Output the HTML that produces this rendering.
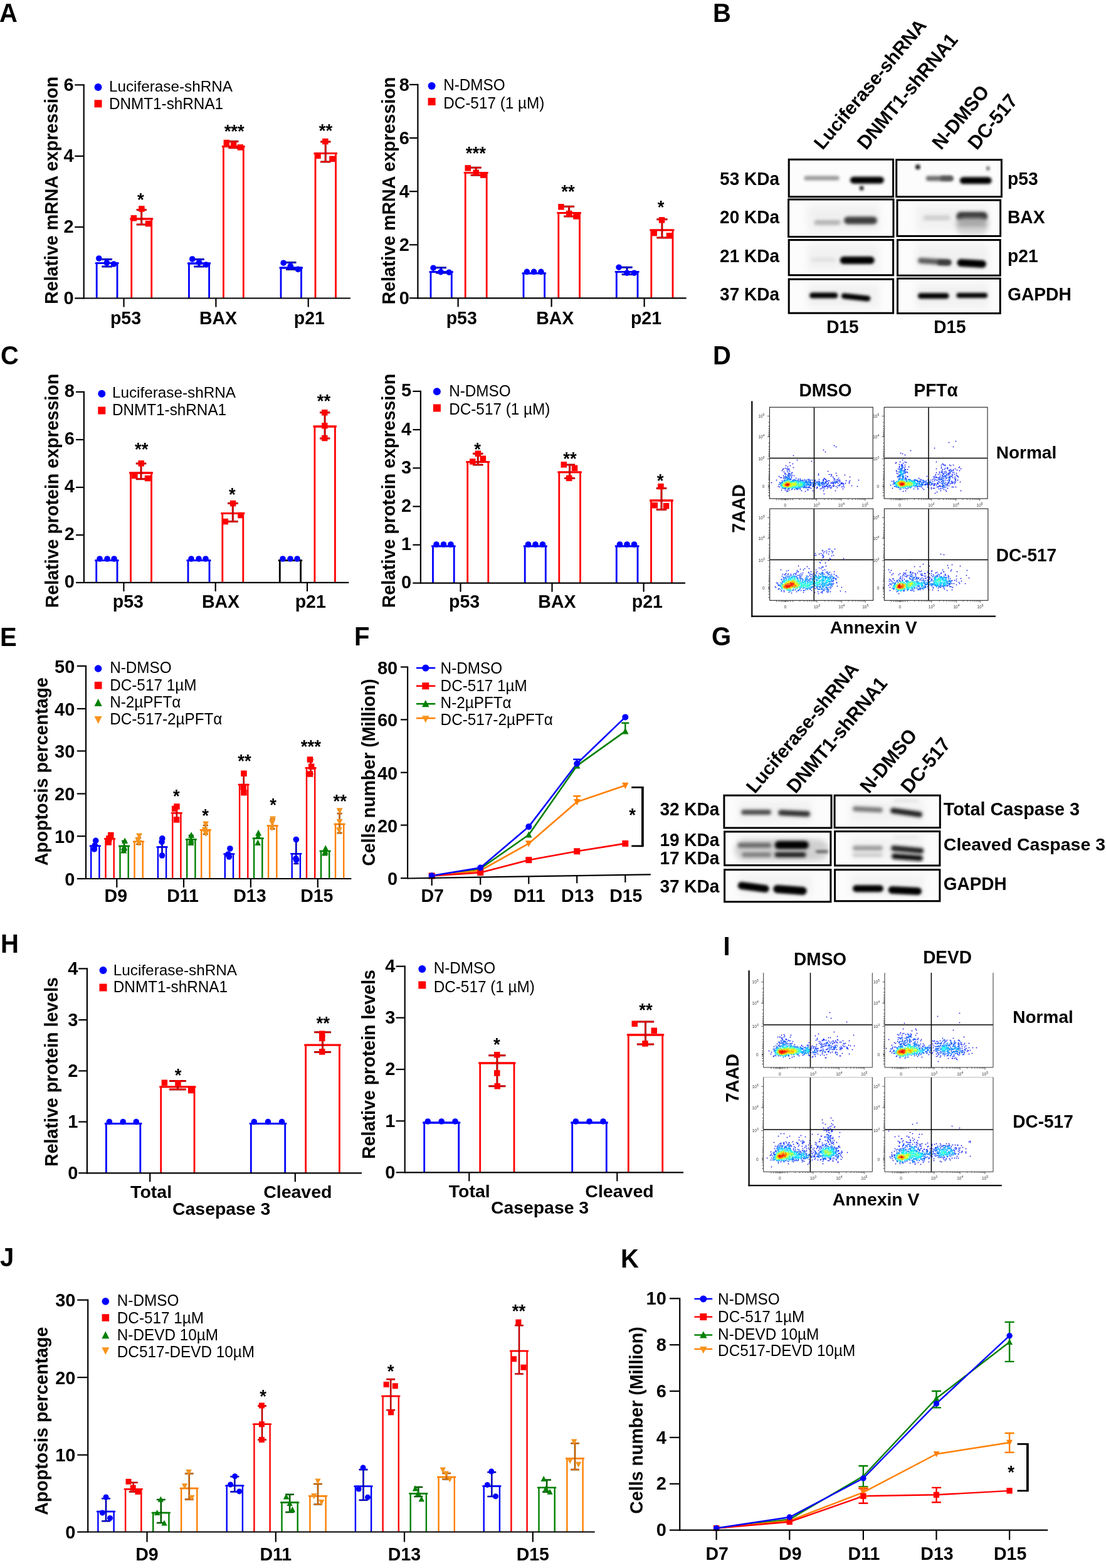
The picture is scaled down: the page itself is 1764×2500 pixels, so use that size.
<!DOCTYPE html>
<html><head><meta charset="utf-8"><title>Figure</title>
<style>html,body{margin:0;padding:0;background:#fff;}svg{display:block;}
text{font-family:'Liberation Sans',Arial,Helvetica,sans-serif;}</style></head><body>
<svg width="1764" height="2500" viewBox="0 0 1764 2500">
<rect width="1764" height="2500" fill="#fff"/>
<text font-size="40" font-weight="bold" transform="translate(-1 34.8) scale(1 1.04)">A</text>
<path d="M154.2 475.5V419.7H187V475.5" stroke="#0000ff" stroke-width="2.8" fill="none" stroke-linejoin="miter"/>
<path d="M151.7 419.7H189.5" stroke="#0000ff" stroke-width="2.8"/>
<path d="M209.7 475.5V349H241.7V475.5" stroke="#ff0000" stroke-width="2.8" fill="none" stroke-linejoin="miter"/>
<path d="M207.2 349H244.2" stroke="#ff0000" stroke-width="2.8"/>
<path d="M301.4 475.5V420H333.6V475.5" stroke="#0000ff" stroke-width="2.8" fill="none" stroke-linejoin="miter"/>
<path d="M298.9 420H336.1" stroke="#0000ff" stroke-width="2.8"/>
<path d="M356.4 475.5V233.6H388.3V475.5" stroke="#ff0000" stroke-width="2.8" fill="none" stroke-linejoin="miter"/>
<path d="M353.9 233.6H390.8" stroke="#ff0000" stroke-width="2.8"/>
<path d="M448 475.5V427H480.5V475.5" stroke="#0000ff" stroke-width="2.8" fill="none" stroke-linejoin="miter"/>
<path d="M445.5 427H483" stroke="#0000ff" stroke-width="2.8"/>
<path d="M503 475.5V244.7H535.5V475.5" stroke="#ff0000" stroke-width="2.8" fill="none" stroke-linejoin="miter"/>
<path d="M500.5 244.7H538" stroke="#ff0000" stroke-width="2.8"/>
<path d="M170.6 413.5V425M162.4 413.5H178.8M162.4 425H178.8" stroke="#00007a" stroke-width="3" fill="none"/>
<path d="M170.6 413.5V425M162.4 413.5H178.8M162.4 425H178.8" stroke="#0000ff" stroke-width="1.3" fill="none"/>
<circle cx="157.8" cy="412" r="4.8" fill="#0000ff"/>
<circle cx="170.3" cy="419" r="4.8" fill="#0000ff"/>
<circle cx="181.4" cy="421" r="4.8" fill="#0000ff"/>
<path d="M225.7 334.4V358M217.7 334.4H233.7M217.7 358H233.7" stroke="#8a0000" stroke-width="3" fill="none"/>
<path d="M225.7 334.4V358M217.7 334.4H233.7M217.7 358H233.7" stroke="#ff0000" stroke-width="1.3" fill="none"/>
<rect x="208.6" y="343.1" width="9.5" height="9.5" fill="#ff0000"/>
<rect x="221.1" y="328.2" width="9.5" height="9.5" fill="#ff0000"/>
<rect x="231.7" y="351.9" width="9.5" height="9.5" fill="#ff0000"/>
<path d="M317.5 413.5V425M309.4 413.5H325.6M309.4 425H325.6" stroke="#00007a" stroke-width="3" fill="none"/>
<path d="M317.5 413.5V425M309.4 413.5H325.6M309.4 425H325.6" stroke="#0000ff" stroke-width="1.3" fill="none"/>
<circle cx="306.7" cy="413" r="4.8" fill="#0000ff"/>
<circle cx="317.5" cy="418.3" r="4.8" fill="#0000ff"/>
<circle cx="328.6" cy="422" r="4.8" fill="#0000ff"/>
<path d="M372.4 225.6V235.8M364.4 225.6H380.3M364.4 235.8H380.3" stroke="#8a0000" stroke-width="3" fill="none"/>
<path d="M372.4 225.6V235.8M364.4 225.6H380.3M364.4 235.8H380.3" stroke="#ff0000" stroke-width="1.3" fill="none"/>
<rect x="356.6" y="222.8" width="9.5" height="9.5" fill="#ff0000"/>
<rect x="367.8" y="226.9" width="9.5" height="9.5" fill="#ff0000"/>
<rect x="378.6" y="230.2" width="9.5" height="9.5" fill="#ff0000"/>
<path d="M464.2 418.6V429.4M456.1 418.6H472.4M456.1 429.4H472.4" stroke="#00007a" stroke-width="3" fill="none"/>
<path d="M464.2 418.6V429.4M456.1 418.6H472.4M456.1 429.4H472.4" stroke="#0000ff" stroke-width="1.3" fill="none"/>
<circle cx="452.2" cy="419.2" r="4.8" fill="#0000ff"/>
<circle cx="463.3" cy="424.2" r="4.8" fill="#0000ff"/>
<circle cx="475.3" cy="429.4" r="4.8" fill="#0000ff"/>
<path d="M519.2 226.1V258M511.1 226.1H527.4M511.1 258H527.4" stroke="#8a0000" stroke-width="3" fill="none"/>
<path d="M519.2 226.1V258M511.1 226.1H527.4M511.1 258H527.4" stroke="#ff0000" stroke-width="1.3" fill="none"/>
<rect x="502.2" y="243.6" width="9.5" height="9.5" fill="#ff0000"/>
<rect x="514.1" y="220.8" width="9.5" height="9.5" fill="#ff0000"/>
<rect x="525.2" y="248.6" width="9.5" height="9.5" fill="#ff0000"/>
<line x1="133.7" y1="134.3" x2="133.7" y2="476.6" stroke="#000" stroke-width="2.2"/>
<line x1="119.2" y1="135.4" x2="133.7" y2="135.4" stroke="#000" stroke-width="2.2"/>
<text font-size="29" font-weight="bold" text-anchor="end" transform="translate(117.7 144.8) scale(1 1.04)">6</text>
<line x1="119.2" y1="248.9" x2="133.7" y2="248.9" stroke="#000" stroke-width="2.2"/>
<text font-size="29" font-weight="bold" text-anchor="end" transform="translate(117.7 258.3) scale(1 1.04)">4</text>
<line x1="119.2" y1="362" x2="133.7" y2="362" stroke="#000" stroke-width="2.2"/>
<text font-size="29" font-weight="bold" text-anchor="end" transform="translate(117.7 371.4) scale(1 1.04)">2</text>
<line x1="119.2" y1="475.5" x2="133.7" y2="475.5" stroke="#000" stroke-width="2.2"/>
<text font-size="29" font-weight="bold" text-anchor="end" transform="translate(117.7 484.9) scale(1 1.04)">0</text>
<line x1="133.7" y1="475.5" x2="559" y2="475.5" stroke="#000" stroke-width="2.2"/>
<line x1="197.5" y1="475.5" x2="197.5" y2="489.5" stroke="#000" stroke-width="2.2"/>
<line x1="344.4" y1="475.5" x2="344.4" y2="489.5" stroke="#000" stroke-width="2.2"/>
<line x1="491.7" y1="475.5" x2="491.7" y2="489.5" stroke="#000" stroke-width="2.2"/>
<text font-size="28.5" font-weight="bold" text-anchor="middle" transform="translate(200.5 516.8) scale(1 1.04)">p53</text>
<text font-size="28.5" font-weight="bold" text-anchor="middle" transform="translate(348 516.8) scale(1 1.04)">BAX</text>
<text font-size="28.5" font-weight="bold" text-anchor="middle" transform="translate(493.4 516.8) scale(1 1.04)">p21</text>
<text font-size="27.5" font-weight="bold" text-anchor="middle" transform="translate(224.4 328.1) scale(1 1.04)">*</text>
<text font-size="27.5" font-weight="bold" text-anchor="middle" transform="translate(373.7 218.8) scale(1 1.04)">***</text>
<text font-size="27.5" font-weight="bold" text-anchor="middle" transform="translate(519.5 218.1) scale(1 1.04)">**</text>
<circle cx="156.5" cy="139" r="6" fill="#0000ff"/>
<text font-size="24.3" transform="translate(173.9 145.7)">Luciferase-shRNA</text>
<rect x="150.5" y="159.3" width="12" height="12" fill="#ff0000"/>
<text font-size="24.3" transform="translate(173.9 173.9) scale(1 1.04)">DNMT1-shRNA1</text>
<text font-size="28.6" font-weight="bold" text-anchor="middle" transform="translate(91.5 303.5) rotate(-90)">Relative mRNA expression</text>
<path d="M687 475.3V433.6H720.3V475.3" stroke="#0000ff" stroke-width="2.8" fill="none" stroke-linejoin="miter"/>
<path d="M684.5 433.6H722.8" stroke="#0000ff" stroke-width="2.8"/>
<path d="M742.2 475.3V275.3H776.2V475.3" stroke="#ff0000" stroke-width="2.8" fill="none" stroke-linejoin="miter"/>
<path d="M739.7 275.3H778.7" stroke="#ff0000" stroke-width="2.8"/>
<path d="M835 475.3V435.8H868.6V475.3" stroke="#0000ff" stroke-width="2.8" fill="none" stroke-linejoin="miter"/>
<path d="M832.5 435.8H871.1" stroke="#0000ff" stroke-width="2.8"/>
<path d="M890.8 475.3V339.5H924.5V475.3" stroke="#ff0000" stroke-width="2.8" fill="none" stroke-linejoin="miter"/>
<path d="M888.3 339.5H927" stroke="#ff0000" stroke-width="2.8"/>
<path d="M983.3 475.3V433.3H1017V475.3" stroke="#0000ff" stroke-width="2.8" fill="none" stroke-linejoin="miter"/>
<path d="M980.8 433.3H1019.5" stroke="#0000ff" stroke-width="2.8"/>
<path d="M1038.8 475.3V366.8H1073V475.3" stroke="#ff0000" stroke-width="2.8" fill="none" stroke-linejoin="miter"/>
<path d="M1036.3 366.8H1075.5" stroke="#ff0000" stroke-width="2.8"/>
<path d="M703.6 426.8V434.9M695.3 426.8H712M695.3 434.9H712" stroke="#00007a" stroke-width="3" fill="none"/>
<path d="M703.6 426.8V434.9M695.3 426.8H712M695.3 434.9H712" stroke="#0000ff" stroke-width="1.3" fill="none"/>
<circle cx="691.1" cy="427.2" r="4.8" fill="#0000ff"/>
<circle cx="703" cy="433.6" r="4.8" fill="#0000ff"/>
<circle cx="716.2" cy="434.2" r="4.8" fill="#0000ff"/>
<path d="M759.2 267.3V279.2M750.7 267.3H767.7M750.7 279.2H767.7" stroke="#8a0000" stroke-width="3" fill="none"/>
<path d="M759.2 267.3V279.2M750.7 267.3H767.7M750.7 279.2H767.7" stroke="#ff0000" stroke-width="1.3" fill="none"/>
<rect x="741.5" y="263.2" width="9.5" height="9.5" fill="#ff0000"/>
<rect x="754.5" y="270.6" width="9.5" height="9.5" fill="#ff0000"/>
<rect x="766" y="274.4" width="9.5" height="9.5" fill="#ff0000"/>
<circle cx="840.4" cy="433.3" r="4.8" fill="#0000ff"/>
<circle cx="851.6" cy="433.3" r="4.8" fill="#0000ff"/>
<circle cx="862.9" cy="433.3" r="4.8" fill="#0000ff"/>
<path d="M907.6 329.3V345M899.2 329.3H916.1M899.2 345H916.1" stroke="#8a0000" stroke-width="3" fill="none"/>
<path d="M907.6 329.3V345M899.2 329.3H916.1M899.2 345H916.1" stroke="#ff0000" stroke-width="1.3" fill="none"/>
<rect x="890.2" y="325.1" width="9.5" height="9.5" fill="#ff0000"/>
<rect x="903" y="335.8" width="9.5" height="9.5" fill="#ff0000"/>
<rect x="914.2" y="340.2" width="9.5" height="9.5" fill="#ff0000"/>
<path d="M1000.1 426.2V437.4M991.7 426.2H1008.6M991.7 437.4H1008.6" stroke="#00007a" stroke-width="3" fill="none"/>
<path d="M1000.1 426.2V437.4M991.7 426.2H1008.6M991.7 437.4H1008.6" stroke="#0000ff" stroke-width="1.3" fill="none"/>
<circle cx="987.1" cy="426.2" r="4.8" fill="#0000ff"/>
<circle cx="999.9" cy="435.2" r="4.8" fill="#0000ff"/>
<circle cx="1011.5" cy="435.2" r="4.8" fill="#0000ff"/>
<path d="M1055.9 349.8V379M1047.4 349.8H1064.5M1047.4 379H1064.5" stroke="#8a0000" stroke-width="3" fill="none"/>
<path d="M1055.9 349.8V379M1047.4 349.8H1064.5M1047.4 379H1064.5" stroke="#ff0000" stroke-width="1.3" fill="none"/>
<rect x="1038.5" y="366.9" width="9.5" height="9.5" fill="#ff0000"/>
<rect x="1050.8" y="346.1" width="9.5" height="9.5" fill="#ff0000"/>
<rect x="1062.7" y="371.1" width="9.5" height="9.5" fill="#ff0000"/>
<line x1="666.4" y1="133.8" x2="666.4" y2="476.4" stroke="#000" stroke-width="2.2"/>
<line x1="653" y1="134.9" x2="666.4" y2="134.9" stroke="#000" stroke-width="2.2"/>
<text font-size="29" font-weight="bold" text-anchor="end" transform="translate(653 144.6) scale(1 1.04)">8</text>
<line x1="653" y1="220" x2="666.4" y2="220" stroke="#000" stroke-width="2.2"/>
<text font-size="29" font-weight="bold" text-anchor="end" transform="translate(653 229.7) scale(1 1.04)">6</text>
<line x1="653" y1="305.2" x2="666.4" y2="305.2" stroke="#000" stroke-width="2.2"/>
<text font-size="29" font-weight="bold" text-anchor="end" transform="translate(653 314.9) scale(1 1.04)">4</text>
<line x1="653" y1="390.3" x2="666.4" y2="390.3" stroke="#000" stroke-width="2.2"/>
<text font-size="29" font-weight="bold" text-anchor="end" transform="translate(653 400) scale(1 1.04)">2</text>
<line x1="653" y1="475.3" x2="666.4" y2="475.3" stroke="#000" stroke-width="2.2"/>
<text font-size="29" font-weight="bold" text-anchor="end" transform="translate(653 485) scale(1 1.04)">0</text>
<line x1="666.4" y1="475.3" x2="1094.6" y2="475.3" stroke="#000" stroke-width="2.2"/>
<line x1="730.6" y1="475.3" x2="730.6" y2="489.3" stroke="#000" stroke-width="2.2"/>
<line x1="879.6" y1="475.3" x2="879.6" y2="489.3" stroke="#000" stroke-width="2.2"/>
<line x1="1027.6" y1="475.3" x2="1027.6" y2="489.3" stroke="#000" stroke-width="2.2"/>
<text font-size="28.5" font-weight="bold" text-anchor="middle" transform="translate(736.2 516.8) scale(1 1.04)">p53</text>
<text font-size="28.5" font-weight="bold" text-anchor="middle" transform="translate(885.3 516.8) scale(1 1.04)">BAX</text>
<text font-size="28.5" font-weight="bold" text-anchor="middle" transform="translate(1030.5 516.8) scale(1 1.04)">p21</text>
<text font-size="27.5" font-weight="bold" text-anchor="middle" transform="translate(758.8 253.7) scale(1 1.04)">***</text>
<text font-size="27.5" font-weight="bold" text-anchor="middle" transform="translate(906 314.7) scale(1 1.04)">**</text>
<text font-size="27.5" font-weight="bold" text-anchor="middle" transform="translate(1054 340.1) scale(1 1.04)">*</text>
<circle cx="688.6" cy="137" r="6" fill="#0000ff"/>
<text font-size="24.3" transform="translate(707.2 143.9) scale(1 1.04)">N-DMSO</text>
<rect x="682.6" y="156" width="12" height="12" fill="#ff0000"/>
<text font-size="24.3" transform="translate(707.2 173) scale(1 1.04)">DC-517 (1 µM)</text>
<text font-size="28.6" font-weight="bold" text-anchor="middle" transform="translate(629.7 304.2) rotate(-90)">Relative mRNA expression</text>
<text font-size="40" font-weight="bold" transform="translate(1 580.5) scale(1 1.04)">C</text>
<path d="M153.7 928.9V893.7H187V928.9" stroke="#0000ff" stroke-width="2.8" fill="none" stroke-linejoin="miter"/>
<path d="M151.2 893.7H189.5" stroke="#0000ff" stroke-width="2.8"/>
<path d="M208.5 928.9V754H241.5V928.9" stroke="#ff0000" stroke-width="2.8" fill="none" stroke-linejoin="miter"/>
<path d="M206 754H244" stroke="#ff0000" stroke-width="2.8"/>
<path d="M300 928.9V893.7H334V928.9" stroke="#0000ff" stroke-width="2.8" fill="none" stroke-linejoin="miter"/>
<path d="M297.5 893.7H336.5" stroke="#0000ff" stroke-width="2.8"/>
<path d="M354.8 928.9V818.5H387.8V928.9" stroke="#ff0000" stroke-width="2.8" fill="none" stroke-linejoin="miter"/>
<path d="M352.3 818.5H390.3" stroke="#ff0000" stroke-width="2.8"/>
<path d="M446.3 928.9V893.7H479.6V928.9" stroke="#000000" stroke-width="2.8" fill="none" stroke-linejoin="miter"/>
<path d="M443.8 893.7H482.1" stroke="#000000" stroke-width="2.8"/>
<path d="M501.9 928.9V680H534.4V928.9" stroke="#ff0000" stroke-width="2.8" fill="none" stroke-linejoin="miter"/>
<path d="M499.4 680H536.9" stroke="#ff0000" stroke-width="2.8"/>
<circle cx="159" cy="891" r="4.8" fill="#0000ff"/>
<circle cx="171" cy="891" r="4.8" fill="#0000ff"/>
<circle cx="182" cy="891" r="4.8" fill="#0000ff"/>
<path d="M225 738.9V763.7M216.8 738.9H233.2M216.8 763.7H233.2" stroke="#8a0000" stroke-width="3" fill="none"/>
<path d="M225 738.9V763.7M216.8 738.9H233.2M216.8 763.7H233.2" stroke="#ff0000" stroke-width="1.3" fill="none"/>
<rect x="210.1" y="753.8" width="9.5" height="9.5" fill="#ff0000"/>
<rect x="220.4" y="734.1" width="9.5" height="9.5" fill="#ff0000"/>
<rect x="230.8" y="757.9" width="9.5" height="9.5" fill="#ff0000"/>
<circle cx="305" cy="891" r="4.8" fill="#0000ff"/>
<circle cx="317" cy="891" r="4.8" fill="#0000ff"/>
<circle cx="328" cy="891" r="4.8" fill="#0000ff"/>
<path d="M371.3 802.6V831.5M363.1 802.6H379.6M363.1 831.5H379.6" stroke="#8a0000" stroke-width="3" fill="none"/>
<path d="M371.3 802.6V831.5M363.1 802.6H379.6M363.1 831.5H379.6" stroke="#ff0000" stroke-width="1.3" fill="none"/>
<rect x="354.6" y="826.8" width="9.5" height="9.5" fill="#ff0000"/>
<rect x="366.8" y="797.9" width="9.5" height="9.5" fill="#ff0000"/>
<rect x="379.2" y="816.8" width="9.5" height="9.5" fill="#ff0000"/>
<circle cx="451" cy="891" r="4.8" fill="#0000ff"/>
<circle cx="463" cy="891" r="4.8" fill="#0000ff"/>
<circle cx="474" cy="891" r="4.8" fill="#0000ff"/>
<path d="M518.1 657.8V699M510 657.8H526.3M510 699H526.3" stroke="#8a0000" stroke-width="3" fill="none"/>
<path d="M518.1 657.8V699M510 657.8H526.3M510 699H526.3" stroke="#ff0000" stroke-width="1.3" fill="none"/>
<rect x="513" y="653" width="9.5" height="9.5" fill="#ff0000"/>
<rect x="513" y="674.1" width="9.5" height="9.5" fill="#ff0000"/>
<rect x="513" y="693.8" width="9.5" height="9.5" fill="#ff0000"/>
<line x1="133.9" y1="623.8" x2="133.9" y2="930" stroke="#000" stroke-width="2.2"/>
<line x1="121.1" y1="624.9" x2="133.9" y2="624.9" stroke="#000" stroke-width="2.2"/>
<text font-size="29" font-weight="bold" text-anchor="end" transform="translate(118.9 633.1) scale(1 1.04)">8</text>
<line x1="121.1" y1="701" x2="133.9" y2="701" stroke="#000" stroke-width="2.2"/>
<text font-size="29" font-weight="bold" text-anchor="end" transform="translate(118.9 709.2) scale(1 1.04)">6</text>
<line x1="121.1" y1="777" x2="133.9" y2="777" stroke="#000" stroke-width="2.2"/>
<text font-size="29" font-weight="bold" text-anchor="end" transform="translate(118.9 785.2) scale(1 1.04)">4</text>
<line x1="121.1" y1="853" x2="133.9" y2="853" stroke="#000" stroke-width="2.2"/>
<text font-size="29" font-weight="bold" text-anchor="end" transform="translate(118.9 861.2) scale(1 1.04)">2</text>
<line x1="121.1" y1="928.9" x2="133.9" y2="928.9" stroke="#000" stroke-width="2.2"/>
<text font-size="29" font-weight="bold" text-anchor="end" transform="translate(118.9 937.1) scale(1 1.04)">0</text>
<line x1="133.9" y1="928.9" x2="556.3" y2="928.9" stroke="#000" stroke-width="2.2"/>
<line x1="197.4" y1="928.9" x2="197.4" y2="942.9" stroke="#000" stroke-width="2.2"/>
<line x1="343.7" y1="928.9" x2="343.7" y2="942.9" stroke="#000" stroke-width="2.2"/>
<line x1="490" y1="928.9" x2="490" y2="942.9" stroke="#000" stroke-width="2.2"/>
<text font-size="28.5" font-weight="bold" text-anchor="middle" transform="translate(204.3 968.8) scale(1 1.04)">p53</text>
<text font-size="28.5" font-weight="bold" text-anchor="middle" transform="translate(352 968.8) scale(1 1.04)">BAX</text>
<text font-size="28.5" font-weight="bold" text-anchor="middle" transform="translate(495.2 968.8) scale(1 1.04)">p21</text>
<text font-size="27.5" font-weight="bold" text-anchor="middle" transform="translate(225.8 726.1) scale(1 1.04)">**</text>
<text font-size="27.5" font-weight="bold" text-anchor="middle" transform="translate(370.4 798.4) scale(1 1.04)">*</text>
<text font-size="27.5" font-weight="bold" text-anchor="middle" transform="translate(516.4 649.1) scale(1 1.04)">**</text>
<circle cx="162.3" cy="627.8" r="6" fill="#0000ff"/>
<text font-size="24.3" transform="translate(178.9 634.4)">Luciferase-shRNA</text>
<rect x="156.3" y="648.5" width="12" height="12" fill="#ff0000"/>
<text font-size="24.3" transform="translate(178.9 662.2) scale(1 1.04)">DNMT1-shRNA1</text>
<text font-size="28.6" font-weight="bold" text-anchor="middle" transform="translate(92.5 782.5) rotate(-90)">Relative protein expression</text>
<path d="M690.5 929.6V870.9H724.2V929.6" stroke="#0000ff" stroke-width="2.8" fill="none" stroke-linejoin="miter"/>
<path d="M688 870.9H726.7" stroke="#0000ff" stroke-width="2.8"/>
<path d="M745.7 929.6V736.7H778.8V929.6" stroke="#ff0000" stroke-width="2.8" fill="none" stroke-linejoin="miter"/>
<path d="M743.2 736.7H781.3" stroke="#ff0000" stroke-width="2.8"/>
<path d="M837.2 929.6V870.9H870.3V929.6" stroke="#0000ff" stroke-width="2.8" fill="none" stroke-linejoin="miter"/>
<path d="M834.7 870.9H872.8" stroke="#0000ff" stroke-width="2.8"/>
<path d="M891.8 929.6V752.8H925.5V929.6" stroke="#ff0000" stroke-width="2.8" fill="none" stroke-linejoin="miter"/>
<path d="M889.3 752.8H928" stroke="#ff0000" stroke-width="2.8"/>
<path d="M983.3 929.6V870.9H1017V929.6" stroke="#0000ff" stroke-width="2.8" fill="none" stroke-linejoin="miter"/>
<path d="M980.8 870.9H1019.5" stroke="#0000ff" stroke-width="2.8"/>
<path d="M1038.5 929.6V798H1071.5V929.6" stroke="#ff0000" stroke-width="2.8" fill="none" stroke-linejoin="miter"/>
<path d="M1036 798H1074" stroke="#ff0000" stroke-width="2.8"/>
<circle cx="696" cy="868" r="4.8" fill="#0000ff"/>
<circle cx="707.5" cy="868" r="4.8" fill="#0000ff"/>
<circle cx="719" cy="868" r="4.8" fill="#0000ff"/>
<path d="M762.2 723.2V740.9M754 723.2H770.5M754 740.9H770.5" stroke="#8a0000" stroke-width="3" fill="none"/>
<path d="M762.2 723.2V740.9M754 723.2H770.5M754 740.9H770.5" stroke="#ff0000" stroke-width="1.3" fill="none"/>
<rect x="749" y="731.2" width="9.5" height="9.5" fill="#ff0000"/>
<rect x="757.6" y="718.5" width="9.5" height="9.5" fill="#ff0000"/>
<rect x="765.6" y="726.5" width="9.5" height="9.5" fill="#ff0000"/>
<circle cx="842.5" cy="868" r="4.8" fill="#0000ff"/>
<circle cx="854" cy="868" r="4.8" fill="#0000ff"/>
<circle cx="865.5" cy="868" r="4.8" fill="#0000ff"/>
<path d="M908.6 740.9V762.4M900.2 740.9H917.1M900.2 762.4H917.1" stroke="#8a0000" stroke-width="3" fill="none"/>
<path d="M908.6 740.9V762.4M900.2 740.9H917.1M900.2 762.4H917.1" stroke="#ff0000" stroke-width="1.3" fill="none"/>
<rect x="894.5" y="736.1" width="9.5" height="9.5" fill="#ff0000"/>
<rect x="911.8" y="741.5" width="9.5" height="9.5" fill="#ff0000"/>
<rect x="903" y="757.6" width="9.5" height="9.5" fill="#ff0000"/>
<circle cx="988.5" cy="868" r="4.8" fill="#0000ff"/>
<circle cx="1000" cy="868" r="4.8" fill="#0000ff"/>
<circle cx="1011.5" cy="868" r="4.8" fill="#0000ff"/>
<path d="M1055 778.4V812.5M1046.8 778.4H1063.2M1046.8 812.5H1063.2" stroke="#8a0000" stroke-width="3" fill="none"/>
<path d="M1055 778.4V812.5M1046.8 778.4H1063.2M1046.8 812.5H1063.2" stroke="#ff0000" stroke-width="1.3" fill="none"/>
<rect x="1049.2" y="770.9" width="9.5" height="9.5" fill="#ff0000"/>
<rect x="1039.5" y="801" width="9.5" height="9.5" fill="#ff0000"/>
<rect x="1057.8" y="802" width="9.5" height="9.5" fill="#ff0000"/>
<line x1="670.9" y1="622.8" x2="670.9" y2="930.7" stroke="#000" stroke-width="2.2"/>
<line x1="658.4" y1="623.9" x2="670.9" y2="623.9" stroke="#000" stroke-width="2.2"/>
<text font-size="29" font-weight="bold" text-anchor="end" transform="translate(656.2 632.3) scale(1 1.04)">5</text>
<line x1="658.4" y1="685.1" x2="670.9" y2="685.1" stroke="#000" stroke-width="2.2"/>
<text font-size="29" font-weight="bold" text-anchor="end" transform="translate(656.2 693.5) scale(1 1.04)">4</text>
<line x1="658.4" y1="746.3" x2="670.9" y2="746.3" stroke="#000" stroke-width="2.2"/>
<text font-size="29" font-weight="bold" text-anchor="end" transform="translate(656.2 754.7) scale(1 1.04)">3</text>
<line x1="658.4" y1="807.5" x2="670.9" y2="807.5" stroke="#000" stroke-width="2.2"/>
<text font-size="29" font-weight="bold" text-anchor="end" transform="translate(656.2 815.9) scale(1 1.04)">2</text>
<line x1="658.4" y1="868.7" x2="670.9" y2="868.7" stroke="#000" stroke-width="2.2"/>
<text font-size="29" font-weight="bold" text-anchor="end" transform="translate(656.2 877.1) scale(1 1.04)">1</text>
<line x1="658.4" y1="929.6" x2="670.9" y2="929.6" stroke="#000" stroke-width="2.2"/>
<text font-size="29" font-weight="bold" text-anchor="end" transform="translate(656.2 938) scale(1 1.04)">0</text>
<line x1="670.9" y1="929.6" x2="1093" y2="929.6" stroke="#000" stroke-width="2.2"/>
<line x1="734.5" y1="929.6" x2="734.5" y2="943.6" stroke="#000" stroke-width="2.2"/>
<line x1="880.5" y1="929.6" x2="880.5" y2="943.6" stroke="#000" stroke-width="2.2"/>
<line x1="1026.6" y1="929.6" x2="1026.6" y2="943.6" stroke="#000" stroke-width="2.2"/>
<text font-size="28.5" font-weight="bold" text-anchor="middle" transform="translate(740.6 968.7) scale(1 1.04)">p53</text>
<text font-size="28.5" font-weight="bold" text-anchor="middle" transform="translate(888.4 968.7) scale(1 1.04)">BAX</text>
<text font-size="28.5" font-weight="bold" text-anchor="middle" transform="translate(1032.3 968.7) scale(1 1.04)">p21</text>
<text font-size="27.5" font-weight="bold" text-anchor="middle" transform="translate(761.7 725.7) scale(1 1.04)">*</text>
<text font-size="27.5" font-weight="bold" text-anchor="middle" transform="translate(909 740.8) scale(1 1.04)">**</text>
<text font-size="27.5" font-weight="bold" text-anchor="middle" transform="translate(1053.2 775.5) scale(1 1.04)">*</text>
<circle cx="696.9" cy="624.3" r="6" fill="#0000ff"/>
<text font-size="24.3" transform="translate(716.2 631.7) scale(1 1.04)">N-DMSO</text>
<rect x="690.9" y="644.5" width="12" height="12" fill="#ff0000"/>
<text font-size="24.3" transform="translate(716.2 661.3) scale(1 1.04)">DC-517 (1 µM)</text>
<text font-size="28.6" font-weight="bold" text-anchor="middle" transform="translate(630.4 782.6) rotate(-90)">Relative protein expression</text>
<text font-size="40" font-weight="bold" transform="translate(1 1519.4) scale(1 1.04)">H</text>
<path d="M169.4 1870.3V1791.5H223.8V1870.3" stroke="#0000ff" stroke-width="2.8" fill="none" stroke-linejoin="miter"/>
<path d="M166.9 1791.5H226.3" stroke="#0000ff" stroke-width="2.8"/>
<path d="M256.7 1870.3V1732.8H310V1870.3" stroke="#ff0000" stroke-width="2.8" fill="none" stroke-linejoin="miter"/>
<path d="M254.2 1732.8H312.5" stroke="#ff0000" stroke-width="2.8"/>
<path d="M400.3 1870.3V1791.5H454.7V1870.3" stroke="#0000ff" stroke-width="2.8" fill="none" stroke-linejoin="miter"/>
<path d="M397.8 1791.5H457.2" stroke="#0000ff" stroke-width="2.8"/>
<path d="M487.6 1870.3V1666.2H541.4V1870.3" stroke="#ff0000" stroke-width="2.8" fill="none" stroke-linejoin="miter"/>
<path d="M485.1 1666.2H543.9" stroke="#ff0000" stroke-width="2.8"/>
<circle cx="174.4" cy="1788.6" r="4.8" fill="#0000ff"/>
<circle cx="196.2" cy="1788.6" r="4.8" fill="#0000ff"/>
<circle cx="217.3" cy="1788.6" r="4.8" fill="#0000ff"/>
<path d="M283.4 1723.5V1737M270 1723.5H296.7M270 1737H296.7" stroke="#8a0000" stroke-width="3" fill="none"/>
<path d="M283.4 1723.5V1737M270 1723.5H296.7M270 1737H296.7" stroke="#ff0000" stroke-width="1.3" fill="none"/>
<rect x="257.6" y="1721.5" width="9.5" height="9.5" fill="#ff0000"/>
<rect x="279.2" y="1722.2" width="9.5" height="9.5" fill="#ff0000"/>
<rect x="299.9" y="1733.8" width="9.5" height="9.5" fill="#ff0000"/>
<circle cx="405.3" cy="1788.6" r="4.8" fill="#0000ff"/>
<circle cx="427.5" cy="1788.6" r="4.8" fill="#0000ff"/>
<circle cx="449.5" cy="1788.6" r="4.8" fill="#0000ff"/>
<path d="M514.5 1645.8V1677.6M501.1 1645.8H528M501.1 1677.6H528" stroke="#8a0000" stroke-width="3" fill="none"/>
<path d="M514.5 1645.8V1677.6M501.1 1645.8H528M501.1 1677.6H528" stroke="#ff0000" stroke-width="1.3" fill="none"/>
<rect x="509" y="1643.5" width="9.5" height="9.5" fill="#ff0000"/>
<rect x="509" y="1650.7" width="9.5" height="9.5" fill="#ff0000"/>
<rect x="509" y="1672.2" width="9.5" height="9.5" fill="#ff0000"/>
<line x1="138.9" y1="1543.3" x2="138.9" y2="1871.4" stroke="#000" stroke-width="2.2"/>
<line x1="125.2" y1="1544.4" x2="138.9" y2="1544.4" stroke="#000" stroke-width="2.2"/>
<text font-size="29" font-weight="bold" text-anchor="end" transform="translate(124.3 1553.8) scale(1 1.04)">4</text>
<line x1="125.2" y1="1626.1" x2="138.9" y2="1626.1" stroke="#000" stroke-width="2.2"/>
<text font-size="29" font-weight="bold" text-anchor="end" transform="translate(124.3 1635.5) scale(1 1.04)">3</text>
<line x1="125.2" y1="1707.4" x2="138.9" y2="1707.4" stroke="#000" stroke-width="2.2"/>
<text font-size="29" font-weight="bold" text-anchor="end" transform="translate(124.3 1716.8) scale(1 1.04)">2</text>
<line x1="125.2" y1="1788.6" x2="138.9" y2="1788.6" stroke="#000" stroke-width="2.2"/>
<text font-size="29" font-weight="bold" text-anchor="end" transform="translate(124.3 1798) scale(1 1.04)">1</text>
<line x1="125.2" y1="1870.3" x2="138.9" y2="1870.3" stroke="#000" stroke-width="2.2"/>
<text font-size="29" font-weight="bold" text-anchor="end" transform="translate(124.3 1879.7) scale(1 1.04)">0</text>
<line x1="138.9" y1="1870.3" x2="577" y2="1870.3" stroke="#000" stroke-width="2.2"/>
<line x1="239.2" y1="1870.3" x2="239.2" y2="1884.3" stroke="#000" stroke-width="2.2"/>
<line x1="470.8" y1="1870.3" x2="470.8" y2="1884.3" stroke="#000" stroke-width="2.2"/>
<text font-size="28.5" font-weight="bold" text-anchor="middle" transform="translate(241.1 1910)">Total</text>
<text font-size="28.5" font-weight="bold" text-anchor="middle" transform="translate(474.8 1910)">Cleaved</text>
<text font-size="27.5" font-weight="bold" text-anchor="middle" transform="translate(284 1724.1) scale(1 1.04)">*</text>
<text font-size="27.5" font-weight="bold" text-anchor="middle" transform="translate(515.2 1640.7) scale(1 1.04)">**</text>
<circle cx="164.5" cy="1547" r="6" fill="#0000ff"/>
<text font-size="24.3" transform="translate(180.8 1554.5)">Luciferase-shRNA</text>
<rect x="158.5" y="1568.5" width="12" height="12" fill="#ff0000"/>
<text font-size="24.3" transform="translate(180.8 1582) scale(1 1.04)">DNMT1-shRNA1</text>
<text font-size="28.6" font-weight="bold" text-anchor="middle" transform="translate(92 1709) rotate(-90)">Relative protein levels</text>
<text font-size="28.4" font-weight="bold" text-anchor="middle" transform="translate(353.2 1937.1)">Casepase 3</text>
<path d="M676.7 1869.3V1790H731.7V1869.3" stroke="#0000ff" stroke-width="2.8" fill="none" stroke-linejoin="miter"/>
<path d="M674.2 1790H734.2" stroke="#0000ff" stroke-width="2.8"/>
<path d="M765.7 1869.3V1695H820V1869.3" stroke="#ff0000" stroke-width="2.8" fill="none" stroke-linejoin="miter"/>
<path d="M763.2 1695H822.5" stroke="#ff0000" stroke-width="2.8"/>
<path d="M912.7 1869.3V1790H967.3V1869.3" stroke="#0000ff" stroke-width="2.8" fill="none" stroke-linejoin="miter"/>
<path d="M910.2 1790H969.8" stroke="#0000ff" stroke-width="2.8"/>
<path d="M1002.3 1869.3V1650H1056.7V1869.3" stroke="#ff0000" stroke-width="2.8" fill="none" stroke-linejoin="miter"/>
<path d="M999.8 1650H1059.2" stroke="#ff0000" stroke-width="2.8"/>
<circle cx="682.3" cy="1788" r="4.8" fill="#0000ff"/>
<circle cx="704.2" cy="1788" r="4.8" fill="#0000ff"/>
<circle cx="726" cy="1788" r="4.8" fill="#0000ff"/>
<path d="M792.9 1682.7V1731.7M779.3 1682.7H806.4M779.3 1731.7H806.4" stroke="#8a0000" stroke-width="3" fill="none"/>
<path d="M792.9 1682.7V1731.7M779.3 1682.7H806.4M779.3 1731.7H806.4" stroke="#ff0000" stroke-width="1.3" fill="none"/>
<rect x="788" y="1677" width="9.5" height="9.5" fill="#ff0000"/>
<rect x="788" y="1706.2" width="9.5" height="9.5" fill="#ff0000"/>
<rect x="788.5" y="1727" width="9.5" height="9.5" fill="#ff0000"/>
<circle cx="918.3" cy="1788" r="4.8" fill="#0000ff"/>
<circle cx="940" cy="1788" r="4.8" fill="#0000ff"/>
<circle cx="962" cy="1788" r="4.8" fill="#0000ff"/>
<path d="M1029.5 1629V1665M1015.9 1629H1043.1M1015.9 1665H1043.1" stroke="#8a0000" stroke-width="3" fill="none"/>
<path d="M1029.5 1629V1665M1015.9 1629H1043.1M1015.9 1665H1043.1" stroke="#ff0000" stroke-width="1.3" fill="none"/>
<rect x="1007.5" y="1627.5" width="9.5" height="9.5" fill="#ff0000"/>
<rect x="1024.2" y="1659.2" width="9.5" height="9.5" fill="#ff0000"/>
<rect x="1038.5" y="1638.5" width="9.5" height="9.5" fill="#ff0000"/>
<line x1="645.7" y1="1539.6" x2="645.7" y2="1870.4" stroke="#000" stroke-width="2.2"/>
<line x1="631.6" y1="1540.7" x2="645.7" y2="1540.7" stroke="#000" stroke-width="2.2"/>
<text font-size="29" font-weight="bold" text-anchor="end" transform="translate(630.5 1549.9) scale(1 1.04)">4</text>
<line x1="631.6" y1="1622.7" x2="645.7" y2="1622.7" stroke="#000" stroke-width="2.2"/>
<text font-size="29" font-weight="bold" text-anchor="end" transform="translate(630.5 1631.9) scale(1 1.04)">3</text>
<line x1="631.6" y1="1705" x2="645.7" y2="1705" stroke="#000" stroke-width="2.2"/>
<text font-size="29" font-weight="bold" text-anchor="end" transform="translate(630.5 1714.2) scale(1 1.04)">2</text>
<line x1="631.6" y1="1787.3" x2="645.7" y2="1787.3" stroke="#000" stroke-width="2.2"/>
<text font-size="29" font-weight="bold" text-anchor="end" transform="translate(630.5 1796.5) scale(1 1.04)">1</text>
<line x1="631.6" y1="1869.3" x2="645.7" y2="1869.3" stroke="#000" stroke-width="2.2"/>
<text font-size="29" font-weight="bold" text-anchor="end" transform="translate(630.5 1878.5) scale(1 1.04)">0</text>
<line x1="645.7" y1="1869.3" x2="1090" y2="1869.3" stroke="#000" stroke-width="2.2"/>
<line x1="748.3" y1="1869.3" x2="748.3" y2="1883.3" stroke="#000" stroke-width="2.2"/>
<line x1="984.3" y1="1869.3" x2="984.3" y2="1883.3" stroke="#000" stroke-width="2.2"/>
<text font-size="28.5" font-weight="bold" text-anchor="middle" transform="translate(748.8 1909.3)">Total</text>
<text font-size="28.5" font-weight="bold" text-anchor="middle" transform="translate(988 1909.3)">Cleaved</text>
<text font-size="27.5" font-weight="bold" text-anchor="middle" transform="translate(792.3 1675.4) scale(1 1.04)">*</text>
<text font-size="27.5" font-weight="bold" text-anchor="middle" transform="translate(1030 1620.4) scale(1 1.04)">**</text>
<circle cx="673.3" cy="1545" r="6" fill="#0000ff"/>
<text font-size="24.3" transform="translate(691.7 1551.7) scale(1 1.04)">N-DMSO</text>
<rect x="667.3" y="1564.5" width="12" height="12" fill="#ff0000"/>
<text font-size="24.3" transform="translate(691.7 1581.7) scale(1 1.04)">DC-517 (1 µM)</text>
<text font-size="28.6" font-weight="bold" text-anchor="middle" transform="translate(598 1697) rotate(-90)">Relative protein levels</text>
<text font-size="28.4" font-weight="bold" text-anchor="middle" transform="translate(861 1934.6)">Casepase 3</text>
<text font-size="40" font-weight="bold" transform="translate(0 1029.7) scale(1 1.04)">E</text>
<path d="M145.2 1401V1348.8H158.4V1401" stroke="#0000ff" stroke-width="2.4" fill="none" stroke-linejoin="miter"/>
<path d="M142.7 1348.8H160.9" stroke="#0000ff" stroke-width="2.4"/>
<path d="M168.5 1401V1337.4H181.7V1401" stroke="#ff0000" stroke-width="2.4" fill="none" stroke-linejoin="miter"/>
<path d="M166 1337.4H184.2" stroke="#ff0000" stroke-width="2.4"/>
<path d="M191.5 1401V1349H204.7V1401" stroke="#008000" stroke-width="2.4" fill="none" stroke-linejoin="miter"/>
<path d="M189 1349H207.2" stroke="#008000" stroke-width="2.4"/>
<path d="M214.5 1401V1341.9H227.7V1401" stroke="#ff8000" stroke-width="2.4" fill="none" stroke-linejoin="miter"/>
<path d="M212 1341.9H230.2" stroke="#ff8000" stroke-width="2.4"/>
<path d="M251.9 1401V1350.5H265.1V1401" stroke="#0000ff" stroke-width="2.4" fill="none" stroke-linejoin="miter"/>
<path d="M249.4 1350.5H267.6" stroke="#0000ff" stroke-width="2.4"/>
<path d="M275.2 1401V1296.2H288.4V1401" stroke="#ff0000" stroke-width="2.4" fill="none" stroke-linejoin="miter"/>
<path d="M272.7 1296.2H290.9" stroke="#ff0000" stroke-width="2.4"/>
<path d="M298.2 1401V1338.5H311.4V1401" stroke="#008000" stroke-width="2.4" fill="none" stroke-linejoin="miter"/>
<path d="M295.7 1338.5H313.9" stroke="#008000" stroke-width="2.4"/>
<path d="M321.2 1401V1323.3H334.4V1401" stroke="#ff8000" stroke-width="2.4" fill="none" stroke-linejoin="miter"/>
<path d="M318.7 1323.3H336.9" stroke="#ff8000" stroke-width="2.4"/>
<path d="M358.8 1401V1361.6H372V1401" stroke="#0000ff" stroke-width="2.4" fill="none" stroke-linejoin="miter"/>
<path d="M356.3 1361.6H374.5" stroke="#0000ff" stroke-width="2.4"/>
<path d="M382.1 1401V1251H395.3V1401" stroke="#ff0000" stroke-width="2.4" fill="none" stroke-linejoin="miter"/>
<path d="M379.6 1251H397.8" stroke="#ff0000" stroke-width="2.4"/>
<path d="M405.1 1401V1336.7H418.3V1401" stroke="#008000" stroke-width="2.4" fill="none" stroke-linejoin="miter"/>
<path d="M402.6 1336.7H420.8" stroke="#008000" stroke-width="2.4"/>
<path d="M428.1 1401V1316.6H441.3V1401" stroke="#ff8000" stroke-width="2.4" fill="none" stroke-linejoin="miter"/>
<path d="M425.6 1316.6H443.8" stroke="#ff8000" stroke-width="2.4"/>
<path d="M465.7 1401V1361.2H478.9V1401" stroke="#0000ff" stroke-width="2.4" fill="none" stroke-linejoin="miter"/>
<path d="M463.2 1361.2H481.4" stroke="#0000ff" stroke-width="2.4"/>
<path d="M489 1401V1224.4H502.2V1401" stroke="#ff0000" stroke-width="2.4" fill="none" stroke-linejoin="miter"/>
<path d="M486.5 1224.4H504.7" stroke="#ff0000" stroke-width="2.4"/>
<path d="M512 1401V1357H525.2V1401" stroke="#008000" stroke-width="2.4" fill="none" stroke-linejoin="miter"/>
<path d="M509.5 1357H527.7" stroke="#008000" stroke-width="2.4"/>
<path d="M535 1401V1314H548.2V1401" stroke="#ff8000" stroke-width="2.4" fill="none" stroke-linejoin="miter"/>
<path d="M532.5 1314H550.7" stroke="#ff8000" stroke-width="2.4"/>
<circle cx="152.7" cy="1340.3" r="4.8" fill="#0000ff"/>
<circle cx="151.3" cy="1347.8" r="4.8" fill="#0000ff"/>
<circle cx="150.4" cy="1353.9" r="4.8" fill="#0000ff"/>
<rect x="172" y="1326.8" width="9.5" height="9.5" fill="#ff0000"/>
<rect x="169.1" y="1332.2" width="9.5" height="9.5" fill="#ff0000"/>
<rect x="168.4" y="1338.2" width="9.5" height="9.5" fill="#ff0000"/>
<path d="M198.1 1341V1356M194.1 1341H202.1M194.1 1356H202.1" stroke="#003a00" stroke-width="2.6" fill="none"/>
<path d="M198.1 1341V1356M194.1 1341H202.1M194.1 1356H202.1" stroke="#008000" stroke-width="1.1" fill="none"/>
<polygon points="199.1,1335.4 204.1,1345.1 194.1,1345.1" fill="#008000"/>
<polygon points="198,1345.2 203,1354.9 193,1354.9" fill="#008000"/>
<polygon points="197.3,1350.7 202.3,1360.4 192.3,1360.4" fill="#008000"/>
<path d="M221.1 1336V1346M217.1 1336H225.1M217.1 1346H225.1" stroke="#7a3c00" stroke-width="2.6" fill="none"/>
<path d="M221.1 1336V1346M217.1 1336H225.1M217.1 1346H225.1" stroke="#ff8000" stroke-width="1.1" fill="none"/>
<polygon points="217.1,1328.4 227.1,1328.4 222.1,1338.1" fill="#f39420"/>
<polygon points="215,1335.2 225,1335.2 220,1344.9" fill="#f39420"/>
<polygon points="216.6,1339.6 226.6,1339.6 221.6,1349.3" fill="#f39420"/>
<path d="M258.5 1336.2V1364M254.5 1336.2H262.5M254.5 1364H262.5" stroke="#00007a" stroke-width="2.6" fill="none"/>
<path d="M258.5 1336.2V1364M254.5 1336.2H262.5M254.5 1364H262.5" stroke="#0000ff" stroke-width="1.1" fill="none"/>
<circle cx="258.8" cy="1336.9" r="4.8" fill="#0000ff"/>
<circle cx="258.1" cy="1342.3" r="4.8" fill="#0000ff"/>
<circle cx="258.5" cy="1364" r="4.8" fill="#0000ff"/>
<path d="M281.8 1286V1307M277.8 1286H285.8M277.8 1307H285.8" stroke="#8a0000" stroke-width="2.6" fill="none"/>
<path d="M281.8 1286V1307M277.8 1286H285.8M277.8 1307H285.8" stroke="#ff0000" stroke-width="1.1" fill="none"/>
<rect x="277.2" y="1281.2" width="9.5" height="9.5" fill="#ff0000"/>
<rect x="273.9" y="1284.7" width="9.5" height="9.5" fill="#ff0000"/>
<rect x="276.9" y="1302.2" width="9.5" height="9.5" fill="#ff0000"/>
<path d="M304.8 1332V1345M300.8 1332H308.8M300.8 1345H308.8" stroke="#003a00" stroke-width="2.6" fill="none"/>
<path d="M304.8 1332V1345M300.8 1332H308.8M300.8 1345H308.8" stroke="#008000" stroke-width="1.1" fill="none"/>
<polygon points="305.1,1326.2 310.1,1335.9 300.1,1335.9" fill="#008000"/>
<polygon points="304.4,1338.4 309.4,1348.1 299.4,1348.1" fill="#008000"/>
<polygon points="304.8,1333.7 309.8,1343.4 299.8,1343.4" fill="#008000"/>
<path d="M327.8 1316V1330M323.8 1316H331.8M323.8 1330H331.8" stroke="#7a3c00" stroke-width="2.6" fill="none"/>
<path d="M327.8 1316V1330M323.8 1316H331.8M323.8 1330H331.8" stroke="#ff8000" stroke-width="1.1" fill="none"/>
<polygon points="323.1,1309.4 333.1,1309.4 328.1,1319.1" fill="#f39420"/>
<polygon points="321.7,1318.9 331.7,1318.9 326.7,1328.6" fill="#f39420"/>
<polygon points="323.3,1324.6 333.3,1324.6 328.3,1334.3" fill="#f39420"/>
<circle cx="366.9" cy="1353" r="4.8" fill="#0000ff"/>
<circle cx="363.9" cy="1362" r="4.8" fill="#0000ff"/>
<circle cx="365.4" cy="1366" r="4.8" fill="#0000ff"/>
<path d="M388.7 1233.3V1264M384.7 1233.3H392.7M384.7 1264H392.7" stroke="#8a0000" stroke-width="2.6" fill="none"/>
<path d="M388.7 1233.3V1264M384.7 1233.3H392.7M384.7 1264H392.7" stroke="#ff0000" stroke-width="1.1" fill="none"/>
<rect x="384.2" y="1228.5" width="9.5" height="9.5" fill="#ff0000"/>
<rect x="383.4" y="1250" width="9.5" height="9.5" fill="#ff0000"/>
<rect x="384.2" y="1259" width="9.5" height="9.5" fill="#ff0000"/>
<polygon points="412.1,1322.8 417.1,1332.5 407.1,1332.5" fill="#008000"/>
<polygon points="411.7,1328 416.7,1337.7 406.7,1337.7" fill="#008000"/>
<polygon points="411.2,1338.4 416.2,1348.1 406.2,1348.1" fill="#008000"/>
<path d="M434.7 1306V1321.5M430.7 1306H438.7M430.7 1321.5H438.7" stroke="#7a3c00" stroke-width="2.6" fill="none"/>
<path d="M434.7 1306V1321.5M430.7 1306H438.7M430.7 1321.5H438.7" stroke="#ff8000" stroke-width="1.1" fill="none"/>
<polygon points="430,1301.5 440,1301.5 435,1311.2" fill="#f39420"/>
<polygon points="429.1,1307.5 439.1,1307.5 434.1,1317.2" fill="#f39420"/>
<polygon points="428.8,1315.6 438.8,1315.6 433.8,1325.3" fill="#f39420"/>
<path d="M472.3 1338.5V1377M468.3 1338.5H476.3M468.3 1377H476.3" stroke="#00007a" stroke-width="2.6" fill="none"/>
<path d="M472.3 1338.5V1377M468.3 1338.5H476.3M468.3 1377H476.3" stroke="#0000ff" stroke-width="1.1" fill="none"/>
<circle cx="472.3" cy="1338.5" r="4.8" fill="#0000ff"/>
<circle cx="471.9" cy="1368.9" r="4.8" fill="#0000ff"/>
<circle cx="472.6" cy="1371.1" r="4.8" fill="#0000ff"/>
<path d="M495.6 1211.1V1234M491.6 1211.1H499.6M491.6 1234H499.6" stroke="#8a0000" stroke-width="2.6" fill="none"/>
<path d="M495.6 1211.1V1234M491.6 1211.1H499.6M491.6 1234H499.6" stroke="#ff0000" stroke-width="1.1" fill="none"/>
<rect x="489.7" y="1206.3" width="9.5" height="9.5" fill="#ff0000"/>
<rect x="491.9" y="1217.5" width="9.5" height="9.5" fill="#ff0000"/>
<rect x="489.7" y="1229.3" width="9.5" height="9.5" fill="#ff0000"/>
<polygon points="519.2,1347.3 524.2,1357 514.2,1357" fill="#008000"/>
<polygon points="518.8,1352.5 523.8,1362.2 513.8,1362.2" fill="#008000"/>
<polygon points="518,1354.7 523,1364.4 513,1364.4" fill="#008000"/>
<path d="M541.6 1297V1328.1M537.6 1297H545.6M537.6 1328.1H545.6" stroke="#7a3c00" stroke-width="2.6" fill="none"/>
<path d="M541.6 1297V1328.1M537.6 1297H545.6M537.6 1328.1H545.6" stroke="#ff8000" stroke-width="1.1" fill="none"/>
<polygon points="536.6,1288.2 546.6,1288.2 541.6,1297.9" fill="#f39420"/>
<polygon points="536.6,1306 546.6,1306 541.6,1315.7" fill="#f39420"/>
<polygon points="535.9,1319.3 545.9,1319.3 540.9,1329" fill="#f39420"/>
<line x1="137" y1="1060.8" x2="137" y2="1402.1" stroke="#000" stroke-width="2.2"/>
<line x1="122.8" y1="1061.9" x2="137" y2="1061.9" stroke="#000" stroke-width="2.2"/>
<text font-size="29" font-weight="bold" text-anchor="end" transform="translate(119.3 1072.6) scale(1 1.04)">50</text>
<line x1="122.8" y1="1130" x2="137" y2="1130" stroke="#000" stroke-width="2.2"/>
<text font-size="29" font-weight="bold" text-anchor="end" transform="translate(119.3 1140.7) scale(1 1.04)">40</text>
<line x1="122.8" y1="1197.4" x2="137" y2="1197.4" stroke="#000" stroke-width="2.2"/>
<text font-size="29" font-weight="bold" text-anchor="end" transform="translate(119.3 1208.1) scale(1 1.04)">30</text>
<line x1="122.8" y1="1265.5" x2="137" y2="1265.5" stroke="#000" stroke-width="2.2"/>
<text font-size="29" font-weight="bold" text-anchor="end" transform="translate(119.3 1276.2) scale(1 1.04)">20</text>
<line x1="122.8" y1="1333.2" x2="137" y2="1333.2" stroke="#000" stroke-width="2.2"/>
<text font-size="29" font-weight="bold" text-anchor="end" transform="translate(119.3 1343.9) scale(1 1.04)">10</text>
<line x1="122.8" y1="1401" x2="137" y2="1401" stroke="#000" stroke-width="2.2"/>
<text font-size="29" font-weight="bold" text-anchor="end" transform="translate(119.3 1411.7) scale(1 1.04)">0</text>
<line x1="137" y1="1401" x2="560.4" y2="1401" stroke="#000" stroke-width="2.2"/>
<line x1="186.3" y1="1401" x2="186.3" y2="1415" stroke="#000" stroke-width="2.2"/>
<line x1="293" y1="1401" x2="293" y2="1415" stroke="#000" stroke-width="2.2"/>
<line x1="399.9" y1="1401" x2="399.9" y2="1415" stroke="#000" stroke-width="2.2"/>
<line x1="506.8" y1="1401" x2="506.8" y2="1415" stroke="#000" stroke-width="2.2"/>
<text font-size="28.5" font-weight="bold" text-anchor="middle" transform="translate(184.8 1437.6) scale(1 1.04)">D9</text>
<text font-size="28.5" font-weight="bold" text-anchor="middle" transform="translate(291.5 1437.6) scale(1 1.04)">D11</text>
<text font-size="28.5" font-weight="bold" text-anchor="middle" transform="translate(398.4 1437.6) scale(1 1.04)">D13</text>
<text font-size="28.5" font-weight="bold" text-anchor="middle" transform="translate(505.3 1437.6) scale(1 1.04)">D15</text>
<text font-size="27.5" font-weight="bold" text-anchor="middle" transform="translate(281.4 1279.1) scale(1 1.04)">*</text>
<text font-size="27.5" font-weight="bold" text-anchor="middle" transform="translate(327.6 1309.6) scale(1 1.04)">*</text>
<text font-size="27.5" font-weight="bold" text-anchor="middle" transform="translate(390 1223.1) scale(1 1.04)">**</text>
<text font-size="27.5" font-weight="bold" text-anchor="middle" transform="translate(435.6 1292.8) scale(1 1.04)">*</text>
<text font-size="27.5" font-weight="bold" text-anchor="middle" transform="translate(495.9 1200.2) scale(1 1.04)">***</text>
<text font-size="27.5" font-weight="bold" text-anchor="middle" transform="translate(542.2 1286.9) scale(1 1.04)">**</text>
<circle cx="156.6" cy="1066" r="5.8" fill="#0000ff"/>
<text font-size="24.3" transform="translate(175.2 1073) scale(1 1.04)">N-DMSO</text>
<rect x="150.8" y="1086.9" width="11.7" height="11.7" fill="#ff0000"/>
<text font-size="24.3" transform="translate(175.2 1100.6) scale(1 1.04)">DC-517 1µM</text>
<polygon points="156.6,1114.1 162.7,1126.1 150.5,1126.1" fill="#008000"/>
<text font-size="24.3" transform="translate(175.2 1128.3) scale(1 1.04)">N-2µPFTα</text>
<polygon points="150.5,1141.9 162.7,1141.9 156.6,1153.9" fill="#f7941d"/>
<text font-size="24.3" transform="translate(175.2 1154.9) scale(1 1.04)">DC-517-2µPFTα</text>
<text font-size="28.6" font-weight="bold" text-anchor="middle" transform="translate(75.8 1230.2) rotate(-90)">Apoptosis percentage</text>
<text font-size="40" font-weight="bold" transform="translate(0 2019.3) scale(1 1.04)">J</text>
<path d="M156.4 2442.5V2410H181.6V2442.5" stroke="#0000ff" stroke-width="2.4" fill="none" stroke-linejoin="miter"/>
<path d="M153.9 2410H184.1" stroke="#0000ff" stroke-width="2.4"/>
<path d="M200.1 2442.5V2374.2H225.3V2442.5" stroke="#ff0000" stroke-width="2.4" fill="none" stroke-linejoin="miter"/>
<path d="M197.6 2374.2H227.8" stroke="#ff0000" stroke-width="2.4"/>
<path d="M244.2 2442.5V2412H269.4V2442.5" stroke="#008000" stroke-width="2.4" fill="none" stroke-linejoin="miter"/>
<path d="M241.7 2412H271.9" stroke="#008000" stroke-width="2.4"/>
<path d="M289.1 2442.5V2373H314.3V2442.5" stroke="#ff8000" stroke-width="2.4" fill="none" stroke-linejoin="miter"/>
<path d="M286.6 2373H316.8" stroke="#ff8000" stroke-width="2.4"/>
<path d="M361.7 2442.5V2368.8H386.9V2442.5" stroke="#0000ff" stroke-width="2.4" fill="none" stroke-linejoin="miter"/>
<path d="M359.2 2368.8H389.4" stroke="#0000ff" stroke-width="2.4"/>
<path d="M405.4 2442.5V2270.8H430.6V2442.5" stroke="#ff0000" stroke-width="2.4" fill="none" stroke-linejoin="miter"/>
<path d="M402.9 2270.8H433.1" stroke="#ff0000" stroke-width="2.4"/>
<path d="M449.5 2442.5V2395.5H474.7V2442.5" stroke="#008000" stroke-width="2.4" fill="none" stroke-linejoin="miter"/>
<path d="M447 2395.5H477.2" stroke="#008000" stroke-width="2.4"/>
<path d="M494.4 2442.5V2385.2H519.6V2442.5" stroke="#ff8000" stroke-width="2.4" fill="none" stroke-linejoin="miter"/>
<path d="M491.9 2385.2H522.1" stroke="#ff8000" stroke-width="2.4"/>
<path d="M566.9 2442.5V2369.8H592.1V2442.5" stroke="#0000ff" stroke-width="2.4" fill="none" stroke-linejoin="miter"/>
<path d="M564.4 2369.8H594.6" stroke="#0000ff" stroke-width="2.4"/>
<path d="M610.6 2442.5V2226H635.8V2442.5" stroke="#ff0000" stroke-width="2.4" fill="none" stroke-linejoin="miter"/>
<path d="M608.1 2226H638.3" stroke="#ff0000" stroke-width="2.4"/>
<path d="M654.7 2442.5V2381.3H679.9V2442.5" stroke="#008000" stroke-width="2.4" fill="none" stroke-linejoin="miter"/>
<path d="M652.2 2381.3H682.4" stroke="#008000" stroke-width="2.4"/>
<path d="M699.6 2442.5V2355H724.8V2442.5" stroke="#ff8000" stroke-width="2.4" fill="none" stroke-linejoin="miter"/>
<path d="M697.1 2355H727.3" stroke="#ff8000" stroke-width="2.4"/>
<path d="M771.7 2442.5V2369.5H796.9V2442.5" stroke="#0000ff" stroke-width="2.4" fill="none" stroke-linejoin="miter"/>
<path d="M769.2 2369.5H799.4" stroke="#0000ff" stroke-width="2.4"/>
<path d="M815.4 2442.5V2154H840.6V2442.5" stroke="#ff0000" stroke-width="2.4" fill="none" stroke-linejoin="miter"/>
<path d="M812.9 2154H843.1" stroke="#ff0000" stroke-width="2.4"/>
<path d="M859.5 2442.5V2371.9H884.7V2442.5" stroke="#008000" stroke-width="2.4" fill="none" stroke-linejoin="miter"/>
<path d="M857 2371.9H887.2" stroke="#008000" stroke-width="2.4"/>
<path d="M904.4 2442.5V2325.3H929.6V2442.5" stroke="#ff8000" stroke-width="2.4" fill="none" stroke-linejoin="miter"/>
<path d="M901.9 2325.3H932.1" stroke="#ff8000" stroke-width="2.4"/>
<path d="M169 2389.2V2425.3M162.1 2389.2H175.9M162.1 2425.3H175.9" stroke="#00007a" stroke-width="2.6" fill="none"/>
<path d="M169 2389.2V2425.3M162.1 2389.2H175.9M162.1 2425.3H175.9" stroke="#0000ff" stroke-width="1.1" fill="none"/>
<circle cx="163.3" cy="2412" r="4.5" fill="#0000ff"/>
<circle cx="169" cy="2387" r="4.5" fill="#0000ff"/>
<circle cx="175.5" cy="2420.5" r="4.5" fill="#0000ff"/>
<path d="M212.7 2363.7V2378.4M205.8 2363.7H219.6M205.8 2378.4H219.6" stroke="#8a0000" stroke-width="2.6" fill="none"/>
<path d="M212.7 2363.7V2378.4M205.8 2363.7H219.6M205.8 2378.4H219.6" stroke="#ff0000" stroke-width="1.1" fill="none"/>
<rect x="200.5" y="2357.8" width="9" height="9" fill="#ff0000"/>
<rect x="207.7" y="2367.7" width="9" height="9" fill="#ff0000"/>
<rect x="215.4" y="2373.9" width="9" height="9" fill="#ff0000"/>
<path d="M256.8 2391V2428M249.9 2391H263.7M249.9 2428H263.7" stroke="#003a00" stroke-width="2.6" fill="none"/>
<path d="M256.8 2391V2428M249.9 2391H263.7M249.9 2428H263.7" stroke="#008000" stroke-width="1.1" fill="none"/>
<polygon points="256.3,2385.6 261,2394.7 251.6,2394.7" fill="#008000"/>
<polygon points="250.6,2407 255.3,2416.1 245.9,2416.1" fill="#008000"/>
<polygon points="262,2423.4 266.7,2432.5 257.3,2432.5" fill="#008000"/>
<path d="M301.7 2349.5V2390.6M294.8 2349.5H308.6M294.8 2390.6H308.6" stroke="#7a3c00" stroke-width="2.6" fill="none"/>
<path d="M301.7 2349.5V2390.6M294.8 2349.5H308.6M294.8 2390.6H308.6" stroke="#ff8000" stroke-width="1.1" fill="none"/>
<polygon points="296.3,2343.1 305.7,2343.1 301,2352.2" fill="#f39420"/>
<polygon points="289.8,2365.3 299.2,2365.3 294.5,2374.4" fill="#f39420"/>
<polygon points="301.1,2383.7 310.5,2383.7 305.8,2392.8" fill="#f39420"/>
<path d="M374.3 2354.3V2378.4M367.4 2354.3H381.2M367.4 2378.4H381.2" stroke="#00007a" stroke-width="2.6" fill="none"/>
<path d="M374.3 2354.3V2378.4M367.4 2354.3H381.2M367.4 2378.4H381.2" stroke="#0000ff" stroke-width="1.1" fill="none"/>
<circle cx="374.6" cy="2353.7" r="4.5" fill="#0000ff"/>
<circle cx="367.6" cy="2367" r="4.5" fill="#0000ff"/>
<circle cx="381.7" cy="2377.9" r="4.5" fill="#0000ff"/>
<path d="M418 2241.6V2295.5M411.1 2241.6H424.9M411.1 2295.5H424.9" stroke="#8a0000" stroke-width="2.6" fill="none"/>
<path d="M418 2241.6V2295.5M411.1 2241.6H424.9M411.1 2295.5H424.9" stroke="#ff0000" stroke-width="1.1" fill="none"/>
<rect x="412.9" y="2236.5" width="9" height="9" fill="#ff0000"/>
<rect x="412.9" y="2266.3" width="9" height="9" fill="#ff0000"/>
<rect x="412.9" y="2291" width="9" height="9" fill="#ff0000"/>
<path d="M462.1 2382.7V2411M455.2 2382.7H469M455.2 2411H469" stroke="#003a00" stroke-width="2.6" fill="none"/>
<path d="M462.1 2382.7V2411M455.2 2382.7H469M455.2 2411H469" stroke="#008000" stroke-width="1.1" fill="none"/>
<polygon points="456.5,2381.4 461.2,2390.5 451.8,2390.5" fill="#008000"/>
<polygon points="462.1,2392 466.8,2401.1 457.4,2401.1" fill="#008000"/>
<polygon points="466.4,2401.8 471.1,2410.9 461.7,2410.9" fill="#008000"/>
<path d="M507 2366V2398.5M500.1 2366H513.9M500.1 2398.5H513.9" stroke="#7a3c00" stroke-width="2.6" fill="none"/>
<path d="M507 2366V2398.5M500.1 2366H513.9M500.1 2398.5H513.9" stroke="#ff8000" stroke-width="1.1" fill="none"/>
<polygon points="502.3,2357.4 511.7,2357.4 507,2366.5" fill="#f39420"/>
<polygon points="496.1,2381.1 505.5,2381.1 500.8,2390.2" fill="#f39420"/>
<polygon points="508.1,2390.9 517.5,2390.9 512.8,2400" fill="#f39420"/>
<path d="M579.5 2343.1V2391.7M572.6 2343.1H586.4M572.6 2391.7H586.4" stroke="#00007a" stroke-width="2.6" fill="none"/>
<path d="M579.5 2343.1V2391.7M572.6 2343.1H586.4M572.6 2391.7H586.4" stroke="#0000ff" stroke-width="1.1" fill="none"/>
<circle cx="579.1" cy="2339.9" r="4.5" fill="#0000ff"/>
<circle cx="572.2" cy="2374" r="4.5" fill="#0000ff"/>
<circle cx="586.5" cy="2387.3" r="4.5" fill="#0000ff"/>
<path d="M623.2 2199.1V2248.3M616.3 2199.1H630.1M616.3 2248.3H630.1" stroke="#8a0000" stroke-width="2.6" fill="none"/>
<path d="M623.2 2199.1V2248.3M616.3 2199.1H630.1M616.3 2248.3H630.1" stroke="#ff0000" stroke-width="1.1" fill="none"/>
<rect x="611.6" y="2202.9" width="9" height="9" fill="#ff0000"/>
<rect x="625.8" y="2205.3" width="9" height="9" fill="#ff0000"/>
<rect x="619" y="2247.4" width="9" height="9" fill="#ff0000"/>
<path d="M667.3 2371V2386M660.4 2371H674.2M660.4 2386H674.2" stroke="#003a00" stroke-width="2.6" fill="none"/>
<path d="M667.3 2371V2386M660.4 2371H674.2M660.4 2386H674.2" stroke="#008000" stroke-width="1.1" fill="none"/>
<polygon points="662.5,2368.3 667.2,2377.4 657.8,2377.4" fill="#008000"/>
<polygon points="667,2375.7 671.7,2384.8 662.3,2384.8" fill="#008000"/>
<polygon points="672.3,2385.2 677,2394.3 667.6,2394.3" fill="#008000"/>
<path d="M712.2 2349V2358.5M705.3 2349H719.1M705.3 2358.5H719.1" stroke="#7a3c00" stroke-width="2.6" fill="none"/>
<path d="M712.2 2349V2358.5M705.3 2349H719.1M705.3 2358.5H719.1" stroke="#ff8000" stroke-width="1.1" fill="none"/>
<polygon points="701.6,2339.6 711,2339.6 706.3,2348.7" fill="#f39420"/>
<polygon points="706.6,2345.5 716,2345.5 711.3,2354.6" fill="#f39420"/>
<polygon points="712.6,2354.4 722,2354.4 717.3,2363.5" fill="#f39420"/>
<path d="M784.3 2347.3V2386M777.4 2347.3H791.2M777.4 2386H791.2" stroke="#00007a" stroke-width="2.6" fill="none"/>
<path d="M784.3 2347.3V2386M777.4 2347.3H791.2M777.4 2386H791.2" stroke="#0000ff" stroke-width="1.1" fill="none"/>
<circle cx="783.8" cy="2346" r="4.5" fill="#0000ff"/>
<circle cx="777.3" cy="2367.4" r="4.5" fill="#0000ff"/>
<circle cx="790.5" cy="2385.8" r="4.5" fill="#0000ff"/>
<path d="M828 2113.2V2190.5M821.1 2113.2H834.9M821.1 2190.5H834.9" stroke="#8a0000" stroke-width="2.6" fill="none"/>
<path d="M828 2113.2V2190.5M821.1 2113.2H834.9M821.1 2190.5H834.9" stroke="#ff0000" stroke-width="1.1" fill="none"/>
<rect x="822.4" y="2103.6" width="9" height="9" fill="#ff0000"/>
<rect x="815" y="2162.3" width="9" height="9" fill="#ff0000"/>
<rect x="830.4" y="2175.6" width="9" height="9" fill="#ff0000"/>
<path d="M872.1 2359.5V2378.7M865.2 2359.5H879M865.2 2378.7H879" stroke="#003a00" stroke-width="2.6" fill="none"/>
<path d="M872.1 2359.5V2378.7M865.2 2359.5H879M865.2 2378.7H879" stroke="#008000" stroke-width="1.1" fill="none"/>
<polygon points="867.2,2352.9 871.9,2362 862.5,2362" fill="#008000"/>
<polygon points="870.8,2368.3 875.5,2377.4 866.1,2377.4" fill="#008000"/>
<polygon points="877,2373.7 881.7,2382.8 872.3,2382.8" fill="#008000"/>
<path d="M917 2301.3V2343.1M910.1 2301.3H923.9M910.1 2343.1H923.9" stroke="#7a3c00" stroke-width="2.6" fill="none"/>
<path d="M917 2301.3V2343.1M910.1 2301.3H923.9M910.1 2343.1H923.9" stroke="#ff8000" stroke-width="1.1" fill="none"/>
<polygon points="911,2294.6 920.4,2294.6 915.7,2303.7" fill="#f39420"/>
<polygon points="904.5,2324.8 913.9,2324.8 909.2,2333.9" fill="#f39420"/>
<polygon points="917.9,2330.7 927.3,2330.7 922.6,2339.8" fill="#f39420"/>
<line x1="140.2" y1="2071.6" x2="140.2" y2="2443.6" stroke="#000" stroke-width="2.2"/>
<line x1="123.3" y1="2072.7" x2="140.2" y2="2072.7" stroke="#000" stroke-width="2.2"/>
<text font-size="29" font-weight="bold" text-anchor="end" transform="translate(120.4 2083.1) scale(1 1.04)">30</text>
<line x1="123.3" y1="2196.1" x2="140.2" y2="2196.1" stroke="#000" stroke-width="2.2"/>
<text font-size="29" font-weight="bold" text-anchor="end" transform="translate(120.4 2206.5) scale(1 1.04)">20</text>
<line x1="123.3" y1="2319.7" x2="140.2" y2="2319.7" stroke="#000" stroke-width="2.2"/>
<text font-size="29" font-weight="bold" text-anchor="end" transform="translate(120.4 2330.1) scale(1 1.04)">10</text>
<line x1="123.3" y1="2442.5" x2="140.2" y2="2442.5" stroke="#000" stroke-width="2.2"/>
<text font-size="29" font-weight="bold" text-anchor="end" transform="translate(120.4 2452.9) scale(1 1.04)">0</text>
<line x1="140.2" y1="2442.5" x2="948.7" y2="2442.5" stroke="#000" stroke-width="2.2"/>
<line x1="234.5" y1="2442.5" x2="234.5" y2="2458.5" stroke="#000" stroke-width="2.2"/>
<line x1="439.8" y1="2442.5" x2="439.8" y2="2458.5" stroke="#000" stroke-width="2.2"/>
<line x1="645" y1="2442.5" x2="645" y2="2458.5" stroke="#000" stroke-width="2.2"/>
<line x1="849.8" y1="2442.5" x2="849.8" y2="2458.5" stroke="#000" stroke-width="2.2"/>
<text font-size="28.5" font-weight="bold" text-anchor="middle" transform="translate(234.5 2488) scale(1 1.04)">D9</text>
<text font-size="28.5" font-weight="bold" text-anchor="middle" transform="translate(439.8 2488) scale(1 1.04)">D11</text>
<text font-size="28.5" font-weight="bold" text-anchor="middle" transform="translate(645 2488) scale(1 1.04)">D13</text>
<text font-size="28.5" font-weight="bold" text-anchor="middle" transform="translate(849.8 2488) scale(1 1.04)">D15</text>
<text font-size="27.5" font-weight="bold" text-anchor="middle" transform="translate(419.6 2235.8) scale(1 1.04)">*</text>
<text font-size="27.5" font-weight="bold" text-anchor="middle" transform="translate(623.1 2195.8) scale(1 1.04)">*</text>
<text font-size="27.5" font-weight="bold" text-anchor="middle" transform="translate(827.4 2099.5) scale(1 1.04)">**</text>
<circle cx="168.3" cy="2074.9" r="5.8" fill="#0000ff"/>
<text font-size="24.3" transform="translate(186.8 2082) scale(1 1.04)">N-DMSO</text>
<rect x="162.6" y="2095.2" width="11.5" height="11.5" fill="#ff0000"/>
<text font-size="24.3" transform="translate(186.8 2109.6) scale(1 1.04)">DC-517 1µM</text>
<polygon points="168.3,2122.5 174.3,2134.2 162.3,2134.2" fill="#008000"/>
<text font-size="24.3" transform="translate(186.8 2137.4) scale(1 1.04)">N-DEVD 10µM</text>
<polygon points="162.3,2148.3 174.3,2148.3 168.3,2160" fill="#f7941d"/>
<text font-size="24.3" transform="translate(186.8 2163.5) scale(1 1.04)">DC517-DEVD 10µM</text>
<text font-size="28.6" font-weight="bold" text-anchor="middle" transform="translate(76 2265.7) rotate(-90)">Apoptosis percentage</text>
<text font-size="40" font-weight="bold" transform="translate(565 1028.6) scale(1 1.04)">F</text>
<polyline points="688.7,1396.5 766.2,1385 843.3,1331 920.2,1220.9 997.3,1165.9" fill="none" stroke="#008000" stroke-width="2.6" stroke-linejoin="round"/>
<polyline points="688.7,1396.5 766.2,1388 843.3,1344.9 920.2,1278.6 997.3,1252.3" fill="none" stroke="#ff8000" stroke-width="2.6" stroke-linejoin="round"/>
<polyline points="688.7,1396.5 766.2,1391.2 843.3,1371.2 920.2,1357.3 997.3,1344.9" fill="none" stroke="#ff0000" stroke-width="2.6" stroke-linejoin="round"/>
<polyline points="688.7,1396.2 766.2,1383.5 843.3,1318.1 920.2,1217.5 997.3,1143.4" fill="none" stroke="#0000ff" stroke-width="2.6" stroke-linejoin="round"/>
<path d="M997.3 1152.7V1166M991.3 1152.7H1003.3" stroke="#008000" stroke-width="2.4" fill="none"/>
<path d="M920.2 1210.7V1217.5M914.2 1210.7H926.2" stroke="#0000ff" stroke-width="2.4" fill="none"/>
<path d="M920.2 1269.3V1278.6M914.2 1269.3H926.2" stroke="#ff8000" stroke-width="2.4" fill="none"/>
<polygon points="688.7,1390.9 694,1401.1 683.5,1401.1" fill="#008000"/>
<polygon points="766.2,1379.4 771.5,1389.6 761,1389.6" fill="#008000"/>
<polygon points="843.3,1325.4 848.5,1335.6 838,1335.6" fill="#008000"/>
<polygon points="920.2,1215.3 925.5,1225.5 915,1225.5" fill="#008000"/>
<polygon points="997.3,1160.3 1002.5,1170.5 992,1170.5" fill="#008000"/>
<polygon points="683.5,1391.9 694,1391.9 688.7,1402.1" fill="#ff8000"/>
<polygon points="761,1383.4 771.5,1383.4 766.2,1393.6" fill="#ff8000"/>
<polygon points="838,1340.3 848.5,1340.3 843.3,1350.5" fill="#ff8000"/>
<polygon points="915,1274 925.5,1274 920.2,1284.2" fill="#ff8000"/>
<polygon points="992,1247.7 1002.5,1247.7 997.3,1257.9" fill="#ff8000"/>
<rect x="683.7" y="1391.5" width="10" height="10" fill="#ff0000"/>
<rect x="761.2" y="1386.2" width="10" height="10" fill="#ff0000"/>
<rect x="838.3" y="1366.2" width="10" height="10" fill="#ff0000"/>
<rect x="915.2" y="1352.3" width="10" height="10" fill="#ff0000"/>
<rect x="992.3" y="1339.9" width="10" height="10" fill="#ff0000"/>
<circle cx="688.7" cy="1396.2" r="5" fill="#0000ff"/>
<circle cx="766.2" cy="1383.5" r="5" fill="#0000ff"/>
<circle cx="843.3" cy="1318.1" r="5" fill="#0000ff"/>
<circle cx="920.2" cy="1217.5" r="5" fill="#0000ff"/>
<circle cx="997.3" cy="1143.4" r="5" fill="#0000ff"/>
<line x1="650.1" y1="1062.4" x2="650.1" y2="1401.3" stroke="#000" stroke-width="2.2"/>
<line x1="639" y1="1063.5" x2="650.1" y2="1063.5" stroke="#000" stroke-width="2.2"/>
<text font-size="29" font-weight="bold" text-anchor="end" transform="translate(634.2 1074.5) scale(1 1.04)">80</text>
<line x1="639" y1="1147.4" x2="650.1" y2="1147.4" stroke="#000" stroke-width="2.2"/>
<text font-size="29" font-weight="bold" text-anchor="end" transform="translate(634.2 1158.4) scale(1 1.04)">60</text>
<line x1="639" y1="1231.7" x2="650.1" y2="1231.7" stroke="#000" stroke-width="2.2"/>
<text font-size="29" font-weight="bold" text-anchor="end" transform="translate(634.2 1242.7) scale(1 1.04)">40</text>
<line x1="639" y1="1315.6" x2="650.1" y2="1315.6" stroke="#000" stroke-width="2.2"/>
<text font-size="29" font-weight="bold" text-anchor="end" transform="translate(634.2 1326.6) scale(1 1.04)">20</text>
<line x1="639" y1="1400.2" x2="650.1" y2="1400.2" stroke="#000" stroke-width="2.2"/>
<text font-size="29" font-weight="bold" text-anchor="end" transform="translate(634.2 1411.2) scale(1 1.04)">0</text>
<line x1="650.1" y1="1400.5" x2="1037.8" y2="1394.3" stroke="#000" stroke-width="2.2"/>
<line x1="688.7" y1="1399.9" x2="688.7" y2="1411.9" stroke="#000" stroke-width="2.2"/>
<line x1="766.2" y1="1398.6" x2="766.2" y2="1410.6" stroke="#000" stroke-width="2.2"/>
<line x1="843.3" y1="1397.4" x2="843.3" y2="1409.4" stroke="#000" stroke-width="2.2"/>
<line x1="920.2" y1="1396.2" x2="920.2" y2="1408.2" stroke="#000" stroke-width="2.2"/>
<line x1="997.3" y1="1394.9" x2="997.3" y2="1406.9" stroke="#000" stroke-width="2.2"/>
<text font-size="28.5" font-weight="bold" text-anchor="middle" transform="translate(689.7 1437.5) scale(1 1.04)">D7</text>
<text font-size="28.5" font-weight="bold" text-anchor="middle" transform="translate(767.2 1437.5) scale(1 1.04)">D9</text>
<text font-size="28.5" font-weight="bold" text-anchor="middle" transform="translate(844.3 1437.5) scale(1 1.04)">D11</text>
<text font-size="28.5" font-weight="bold" text-anchor="middle" transform="translate(921.2 1437.5) scale(1 1.04)">D13</text>
<text font-size="28.5" font-weight="bold" text-anchor="middle" transform="translate(998.3 1437.5) scale(1 1.04)">D15</text>
<path d="M1007.2 1255.4H1024.9M1007.2 1348.9H1024.9" stroke="#000" stroke-width="2.6" fill="none"/>
<path d="M1024.9 1254.1V1350.2" stroke="#000" stroke-width="3.8" fill="none"/>
<text font-size="27.5" font-weight="bold" text-anchor="middle" transform="translate(1008.5 1309.3) scale(1 1.04)">*</text>
<line x1="664" y1="1065" x2="694.3" y2="1065" stroke="#0000ff" stroke-width="2.6"/>
<circle cx="678.8" cy="1065" r="5.5" fill="#0000ff"/>
<text font-size="24.3" transform="translate(702.6 1073.5) scale(1 1.04)">N-DMSO</text>
<line x1="664" y1="1093.7" x2="694.3" y2="1093.7" stroke="#ff0000" stroke-width="2.6"/>
<rect x="673.3" y="1088.2" width="11" height="11" fill="#ff0000"/>
<text font-size="24.3" transform="translate(702.6 1101.5) scale(1 1.04)">DC-517 1µM</text>
<line x1="664" y1="1122.2" x2="694.3" y2="1122.2" stroke="#008000" stroke-width="2.6"/>
<polygon points="678.8,1116 684.6,1127.2 673,1127.2" fill="#008000"/>
<text font-size="24.3" transform="translate(702.6 1129.3) scale(1 1.04)">N-2µPFTα</text>
<line x1="664" y1="1145.1" x2="694.3" y2="1145.1" stroke="#ff8000" stroke-width="2.6"/>
<polygon points="673,1141.3 684.6,1141.3 678.8,1152.5" fill="#f7941d"/>
<text font-size="24.3" transform="translate(702.6 1156.2) scale(1 1.04)">DC-517-2µPFTα</text>
<text font-size="28.6" font-weight="bold" text-anchor="middle" transform="translate(597.5 1231.5) rotate(-90)">Cells number (Million)</text>
<text font-size="40" font-weight="bold" transform="translate(990 2020.5) scale(1 1.04)">K</text>
<polyline points="1142.6,2436.5 1259.3,2422.5 1376.9,2353.5 1493.5,2229.5 1610.1,2139.7" fill="none" stroke="#008000" stroke-width="2.4" stroke-linejoin="round"/>
<polyline points="1142.6,2436.5 1259.3,2424.5 1376.9,2379.4 1493.5,2318.3 1610.1,2300" fill="none" stroke="#ff8000" stroke-width="2.4" stroke-linejoin="round"/>
<polyline points="1142.6,2436.5 1259.3,2426.5 1376.9,2385.3 1493.5,2383.3 1610.1,2376.9" fill="none" stroke="#ff0000" stroke-width="2.4" stroke-linejoin="round"/>
<polyline points="1142.6,2436.5 1259.3,2419 1376.9,2357 1493.5,2237.9 1610.1,2129.7" fill="none" stroke="#0000ff" stroke-width="2.4" stroke-linejoin="round"/>
<path d="M1610.1 2107.9V2170.9M1602.6 2107.9H1617.6M1602.6 2170.9H1617.6" stroke="#008000" stroke-width="2.4" fill="none"/>
<path d="M1493.5 2218V2244.4M1486 2218H1501M1486 2244.4H1501" stroke="#008000" stroke-width="2.4" fill="none"/>
<path d="M1376.9 2337.2V2370.4M1369.4 2337.2H1384.4M1369.4 2370.4H1384.4" stroke="#008000" stroke-width="2.4" fill="none"/>
<path d="M1376.9 2373.4V2396.7M1369.4 2373.4H1384.4M1369.4 2396.7H1384.4" stroke="#ff0000" stroke-width="2.4" fill="none"/>
<path d="M1493.5 2371.9V2395.2M1486 2371.9H1501M1486 2395.2H1501" stroke="#ff0000" stroke-width="2.4" fill="none"/>
<path d="M1610.1 2285V2315.8M1602.6 2285H1617.6M1602.6 2315.8H1617.6" stroke="#ff8000" stroke-width="2.4" fill="none"/>
<path d="M1376.9 2372V2386M1369.4 2372H1384.4M1369.4 2386H1384.4" stroke="#ff8000" stroke-width="2.4" fill="none"/>
<polygon points="1142.6,2431.3 1147.5,2440.8 1137.7,2440.8" fill="#008000"/>
<polygon points="1259.3,2417.3 1264.2,2426.8 1254.4,2426.8" fill="#008000"/>
<polygon points="1376.9,2348.3 1381.8,2357.8 1372,2357.8" fill="#008000"/>
<polygon points="1493.5,2224.3 1498.4,2233.8 1488.6,2233.8" fill="#008000"/>
<polygon points="1610.1,2134.5 1615,2144 1605.2,2144" fill="#008000"/>
<polygon points="1137.7,2432.2 1147.5,2432.2 1142.6,2441.7" fill="#ff8000"/>
<polygon points="1254.4,2420.2 1264.2,2420.2 1259.3,2429.7" fill="#ff8000"/>
<polygon points="1372,2375.1 1381.8,2375.1 1376.9,2384.6" fill="#ff8000"/>
<polygon points="1488.6,2314 1498.4,2314 1493.5,2323.5" fill="#ff8000"/>
<polygon points="1605.2,2295.7 1615,2295.7 1610.1,2305.2" fill="#ff8000"/>
<rect x="1137.9" y="2431.8" width="9.3" height="9.3" fill="#ff0000"/>
<rect x="1254.6" y="2421.8" width="9.3" height="9.3" fill="#ff0000"/>
<rect x="1372.2" y="2380.7" width="9.3" height="9.3" fill="#ff0000"/>
<rect x="1488.8" y="2378.7" width="9.3" height="9.3" fill="#ff0000"/>
<rect x="1605.4" y="2372.2" width="9.3" height="9.3" fill="#ff0000"/>
<circle cx="1142.6" cy="2436.5" r="4.7" fill="#0000ff"/>
<circle cx="1259.3" cy="2419" r="4.7" fill="#0000ff"/>
<circle cx="1376.9" cy="2357" r="4.7" fill="#0000ff"/>
<circle cx="1493.5" cy="2237.9" r="4.7" fill="#0000ff"/>
<circle cx="1610.1" cy="2129.7" r="4.7" fill="#0000ff"/>
<line x1="1084.2" y1="2069.2" x2="1084.2" y2="2440.7" stroke="#000" stroke-width="2.2"/>
<line x1="1067.9" y1="2070.3" x2="1084.2" y2="2070.3" stroke="#000" stroke-width="2.2"/>
<text font-size="29" font-weight="bold" text-anchor="end" transform="translate(1062.8 2079.9) scale(1 1.04)">10</text>
<line x1="1067.9" y1="2144.2" x2="1084.2" y2="2144.2" stroke="#000" stroke-width="2.2"/>
<text font-size="29" font-weight="bold" text-anchor="end" transform="translate(1062.8 2153.8) scale(1 1.04)">8</text>
<line x1="1067.9" y1="2218" x2="1084.2" y2="2218" stroke="#000" stroke-width="2.2"/>
<text font-size="29" font-weight="bold" text-anchor="end" transform="translate(1062.8 2227.6) scale(1 1.04)">6</text>
<line x1="1067.9" y1="2291.9" x2="1084.2" y2="2291.9" stroke="#000" stroke-width="2.2"/>
<text font-size="29" font-weight="bold" text-anchor="end" transform="translate(1062.8 2301.5) scale(1 1.04)">4</text>
<line x1="1067.9" y1="2365.8" x2="1084.2" y2="2365.8" stroke="#000" stroke-width="2.2"/>
<text font-size="29" font-weight="bold" text-anchor="end" transform="translate(1062.8 2375.4) scale(1 1.04)">2</text>
<line x1="1067.9" y1="2439.6" x2="1084.2" y2="2439.6" stroke="#000" stroke-width="2.2"/>
<text font-size="29" font-weight="bold" text-anchor="end" transform="translate(1062.8 2449.2) scale(1 1.04)">0</text>
<line x1="1084.2" y1="2439.6" x2="1671.2" y2="2439.6" stroke="#000" stroke-width="2.2"/>
<line x1="1142.6" y1="2439.6" x2="1142.6" y2="2455.2" stroke="#000" stroke-width="2.2"/>
<line x1="1259.3" y1="2439.6" x2="1259.3" y2="2455.2" stroke="#000" stroke-width="2.2"/>
<line x1="1376.9" y1="2439.6" x2="1376.9" y2="2455.2" stroke="#000" stroke-width="2.2"/>
<line x1="1493.5" y1="2439.6" x2="1493.5" y2="2455.2" stroke="#000" stroke-width="2.2"/>
<line x1="1610.1" y1="2439.6" x2="1610.1" y2="2455.2" stroke="#000" stroke-width="2.2"/>
<text font-size="28.5" font-weight="bold" text-anchor="middle" transform="translate(1143.6 2487) scale(1 1.04)">D7</text>
<text font-size="28.5" font-weight="bold" text-anchor="middle" transform="translate(1260.3 2487) scale(1 1.04)">D9</text>
<text font-size="28.5" font-weight="bold" text-anchor="middle" transform="translate(1377.9 2487) scale(1 1.04)">D11</text>
<text font-size="28.5" font-weight="bold" text-anchor="middle" transform="translate(1494.5 2487) scale(1 1.04)">D13</text>
<text font-size="28.5" font-weight="bold" text-anchor="middle" transform="translate(1611.1 2487) scale(1 1.04)">D15</text>
<path d="M1622.5 2302.4H1638.9M1622.5 2376.9H1638.9" stroke="#000" stroke-width="2.6" fill="none"/>
<path d="M1638.9 2301.1V2378.2" stroke="#000" stroke-width="3.8" fill="none"/>
<text font-size="27.5" font-weight="bold" text-anchor="middle" transform="translate(1612.6 2356.7) scale(1 1.04)">*</text>
<line x1="1107.4" y1="2070.9" x2="1136.2" y2="2070.9" stroke="#0000ff" stroke-width="2.4"/>
<circle cx="1121.8" cy="2070.9" r="5.5" fill="#0000ff"/>
<text font-size="24.3" transform="translate(1145.1 2080) scale(1 1.04)">N-DMSO</text>
<line x1="1107.4" y1="2099.6" x2="1136.2" y2="2099.6" stroke="#ff0000" stroke-width="2.4"/>
<rect x="1116.3" y="2094.1" width="11" height="11" fill="#ff0000"/>
<text font-size="24.3" transform="translate(1145.1 2108.3) scale(1 1.04)">DC-517 1µM</text>
<line x1="1107.4" y1="2128.5" x2="1136.2" y2="2128.5" stroke="#008000" stroke-width="2.4"/>
<polygon points="1121.8,2122.3 1127.6,2133.5 1116,2133.5" fill="#008000"/>
<text font-size="24.3" transform="translate(1145.1 2135.5) scale(1 1.04)">N-DEVD 10µM</text>
<line x1="1107.4" y1="2150.9" x2="1136.2" y2="2150.9" stroke="#ff8000" stroke-width="2.4"/>
<polygon points="1116,2147.1 1127.6,2147.1 1121.8,2158.3" fill="#f7941d"/>
<text font-size="24.3" transform="translate(1145.1 2161.8) scale(1 1.04)">DC517-DEVD 10µM</text>
<text font-size="28.6" font-weight="bold" text-anchor="middle" transform="translate(1024.5 2264.5) rotate(-90)">Cells number (Million)</text>
<defs><filter id="b1" x="-30%" y="-100%" width="160%" height="300%"><feGaussianBlur stdDeviation="2"/></filter><filter id="b2" x="-30%" y="-100%" width="160%" height="300%"><feGaussianBlur stdDeviation="2.8"/></filter><filter id="b3" x="-30%" y="-100%" width="160%" height="300%"><feGaussianBlur stdDeviation="4"/></filter><filter id="b5" x="-50%" y="-50%" width="200%" height="200%"><feGaussianBlur stdDeviation="6"/></filter></defs>
<text font-size="40" font-weight="bold" transform="translate(1137 34.8) scale(1 1.04)">B</text>
<rect x="1258.2" y="254.3" width="166.4" height="59.4" fill="#fcfcfc"/>
<rect x="1429.7" y="254.8" width="167.7" height="58.9" fill="#fcfcfc"/>
<rect x="1257.6" y="318" width="167.4" height="59.5" fill="#fcfcfc"/>
<rect x="1431" y="319.1" width="164.6" height="57.3" fill="#fcfcfc"/>
<rect x="1258.2" y="382.6" width="166.4" height="56.1" fill="#fcfcfc"/>
<rect x="1431.5" y="382.6" width="163.7" height="56.6" fill="#fcfcfc"/>
<rect x="1258.2" y="445.2" width="166.4" height="54" fill="#fcfcfc"/>
<rect x="1431.5" y="444.1" width="163.7" height="55.5" fill="#fcfcfc"/>
<rect x="1287.6" y="326" width="115.4" height="43.5" fill="#e4e4e4" filter="url(#b5)" opacity="0.45"/>
<rect x="1461" y="327.1" width="116.6" height="41.3" fill="#e4e4e4" filter="url(#b5)" opacity="0.45"/>
<rect x="1288.2" y="390.6" width="114.4" height="40.1" fill="#e4e4e4" filter="url(#b5)" opacity="0.45"/>
<rect x="1461.5" y="390.6" width="115.7" height="40.6" fill="#e4e4e4" filter="url(#b5)" opacity="0.45"/>
<rect x="1288.2" y="453.2" width="114.4" height="38" fill="#e4e4e4" filter="url(#b5)" opacity="0.45"/>
<rect x="1461.5" y="452.1" width="115.7" height="39.5" fill="#e4e4e4" filter="url(#b5)" opacity="0.45"/>
<rect x="1282.4" y="280.4" width="56.2" height="7" rx="3.5" fill="#9a9a9a" filter="url(#b1)" opacity="1"/>
<rect x="1355.9" y="281.7" width="54" height="11" rx="5.5" fill="#000" filter="url(#b1)" opacity="1"/>
<circle cx="1374.2" cy="300.1" r="3.3" fill="#000" filter="url(#b1)"/>
<rect x="1476.8" y="280.6" width="43.2" height="8" rx="4" fill="#6e6e6e" filter="url(#b1)" opacity="1"/>
<rect x="1500" y="281.1" width="20" height="7" rx="3.5" fill="#555" filter="url(#b1)" opacity="1"/>
<rect x="1530.8" y="282.3" width="50.8" height="11" rx="5.5" fill="#000" filter="url(#b1)" opacity="1"/>
<circle cx="1463.9" cy="266.2" r="3.8" fill="#000" filter="url(#b1)"/>
<circle cx="1575.8" cy="268.4" r="2.8" fill="#555" filter="url(#b1)"/>
<rect x="1298.6" y="350.8" width="42.1" height="8" rx="4" fill="#b4b4b4" filter="url(#b2)" opacity="1"/>
<rect x="1298.6" y="340" width="42.1" height="6" rx="3" fill="#efefef" filter="url(#b2)" opacity="1"/>
<rect x="1346.1" y="345.5" width="52.9" height="12" rx="6" fill="#3c3c3c" filter="url(#b2)" opacity="1"/>
<rect x="1472.5" y="343.2" width="43.2" height="8" rx="4" fill="#cfcfcf" filter="url(#b2)" opacity="1"/>
<rect x="1525.4" y="338" width="49.7" height="14" rx="7" fill="#2a2a2a" filter="url(#b2)" opacity="1"/>
<rect x="1525.4" y="347" width="49.7" height="20" rx="10" fill="#a8a8a8" filter="url(#b3)" opacity="1"/>
<rect x="1528" y="363" width="44" height="10" rx="5" fill="#d6d6d6" filter="url(#b3)" opacity="1"/>
<rect x="1293.2" y="410.9" width="38.9" height="6" rx="3" fill="#e0e0e0" filter="url(#b2)" opacity="1"/>
<rect x="1339.7" y="409" width="55" height="12" rx="6" fill="#000" filter="url(#b1)" opacity="1"/>
<path d="M1468.4 411.1L1512.3 414.1A4.5 4.5 0 0 1 1512.3 423.1L1468.4 420.1A4.5 4.5 0 0 1 1468.4 411.1Z" fill="#5a5a5a" filter="url(#b2)" opacity="1"/>
<rect x="1495" y="414.5" width="21.8" height="8" rx="4" fill="#3a3a3a" filter="url(#b1)" opacity="1"/>
<path d="M1532.5 413L1567 415A6 6 0 0 1 1567 427L1532.5 425A6 6 0 0 1 1532.5 413Z" fill="#050505" filter="url(#b1)" opacity="1"/>
<rect x="1291" y="466.6" width="45.4" height="9" rx="4.5" fill="#000" filter="url(#b1)" opacity="1"/>
<path d="M1346.3 467.4L1383.8 471.4A4.5 4.5 0 0 1 1383.8 480.4L1346.3 476.4A4.5 4.5 0 0 1 1346.3 467.4Z" fill="#000" filter="url(#b1)" opacity="1"/>
<rect x="1463.9" y="467.3" width="49.7" height="9" rx="4.5" fill="#000" filter="url(#b1)" opacity="1"/>
<rect x="1525.4" y="467.1" width="49.7" height="8" rx="4" fill="#000" filter="url(#b1)" opacity="1"/>
<rect x="1258.2" y="254.3" width="166.4" height="59.4" fill="none" stroke="#000" stroke-width="3"/>
<rect x="1429.7" y="254.8" width="167.7" height="58.9" fill="none" stroke="#000" stroke-width="3"/>
<rect x="1257.6" y="318" width="167.4" height="59.5" fill="none" stroke="#000" stroke-width="3"/>
<rect x="1431" y="319.1" width="164.6" height="57.3" fill="none" stroke="#000" stroke-width="3"/>
<rect x="1258.2" y="382.6" width="166.4" height="56.1" fill="none" stroke="#000" stroke-width="3"/>
<rect x="1431.5" y="382.6" width="163.7" height="56.6" fill="none" stroke="#000" stroke-width="3"/>
<rect x="1258.2" y="445.2" width="166.4" height="54" fill="none" stroke="#000" stroke-width="3"/>
<rect x="1431.5" y="444.1" width="163.7" height="55.5" fill="none" stroke="#000" stroke-width="3"/>
<text font-size="28" font-weight="bold" text-anchor="end" transform="translate(1243 295) scale(1 1.04)">53 KDa</text>
<text font-size="28" font-weight="bold" text-anchor="end" transform="translate(1243 355.6) scale(1 1.04)">20 KDa</text>
<text font-size="28" font-weight="bold" text-anchor="end" transform="translate(1243 417.6) scale(1 1.04)">21 KDa</text>
<text font-size="28" font-weight="bold" text-anchor="end" transform="translate(1243 478.8) scale(1 1.04)">37 KDa</text>
<text font-size="28.2" font-weight="bold" transform="translate(1607 295) scale(1 1.04)">p53</text>
<text font-size="28.2" font-weight="bold" transform="translate(1607 355.6) scale(1 1.04)">BAX</text>
<text font-size="28.2" font-weight="bold" transform="translate(1607 417.6) scale(1 1.04)">p21</text>
<text font-size="28.2" font-weight="bold" transform="translate(1607 478.8) scale(1 1.04)">GAPDH</text>
<text font-size="28" font-weight="bold" text-anchor="middle" transform="translate(1344 531) scale(1 1.04)">D15</text>
<text font-size="28" font-weight="bold" text-anchor="middle" transform="translate(1515 531) scale(1 1.04)">D15</text>
<text font-size="30" font-weight="bold" transform="translate(1312 240.3) rotate(-50)">Luciferase-shRNA</text>
<text font-size="30" font-weight="bold" transform="translate(1381.5 240.3) rotate(-50) scale(1 1.04)">DNMT1-shRNA1</text>
<text font-size="30" font-weight="bold" transform="translate(1501 240.3) rotate(-50) scale(1 1.04)">N-DMSO</text>
<text font-size="30" font-weight="bold" transform="translate(1558 240.5) rotate(-50) scale(1 1.04)">DC-517</text>
<text font-size="40" font-weight="bold" transform="translate(1135 1029.3) scale(1 1.04)">G</text>
<rect x="1154.9" y="1268.2" width="171.1" height="51.8" fill="#fcfcfc"/>
<rect x="1331.1" y="1268.2" width="168.2" height="51.4" fill="#fcfcfc"/>
<rect x="1155.6" y="1326" width="169.3" height="53.6" fill="#fcfcfc"/>
<rect x="1331.6" y="1325.6" width="167.3" height="54.4" fill="#fcfcfc"/>
<rect x="1155.6" y="1386.7" width="169.3" height="51.1" fill="#fcfcfc"/>
<rect x="1331.6" y="1386.7" width="167.3" height="50" fill="#fcfcfc"/>
<rect x="1176.9" y="1276.2" width="119.1" height="35.8" fill="#e6e6e6" filter="url(#b5)" opacity="0.45"/>
<rect x="1356.1" y="1276.2" width="118.2" height="35.4" fill="#e6e6e6" filter="url(#b5)" opacity="0.45"/>
<rect x="1177.6" y="1334" width="117.3" height="37.6" fill="#e6e6e6" filter="url(#b5)" opacity="0.45"/>
<rect x="1356.6" y="1333.6" width="117.3" height="38.4" fill="#e6e6e6" filter="url(#b5)" opacity="0.45"/>
<rect x="1177.6" y="1394.7" width="117.3" height="35.1" fill="#e6e6e6" filter="url(#b5)" opacity="0.45"/>
<rect x="1356.6" y="1394.7" width="117.3" height="34" fill="#e6e6e6" filter="url(#b5)" opacity="0.45"/>
<rect x="1182.2" y="1290.9" width="47.8" height="8" rx="4" fill="#4a4a4a" filter="url(#b2)" opacity="1"/>
<path d="M1245.6 1291.2L1287.7 1293.2A4.5 4.5 0 0 1 1287.7 1302.2L1245.6 1300.2A4.5 4.5 0 0 1 1245.6 1291.2Z" fill="#303030" filter="url(#b2)" opacity="1"/>
<path d="M1364 1285.4L1403.8 1287.4A4 4 0 0 1 1403.8 1295.4L1364 1293.4A4 4 0 0 1 1364 1285.4Z" fill="#7a7a7a" filter="url(#b2)" opacity="1"/>
<path d="M1424.5 1288.1L1466.6 1294.1A4.5 4.5 0 0 1 1466.6 1303.1L1424.5 1297.1A4.5 4.5 0 0 1 1424.5 1288.1Z" fill="#202020" filter="url(#b2)" opacity="1"/>
<rect x="1425" y="1274.7" width="40" height="4" rx="2" fill="#e0e0e0" filter="url(#b2)" opacity="1"/>
<rect x="1172" y="1338" width="150" height="34" rx="17" fill="#d0d0d0" filter="url(#b3)" opacity="1"/>
<rect x="1176.7" y="1343.8" width="53.3" height="8" rx="4" fill="#6a6a6a" filter="url(#b2)" opacity="1"/>
<rect x="1183.3" y="1359.2" width="46.7" height="7" rx="3.5" fill="#7a7a7a" filter="url(#b2)" opacity="1"/>
<rect x="1235.6" y="1340.8" width="54.4" height="13" rx="6.5" fill="#000" filter="url(#b2)" opacity="1"/>
<rect x="1235.6" y="1358.7" width="50" height="8" rx="4" fill="#1e1e1e" filter="url(#b2)" opacity="1"/>
<rect x="1301" y="1356" width="20" height="3.5" rx="1.8" fill="#444" filter="url(#b1)" opacity="1"/>
<rect x="1360" y="1348.2" width="47.8" height="8" rx="4" fill="#9c9c9c" filter="url(#b2)" opacity="1"/>
<rect x="1360" y="1360" width="47.8" height="6" rx="3" fill="#cacaca" filter="url(#b2)" opacity="1"/>
<path d="M1425.5 1347.9L1468.8 1351.9A4.5 4.5 0 0 1 1468.8 1360.9L1425.5 1356.9A4.5 4.5 0 0 1 1425.5 1347.9Z" fill="#202020" filter="url(#b2)" opacity="1"/>
<path d="M1426.5 1360.7L1467.5 1363.7A4.5 4.5 0 0 1 1467.5 1372.7L1426.5 1369.7A4.5 4.5 0 0 1 1426.5 1360.7Z" fill="#101010" filter="url(#b2)" opacity="1"/>
<rect x="1425" y="1333" width="40" height="4" rx="2" fill="#e4e4e4" filter="url(#b2)" opacity="1"/>
<path d="M1182.7 1405.9L1220.7 1410.9A6 6 0 0 1 1220.7 1422.9L1182.7 1417.9A6 6 0 0 1 1182.7 1405.9Z" fill="#000" filter="url(#b1)" opacity="1"/>
<path d="M1239.8 1410.9L1280.2 1413.9A6.5 6.5 0 0 1 1280.2 1426.9L1239.8 1423.9A6.5 6.5 0 0 1 1239.8 1410.9Z" fill="#000" filter="url(#b1)" opacity="1"/>
<rect x="1360" y="1411.2" width="48.9" height="11" rx="5.5" fill="#000" filter="url(#b1)" opacity="1"/>
<path d="M1422.7 1413L1464 1415A6 6 0 0 1 1464 1427L1422.7 1425A6 6 0 0 1 1422.7 1413Z" fill="#000" filter="url(#b1)" opacity="1"/>
<rect x="1154.9" y="1268.2" width="171.1" height="51.8" fill="none" stroke="#000" stroke-width="3"/>
<rect x="1331.1" y="1268.2" width="168.2" height="51.4" fill="none" stroke="#000" stroke-width="3"/>
<rect x="1155.6" y="1326" width="169.3" height="53.6" fill="none" stroke="#000" stroke-width="3"/>
<rect x="1331.6" y="1325.6" width="167.3" height="54.4" fill="none" stroke="#000" stroke-width="3"/>
<rect x="1155.6" y="1386.7" width="169.3" height="51.1" fill="none" stroke="#000" stroke-width="3"/>
<rect x="1331.6" y="1386.7" width="167.3" height="50" fill="none" stroke="#000" stroke-width="3"/>
<text font-size="28" font-weight="bold" text-anchor="end" transform="translate(1147.3 1300.3) scale(1 1.04)">32 KDa</text>
<text font-size="28" font-weight="bold" text-anchor="end" transform="translate(1147.3 1348.7) scale(1 1.04)">19 KDa</text>
<text font-size="28" font-weight="bold" text-anchor="end" transform="translate(1147.3 1378.2) scale(1 1.04)">17 KDa</text>
<text font-size="28" font-weight="bold" text-anchor="end" transform="translate(1147.3 1422.9) scale(1 1.04)">37 KDa</text>
<text font-size="28.8" font-weight="bold" transform="translate(1504.8 1300.3)">Total Caspase 3</text>
<text font-size="28.5" font-weight="bold" transform="translate(1504.8 1356.2)">Cleaved Caspase 3</text>
<text font-size="27.9" font-weight="bold" transform="translate(1504.8 1419.4) scale(1 1.04)">GAPDH</text>
<text font-size="30" font-weight="bold" transform="translate(1204 1266.5) rotate(-50)">Luciferase-shRNA</text>
<text font-size="30" font-weight="bold" transform="translate(1269 1266.5) rotate(-50) scale(1 1.04)">DNMT1-shRNA1</text>
<text font-size="30" font-weight="bold" transform="translate(1386 1266.5) rotate(-50) scale(1 1.04)">N-DMSO</text>
<text font-size="30" font-weight="bold" transform="translate(1451 1266.5) rotate(-50) scale(1 1.04)">DC-517</text>
<text font-size="40" font-weight="bold" transform="translate(1137 580.5) scale(1 1.04)">D</text>
<rect x="1227.4" y="649.3" width="164.8" height="145.7" fill="#fff"/>
<path d="M1294.5 735.5h0M1260.5 742.5h0M1271.5 733.5h0M1265.5 726.5h0M1333.5 712.5h0M1330.5 710.5h0M1316.5 720.5h0M1313.5 717.5h0M1367.5 775.5h0M1344.5 779.5h0M1256.5 783.5h0M1313.5 782.5h0M1369.5 765.5h0M1349.5 766.5h0M1314.5 787.5h0M1326.5 757.5h0M1302.5 778.5h0M1278.5 782.5h0M1238.5 765.5h0M1230.5 769.5h0M1296.5 782.5h0M1308.5 779.5h0M1284.5 783.5h0M1293.5 778.5h0M1303.5 777.5h0M1256.5 744.5h0M1248.5 748.5h0M1253.5 742.5h0M1247.5 750.5h0M1252.5 746.5h0M1265.5 745.5h0M1266.5 758.5h0M1244.5 761.5h0M1242.5 759.5h0M1250.5 752.5h0M1249.5 758.5h0M1249.5 747.5h0M1246.5 761.5h0M1264.5 739.5h0M1259.5 737.5h0M1263.5 753.5h0M1305.5 757.5h0M1354.5 770.5h0M1335.5 777.5h0M1328.5 760.5h0M1354.5 768.5h0M1355.5 766.5h0M1333.5 754.5h0M1322.5 756.5h0M1332.5 782.5h0M1347.5 757.5h0M1243.5 776.5h0M1355.5 760.5h0M1305.5 755.5h0M1347.5 757.5h0M1348.5 770.5h0M1358.5 774.5h0M1334.5 758.5h0M1320.5 751.5h0M1241.5 775.5h0M1288.5 780.5h0M1288.5 781.5h0" stroke="#0000e5" stroke-width="1.5" stroke-linecap="square"/>
<path d="M1312.5 776.5h0M1247.5 778.5h0M1323.5 773.5h0M1321.5 770.5h0M1321.5 774.5h0M1341.5 771.5h0M1326.5 776.5h0M1342.5 770.5h0M1342.5 769.5h0M1319.5 778.5h0M1319.5 772.5h0M1313.5 765.5h0M1319.5 775.5h0M1333.5 775.5h0M1291.5 777.5h0M1329.5 770.5h0M1290.5 777.5h0M1345.5 773.5h0M1298.5 767.5h0M1314.5 775.5h0M1337.5 762.5h0M1344.5 770.5h0M1324.5 774.5h0M1334.5 768.5h0M1324.5 777.5h0M1320.5 772.5h0M1322.5 776.5h0M1330.5 766.5h0M1320.5 776.5h0M1258.5 749.5h0M1338.5 774.5h0M1338.5 765.5h0M1300.5 765.5h0M1327.5 770.5h0M1306.5 764.5h0M1280.5 765.5h0M1299.5 766.5h0M1323.5 774.5h0M1318.5 774.5h0M1315.5 776.5h0M1311.5 775.5h0M1299.5 767.5h0M1283.5 764.5h0M1299.5 776.5h0M1310.5 778.5h0M1306.5 767.5h0M1316.5 775.5h0M1306.5 764.5h0M1290.5 764.5h0M1313.5 764.5h0M1313.5 766.5h0M1301.5 771.5h0M1315.5 763.5h0M1289.5 776.5h0M1316.5 769.5h0M1295.5 765.5h0M1329.5 775.5h0M1322.5 766.5h0M1329.5 762.5h0M1325.5 769.5h0M1312.5 765.5h0M1335.5 768.5h0M1321.5 769.5h0M1316.5 768.5h0M1329.5 772.5h0M1335.5 764.5h0M1339.5 765.5h0M1316.5 764.5h0M1252.5 781.5h0M1346.5 776.5h0M1330.5 774.5h0M1312.5 765.5h0M1312.5 777.5h0M1342.5 776.5h0M1314.5 762.5h0M1325.5 759.5h0M1262.5 754.5h0M1262.5 761.5h0M1258.5 747.5h0M1258.5 754.5h0M1251.5 755.5h0M1263.5 757.5h0M1247.5 766.5h0M1249.5 762.5h0M1256.5 747.5h0M1339.5 772.5h0M1317.5 775.5h0M1331.5 763.5h0M1317.5 764.5h0M1328.5 770.5h0M1321.5 770.5h0M1259.5 751.5h0M1256.5 747.5h0M1250.5 760.5h0M1257.5 755.5h0M1255.5 750.5h0M1258.5 781.5h0M1254.5 747.5h0M1243.5 769.5h0M1295.5 765.5h0M1300.5 773.5h0M1303.5 776.5h0M1296.5 775.5h0M1257.5 779.5h0M1319.5 767.5h0M1292.5 765.5h0M1276.5 763.5h0M1252.5 754.5h0M1259.5 755.5h0M1256.5 748.5h0M1254.5 783.5h0M1253.5 756.5h0M1256.5 752.5h0M1267.5 780.5h0M1262.5 780.5h0M1246.5 781.5h0M1262.5 759.5h0M1272.5 765.5h0M1269.5 762.5h0M1276.5 780.5h0M1288.5 777.5h0M1270.5 779.5h0M1242.5 772.5h0M1273.5 763.5h0M1271.5 780.5h0M1314.5 776.5h0M1339.5 773.5h0M1293.5 773.5h0M1336.5 767.5h0M1336.5 765.5h0M1317.5 767.5h0M1325.5 769.5h0M1343.5 771.5h0M1339.5 768.5h0M1344.5 775.5h0M1325.5 778.5h0M1304.5 767.5h0M1286.5 777.5h0M1341.5 771.5h0M1318.5 766.5h0M1321.5 766.5h0M1336.5 774.5h0M1325.5 756.5h0M1332.5 770.5h0M1317.5 769.5h0M1330.5 764.5h0M1325.5 770.5h0M1345.5 771.5h0M1325.5 769.5h0M1255.5 781.5h0M1339.5 767.5h0M1325.5 769.5h0M1339.5 767.5h0M1329.5 769.5h0M1327.5 768.5h0M1341.5 770.5h0M1314.5 779.5h0M1328.5 774.5h0M1336.5 770.5h0" stroke="#0019ff" stroke-width="1.5" stroke-linecap="square"/>
<path d="M1297.5 772.5h0M1293.5 771.5h0M1314.5 773.5h0M1250.5 778.5h0M1307.5 769.5h0M1296.5 770.5h0M1316.5 769.5h0M1297.5 772.5h0M1280.5 767.5h0M1302.5 768.5h0M1247.5 768.5h0M1283.5 775.5h0M1295.5 765.5h0M1301.5 768.5h0M1286.5 767.5h0M1273.5 779.5h0M1251.5 762.5h0M1283.5 776.5h0M1280.5 776.5h0M1264.5 765.5h0M1244.5 770.5h0M1272.5 778.5h0M1268.5 765.5h0M1269.5 765.5h0M1317.5 773.5h0M1252.5 761.5h0M1246.5 769.5h0M1252.5 779.5h0M1249.5 778.5h0M1261.5 756.5h0M1256.5 757.5h0M1252.5 761.5h0M1250.5 765.5h0M1257.5 759.5h0M1259.5 758.5h0M1267.5 765.5h0M1258.5 756.5h0M1261.5 764.5h0M1260.5 764.5h0M1253.5 756.5h0M1251.5 765.5h0M1259.5 761.5h0M1258.5 759.5h0M1257.5 757.5h0M1289.5 764.5h0M1292.5 767.5h0M1292.5 773.5h0M1310.5 770.5h0M1289.5 767.5h0M1293.5 773.5h0M1291.5 775.5h0M1276.5 765.5h0M1292.5 772.5h0M1307.5 775.5h0M1251.5 762.5h0M1260.5 763.5h0M1252.5 761.5h0M1281.5 777.5h0M1273.5 779.5h0M1284.5 766.5h0M1299.5 770.5h0M1277.5 765.5h0M1251.5 778.5h0M1252.5 777.5h0M1258.5 759.5h0M1256.5 758.5h0M1253.5 760.5h0M1249.5 778.5h0M1261.5 763.5h0M1258.5 759.5h0M1260.5 764.5h0M1252.5 759.5h0M1253.5 759.5h0M1258.5 763.5h0M1256.5 758.5h0M1259.5 755.5h0M1261.5 763.5h0M1330.5 768.5h0M1286.5 765.5h0M1260.5 758.5h0M1333.5 768.5h0M1251.5 765.5h0M1332.5 768.5h0M1288.5 764.5h0M1312.5 769.5h0M1313.5 771.5h0M1312.5 770.5h0M1333.5 765.5h0M1330.5 769.5h0M1266.5 764.5h0M1311.5 772.5h0M1310.5 769.5h0M1291.5 774.5h0M1285.5 777.5h0M1297.5 775.5h0M1296.5 770.5h0M1291.5 766.5h0M1288.5 773.5h0M1296.5 769.5h0M1297.5 771.5h0M1289.5 766.5h0M1293.5 769.5h0M1291.5 766.5h0M1286.5 765.5h0M1317.5 770.5h0M1297.5 771.5h0M1297.5 774.5h0M1292.5 769.5h0M1282.5 777.5h0M1298.5 774.5h0M1293.5 771.5h0M1296.5 772.5h0M1285.5 767.5h0M1306.5 773.5h0M1297.5 773.5h0M1282.5 766.5h0M1314.5 770.5h0M1289.5 767.5h0M1303.5 769.5h0M1301.5 771.5h0M1280.5 767.5h0M1292.5 768.5h0M1307.5 775.5h0M1293.5 771.5h0M1275.5 778.5h0M1296.5 774.5h0M1311.5 769.5h0M1310.5 771.5h0M1296.5 775.5h0M1330.5 769.5h0M1256.5 757.5h0M1258.5 761.5h0M1307.5 768.5h0M1311.5 768.5h0M1312.5 770.5h0M1315.5 771.5h0M1333.5 767.5h0M1310.5 771.5h0M1289.5 767.5h0M1293.5 770.5h0M1293.5 773.5h0M1282.5 775.5h0M1300.5 770.5h0M1284.5 777.5h0M1276.5 778.5h0M1244.5 770.5h0M1333.5 769.5h0M1313.5 768.5h0M1319.5 771.5h0M1294.5 769.5h0M1312.5 773.5h0M1245.5 770.5h0M1252.5 779.5h0M1253.5 778.5h0" stroke="#004cff" stroke-width="1.5" stroke-linecap="square"/>
<path d="M1298.5 769.5h0M1305.5 770.5h0M1256.5 779.5h0M1286.5 773.5h0M1256.5 777.5h0M1284.5 769.5h0M1306.5 773.5h0M1271.5 779.5h0M1298.5 769.5h0M1298.5 773.5h0M1306.5 770.5h0M1245.5 774.5h0M1290.5 773.5h0M1248.5 769.5h0M1254.5 762.5h0M1309.5 773.5h0M1308.5 773.5h0M1308.5 773.5h0M1289.5 772.5h0M1255.5 761.5h0M1284.5 773.5h0M1270.5 778.5h0M1287.5 770.5h0M1264.5 766.5h0M1258.5 777.5h0M1288.5 772.5h0M1289.5 769.5h0M1304.5 772.5h0M1304.5 772.5h0M1286.5 772.5h0M1265.5 766.5h0M1299.5 769.5h0M1285.5 768.5h0M1299.5 769.5h0M1278.5 766.5h0M1299.5 770.5h0M1258.5 763.5h0M1277.5 766.5h0M1255.5 760.5h0M1254.5 765.5h0M1256.5 761.5h0M1279.5 766.5h0M1256.5 765.5h0M1255.5 763.5h0M1257.5 762.5h0M1284.5 775.5h0M1284.5 773.5h0M1263.5 779.5h0M1258.5 764.5h0M1286.5 769.5h0M1285.5 769.5h0M1278.5 776.5h0M1252.5 763.5h0M1268.5 778.5h0M1259.5 765.5h0M1277.5 766.5h0M1304.5 770.5h0M1276.5 767.5h0M1287.5 769.5h0M1265.5 767.5h0M1256.5 763.5h0M1307.5 773.5h0M1309.5 770.5h0M1286.5 775.5h0M1291.5 772.5h0M1291.5 769.5h0M1288.5 773.5h0M1256.5 764.5h0M1275.5 767.5h0M1306.5 772.5h0M1258.5 779.5h0M1272.5 766.5h0M1273.5 767.5h0M1264.5 779.5h0M1291.5 770.5h0M1288.5 773.5h0M1274.5 765.5h0M1254.5 760.5h0M1254.5 761.5h0M1256.5 761.5h0M1299.5 770.5h0M1306.5 771.5h0M1248.5 769.5h0M1248.5 769.5h0M1288.5 771.5h0M1268.5 778.5h0M1263.5 777.5h0M1305.5 769.5h0M1248.5 768.5h0M1276.5 767.5h0M1251.5 766.5h0M1285.5 771.5h0M1289.5 771.5h0M1247.5 777.5h0M1250.5 767.5h0M1258.5 777.5h0M1286.5 773.5h0M1244.5 772.5h0M1263.5 778.5h0M1290.5 768.5h0M1250.5 766.5h0M1304.5 769.5h0M1257.5 778.5h0M1259.5 778.5h0M1245.5 773.5h0M1269.5 778.5h0M1253.5 765.5h0M1245.5 773.5h0M1307.5 770.5h0M1307.5 772.5h0M1276.5 767.5h0M1284.5 768.5h0M1304.5 773.5h0M1284.5 769.5h0M1305.5 772.5h0M1286.5 772.5h0M1288.5 769.5h0M1287.5 768.5h0M1244.5 772.5h0M1307.5 773.5h0M1298.5 768.5h0M1255.5 765.5h0M1289.5 772.5h0M1304.5 770.5h0M1290.5 768.5h0" stroke="#007fff" stroke-width="1.5" stroke-linecap="square"/>
<path d="M1247.5 769.5h0M1275.5 775.5h0M1282.5 769.5h0M1270.5 767.5h0M1272.5 768.5h0M1266.5 766.5h0M1276.5 776.5h0M1262.5 767.5h0M1273.5 768.5h0M1275.5 777.5h0M1263.5 767.5h0M1275.5 777.5h0M1273.5 769.5h0M1280.5 769.5h0M1274.5 777.5h0M1273.5 777.5h0M1279.5 775.5h0M1281.5 773.5h0M1275.5 776.5h0M1283.5 771.5h0M1282.5 774.5h0M1280.5 768.5h0M1263.5 766.5h0M1282.5 773.5h0M1272.5 776.5h0M1261.5 767.5h0M1283.5 774.5h0M1281.5 771.5h0M1280.5 774.5h0M1261.5 767.5h0M1281.5 769.5h0M1270.5 766.5h0M1283.5 774.5h0M1275.5 776.5h0M1266.5 766.5h0M1282.5 769.5h0M1273.5 775.5h0M1273.5 777.5h0M1281.5 774.5h0M1282.5 770.5h0M1283.5 769.5h0M1269.5 766.5h0M1283.5 771.5h0M1266.5 767.5h0M1282.5 771.5h0M1269.5 766.5h0M1277.5 776.5h0M1246.5 771.5h0M1280.5 768.5h0M1282.5 772.5h0M1283.5 768.5h0M1270.5 766.5h0M1266.5 766.5h0M1280.5 774.5h0M1268.5 766.5h0M1280.5 768.5h0M1275.5 777.5h0" stroke="#00b2ff" stroke-width="1.5" stroke-linecap="square"/>
<path d="M1247.5 774.5h0M1245.5 774.5h0M1247.5 774.5h0M1247.5 775.5h0M1247.5 774.5h0M1246.5 775.5h0M1274.5 768.5h0M1246.5 773.5h0M1246.5 774.5h0M1253.5 766.5h0M1276.5 769.5h0M1276.5 769.5h0M1264.5 776.5h0M1279.5 769.5h0M1281.5 772.5h0M1281.5 773.5h0M1274.5 768.5h0M1276.5 769.5h0M1271.5 776.5h0M1251.5 769.5h0M1247.5 772.5h0M1280.5 773.5h0M1265.5 777.5h0M1271.5 776.5h0M1257.5 766.5h0M1265.5 777.5h0M1253.5 767.5h0M1265.5 776.5h0M1277.5 769.5h0M1267.5 776.5h0M1270.5 776.5h0M1266.5 777.5h0M1268.5 777.5h0M1269.5 777.5h0M1252.5 766.5h0M1265.5 777.5h0M1281.5 769.5h0M1280.5 772.5h0M1280.5 769.5h0M1268.5 776.5h0M1246.5 772.5h0M1281.5 770.5h0M1246.5 772.5h0M1265.5 776.5h0M1281.5 771.5h0M1246.5 775.5h0M1278.5 768.5h0M1280.5 771.5h0M1268.5 777.5h0M1269.5 776.5h0M1281.5 773.5h0M1281.5 773.5h0M1247.5 775.5h0M1246.5 773.5h0M1246.5 772.5h0M1277.5 768.5h0M1274.5 768.5h0M1277.5 768.5h0" stroke="#00e5ff" stroke-width="1.5" stroke-linecap="square"/>
<path d="M1255.5 767.5h0M1264.5 768.5h0M1264.5 768.5h0M1271.5 769.5h0M1248.5 776.5h0M1260.5 769.5h0M1255.5 766.5h0M1260.5 768.5h0M1261.5 768.5h0M1270.5 768.5h0M1278.5 774.5h0M1261.5 768.5h0M1261.5 777.5h0M1260.5 767.5h0M1264.5 768.5h0M1270.5 769.5h0M1260.5 769.5h0M1272.5 771.5h0M1264.5 768.5h0M1273.5 770.5h0M1279.5 775.5h0M1263.5 769.5h0M1261.5 769.5h0M1277.5 775.5h0M1263.5 776.5h0M1272.5 771.5h0M1270.5 769.5h0M1249.5 771.5h0M1261.5 769.5h0M1263.5 776.5h0M1248.5 771.5h0M1256.5 767.5h0M1257.5 766.5h0M1249.5 776.5h0M1263.5 776.5h0M1263.5 777.5h0M1260.5 768.5h0M1257.5 766.5h0M1270.5 769.5h0M1248.5 770.5h0M1271.5 768.5h0M1256.5 766.5h0M1261.5 768.5h0M1262.5 769.5h0M1249.5 771.5h0M1255.5 767.5h0M1261.5 776.5h0M1272.5 771.5h0M1248.5 777.5h0M1265.5 768.5h0M1249.5 777.5h0M1279.5 775.5h0M1261.5 777.5h0" stroke="#19ffe5" stroke-width="1.5" stroke-linecap="square"/>
<path d="M1260.5 775.5h0M1249.5 776.5h0M1276.5 770.5h0M1251.5 776.5h0M1268.5 775.5h0M1271.5 774.5h0M1251.5 768.5h0M1279.5 770.5h0M1269.5 769.5h0M1278.5 772.5h0M1274.5 774.5h0M1274.5 775.5h0M1267.5 768.5h0M1276.5 771.5h0M1273.5 771.5h0M1250.5 775.5h0M1269.5 774.5h0M1258.5 777.5h0M1274.5 775.5h0M1259.5 777.5h0M1275.5 774.5h0M1275.5 774.5h0M1275.5 773.5h0M1269.5 769.5h0M1253.5 768.5h0M1267.5 768.5h0M1269.5 769.5h0M1272.5 772.5h0M1261.5 776.5h0M1273.5 774.5h0M1279.5 773.5h0M1276.5 774.5h0M1267.5 769.5h0M1278.5 773.5h0M1266.5 769.5h0M1275.5 769.5h0M1272.5 773.5h0M1258.5 775.5h0M1260.5 777.5h0M1261.5 776.5h0M1268.5 774.5h0M1268.5 769.5h0M1261.5 776.5h0M1274.5 774.5h0M1277.5 771.5h0M1261.5 777.5h0M1271.5 773.5h0M1277.5 774.5h0M1270.5 773.5h0M1276.5 770.5h0M1272.5 773.5h0M1278.5 770.5h0M1252.5 768.5h0M1272.5 772.5h0M1278.5 772.5h0M1270.5 774.5h0M1267.5 774.5h0M1276.5 769.5h0M1277.5 771.5h0M1276.5 774.5h0M1278.5 773.5h0M1268.5 774.5h0M1273.5 771.5h0M1279.5 771.5h0M1273.5 772.5h0M1268.5 775.5h0M1268.5 769.5h0M1252.5 768.5h0M1276.5 769.5h0M1271.5 774.5h0M1279.5 770.5h0M1268.5 774.5h0M1278.5 771.5h0M1252.5 769.5h0M1277.5 770.5h0M1277.5 770.5h0M1275.5 775.5h0M1276.5 775.5h0M1274.5 771.5h0M1273.5 771.5h0M1268.5 775.5h0M1278.5 772.5h0M1253.5 769.5h0M1270.5 774.5h0M1269.5 768.5h0M1277.5 774.5h0M1272.5 772.5h0M1277.5 771.5h0M1276.5 774.5h0M1261.5 776.5h0M1279.5 773.5h0M1268.5 773.5h0M1270.5 774.5h0M1273.5 771.5h0M1269.5 767.5h0M1269.5 768.5h0M1253.5 769.5h0M1271.5 774.5h0M1276.5 774.5h0" stroke="#4cffb2" stroke-width="1.5" stroke-linecap="square"/>
<path d="M1251.5 771.5h0M1258.5 769.5h0M1249.5 770.5h0M1251.5 771.5h0M1255.5 776.5h0M1257.5 775.5h0M1259.5 768.5h0M1271.5 771.5h0M1256.5 777.5h0M1255.5 776.5h0M1274.5 773.5h0M1257.5 776.5h0M1249.5 771.5h0M1251.5 770.5h0M1275.5 772.5h0M1253.5 776.5h0M1249.5 771.5h0M1249.5 775.5h0M1252.5 776.5h0M1275.5 773.5h0M1257.5 776.5h0M1249.5 775.5h0M1270.5 773.5h0M1256.5 777.5h0M1249.5 774.5h0M1277.5 773.5h0M1270.5 773.5h0M1271.5 772.5h0M1266.5 774.5h0M1275.5 772.5h0M1275.5 772.5h0M1269.5 772.5h0M1254.5 777.5h0M1274.5 772.5h0M1266.5 775.5h0M1271.5 771.5h0M1275.5 773.5h0M1251.5 771.5h0M1276.5 772.5h0M1275.5 773.5h0M1275.5 772.5h0M1270.5 773.5h0M1249.5 773.5h0M1266.5 775.5h0M1270.5 770.5h0M1276.5 772.5h0M1248.5 774.5h0M1266.5 775.5h0M1271.5 771.5h0M1277.5 773.5h0M1249.5 775.5h0M1275.5 772.5h0M1258.5 769.5h0M1270.5 772.5h0M1270.5 773.5h0M1271.5 771.5h0M1259.5 769.5h0M1267.5 774.5h0M1276.5 772.5h0M1276.5 772.5h0M1259.5 769.5h0M1277.5 773.5h0M1259.5 768.5h0M1271.5 771.5h0M1277.5 772.5h0M1252.5 776.5h0M1254.5 776.5h0M1275.5 772.5h0M1250.5 770.5h0M1248.5 773.5h0M1259.5 768.5h0M1251.5 770.5h0M1258.5 767.5h0M1270.5 771.5h0" stroke="#7fff7f" stroke-width="1.5" stroke-linecap="square"/>
<path d="M1249.5 773.5h0M1257.5 769.5h0M1263.5 772.5h0M1263.5 772.5h0M1262.5 775.5h0M1249.5 772.5h0M1255.5 768.5h0M1268.5 771.5h0M1268.5 770.5h0M1263.5 769.5h0M1268.5 771.5h0M1257.5 767.5h0M1263.5 772.5h0M1255.5 767.5h0M1265.5 774.5h0M1263.5 775.5h0M1267.5 771.5h0M1249.5 771.5h0M1263.5 774.5h0M1264.5 774.5h0M1263.5 770.5h0M1268.5 771.5h0M1257.5 768.5h0M1269.5 773.5h0M1264.5 770.5h0M1268.5 769.5h0M1265.5 770.5h0M1263.5 772.5h0M1262.5 771.5h0M1263.5 773.5h0M1263.5 775.5h0M1255.5 768.5h0M1268.5 772.5h0M1261.5 770.5h0M1269.5 772.5h0M1256.5 769.5h0M1264.5 770.5h0M1265.5 771.5h0M1269.5 772.5h0M1263.5 773.5h0M1265.5 774.5h0M1262.5 772.5h0M1254.5 768.5h0M1269.5 770.5h0M1254.5 769.5h0M1265.5 771.5h0M1263.5 773.5h0M1263.5 775.5h0M1269.5 770.5h0M1263.5 771.5h0M1262.5 775.5h0M1265.5 770.5h0M1254.5 769.5h0M1249.5 773.5h0M1254.5 768.5h0M1255.5 769.5h0M1254.5 769.5h0M1247.5 773.5h0M1268.5 770.5h0M1269.5 771.5h0M1247.5 773.5h0M1262.5 771.5h0M1263.5 774.5h0M1256.5 768.5h0M1248.5 772.5h0M1256.5 769.5h0M1255.5 769.5h0M1262.5 772.5h0M1262.5 772.5h0M1256.5 767.5h0M1254.5 769.5h0M1264.5 771.5h0M1264.5 770.5h0M1268.5 770.5h0M1263.5 774.5h0M1263.5 771.5h0M1262.5 771.5h0M1263.5 770.5h0M1268.5 771.5h0M1265.5 770.5h0M1262.5 771.5h0M1262.5 772.5h0M1264.5 770.5h0M1255.5 769.5h0M1254.5 768.5h0M1268.5 770.5h0M1264.5 771.5h0M1267.5 773.5h0M1255.5 768.5h0M1265.5 771.5h0M1262.5 774.5h0M1262.5 770.5h0M1255.5 769.5h0M1264.5 774.5h0M1268.5 773.5h0M1263.5 771.5h0M1257.5 768.5h0M1256.5 768.5h0M1263.5 774.5h0M1269.5 772.5h0" stroke="#b2ff4c" stroke-width="1.5" stroke-linecap="square"/>
<path d="M1249.5 774.5h0M1259.5 774.5h0M1251.5 774.5h0M1260.5 771.5h0M1264.5 773.5h0M1265.5 773.5h0M1250.5 774.5h0M1267.5 771.5h0M1250.5 775.5h0M1260.5 771.5h0M1264.5 771.5h0M1250.5 775.5h0M1251.5 774.5h0M1251.5 775.5h0M1260.5 774.5h0M1264.5 772.5h0M1265.5 772.5h0M1267.5 772.5h0M1260.5 771.5h0M1267.5 773.5h0M1261.5 775.5h0M1266.5 772.5h0M1266.5 772.5h0M1266.5 773.5h0M1264.5 772.5h0M1264.5 773.5h0M1266.5 772.5h0M1265.5 772.5h0M1267.5 773.5h0M1259.5 774.5h0M1267.5 772.5h0M1261.5 775.5h0M1267.5 771.5h0M1267.5 770.5h0M1267.5 771.5h0M1266.5 773.5h0M1266.5 771.5h0M1251.5 774.5h0M1250.5 775.5h0M1266.5 770.5h0M1264.5 772.5h0M1250.5 775.5h0M1266.5 773.5h0M1261.5 774.5h0M1251.5 774.5h0M1265.5 772.5h0M1250.5 773.5h0M1265.5 771.5h0M1260.5 770.5h0M1261.5 771.5h0M1267.5 771.5h0M1264.5 773.5h0M1267.5 770.5h0M1251.5 774.5h0M1260.5 770.5h0M1260.5 775.5h0M1251.5 774.5h0M1250.5 774.5h0M1260.5 773.5h0M1264.5 772.5h0" stroke="#e5ff19" stroke-width="1.5" stroke-linecap="square"/>
<path d="M1259.5 774.5h0M1250.5 772.5h0M1250.5 772.5h0M1252.5 770.5h0M1258.5 774.5h0M1253.5 771.5h0M1251.5 772.5h0M1252.5 771.5h0M1253.5 771.5h0M1258.5 774.5h0M1251.5 773.5h0M1258.5 774.5h0M1251.5 772.5h0M1259.5 775.5h0M1258.5 773.5h0M1252.5 770.5h0M1259.5 774.5h0M1251.5 772.5h0M1253.5 771.5h0M1250.5 773.5h0M1251.5 773.5h0M1250.5 773.5h0M1261.5 773.5h0M1252.5 769.5h0M1253.5 771.5h0M1250.5 771.5h0M1252.5 770.5h0M1261.5 772.5h0M1257.5 775.5h0M1258.5 775.5h0M1259.5 774.5h0M1250.5 772.5h0M1253.5 771.5h0M1250.5 773.5h0M1250.5 772.5h0M1251.5 772.5h0M1259.5 773.5h0M1259.5 774.5h0" stroke="#ffe500" stroke-width="1.5" stroke-linecap="square"/>
<path d="M1253.5 774.5h0M1258.5 769.5h0M1259.5 771.5h0M1253.5 775.5h0M1258.5 770.5h0M1258.5 770.5h0M1258.5 770.5h0M1252.5 774.5h0M1259.5 770.5h0M1258.5 771.5h0M1253.5 774.5h0M1252.5 775.5h0M1258.5 771.5h0M1252.5 774.5h0M1258.5 770.5h0M1252.5 774.5h0M1253.5 774.5h0M1253.5 774.5h0M1253.5 775.5h0M1258.5 771.5h0M1252.5 774.5h0M1252.5 774.5h0M1253.5 774.5h0M1259.5 770.5h0M1253.5 774.5h0M1259.5 769.5h0M1252.5 775.5h0M1253.5 775.5h0" stroke="#ffb200" stroke-width="1.5" stroke-linecap="square"/>
<path d="M1254.5 774.5h0M1254.5 773.5h0M1259.5 773.5h0M1257.5 774.5h0M1255.5 775.5h0M1257.5 773.5h0M1254.5 774.5h0M1256.5 775.5h0M1254.5 770.5h0M1258.5 773.5h0M1255.5 774.5h0M1259.5 773.5h0M1254.5 774.5h0M1254.5 773.5h0M1255.5 774.5h0M1255.5 770.5h0M1256.5 775.5h0M1256.5 774.5h0M1258.5 772.5h0M1257.5 774.5h0M1256.5 773.5h0M1254.5 774.5h0M1255.5 770.5h0M1255.5 774.5h0M1256.5 775.5h0M1256.5 775.5h0M1253.5 774.5h0M1256.5 774.5h0M1255.5 774.5h0M1257.5 774.5h0M1258.5 773.5h0M1255.5 774.5h0M1258.5 771.5h0M1257.5 774.5h0M1255.5 770.5h0M1254.5 770.5h0M1254.5 770.5h0M1258.5 773.5h0M1258.5 773.5h0M1259.5 772.5h0M1259.5 773.5h0M1259.5 772.5h0M1255.5 775.5h0M1257.5 774.5h0M1257.5 772.5h0M1257.5 774.5h0M1254.5 773.5h0M1254.5 773.5h0M1255.5 769.5h0M1259.5 772.5h0M1259.5 773.5h0M1257.5 773.5h0M1254.5 771.5h0M1259.5 773.5h0M1257.5 773.5h0M1255.5 771.5h0M1256.5 774.5h0M1255.5 773.5h0M1256.5 774.5h0M1254.5 770.5h0M1259.5 773.5h0" stroke="#ff7f00" stroke-width="1.5" stroke-linecap="square"/>
<path d="M1252.5 772.5h0M1252.5 773.5h0M1253.5 773.5h0M1256.5 771.5h0M1256.5 771.5h0M1256.5 771.5h0M1257.5 771.5h0M1256.5 771.5h0M1252.5 772.5h0M1252.5 773.5h0M1256.5 771.5h0M1253.5 772.5h0M1253.5 772.5h0M1253.5 773.5h0M1256.5 771.5h0M1256.5 771.5h0M1252.5 772.5h0M1256.5 771.5h0M1252.5 773.5h0M1252.5 772.5h0M1253.5 772.5h0M1256.5 771.5h0M1257.5 771.5h0" stroke="#ff4c00" stroke-width="1.5" stroke-linecap="square"/>
<path d="M1255.5 772.5h0M1255.5 772.5h0M1254.5 771.5h0M1253.5 772.5h0M1254.5 771.5h0M1255.5 773.5h0M1254.5 773.5h0M1255.5 772.5h0M1255.5 772.5h0M1255.5 772.5h0M1255.5 772.5h0M1254.5 772.5h0M1254.5 771.5h0M1255.5 772.5h0M1254.5 773.5h0M1255.5 772.5h0M1255.5 773.5h0" stroke="#ff1900" stroke-width="1.5" stroke-linecap="square"/>
<path d="M1256.5 772.5h0M1256.5 773.5h0M1257.5 772.5h0M1257.5 772.5h0M1256.5 772.5h0M1257.5 773.5h0M1257.5 772.5h0M1257.5 772.5h0M1256.5 772.5h0M1256.5 773.5h0M1256.5 771.5h0M1255.5 773.5h0M1257.5 771.5h0M1256.5 772.5h0M1256.5 771.5h0M1256.5 772.5h0M1257.5 772.5h0M1256.5 773.5h0M1257.5 773.5h0M1256.5 772.5h0" stroke="#e50000" stroke-width="1.5" stroke-linecap="square"/>
<line x1="1298.5" y1="649.3" x2="1298.5" y2="795" stroke="#000" stroke-width="1.5"/>
<line x1="1227.4" y1="730.5" x2="1392.2" y2="730.5" stroke="#000" stroke-width="1.5"/>
<rect x="1227.4" y="649.3" width="164.8" height="145.7" fill="none" stroke="#222" stroke-width="1.1"/>
<path d="M1223.9 663.4H1227.4M1225.4 673.5H1227.4M1225.4 679.4H1227.4M1225.4 683.6H1227.4M1225.4 686.9H1227.4M1225.4 689.5H1227.4M1225.4 691.8H1227.4M1225.4 693.7H1227.4M1225.4 695.4H1227.4M1223.9 696.2H1227.4M1225.4 706.3H1227.4M1225.4 712.2H1227.4M1225.4 716.4H1227.4M1225.4 719.6H1227.4M1225.4 722.3H1227.4M1225.4 724.5H1227.4M1225.4 726.5H1227.4M1225.4 728.2H1227.4M1223.9 731.6H1227.4M1225.4 741.7H1227.4M1225.4 747.6H1227.4M1225.4 751.8H1227.4M1225.4 755H1227.4M1225.4 757.7H1227.4M1225.4 759.9H1227.4M1225.4 761.9H1227.4M1225.4 763.6H1227.4M1224.9 765.3H1227.4M1224.9 769.3H1227.4M1224.9 772.3H1227.4M1224.9 774.3H1227.4M1224.9 775.3H1227.4M1224.9 776.3H1227.4M1224.9 778.3H1227.4M1224.9 781.3H1227.4M1224.9 785.3H1227.4M1224.9 790.3H1227.4M1302.5 795V798.5M1275.5 795V797M1282.3 795V797M1287.1 795V797M1290.9 795V797M1294 795V797M1296.5 795V797M1298.8 795V797M1300.8 795V797M1341.9 795V798.5M1314.9 795V797M1321.7 795V797M1326.5 795V797M1330.3 795V797M1333.3 795V797M1335.9 795V797M1338.2 795V797M1340.2 795V797M1379.8 795V798.5M1352.8 795V797M1359.6 795V797M1364.4 795V797M1368.2 795V797M1371.2 795V797M1373.8 795V797M1376.1 795V797M1378.1 795V797M1238.3 795V797.5M1242.3 795V797.5M1245.3 795V797.5M1247.3 795V797.5M1249.3 795V797.5M1251.3 795V797.5M1252.3 795V797.5M1253.3 795V797.5M1255.3 795V797.5M1257.3 795V797.5M1260.3 795V797.5M1264.3 795V797.5" stroke="#333" stroke-width="0.8" fill="none"/>
<text x="1219.4" y="665.9" font-size="6.5" text-anchor="end" fill="#333">10<tspan font-size="5" dy="-3">5</tspan></text>
<text x="1219.4" y="698.7" font-size="6.5" text-anchor="end" fill="#333">10<tspan font-size="5" dy="-3">4</tspan></text>
<text x="1219.4" y="734.1" font-size="6.5" text-anchor="end" fill="#333">10<tspan font-size="5" dy="-3">3</tspan></text>
<text x="1219.4" y="777.8" font-size="6.5" text-anchor="end" fill="#333">0</text>
<text x="1252.3" y="808" font-size="6.5" text-anchor="middle" fill="#333">0</text>
<text x="1302.5" y="808" font-size="6.5" text-anchor="middle" fill="#333">10<tspan font-size="5" dy="-3">3</tspan></text>
<text x="1341.9" y="808" font-size="6.5" text-anchor="middle" fill="#333">10<tspan font-size="5" dy="-3">4</tspan></text>
<text x="1379.8" y="808" font-size="6.5" text-anchor="middle" fill="#333">10<tspan font-size="5" dy="-3">5</tspan></text>
<rect x="1410.2" y="649.3" width="164.8" height="145.7" fill="#fff"/>
<path d="M1529.5 745.5h0M1485.5 777.5h0M1445.5 737.5h0M1429.5 737.5h0M1439.5 733.5h0M1429.5 750.5h0M1435.5 736.5h0M1430.5 754.5h0M1449.5 744.5h0M1447.5 748.5h0M1443.5 741.5h0M1443.5 736.5h0M1423.5 778.5h0M1488.5 778.5h0M1520.5 741.5h0M1518.5 776.5h0M1494.5 784.5h0M1520.5 776.5h0M1523.5 747.5h0M1511.5 778.5h0M1516.5 742.5h0M1478.5 759.5h0M1526.5 749.5h0M1505.5 780.5h0M1522.5 756.5h0M1525.5 754.5h0M1509.5 783.5h0M1527.5 765.5h0M1531.5 768.5h0M1492.5 756.5h0M1498.5 752.5h0M1443.5 725.5h0M1491.5 786.5h0M1530.5 750.5h0M1493.5 747.5h0M1465.5 762.5h0M1439.5 723.5h0M1444.5 782.5h0M1473.5 780.5h0M1501.5 744.5h0M1485.5 779.5h0M1532.5 782.5h0M1524.5 776.5h0M1440.5 783.5h0M1420.5 773.5h0M1422.5 767.5h0M1447.5 759.5h0M1428.5 738.5h0M1430.5 751.5h0M1441.5 730.5h0M1434.5 740.5h0M1447.5 753.5h0M1493.5 736.5h0M1532.5 747.5h0M1514.5 741.5h0M1493.5 753.5h0M1436.5 722.5h0M1452.5 718.5h0M1524.5 703.5h0M1520.5 712.5h0M1513.5 705.5h0M1490.5 714.5h0M1490.5 778.5h0" stroke="#0000e5" stroke-width="1.5" stroke-linecap="square"/>
<path d="M1475.5 772.5h0M1503.5 778.5h0M1490.5 766.5h0M1493.5 761.5h0M1484.5 773.5h0M1494.5 776.5h0M1489.5 773.5h0M1479.5 773.5h0M1503.5 739.5h0M1497.5 761.5h0M1519.5 769.5h0M1510.5 772.5h0M1490.5 760.5h0M1513.5 760.5h0M1523.5 769.5h0M1518.5 769.5h0M1520.5 748.5h0M1517.5 770.5h0M1488.5 760.5h0M1508.5 769.5h0M1507.5 754.5h0M1434.5 743.5h0M1434.5 744.5h0M1432.5 747.5h0M1433.5 752.5h0M1437.5 741.5h0M1443.5 744.5h0M1443.5 748.5h0M1432.5 755.5h0M1438.5 740.5h0M1438.5 743.5h0M1434.5 745.5h0M1489.5 774.5h0M1481.5 778.5h0M1469.5 776.5h0M1464.5 779.5h0M1484.5 765.5h0M1442.5 746.5h0M1476.5 772.5h0M1487.5 764.5h0M1489.5 771.5h0M1475.5 772.5h0M1479.5 776.5h0M1497.5 761.5h0M1504.5 740.5h0M1507.5 742.5h0M1499.5 769.5h0M1491.5 771.5h0M1494.5 771.5h0M1503.5 748.5h0M1497.5 779.5h0M1500.5 779.5h0M1509.5 762.5h0M1500.5 782.5h0M1519.5 761.5h0M1498.5 760.5h0M1496.5 776.5h0M1499.5 774.5h0M1497.5 768.5h0M1494.5 771.5h0M1512.5 770.5h0M1426.5 775.5h0M1515.5 771.5h0M1475.5 773.5h0M1447.5 760.5h0M1439.5 742.5h0M1444.5 758.5h0M1487.5 767.5h0M1425.5 766.5h0M1471.5 778.5h0M1501.5 753.5h0M1523.5 768.5h0M1508.5 765.5h0M1519.5 753.5h0M1493.5 773.5h0M1530.5 744.5h0M1508.5 751.5h0M1506.5 748.5h0M1515.5 771.5h0M1491.5 758.5h0M1513.5 755.5h0M1425.5 767.5h0M1507.5 741.5h0M1505.5 762.5h0M1502.5 750.5h0M1517.5 759.5h0M1495.5 769.5h0M1498.5 775.5h0M1512.5 754.5h0M1496.5 775.5h0M1513.5 756.5h0M1508.5 772.5h0M1509.5 753.5h0M1513.5 760.5h0M1520.5 750.5h0M1503.5 752.5h0M1498.5 754.5h0M1499.5 757.5h0M1508.5 781.5h0M1496.5 756.5h0M1501.5 746.5h0M1496.5 771.5h0M1513.5 757.5h0M1514.5 749.5h0M1498.5 774.5h0M1504.5 759.5h0M1446.5 779.5h0M1495.5 765.5h0M1519.5 770.5h0M1510.5 774.5h0M1505.5 741.5h0M1497.5 764.5h0M1527.5 759.5h0M1521.5 753.5h0M1510.5 761.5h0M1518.5 759.5h0M1515.5 752.5h0M1511.5 745.5h0M1518.5 756.5h0M1510.5 746.5h0M1528.5 760.5h0M1501.5 752.5h0M1522.5 762.5h0M1513.5 774.5h0M1493.5 765.5h0M1523.5 764.5h0M1490.5 771.5h0M1513.5 750.5h0M1489.5 763.5h0M1503.5 754.5h0M1505.5 755.5h0M1522.5 771.5h0M1498.5 763.5h0M1515.5 754.5h0M1511.5 747.5h0M1524.5 763.5h0M1508.5 762.5h0M1511.5 766.5h0M1500.5 778.5h0M1523.5 765.5h0M1512.5 769.5h0M1500.5 760.5h0M1512.5 755.5h0M1494.5 761.5h0M1457.5 779.5h0M1526.5 758.5h0M1518.5 767.5h0M1503.5 758.5h0M1511.5 770.5h0M1491.5 764.5h0M1516.5 748.5h0M1502.5 771.5h0M1467.5 764.5h0M1524.5 766.5h0M1481.5 767.5h0M1521.5 768.5h0M1519.5 757.5h0M1500.5 760.5h0M1511.5 772.5h0M1501.5 741.5h0M1506.5 752.5h0M1504.5 755.5h0M1514.5 753.5h0M1523.5 760.5h0M1518.5 750.5h0M1491.5 761.5h0M1525.5 757.5h0M1493.5 760.5h0M1510.5 756.5h0M1505.5 755.5h0M1500.5 782.5h0M1514.5 760.5h0M1507.5 746.5h0M1514.5 750.5h0M1432.5 760.5h0M1444.5 748.5h0M1445.5 763.5h0M1443.5 749.5h0M1431.5 760.5h0M1440.5 738.5h0M1446.5 752.5h0M1435.5 780.5h0M1444.5 778.5h0M1443.5 754.5h0M1517.5 767.5h0M1479.5 776.5h0M1490.5 766.5h0M1479.5 772.5h0M1494.5 771.5h0M1444.5 761.5h0M1511.5 772.5h0M1466.5 775.5h0M1444.5 763.5h0M1482.5 772.5h0M1495.5 770.5h0M1439.5 741.5h0M1495.5 765.5h0M1469.5 776.5h0M1469.5 764.5h0M1500.5 775.5h0M1480.5 764.5h0M1490.5 773.5h0M1463.5 779.5h0M1494.5 771.5h0M1486.5 772.5h0" stroke="#0019ff" stroke-width="1.5" stroke-linecap="square"/>
<path d="M1481.5 767.5h0M1471.5 772.5h0M1476.5 769.5h0M1472.5 767.5h0M1473.5 772.5h0M1479.5 770.5h0M1480.5 765.5h0M1475.5 767.5h0M1513.5 765.5h0M1445.5 764.5h0M1485.5 771.5h0M1478.5 769.5h0M1474.5 768.5h0M1473.5 769.5h0M1482.5 769.5h0M1478.5 771.5h0M1458.5 765.5h0M1468.5 775.5h0M1506.5 771.5h0M1502.5 757.5h0M1508.5 758.5h0M1515.5 761.5h0M1502.5 775.5h0M1496.5 762.5h0M1503.5 772.5h0M1504.5 770.5h0M1510.5 756.5h0M1513.5 761.5h0M1471.5 773.5h0M1426.5 769.5h0M1451.5 777.5h0M1451.5 777.5h0M1505.5 777.5h0M1504.5 773.5h0M1513.5 769.5h0M1505.5 765.5h0M1508.5 777.5h0M1504.5 756.5h0M1501.5 763.5h0M1510.5 758.5h0M1503.5 774.5h0M1503.5 765.5h0M1514.5 765.5h0M1513.5 764.5h0M1449.5 764.5h0M1487.5 771.5h0M1467.5 766.5h0M1458.5 765.5h0M1468.5 767.5h0M1437.5 746.5h0M1442.5 749.5h0M1435.5 757.5h0M1440.5 761.5h0M1433.5 758.5h0M1435.5 758.5h0M1437.5 743.5h0M1438.5 746.5h0M1435.5 762.5h0M1439.5 745.5h0M1442.5 751.5h0M1436.5 749.5h0M1434.5 759.5h0M1440.5 761.5h0M1442.5 753.5h0M1441.5 778.5h0M1473.5 766.5h0M1443.5 751.5h0M1430.5 776.5h0M1506.5 770.5h0M1504.5 762.5h0M1425.5 769.5h0M1462.5 776.5h0M1463.5 776.5h0M1463.5 775.5h0M1435.5 778.5h0M1506.5 758.5h0M1501.5 767.5h0M1425.5 770.5h0M1477.5 766.5h0M1464.5 767.5h0M1517.5 751.5h0M1505.5 777.5h0M1504.5 768.5h0M1505.5 765.5h0M1463.5 766.5h0M1503.5 765.5h0M1516.5 750.5h0M1502.5 761.5h0M1510.5 774.5h0M1505.5 777.5h0M1513.5 765.5h0M1506.5 770.5h0M1483.5 768.5h0M1513.5 762.5h0M1514.5 767.5h0M1509.5 756.5h0M1499.5 765.5h0M1506.5 776.5h0M1507.5 774.5h0M1510.5 772.5h0M1516.5 759.5h0M1502.5 767.5h0M1505.5 765.5h0M1503.5 760.5h0M1468.5 775.5h0M1462.5 765.5h0M1439.5 760.5h0M1441.5 750.5h0M1505.5 767.5h0M1515.5 763.5h0M1507.5 758.5h0M1507.5 774.5h0M1517.5 751.5h0M1500.5 763.5h0M1502.5 770.5h0M1501.5 764.5h0M1503.5 776.5h0M1506.5 759.5h0M1434.5 763.5h0M1432.5 776.5h0M1508.5 759.5h0M1476.5 771.5h0M1506.5 776.5h0M1477.5 766.5h0M1487.5 771.5h0M1471.5 772.5h0M1477.5 772.5h0M1480.5 769.5h0M1440.5 758.5h0M1472.5 765.5h0M1459.5 776.5h0M1435.5 763.5h0M1433.5 763.5h0M1435.5 760.5h0M1444.5 752.5h0M1440.5 744.5h0M1433.5 777.5h0M1438.5 747.5h0M1434.5 748.5h0M1484.5 769.5h0M1459.5 765.5h0M1480.5 769.5h0M1424.5 772.5h0M1459.5 764.5h0M1502.5 769.5h0M1448.5 764.5h0M1470.5 773.5h0M1476.5 767.5h0M1466.5 775.5h0M1432.5 759.5h0M1491.5 771.5h0M1471.5 769.5h0M1504.5 775.5h0M1469.5 769.5h0M1463.5 767.5h0M1471.5 769.5h0M1475.5 767.5h0M1482.5 770.5h0M1429.5 776.5h0M1427.5 769.5h0M1466.5 767.5h0M1484.5 768.5h0M1502.5 764.5h0M1503.5 766.5h0M1515.5 759.5h0M1514.5 766.5h0M1502.5 763.5h0M1499.5 763.5h0M1513.5 762.5h0M1507.5 758.5h0M1507.5 760.5h0M1450.5 764.5h0M1435.5 747.5h0M1441.5 755.5h0M1444.5 753.5h0M1438.5 743.5h0M1435.5 760.5h0M1448.5 778.5h0M1470.5 772.5h0M1439.5 746.5h0M1443.5 762.5h0M1432.5 777.5h0M1462.5 766.5h0M1459.5 776.5h0M1472.5 769.5h0M1461.5 765.5h0M1426.5 771.5h0M1470.5 766.5h0M1484.5 769.5h0M1513.5 768.5h0M1465.5 775.5h0M1497.5 767.5h0M1457.5 765.5h0M1486.5 770.5h0M1505.5 774.5h0M1467.5 768.5h0" stroke="#004cff" stroke-width="1.5" stroke-linecap="square"/>
<path d="M1444.5 765.5h0M1459.5 765.5h0M1445.5 767.5h0M1459.5 774.5h0M1460.5 774.5h0M1468.5 773.5h0M1440.5 762.5h0M1439.5 759.5h0M1465.5 768.5h0M1427.5 775.5h0M1437.5 779.5h0M1465.5 770.5h0M1448.5 776.5h0M1442.5 753.5h0M1457.5 773.5h0M1470.5 771.5h0M1428.5 775.5h0M1446.5 766.5h0M1460.5 766.5h0M1465.5 773.5h0M1466.5 771.5h0M1470.5 774.5h0M1439.5 763.5h0M1440.5 759.5h0M1466.5 768.5h0M1441.5 760.5h0M1440.5 758.5h0M1434.5 752.5h0M1440.5 758.5h0M1440.5 751.5h0M1453.5 776.5h0M1460.5 774.5h0M1437.5 748.5h0M1440.5 760.5h0M1439.5 762.5h0M1467.5 772.5h0M1438.5 756.5h0M1436.5 753.5h0M1436.5 748.5h0M1434.5 757.5h0M1465.5 770.5h0M1457.5 774.5h0M1433.5 764.5h0M1439.5 750.5h0M1439.5 762.5h0M1442.5 764.5h0M1439.5 757.5h0M1436.5 757.5h0M1452.5 765.5h0M1469.5 770.5h0M1451.5 764.5h0M1437.5 749.5h0M1457.5 774.5h0M1452.5 777.5h0M1446.5 767.5h0M1460.5 766.5h0M1465.5 771.5h0M1452.5 777.5h0M1458.5 766.5h0M1463.5 768.5h0M1468.5 773.5h0M1450.5 776.5h0M1469.5 773.5h0M1435.5 752.5h0M1435.5 756.5h0M1435.5 752.5h0M1436.5 752.5h0M1438.5 748.5h0M1434.5 757.5h0M1439.5 757.5h0M1461.5 774.5h0M1445.5 766.5h0M1434.5 764.5h0M1469.5 773.5h0M1463.5 768.5h0M1466.5 770.5h0M1450.5 776.5h0M1462.5 774.5h0M1439.5 757.5h0M1472.5 770.5h0M1469.5 772.5h0" stroke="#007fff" stroke-width="1.5" stroke-linecap="square"/>
<path d="M1461.5 770.5h0M1459.5 768.5h0M1436.5 753.5h0M1432.5 767.5h0M1460.5 772.5h0M1455.5 767.5h0M1462.5 771.5h0M1428.5 769.5h0M1459.5 769.5h0M1437.5 763.5h0M1440.5 764.5h0M1462.5 773.5h0M1429.5 768.5h0M1428.5 770.5h0M1428.5 770.5h0M1438.5 765.5h0M1430.5 767.5h0M1440.5 754.5h0M1438.5 750.5h0M1445.5 775.5h0M1458.5 767.5h0M1437.5 756.5h0M1440.5 753.5h0M1440.5 754.5h0M1442.5 767.5h0M1439.5 765.5h0M1437.5 753.5h0M1462.5 772.5h0M1437.5 756.5h0M1435.5 763.5h0M1435.5 764.5h0M1436.5 753.5h0M1462.5 770.5h0M1453.5 766.5h0M1428.5 772.5h0M1451.5 776.5h0M1439.5 765.5h0M1437.5 752.5h0M1437.5 753.5h0M1461.5 771.5h0M1451.5 776.5h0M1429.5 773.5h0M1437.5 753.5h0M1437.5 750.5h0M1438.5 759.5h0M1436.5 756.5h0M1436.5 752.5h0M1438.5 764.5h0M1435.5 750.5h0M1437.5 751.5h0M1456.5 774.5h0M1438.5 755.5h0M1436.5 758.5h0M1454.5 766.5h0M1462.5 770.5h0M1458.5 766.5h0M1463.5 770.5h0M1429.5 774.5h0M1462.5 770.5h0M1463.5 770.5h0M1433.5 776.5h0M1453.5 767.5h0M1457.5 767.5h0M1455.5 766.5h0M1452.5 765.5h0M1462.5 770.5h0M1436.5 754.5h0M1439.5 755.5h0M1433.5 776.5h0M1436.5 751.5h0M1432.5 766.5h0M1432.5 766.5h0M1433.5 776.5h0M1427.5 771.5h0M1440.5 755.5h0M1439.5 764.5h0M1430.5 774.5h0M1451.5 777.5h0M1454.5 775.5h0M1447.5 776.5h0M1461.5 773.5h0M1463.5 771.5h0M1432.5 767.5h0M1437.5 765.5h0M1453.5 767.5h0M1463.5 770.5h0" stroke="#00b2ff" stroke-width="1.5" stroke-linecap="square"/>
<path d="M1458.5 773.5h0M1429.5 772.5h0M1450.5 765.5h0M1447.5 766.5h0M1450.5 767.5h0M1441.5 775.5h0M1444.5 777.5h0M1430.5 773.5h0M1429.5 772.5h0M1444.5 777.5h0M1442.5 776.5h0M1451.5 766.5h0M1460.5 770.5h0M1429.5 772.5h0M1450.5 766.5h0M1443.5 777.5h0M1428.5 772.5h0M1449.5 766.5h0M1429.5 771.5h0M1446.5 766.5h0M1447.5 767.5h0M1451.5 766.5h0M1451.5 767.5h0M1437.5 754.5h0M1443.5 777.5h0M1457.5 773.5h0M1457.5 769.5h0M1430.5 772.5h0M1460.5 772.5h0M1450.5 766.5h0M1458.5 773.5h0M1457.5 773.5h0M1429.5 772.5h0M1457.5 771.5h0M1437.5 754.5h0M1459.5 770.5h0M1441.5 776.5h0M1457.5 773.5h0M1456.5 772.5h0M1457.5 768.5h0M1458.5 768.5h0" stroke="#00e5ff" stroke-width="1.5" stroke-linecap="square"/>
<path d="M1432.5 769.5h0M1432.5 775.5h0M1442.5 766.5h0M1441.5 766.5h0M1454.5 769.5h0M1455.5 769.5h0M1458.5 770.5h0M1432.5 768.5h0M1454.5 768.5h0M1456.5 768.5h0M1433.5 766.5h0M1457.5 771.5h0M1458.5 771.5h0M1439.5 775.5h0M1440.5 766.5h0M1430.5 771.5h0M1439.5 776.5h0M1430.5 770.5h0M1433.5 767.5h0M1440.5 777.5h0M1458.5 770.5h0M1436.5 777.5h0M1433.5 766.5h0M1440.5 775.5h0M1442.5 766.5h0M1432.5 768.5h0M1452.5 774.5h0M1455.5 768.5h0M1455.5 769.5h0M1441.5 767.5h0M1434.5 766.5h0M1431.5 769.5h0M1447.5 774.5h0M1457.5 769.5h0M1432.5 768.5h0M1454.5 774.5h0M1453.5 774.5h0M1439.5 777.5h0M1428.5 769.5h0M1434.5 776.5h0M1433.5 767.5h0M1440.5 766.5h0M1431.5 768.5h0" stroke="#19ffe5" stroke-width="1.5" stroke-linecap="square"/>
<path d="M1451.5 773.5h0M1446.5 769.5h0M1448.5 773.5h0M1449.5 775.5h0M1455.5 769.5h0M1451.5 775.5h0M1436.5 776.5h0M1438.5 775.5h0M1456.5 772.5h0M1454.5 773.5h0M1452.5 774.5h0M1454.5 771.5h0M1452.5 769.5h0M1456.5 772.5h0M1454.5 770.5h0M1451.5 774.5h0M1446.5 768.5h0M1445.5 775.5h0M1456.5 773.5h0M1444.5 773.5h0M1445.5 774.5h0M1448.5 774.5h0M1437.5 777.5h0M1444.5 774.5h0M1456.5 772.5h0M1435.5 766.5h0M1435.5 766.5h0M1456.5 770.5h0M1451.5 773.5h0M1445.5 775.5h0M1452.5 767.5h0M1450.5 774.5h0M1446.5 775.5h0M1456.5 772.5h0M1439.5 766.5h0M1438.5 777.5h0M1446.5 774.5h0M1438.5 777.5h0M1454.5 768.5h0M1452.5 775.5h0M1445.5 775.5h0M1436.5 766.5h0M1438.5 777.5h0M1444.5 775.5h0M1444.5 774.5h0M1438.5 776.5h0M1454.5 770.5h0M1439.5 765.5h0" stroke="#4cffb2" stroke-width="1.5" stroke-linecap="square"/>
<path d="M1432.5 773.5h0M1432.5 772.5h0M1437.5 767.5h0M1433.5 773.5h0M1442.5 775.5h0M1437.5 766.5h0M1443.5 768.5h0M1443.5 775.5h0M1449.5 768.5h0M1442.5 775.5h0M1432.5 774.5h0M1448.5 769.5h0M1452.5 768.5h0M1449.5 768.5h0M1438.5 767.5h0M1451.5 768.5h0M1447.5 769.5h0M1443.5 774.5h0M1443.5 769.5h0M1444.5 773.5h0M1431.5 773.5h0M1450.5 769.5h0M1438.5 766.5h0M1433.5 774.5h0M1432.5 772.5h0M1448.5 769.5h0M1442.5 769.5h0M1438.5 767.5h0M1447.5 768.5h0M1432.5 773.5h0M1448.5 768.5h0M1447.5 769.5h0M1448.5 769.5h0M1448.5 768.5h0M1431.5 772.5h0M1431.5 772.5h0M1436.5 766.5h0M1431.5 771.5h0M1451.5 768.5h0M1446.5 769.5h0M1434.5 774.5h0M1444.5 773.5h0M1449.5 767.5h0M1432.5 772.5h0M1449.5 769.5h0M1443.5 769.5h0" stroke="#7fff7f" stroke-width="1.5" stroke-linecap="square"/>
<path d="M1453.5 772.5h0M1451.5 773.5h0M1447.5 772.5h0M1451.5 773.5h0M1453.5 771.5h0M1447.5 771.5h0M1454.5 770.5h0M1447.5 770.5h0M1454.5 770.5h0M1445.5 769.5h0M1447.5 771.5h0M1447.5 769.5h0M1447.5 771.5h0M1430.5 770.5h0M1452.5 769.5h0M1446.5 770.5h0M1432.5 770.5h0M1447.5 772.5h0M1452.5 772.5h0M1447.5 773.5h0M1452.5 771.5h0M1452.5 770.5h0M1447.5 773.5h0M1453.5 770.5h0M1448.5 770.5h0M1447.5 771.5h0M1452.5 770.5h0M1453.5 771.5h0M1453.5 772.5h0M1453.5 773.5h0M1448.5 772.5h0M1450.5 770.5h0M1452.5 771.5h0M1451.5 772.5h0M1450.5 770.5h0M1451.5 773.5h0M1450.5 773.5h0M1452.5 770.5h0M1451.5 772.5h0M1448.5 770.5h0M1454.5 770.5h0M1451.5 772.5h0M1445.5 771.5h0M1451.5 773.5h0M1431.5 770.5h0M1446.5 771.5h0M1454.5 771.5h0M1430.5 771.5h0M1450.5 772.5h0M1448.5 772.5h0M1453.5 770.5h0M1447.5 771.5h0M1451.5 772.5h0M1447.5 773.5h0M1448.5 771.5h0M1451.5 772.5h0M1446.5 769.5h0M1451.5 770.5h0M1454.5 770.5h0M1444.5 770.5h0M1453.5 771.5h0M1454.5 773.5h0M1447.5 771.5h0M1430.5 770.5h0M1451.5 770.5h0M1447.5 772.5h0M1448.5 773.5h0M1451.5 772.5h0M1445.5 771.5h0M1453.5 770.5h0M1446.5 771.5h0" stroke="#b2ff4c" stroke-width="1.5" stroke-linecap="square"/>
<path d="M1436.5 774.5h0M1448.5 773.5h0M1441.5 767.5h0M1441.5 769.5h0M1436.5 775.5h0M1445.5 773.5h0M1443.5 771.5h0M1448.5 771.5h0M1435.5 773.5h0M1449.5 770.5h0M1450.5 771.5h0M1442.5 774.5h0M1449.5 771.5h0M1450.5 770.5h0M1445.5 772.5h0M1441.5 774.5h0M1449.5 772.5h0M1443.5 770.5h0M1440.5 775.5h0M1441.5 769.5h0M1440.5 769.5h0M1442.5 768.5h0M1444.5 769.5h0M1450.5 771.5h0M1449.5 772.5h0M1435.5 774.5h0M1435.5 774.5h0M1435.5 774.5h0M1445.5 771.5h0M1442.5 771.5h0M1442.5 769.5h0M1435.5 774.5h0M1446.5 773.5h0M1433.5 768.5h0M1445.5 773.5h0M1435.5 774.5h0M1445.5 772.5h0M1436.5 775.5h0M1443.5 770.5h0M1436.5 773.5h0M1450.5 771.5h0M1441.5 774.5h0M1433.5 769.5h0M1442.5 771.5h0M1435.5 773.5h0M1433.5 768.5h0M1441.5 773.5h0M1446.5 773.5h0M1435.5 775.5h0M1434.5 768.5h0M1450.5 770.5h0M1441.5 774.5h0M1434.5 768.5h0M1443.5 771.5h0M1440.5 768.5h0" stroke="#e5ff19" stroke-width="1.5" stroke-linecap="square"/>
<path d="M1433.5 771.5h0M1434.5 768.5h0M1433.5 772.5h0M1434.5 772.5h0M1433.5 772.5h0M1435.5 767.5h0M1443.5 771.5h0M1434.5 772.5h0M1436.5 768.5h0M1443.5 773.5h0M1443.5 773.5h0M1443.5 773.5h0M1433.5 771.5h0M1444.5 772.5h0M1434.5 769.5h0M1435.5 769.5h0M1434.5 773.5h0M1433.5 772.5h0M1436.5 768.5h0M1435.5 769.5h0M1443.5 772.5h0M1433.5 773.5h0M1433.5 773.5h0M1436.5 769.5h0M1435.5 769.5h0M1436.5 769.5h0M1435.5 769.5h0M1436.5 767.5h0M1443.5 772.5h0M1435.5 768.5h0" stroke="#ffe500" stroke-width="1.5" stroke-linecap="square"/>
<path d="M1438.5 768.5h0M1438.5 774.5h0M1433.5 770.5h0M1433.5 770.5h0M1434.5 770.5h0M1437.5 774.5h0M1433.5 770.5h0M1437.5 768.5h0M1433.5 769.5h0M1437.5 774.5h0M1440.5 773.5h0M1439.5 774.5h0M1433.5 770.5h0M1438.5 774.5h0M1436.5 775.5h0M1438.5 769.5h0M1439.5 768.5h0M1434.5 771.5h0M1437.5 767.5h0M1438.5 769.5h0M1434.5 771.5h0M1439.5 769.5h0M1440.5 768.5h0M1438.5 774.5h0M1438.5 768.5h0M1437.5 769.5h0M1436.5 775.5h0M1440.5 769.5h0M1437.5 774.5h0M1434.5 769.5h0M1438.5 774.5h0M1440.5 768.5h0M1434.5 771.5h0M1439.5 774.5h0M1439.5 775.5h0M1438.5 768.5h0M1439.5 775.5h0M1439.5 767.5h0M1439.5 769.5h0M1439.5 769.5h0M1439.5 768.5h0M1439.5 774.5h0M1439.5 774.5h0M1439.5 774.5h0M1432.5 769.5h0" stroke="#ffb200" stroke-width="1.5" stroke-linecap="square"/>
<path d="M1436.5 770.5h0M1442.5 769.5h0M1441.5 772.5h0M1435.5 771.5h0M1435.5 769.5h0M1435.5 771.5h0M1441.5 773.5h0M1435.5 771.5h0M1434.5 770.5h0M1434.5 771.5h0M1435.5 771.5h0M1442.5 771.5h0M1440.5 771.5h0M1434.5 772.5h0M1442.5 770.5h0M1440.5 770.5h0M1441.5 772.5h0M1436.5 772.5h0M1441.5 770.5h0M1434.5 771.5h0M1442.5 771.5h0M1435.5 772.5h0M1442.5 769.5h0M1435.5 772.5h0M1435.5 771.5h0M1441.5 769.5h0M1435.5 771.5h0M1442.5 770.5h0M1442.5 770.5h0M1435.5 773.5h0M1442.5 772.5h0M1434.5 770.5h0M1442.5 773.5h0M1442.5 772.5h0M1436.5 771.5h0M1441.5 772.5h0M1435.5 772.5h0M1435.5 773.5h0M1441.5 771.5h0M1441.5 769.5h0M1434.5 770.5h0M1442.5 770.5h0M1441.5 770.5h0M1442.5 773.5h0M1442.5 773.5h0M1436.5 772.5h0M1435.5 770.5h0M1442.5 770.5h0M1441.5 773.5h0M1442.5 772.5h0" stroke="#ff7f00" stroke-width="1.5" stroke-linecap="square"/>
<path d="M1437.5 771.5h0M1439.5 771.5h0M1438.5 771.5h0M1439.5 770.5h0M1440.5 771.5h0M1438.5 772.5h0M1439.5 771.5h0M1440.5 772.5h0M1440.5 772.5h0M1439.5 771.5h0M1439.5 770.5h0M1440.5 771.5h0M1440.5 771.5h0M1438.5 771.5h0M1439.5 773.5h0M1437.5 773.5h0M1437.5 773.5h0M1440.5 772.5h0M1439.5 770.5h0M1439.5 772.5h0M1439.5 772.5h0M1438.5 771.5h0M1438.5 773.5h0M1436.5 773.5h0M1440.5 771.5h0M1437.5 772.5h0M1439.5 771.5h0M1439.5 772.5h0M1440.5 773.5h0M1438.5 772.5h0M1438.5 773.5h0M1440.5 772.5h0M1440.5 770.5h0M1438.5 773.5h0M1440.5 772.5h0M1440.5 771.5h0M1437.5 772.5h0M1436.5 773.5h0M1439.5 770.5h0M1439.5 772.5h0M1439.5 772.5h0M1436.5 773.5h0M1440.5 771.5h0M1439.5 770.5h0M1437.5 771.5h0M1439.5 770.5h0" stroke="#ff1900" stroke-width="1.5" stroke-linecap="square"/>
<path d="M1437.5 771.5h0M1437.5 770.5h0M1437.5 771.5h0M1436.5 771.5h0M1437.5 770.5h0M1438.5 771.5h0M1437.5 770.5h0M1437.5 770.5h0M1437.5 770.5h0M1438.5 770.5h0M1438.5 770.5h0" stroke="#e50000" stroke-width="1.5" stroke-linecap="square"/>
<line x1="1481" y1="649.3" x2="1481" y2="795" stroke="#000" stroke-width="1.5"/>
<line x1="1410.2" y1="730.5" x2="1575" y2="730.5" stroke="#000" stroke-width="1.5"/>
<rect x="1410.2" y="649.3" width="164.8" height="145.7" fill="none" stroke="#222" stroke-width="1.1"/>
<path d="M1406.7 663.4H1410.2M1408.2 673.5H1410.2M1408.2 679.4H1410.2M1408.2 683.6H1410.2M1408.2 686.9H1410.2M1408.2 689.5H1410.2M1408.2 691.8H1410.2M1408.2 693.7H1410.2M1408.2 695.4H1410.2M1406.7 696.2H1410.2M1408.2 706.3H1410.2M1408.2 712.2H1410.2M1408.2 716.4H1410.2M1408.2 719.6H1410.2M1408.2 722.3H1410.2M1408.2 724.5H1410.2M1408.2 726.5H1410.2M1408.2 728.2H1410.2M1406.7 731.6H1410.2M1408.2 741.7H1410.2M1408.2 747.6H1410.2M1408.2 751.8H1410.2M1408.2 755H1410.2M1408.2 757.7H1410.2M1408.2 759.9H1410.2M1408.2 761.9H1410.2M1408.2 763.6H1410.2M1407.7 765.3H1410.2M1407.7 769.3H1410.2M1407.7 772.3H1410.2M1407.7 774.3H1410.2M1407.7 775.3H1410.2M1407.7 776.3H1410.2M1407.7 778.3H1410.2M1407.7 781.3H1410.2M1407.7 785.3H1410.2M1407.7 790.3H1410.2M1485.3 795V798.5M1458.3 795V797M1465.1 795V797M1469.9 795V797M1473.7 795V797M1476.8 795V797M1479.3 795V797M1481.6 795V797M1483.6 795V797M1524.7 795V798.5M1497.7 795V797M1504.5 795V797M1509.3 795V797M1513.1 795V797M1516.1 795V797M1518.7 795V797M1521 795V797M1523 795V797M1562.6 795V798.5M1535.6 795V797M1542.4 795V797M1547.2 795V797M1551 795V797M1554 795V797M1556.6 795V797M1558.9 795V797M1560.9 795V797M1421.1 795V797.5M1425.1 795V797.5M1428.1 795V797.5M1430.1 795V797.5M1432.1 795V797.5M1434.1 795V797.5M1435.1 795V797.5M1436.1 795V797.5M1438.1 795V797.5M1440.1 795V797.5M1443.1 795V797.5M1447.1 795V797.5" stroke="#333" stroke-width="0.8" fill="none"/>
<text x="1402.2" y="665.9" font-size="6.5" text-anchor="end" fill="#333">10<tspan font-size="5" dy="-3">5</tspan></text>
<text x="1402.2" y="698.7" font-size="6.5" text-anchor="end" fill="#333">10<tspan font-size="5" dy="-3">4</tspan></text>
<text x="1402.2" y="734.1" font-size="6.5" text-anchor="end" fill="#333">10<tspan font-size="5" dy="-3">3</tspan></text>
<text x="1402.2" y="777.8" font-size="6.5" text-anchor="end" fill="#333">0</text>
<text x="1435.1" y="808" font-size="6.5" text-anchor="middle" fill="#333">0</text>
<text x="1485.3" y="808" font-size="6.5" text-anchor="middle" fill="#333">10<tspan font-size="5" dy="-3">3</tspan></text>
<text x="1524.7" y="808" font-size="6.5" text-anchor="middle" fill="#333">10<tspan font-size="5" dy="-3">4</tspan></text>
<text x="1562.6" y="808" font-size="6.5" text-anchor="middle" fill="#333">10<tspan font-size="5" dy="-3">5</tspan></text>
<rect x="1227.7" y="811.1" width="164.9" height="146.2" fill="#fff"/>
<path d="M1345.5 890.5h0M1340.5 942.5h0M1273.5 902.5h0M1306.5 883.5h0M1300.5 882.5h0M1331.5 875.5h0M1309.5 882.5h0M1316.5 897.5h0M1348.5 943.5h0M1317.5 902.5h0M1293.5 911.5h0M1330.5 911.5h0M1290.5 906.5h0M1276.5 907.5h0M1342.5 936.5h0M1299.5 944.5h0M1335.5 934.5h0M1306.5 905.5h0M1245.5 908.5h0M1287.5 903.5h0M1321.5 893.5h0" stroke="#0000e5" stroke-width="1.5" stroke-linecap="square"/>
<path d="M1311.5 877.5h0M1312.5 878.5h0M1315.5 879.5h0M1313.5 887.5h0M1324.5 891.5h0M1329.5 885.5h0M1311.5 885.5h0M1301.5 908.5h0M1252.5 915.5h0M1257.5 909.5h0M1323.5 875.5h0M1275.5 919.5h0M1318.5 881.5h0M1321.5 883.5h0M1312.5 889.5h0M1312.5 888.5h0M1322.5 879.5h0M1321.5 875.5h0M1308.5 897.5h0M1265.5 940.5h0M1241.5 933.5h0M1246.5 942.5h0M1334.5 918.5h0M1315.5 908.5h0M1305.5 939.5h0M1310.5 893.5h0M1307.5 896.5h0M1251.5 916.5h0M1298.5 914.5h0M1273.5 911.5h0M1306.5 914.5h0M1269.5 914.5h0M1265.5 915.5h0M1303.5 911.5h0M1323.5 890.5h0M1313.5 886.5h0M1328.5 879.5h0M1312.5 884.5h0M1301.5 885.5h0M1299.5 885.5h0M1310.5 904.5h0M1336.5 920.5h0M1237.5 936.5h0M1269.5 916.5h0M1334.5 928.5h0M1309.5 944.5h0M1272.5 917.5h0M1264.5 941.5h0M1241.5 939.5h0M1306.5 939.5h0M1312.5 909.5h0M1242.5 938.5h0M1311.5 943.5h0M1293.5 919.5h0M1333.5 917.5h0M1282.5 941.5h0M1329.5 930.5h0M1291.5 923.5h0M1292.5 922.5h0M1257.5 915.5h0M1262.5 945.5h0M1312.5 903.5h0M1324.5 938.5h0M1328.5 931.5h0M1294.5 941.5h0M1327.5 881.5h0M1318.5 878.5h0M1326.5 878.5h0M1321.5 883.5h0M1326.5 886.5h0M1313.5 881.5h0M1270.5 919.5h0M1273.5 941.5h0M1267.5 914.5h0M1311.5 945.5h0M1328.5 927.5h0M1258.5 944.5h0M1246.5 923.5h0M1281.5 941.5h0M1333.5 924.5h0M1292.5 939.5h0M1306.5 914.5h0M1261.5 917.5h0M1265.5 915.5h0M1320.5 944.5h0M1301.5 912.5h0M1318.5 943.5h0M1300.5 938.5h0M1322.5 936.5h0M1332.5 922.5h0M1250.5 943.5h0M1281.5 944.5h0M1325.5 936.5h0M1312.5 904.5h0M1317.5 912.5h0M1238.5 929.5h0M1277.5 941.5h0M1314.5 941.5h0M1283.5 906.5h0M1254.5 910.5h0M1333.5 922.5h0M1334.5 929.5h0M1324.5 943.5h0M1314.5 915.5h0M1290.5 913.5h0M1250.5 941.5h0M1240.5 929.5h0M1277.5 919.5h0M1270.5 912.5h0M1289.5 912.5h0M1292.5 915.5h0M1291.5 917.5h0M1272.5 911.5h0M1268.5 940.5h0M1304.5 943.5h0M1317.5 912.5h0M1253.5 914.5h0M1281.5 908.5h0M1277.5 914.5h0M1280.5 913.5h0M1271.5 909.5h0M1297.5 914.5h0M1236.5 935.5h0M1323.5 912.5h0M1329.5 925.5h0M1248.5 915.5h0M1280.5 913.5h0M1270.5 912.5h0M1247.5 918.5h0M1270.5 943.5h0M1249.5 920.5h0M1309.5 906.5h0M1305.5 946.5h0M1279.5 916.5h0M1256.5 915.5h0M1330.5 915.5h0M1261.5 915.5h0" stroke="#0019ff" stroke-width="1.5" stroke-linecap="square"/>
<path d="M1328.5 922.5h0M1303.5 936.5h0M1321.5 942.5h0M1276.5 921.5h0M1242.5 933.5h0M1313.5 940.5h0M1324.5 921.5h0M1314.5 938.5h0M1319.5 911.5h0M1287.5 918.5h0M1300.5 917.5h0M1320.5 938.5h0M1272.5 941.5h0M1298.5 937.5h0M1295.5 916.5h0M1326.5 926.5h0M1326.5 915.5h0M1320.5 940.5h0M1294.5 936.5h0M1300.5 916.5h0M1312.5 914.5h0M1259.5 918.5h0M1272.5 921.5h0M1296.5 918.5h0M1321.5 916.5h0M1240.5 931.5h0M1284.5 925.5h0M1307.5 939.5h0M1284.5 940.5h0M1295.5 936.5h0M1326.5 930.5h0M1318.5 936.5h0M1319.5 936.5h0M1321.5 940.5h0M1311.5 939.5h0M1303.5 938.5h0M1242.5 933.5h0M1329.5 922.5h0M1253.5 918.5h0M1279.5 922.5h0M1275.5 921.5h0M1321.5 913.5h0M1274.5 917.5h0M1312.5 913.5h0M1318.5 940.5h0M1300.5 916.5h0M1311.5 942.5h0M1269.5 919.5h0M1323.5 916.5h0M1249.5 921.5h0M1275.5 916.5h0M1327.5 934.5h0M1318.5 937.5h0M1305.5 917.5h0M1251.5 921.5h0M1302.5 914.5h0M1323.5 916.5h0M1319.5 914.5h0M1278.5 922.5h0M1246.5 941.5h0M1257.5 918.5h0M1271.5 921.5h0M1302.5 936.5h0M1319.5 913.5h0M1311.5 913.5h0M1329.5 921.5h0M1247.5 927.5h0M1311.5 912.5h0M1328.5 925.5h0M1255.5 918.5h0M1321.5 915.5h0M1329.5 922.5h0M1244.5 933.5h0M1289.5 919.5h0M1255.5 918.5h0M1305.5 919.5h0M1320.5 942.5h0M1311.5 913.5h0M1294.5 922.5h0M1273.5 941.5h0M1321.5 915.5h0M1325.5 917.5h0M1274.5 940.5h0M1313.5 941.5h0M1242.5 932.5h0M1290.5 925.5h0M1246.5 924.5h0M1276.5 922.5h0M1277.5 917.5h0M1300.5 916.5h0M1301.5 917.5h0M1286.5 918.5h0M1287.5 918.5h0M1294.5 915.5h0" stroke="#004cff" stroke-width="1.5" stroke-linecap="square"/>
<path d="M1299.5 926.5h0M1252.5 920.5h0M1296.5 920.5h0M1293.5 937.5h0M1279.5 924.5h0M1284.5 923.5h0M1299.5 927.5h0M1286.5 938.5h0M1291.5 937.5h0M1321.5 920.5h0M1291.5 939.5h0M1286.5 922.5h0M1281.5 924.5h0M1288.5 925.5h0M1299.5 933.5h0M1289.5 924.5h0M1281.5 924.5h0M1324.5 932.5h0M1307.5 919.5h0M1250.5 923.5h0M1252.5 921.5h0M1246.5 929.5h0M1280.5 924.5h0M1316.5 939.5h0M1296.5 935.5h0M1314.5 919.5h0M1319.5 918.5h0M1326.5 933.5h0M1302.5 924.5h0M1312.5 919.5h0M1305.5 939.5h0M1319.5 932.5h0M1297.5 935.5h0M1328.5 921.5h0M1326.5 923.5h0M1327.5 919.5h0M1307.5 919.5h0M1327.5 931.5h0M1306.5 935.5h0M1326.5 931.5h0M1303.5 934.5h0M1309.5 914.5h0M1286.5 922.5h0M1280.5 938.5h0M1292.5 925.5h0M1254.5 921.5h0M1310.5 938.5h0M1323.5 919.5h0M1249.5 924.5h0M1276.5 938.5h0M1248.5 928.5h0M1284.5 923.5h0M1299.5 933.5h0M1320.5 933.5h0M1321.5 931.5h0M1312.5 919.5h0M1325.5 921.5h0M1330.5 920.5h0M1288.5 927.5h0M1316.5 918.5h0M1310.5 913.5h0M1306.5 932.5h0M1291.5 937.5h0M1326.5 925.5h0M1258.5 920.5h0M1271.5 921.5h0M1327.5 918.5h0M1313.5 918.5h0M1272.5 922.5h0M1319.5 939.5h0M1311.5 935.5h0M1287.5 921.5h0M1326.5 930.5h0M1323.5 930.5h0M1285.5 938.5h0M1291.5 938.5h0M1306.5 931.5h0M1296.5 935.5h0M1312.5 936.5h0M1295.5 934.5h0M1253.5 922.5h0M1267.5 918.5h0M1295.5 923.5h0M1324.5 935.5h0M1302.5 924.5h0M1256.5 920.5h0M1296.5 935.5h0M1288.5 938.5h0M1276.5 924.5h0M1299.5 934.5h0M1322.5 931.5h0M1317.5 919.5h0M1311.5 938.5h0M1321.5 933.5h0M1322.5 920.5h0M1312.5 935.5h0M1307.5 919.5h0M1308.5 915.5h0M1316.5 921.5h0M1325.5 933.5h0M1324.5 927.5h0M1304.5 939.5h0M1318.5 933.5h0M1318.5 937.5h0M1285.5 924.5h0M1288.5 939.5h0M1257.5 941.5h0M1287.5 939.5h0M1299.5 926.5h0M1286.5 924.5h0M1295.5 924.5h0M1325.5 931.5h0M1296.5 922.5h0M1317.5 920.5h0M1301.5 923.5h0M1310.5 939.5h0M1329.5 920.5h0M1307.5 936.5h0M1282.5 937.5h0M1285.5 938.5h0M1284.5 921.5h0M1307.5 935.5h0M1275.5 939.5h0M1287.5 923.5h0M1316.5 936.5h0M1308.5 934.5h0M1259.5 942.5h0M1261.5 942.5h0M1286.5 922.5h0M1303.5 935.5h0M1308.5 935.5h0M1317.5 921.5h0M1311.5 915.5h0M1322.5 930.5h0M1313.5 935.5h0M1309.5 936.5h0M1331.5 922.5h0M1295.5 924.5h0M1324.5 919.5h0M1322.5 932.5h0M1244.5 929.5h0M1316.5 920.5h0M1309.5 939.5h0M1309.5 932.5h0M1244.5 939.5h0M1303.5 925.5h0M1325.5 919.5h0M1313.5 919.5h0M1326.5 927.5h0M1318.5 932.5h0M1286.5 920.5h0" stroke="#007fff" stroke-width="1.5" stroke-linecap="square"/>
<path d="M1298.5 923.5h0M1308.5 920.5h0M1251.5 924.5h0M1269.5 938.5h0M1311.5 926.5h0M1244.5 935.5h0M1250.5 927.5h0M1279.5 927.5h0M1307.5 922.5h0M1295.5 926.5h0M1280.5 926.5h0M1295.5 926.5h0M1311.5 918.5h0M1323.5 922.5h0M1312.5 929.5h0M1262.5 920.5h0M1260.5 920.5h0M1247.5 930.5h0M1314.5 932.5h0M1313.5 922.5h0M1266.5 919.5h0M1273.5 924.5h0M1257.5 922.5h0M1315.5 933.5h0M1299.5 930.5h0M1311.5 925.5h0M1309.5 919.5h0M1322.5 927.5h0M1321.5 931.5h0M1315.5 919.5h0M1311.5 933.5h0M1302.5 925.5h0M1263.5 920.5h0M1266.5 919.5h0M1268.5 919.5h0M1312.5 932.5h0M1294.5 928.5h0M1312.5 934.5h0M1316.5 922.5h0M1313.5 929.5h0M1321.5 922.5h0M1310.5 925.5h0M1310.5 923.5h0M1303.5 920.5h0M1263.5 919.5h0M1263.5 918.5h0M1252.5 925.5h0M1317.5 935.5h0M1309.5 916.5h0M1309.5 920.5h0M1298.5 920.5h0M1311.5 917.5h0M1301.5 920.5h0M1311.5 930.5h0M1263.5 921.5h0M1248.5 926.5h0M1320.5 923.5h0M1257.5 922.5h0M1265.5 918.5h0M1262.5 921.5h0M1314.5 924.5h0M1314.5 926.5h0M1301.5 919.5h0M1325.5 924.5h0M1318.5 921.5h0M1299.5 929.5h0M1302.5 926.5h0M1266.5 921.5h0M1254.5 923.5h0M1295.5 928.5h0M1301.5 923.5h0M1306.5 922.5h0M1311.5 932.5h0M1299.5 933.5h0M1299.5 930.5h0M1317.5 930.5h0M1265.5 917.5h0M1272.5 924.5h0M1300.5 919.5h0M1311.5 930.5h0M1316.5 923.5h0M1314.5 934.5h0M1265.5 918.5h0M1320.5 922.5h0M1317.5 930.5h0M1324.5 929.5h0M1304.5 923.5h0M1319.5 920.5h0M1308.5 919.5h0M1322.5 928.5h0M1263.5 921.5h0M1323.5 926.5h0M1320.5 921.5h0M1312.5 925.5h0M1305.5 921.5h0M1313.5 932.5h0M1305.5 922.5h0M1306.5 931.5h0M1312.5 922.5h0M1282.5 936.5h0M1289.5 928.5h0M1299.5 932.5h0M1276.5 927.5h0M1291.5 936.5h0M1294.5 931.5h0M1298.5 931.5h0M1284.5 936.5h0M1288.5 938.5h0M1291.5 928.5h0M1281.5 928.5h0M1296.5 925.5h0M1279.5 926.5h0M1301.5 934.5h0M1280.5 929.5h0M1246.5 938.5h0M1257.5 923.5h0M1260.5 920.5h0M1318.5 928.5h0M1297.5 930.5h0M1313.5 920.5h0M1314.5 934.5h0M1310.5 931.5h0M1314.5 930.5h0M1315.5 930.5h0M1305.5 921.5h0M1312.5 930.5h0M1310.5 928.5h0M1299.5 921.5h0M1291.5 928.5h0M1312.5 923.5h0M1316.5 923.5h0M1314.5 919.5h0M1314.5 933.5h0M1280.5 929.5h0M1292.5 931.5h0M1308.5 930.5h0M1251.5 925.5h0M1284.5 927.5h0M1266.5 937.5h0M1289.5 928.5h0M1293.5 931.5h0M1315.5 932.5h0M1291.5 937.5h0M1282.5 936.5h0M1291.5 928.5h0M1281.5 936.5h0M1295.5 931.5h0M1276.5 925.5h0M1244.5 932.5h0M1296.5 930.5h0M1299.5 920.5h0M1296.5 923.5h0M1301.5 918.5h0M1316.5 930.5h0M1312.5 923.5h0M1319.5 929.5h0M1307.5 922.5h0M1322.5 927.5h0M1317.5 925.5h0M1314.5 926.5h0M1303.5 921.5h0M1306.5 922.5h0M1302.5 919.5h0M1312.5 922.5h0M1314.5 929.5h0M1316.5 928.5h0M1287.5 929.5h0M1277.5 936.5h0M1286.5 926.5h0M1278.5 936.5h0M1289.5 929.5h0M1282.5 936.5h0M1296.5 930.5h0M1278.5 936.5h0M1293.5 935.5h0M1312.5 927.5h0M1299.5 923.5h0M1281.5 928.5h0M1248.5 931.5h0M1287.5 927.5h0M1301.5 918.5h0M1314.5 924.5h0M1322.5 923.5h0M1297.5 931.5h0M1313.5 925.5h0M1312.5 916.5h0M1319.5 929.5h0M1322.5 926.5h0M1323.5 926.5h0M1301.5 920.5h0M1311.5 929.5h0M1246.5 931.5h0M1292.5 927.5h0M1295.5 927.5h0M1319.5 929.5h0M1284.5 928.5h0M1278.5 936.5h0M1276.5 926.5h0M1288.5 938.5h0M1282.5 936.5h0M1284.5 926.5h0M1289.5 937.5h0M1299.5 930.5h0M1305.5 935.5h0M1291.5 927.5h0M1269.5 938.5h0M1284.5 929.5h0M1298.5 927.5h0M1245.5 934.5h0M1246.5 938.5h0M1249.5 926.5h0M1265.5 937.5h0M1316.5 932.5h0M1298.5 919.5h0M1247.5 937.5h0M1296.5 923.5h0M1312.5 919.5h0" stroke="#00b2ff" stroke-width="1.5" stroke-linecap="square"/>
<path d="M1261.5 941.5h0M1255.5 939.5h0M1282.5 927.5h0M1269.5 922.5h0M1251.5 925.5h0M1269.5 922.5h0M1303.5 928.5h0M1291.5 934.5h0M1290.5 933.5h0M1272.5 927.5h0M1282.5 929.5h0M1294.5 927.5h0M1303.5 928.5h0M1275.5 937.5h0M1291.5 931.5h0M1272.5 926.5h0M1276.5 929.5h0M1267.5 922.5h0M1306.5 919.5h0M1257.5 924.5h0M1306.5 925.5h0M1302.5 928.5h0M1271.5 925.5h0M1323.5 924.5h0M1266.5 922.5h0M1259.5 923.5h0M1319.5 927.5h0M1301.5 929.5h0M1274.5 926.5h0M1271.5 938.5h0M1307.5 926.5h0M1315.5 921.5h0M1287.5 930.5h0M1293.5 928.5h0M1271.5 923.5h0M1249.5 927.5h0M1290.5 933.5h0M1277.5 929.5h0M1278.5 935.5h0M1290.5 932.5h0M1282.5 929.5h0M1278.5 934.5h0M1304.5 933.5h0M1283.5 926.5h0M1320.5 925.5h0M1303.5 931.5h0M1303.5 931.5h0M1307.5 927.5h0M1254.5 925.5h0M1283.5 927.5h0M1292.5 932.5h0M1267.5 921.5h0M1259.5 921.5h0M1276.5 935.5h0M1321.5 926.5h0M1273.5 927.5h0M1275.5 935.5h0M1257.5 923.5h0M1304.5 933.5h0M1307.5 925.5h0M1257.5 925.5h0M1317.5 928.5h0M1267.5 921.5h0M1279.5 928.5h0M1311.5 920.5h0M1318.5 926.5h0M1318.5 925.5h0M1318.5 926.5h0M1293.5 929.5h0M1250.5 927.5h0M1291.5 933.5h0M1287.5 936.5h0M1307.5 925.5h0M1255.5 940.5h0M1321.5 927.5h0M1319.5 925.5h0M1254.5 940.5h0M1312.5 925.5h0M1303.5 932.5h0M1318.5 925.5h0M1275.5 936.5h0M1297.5 928.5h0M1319.5 925.5h0M1303.5 929.5h0M1287.5 936.5h0M1312.5 924.5h0M1250.5 926.5h0M1260.5 922.5h0M1317.5 926.5h0M1320.5 924.5h0M1306.5 925.5h0M1317.5 929.5h0M1265.5 920.5h0M1254.5 924.5h0M1307.5 920.5h0M1311.5 924.5h0M1290.5 932.5h0M1273.5 926.5h0M1306.5 921.5h0M1296.5 929.5h0M1307.5 926.5h0M1304.5 931.5h0M1311.5 923.5h0M1302.5 928.5h0M1283.5 927.5h0M1302.5 932.5h0M1308.5 925.5h0" stroke="#00e5ff" stroke-width="1.5" stroke-linecap="square"/>
<path d="M1289.5 929.5h0M1252.5 926.5h0M1273.5 936.5h0M1260.5 923.5h0M1281.5 932.5h0M1262.5 925.5h0M1278.5 930.5h0M1300.5 929.5h0M1261.5 922.5h0M1309.5 926.5h0M1278.5 932.5h0M1258.5 941.5h0M1277.5 933.5h0M1247.5 936.5h0M1273.5 936.5h0M1278.5 933.5h0M1287.5 933.5h0M1260.5 924.5h0M1246.5 935.5h0M1259.5 940.5h0M1258.5 939.5h0M1284.5 932.5h0M1280.5 932.5h0M1273.5 927.5h0M1277.5 930.5h0M1306.5 926.5h0M1263.5 925.5h0M1251.5 928.5h0M1250.5 928.5h0M1284.5 933.5h0M1278.5 931.5h0M1288.5 933.5h0M1278.5 929.5h0M1281.5 929.5h0M1287.5 934.5h0M1277.5 933.5h0M1285.5 930.5h0M1258.5 923.5h0M1260.5 925.5h0M1272.5 927.5h0M1283.5 933.5h0M1277.5 930.5h0M1286.5 933.5h0M1251.5 938.5h0M1277.5 930.5h0M1246.5 936.5h0M1250.5 937.5h0M1264.5 924.5h0M1309.5 926.5h0M1260.5 923.5h0M1263.5 922.5h0M1272.5 936.5h0M1287.5 933.5h0M1264.5 939.5h0M1287.5 934.5h0M1282.5 932.5h0M1280.5 935.5h0M1284.5 933.5h0M1283.5 931.5h0M1251.5 927.5h0M1284.5 933.5h0M1247.5 936.5h0M1307.5 929.5h0M1306.5 927.5h0M1277.5 930.5h0M1305.5 926.5h0M1286.5 935.5h0M1300.5 930.5h0M1284.5 935.5h0M1260.5 924.5h0M1283.5 931.5h0M1282.5 933.5h0M1281.5 932.5h0M1288.5 931.5h0M1272.5 929.5h0M1289.5 935.5h0M1279.5 933.5h0M1286.5 933.5h0M1283.5 932.5h0M1263.5 925.5h0M1280.5 932.5h0M1320.5 923.5h0M1309.5 926.5h0M1248.5 939.5h0M1280.5 931.5h0M1247.5 932.5h0M1256.5 939.5h0M1321.5 923.5h0M1306.5 928.5h0M1247.5 936.5h0M1247.5 936.5h0M1247.5 933.5h0M1258.5 940.5h0M1303.5 929.5h0M1284.5 930.5h0M1276.5 932.5h0M1288.5 935.5h0M1291.5 930.5h0M1287.5 934.5h0M1292.5 930.5h0M1259.5 940.5h0M1284.5 933.5h0M1291.5 930.5h0M1303.5 929.5h0M1303.5 930.5h0M1302.5 931.5h0M1320.5 925.5h0M1272.5 928.5h0M1286.5 932.5h0M1274.5 929.5h0M1262.5 924.5h0M1262.5 924.5h0M1306.5 927.5h0M1256.5 940.5h0M1292.5 931.5h0M1260.5 924.5h0M1250.5 937.5h0M1258.5 940.5h0" stroke="#19ffe5" stroke-width="1.5" stroke-linecap="square"/>
<path d="M1246.5 933.5h0M1289.5 934.5h0M1268.5 924.5h0M1306.5 928.5h0M1304.5 928.5h0M1247.5 934.5h0M1254.5 927.5h0M1248.5 934.5h0M1255.5 926.5h0M1289.5 933.5h0M1280.5 934.5h0M1254.5 925.5h0M1306.5 928.5h0M1274.5 927.5h0M1266.5 924.5h0M1265.5 924.5h0M1266.5 923.5h0M1275.5 928.5h0M1275.5 935.5h0M1268.5 924.5h0M1281.5 933.5h0M1271.5 925.5h0M1304.5 931.5h0M1284.5 933.5h0M1267.5 924.5h0M1275.5 928.5h0M1266.5 922.5h0M1305.5 929.5h0M1275.5 931.5h0M1274.5 930.5h0M1286.5 934.5h0M1305.5 929.5h0M1264.5 924.5h0M1267.5 925.5h0M1247.5 935.5h0M1304.5 930.5h0M1290.5 932.5h0M1288.5 932.5h0M1271.5 926.5h0M1266.5 924.5h0M1275.5 930.5h0M1266.5 924.5h0M1288.5 934.5h0M1283.5 930.5h0M1281.5 935.5h0M1275.5 930.5h0M1264.5 925.5h0M1254.5 926.5h0M1275.5 935.5h0M1289.5 933.5h0M1247.5 934.5h0" stroke="#4cffb2" stroke-width="1.5" stroke-linecap="square"/>
<path d="M1260.5 939.5h0M1264.5 936.5h0M1252.5 929.5h0M1253.5 929.5h0M1269.5 926.5h0M1272.5 929.5h0M1260.5 937.5h0M1260.5 938.5h0M1257.5 926.5h0M1269.5 926.5h0M1264.5 936.5h0M1270.5 935.5h0M1256.5 926.5h0M1262.5 939.5h0M1271.5 937.5h0M1269.5 926.5h0M1273.5 933.5h0M1272.5 931.5h0M1272.5 934.5h0M1253.5 929.5h0M1270.5 936.5h0M1266.5 936.5h0M1271.5 937.5h0M1273.5 934.5h0M1272.5 928.5h0M1268.5 937.5h0M1269.5 927.5h0M1257.5 927.5h0M1268.5 935.5h0M1264.5 935.5h0M1260.5 938.5h0M1253.5 929.5h0M1275.5 932.5h0M1261.5 939.5h0M1264.5 936.5h0M1273.5 930.5h0M1268.5 935.5h0M1268.5 937.5h0M1253.5 928.5h0M1274.5 934.5h0M1270.5 928.5h0M1274.5 931.5h0M1253.5 928.5h0M1268.5 925.5h0M1273.5 933.5h0M1269.5 936.5h0M1274.5 934.5h0M1268.5 937.5h0M1258.5 925.5h0M1274.5 931.5h0M1269.5 936.5h0M1269.5 935.5h0M1269.5 926.5h0" stroke="#7fff7f" stroke-width="1.5" stroke-linecap="square"/>
<path d="M1249.5 931.5h0M1270.5 931.5h0M1252.5 938.5h0M1268.5 929.5h0M1259.5 938.5h0M1273.5 933.5h0M1256.5 938.5h0M1267.5 926.5h0M1254.5 939.5h0M1273.5 932.5h0M1273.5 931.5h0M1267.5 937.5h0M1266.5 936.5h0M1269.5 928.5h0M1267.5 927.5h0M1252.5 931.5h0M1271.5 930.5h0M1248.5 933.5h0M1248.5 933.5h0M1267.5 927.5h0M1255.5 938.5h0M1254.5 938.5h0M1248.5 936.5h0M1266.5 925.5h0M1251.5 930.5h0M1249.5 932.5h0M1254.5 938.5h0M1248.5 933.5h0M1248.5 932.5h0M1259.5 937.5h0M1258.5 938.5h0M1253.5 938.5h0M1255.5 937.5h0M1258.5 938.5h0M1267.5 937.5h0M1251.5 930.5h0M1269.5 929.5h0M1255.5 939.5h0M1248.5 936.5h0M1252.5 938.5h0M1249.5 937.5h0M1258.5 938.5h0M1251.5 930.5h0M1274.5 933.5h0M1252.5 938.5h0M1252.5 937.5h0M1258.5 938.5h0M1270.5 930.5h0M1272.5 931.5h0M1251.5 931.5h0M1254.5 938.5h0M1250.5 931.5h0M1271.5 929.5h0" stroke="#b2ff4c" stroke-width="1.5" stroke-linecap="square"/>
<path d="M1267.5 928.5h0M1254.5 928.5h0M1270.5 930.5h0M1259.5 927.5h0M1267.5 929.5h0M1268.5 930.5h0M1248.5 934.5h0M1249.5 935.5h0M1264.5 925.5h0M1256.5 927.5h0M1262.5 936.5h0M1249.5 934.5h0M1256.5 927.5h0M1248.5 933.5h0M1257.5 927.5h0M1263.5 936.5h0M1257.5 927.5h0M1265.5 927.5h0M1258.5 926.5h0M1267.5 929.5h0M1263.5 936.5h0M1249.5 935.5h0M1263.5 936.5h0M1257.5 928.5h0M1266.5 928.5h0M1257.5 928.5h0M1254.5 928.5h0M1267.5 928.5h0M1260.5 926.5h0M1256.5 929.5h0M1257.5 928.5h0M1269.5 931.5h0M1266.5 928.5h0M1265.5 926.5h0M1256.5 928.5h0M1248.5 934.5h0M1261.5 927.5h0M1269.5 930.5h0M1249.5 934.5h0" stroke="#e5ff19" stroke-width="1.5" stroke-linecap="square"/>
<path d="M1260.5 928.5h0M1271.5 932.5h0M1268.5 931.5h0M1270.5 932.5h0M1261.5 937.5h0M1264.5 927.5h0M1269.5 932.5h0M1261.5 936.5h0M1270.5 931.5h0M1263.5 927.5h0M1261.5 936.5h0M1268.5 932.5h0M1263.5 926.5h0M1270.5 932.5h0M1261.5 937.5h0M1271.5 932.5h0M1268.5 931.5h0M1259.5 929.5h0M1260.5 929.5h0M1258.5 928.5h0M1254.5 929.5h0M1259.5 929.5h0M1259.5 929.5h0M1258.5 928.5h0M1268.5 933.5h0M1268.5 931.5h0M1263.5 925.5h0M1258.5 927.5h0M1268.5 932.5h0M1270.5 932.5h0M1260.5 936.5h0M1253.5 930.5h0M1262.5 935.5h0M1269.5 933.5h0" stroke="#ffe500" stroke-width="1.5" stroke-linecap="square"/>
<path d="M1255.5 929.5h0M1262.5 929.5h0M1271.5 935.5h0M1262.5 928.5h0M1266.5 930.5h0M1265.5 927.5h0M1267.5 930.5h0M1264.5 929.5h0M1271.5 934.5h0M1267.5 929.5h0M1251.5 932.5h0M1271.5 934.5h0M1250.5 937.5h0M1260.5 929.5h0M1250.5 936.5h0M1264.5 935.5h0M1264.5 934.5h0M1261.5 928.5h0M1270.5 934.5h0M1262.5 928.5h0M1251.5 937.5h0M1261.5 928.5h0M1263.5 927.5h0M1264.5 934.5h0M1263.5 927.5h0M1260.5 929.5h0M1262.5 927.5h0M1264.5 934.5h0M1265.5 928.5h0M1268.5 934.5h0M1270.5 934.5h0M1260.5 928.5h0M1251.5 932.5h0M1267.5 930.5h0M1268.5 934.5h0M1271.5 935.5h0M1260.5 928.5h0M1260.5 929.5h0M1255.5 930.5h0M1271.5 934.5h0M1255.5 931.5h0M1269.5 933.5h0M1266.5 934.5h0M1266.5 927.5h0M1264.5 927.5h0M1271.5 935.5h0M1266.5 929.5h0M1262.5 928.5h0M1256.5 930.5h0M1264.5 935.5h0M1250.5 936.5h0M1265.5 929.5h0M1250.5 936.5h0M1252.5 932.5h0M1255.5 929.5h0M1251.5 937.5h0M1265.5 934.5h0M1255.5 930.5h0M1263.5 927.5h0M1267.5 931.5h0M1256.5 930.5h0M1262.5 928.5h0M1264.5 934.5h0M1255.5 929.5h0M1262.5 928.5h0M1255.5 931.5h0M1250.5 936.5h0M1268.5 933.5h0M1250.5 935.5h0M1268.5 933.5h0M1256.5 931.5h0M1265.5 934.5h0M1264.5 934.5h0M1251.5 932.5h0" stroke="#ffb200" stroke-width="1.5" stroke-linecap="square"/>
<path d="M1267.5 932.5h0M1252.5 931.5h0M1253.5 935.5h0M1253.5 937.5h0M1267.5 935.5h0M1259.5 936.5h0M1262.5 935.5h0M1260.5 934.5h0M1252.5 936.5h0M1257.5 931.5h0M1256.5 936.5h0M1256.5 936.5h0M1258.5 937.5h0M1258.5 936.5h0M1261.5 935.5h0M1259.5 936.5h0M1266.5 935.5h0M1254.5 932.5h0M1253.5 932.5h0M1253.5 932.5h0M1256.5 937.5h0M1252.5 932.5h0M1267.5 932.5h0M1258.5 931.5h0M1263.5 934.5h0M1267.5 933.5h0M1261.5 933.5h0M1266.5 932.5h0M1257.5 930.5h0M1261.5 935.5h0M1252.5 931.5h0M1266.5 931.5h0M1258.5 937.5h0M1252.5 937.5h0M1259.5 936.5h0M1253.5 932.5h0M1253.5 936.5h0M1256.5 935.5h0M1258.5 931.5h0M1257.5 936.5h0M1262.5 935.5h0M1263.5 934.5h0M1256.5 930.5h0M1263.5 935.5h0M1268.5 933.5h0M1267.5 935.5h0M1260.5 934.5h0M1261.5 934.5h0M1260.5 935.5h0M1253.5 931.5h0M1252.5 935.5h0M1252.5 932.5h0M1253.5 931.5h0M1253.5 935.5h0M1268.5 933.5h0" stroke="#ff7f00" stroke-width="1.5" stroke-linecap="square"/>
<path d="M1253.5 934.5h0M1252.5 934.5h0M1262.5 932.5h0M1253.5 935.5h0M1251.5 935.5h0M1253.5 935.5h0M1265.5 931.5h0M1255.5 937.5h0M1252.5 933.5h0M1253.5 934.5h0M1250.5 934.5h0M1255.5 937.5h0M1252.5 934.5h0M1252.5 934.5h0M1257.5 933.5h0M1254.5 935.5h0M1258.5 930.5h0M1264.5 931.5h0M1253.5 935.5h0M1262.5 932.5h0M1255.5 936.5h0M1251.5 934.5h0M1257.5 933.5h0M1257.5 931.5h0M1264.5 933.5h0M1265.5 931.5h0M1264.5 933.5h0M1260.5 932.5h0M1260.5 933.5h0M1254.5 937.5h0M1265.5 930.5h0M1256.5 933.5h0M1257.5 931.5h0M1256.5 933.5h0M1261.5 932.5h0M1252.5 934.5h0M1254.5 936.5h0M1252.5 935.5h0M1251.5 934.5h0M1265.5 932.5h0M1261.5 931.5h0M1264.5 931.5h0M1253.5 935.5h0M1265.5 932.5h0M1264.5 933.5h0M1265.5 930.5h0M1250.5 935.5h0M1265.5 931.5h0M1264.5 931.5h0M1257.5 931.5h0" stroke="#ff4c00" stroke-width="1.5" stroke-linecap="square"/>
<path d="M1257.5 935.5h0M1263.5 930.5h0M1257.5 935.5h0M1256.5 935.5h0M1257.5 934.5h0M1261.5 929.5h0M1263.5 930.5h0M1258.5 935.5h0M1259.5 935.5h0M1254.5 933.5h0M1264.5 929.5h0M1256.5 934.5h0M1255.5 932.5h0M1256.5 934.5h0M1262.5 932.5h0M1256.5 933.5h0M1259.5 933.5h0M1260.5 933.5h0M1259.5 933.5h0M1260.5 930.5h0M1264.5 931.5h0M1259.5 932.5h0M1255.5 932.5h0M1257.5 935.5h0M1262.5 931.5h0M1256.5 934.5h0M1256.5 935.5h0M1259.5 932.5h0M1263.5 930.5h0M1262.5 931.5h0M1259.5 935.5h0M1259.5 934.5h0M1262.5 930.5h0M1257.5 934.5h0M1258.5 934.5h0M1260.5 930.5h0M1258.5 933.5h0M1262.5 930.5h0M1256.5 935.5h0M1260.5 929.5h0M1261.5 930.5h0M1263.5 933.5h0M1264.5 930.5h0M1259.5 933.5h0M1254.5 933.5h0M1259.5 933.5h0M1262.5 931.5h0M1256.5 935.5h0M1258.5 935.5h0M1258.5 933.5h0M1262.5 933.5h0M1263.5 930.5h0M1262.5 931.5h0M1256.5 934.5h0M1263.5 933.5h0M1261.5 930.5h0M1256.5 933.5h0M1262.5 932.5h0M1262.5 931.5h0M1256.5 933.5h0M1263.5 931.5h0M1260.5 933.5h0M1259.5 933.5h0M1259.5 933.5h0" stroke="#ff1900" stroke-width="1.5" stroke-linecap="square"/>
<path d="M1255.5 934.5h0M1254.5 934.5h0M1255.5 935.5h0M1254.5 934.5h0" stroke="#e50000" stroke-width="1.5" stroke-linecap="square"/>
<line x1="1298.3" y1="811.1" x2="1298.3" y2="957.3" stroke="#000" stroke-width="1.5"/>
<line x1="1227.7" y1="892.6" x2="1392.6" y2="892.6" stroke="#000" stroke-width="1.5"/>
<rect x="1227.7" y="811.1" width="164.9" height="146.2" fill="none" stroke="#222" stroke-width="1.1"/>
<path d="M1224.2 825.3H1227.7M1225.7 835.4H1227.7M1225.7 841.3H1227.7M1225.7 845.5H1227.7M1225.7 848.8H1227.7M1225.7 851.4H1227.7M1225.7 853.7H1227.7M1225.7 855.6H1227.7M1225.7 857.4H1227.7M1224.2 858.2H1227.7M1225.7 868.3H1227.7M1225.7 874.2H1227.7M1225.7 878.4H1227.7M1225.7 881.7H1227.7M1225.7 884.3H1227.7M1225.7 886.6H1227.7M1225.7 888.5H1227.7M1225.7 890.3H1227.7M1224.2 893.7H1227.7M1225.7 903.8H1227.7M1225.7 909.7H1227.7M1225.7 913.9H1227.7M1225.7 917.2H1227.7M1225.7 919.9H1227.7M1225.7 922.1H1227.7M1225.7 924.1H1227.7M1225.7 925.8H1227.7M1225.2 927.6H1227.7M1225.2 931.6H1227.7M1225.2 934.6H1227.7M1225.2 936.6H1227.7M1225.2 937.6H1227.7M1225.2 938.6H1227.7M1225.2 940.6H1227.7M1225.2 943.6H1227.7M1225.2 947.6H1227.7M1225.2 952.6H1227.7M1302.9 957.3V960.8M1275.8 957.3V959.3M1282.6 957.3V959.3M1287.5 957.3V959.3M1291.2 957.3V959.3M1294.3 957.3V959.3M1296.9 957.3V959.3M1299.1 957.3V959.3M1301.1 957.3V959.3M1342.3 957.3V960.8M1315.2 957.3V959.3M1322 957.3V959.3M1326.9 957.3V959.3M1330.6 957.3V959.3M1333.7 957.3V959.3M1336.3 957.3V959.3M1338.6 957.3V959.3M1340.5 957.3V959.3M1380.2 957.3V960.8M1353.1 957.3V959.3M1360 957.3V959.3M1364.8 957.3V959.3M1368.6 957.3V959.3M1371.6 957.3V959.3M1374.2 957.3V959.3M1376.5 957.3V959.3M1378.5 957.3V959.3M1238.6 957.3V959.8M1242.6 957.3V959.8M1245.6 957.3V959.8M1247.6 957.3V959.8M1249.6 957.3V959.8M1251.6 957.3V959.8M1252.6 957.3V959.8M1253.6 957.3V959.8M1255.6 957.3V959.8M1257.6 957.3V959.8M1260.6 957.3V959.8M1264.6 957.3V959.8" stroke="#333" stroke-width="0.8" fill="none"/>
<text x="1219.7" y="827.8" font-size="6.5" text-anchor="end" fill="#333">10<tspan font-size="5" dy="-3">5</tspan></text>
<text x="1219.7" y="860.7" font-size="6.5" text-anchor="end" fill="#333">10<tspan font-size="5" dy="-3">4</tspan></text>
<text x="1219.7" y="896.2" font-size="6.5" text-anchor="end" fill="#333">10<tspan font-size="5" dy="-3">3</tspan></text>
<text x="1219.7" y="940.1" font-size="6.5" text-anchor="end" fill="#333">0</text>
<text x="1252.6" y="970.3" font-size="6.5" text-anchor="middle" fill="#333">0</text>
<text x="1302.9" y="970.3" font-size="6.5" text-anchor="middle" fill="#333">10<tspan font-size="5" dy="-3">3</tspan></text>
<text x="1342.3" y="970.3" font-size="6.5" text-anchor="middle" fill="#333">10<tspan font-size="5" dy="-3">4</tspan></text>
<text x="1380.2" y="970.3" font-size="6.5" text-anchor="middle" fill="#333">10<tspan font-size="5" dy="-3">5</tspan></text>
<rect x="1410.4" y="811.1" width="165.4" height="146.2" fill="#fff"/>
<path d="M1530.5 930.5h0M1452.5 892.5h0M1505.5 884.5h0M1419.5 936.5h0M1511.5 901.5h0M1516.5 910.5h0M1542.5 909.5h0M1482.5 914.5h0M1442.5 923.5h0M1545.5 921.5h0M1417.5 908.5h0M1424.5 914.5h0M1470.5 921.5h0M1421.5 909.5h0M1481.5 940.5h0M1458.5 903.5h0M1419.5 912.5h0M1463.5 913.5h0M1469.5 910.5h0M1435.5 914.5h0M1467.5 903.5h0M1487.5 940.5h0M1525.5 932.5h0M1519.5 936.5h0M1422.5 916.5h0M1433.5 946.5h0M1510.5 941.5h0M1476.5 918.5h0M1439.5 921.5h0M1455.5 913.5h0M1472.5 899.5h0M1419.5 941.5h0M1525.5 926.5h0M1480.5 938.5h0M1529.5 928.5h0M1496.5 941.5h0M1525.5 923.5h0M1532.5 922.5h0M1521.5 930.5h0M1512.5 917.5h0M1486.5 910.5h0M1512.5 905.5h0M1522.5 925.5h0M1485.5 910.5h0M1517.5 908.5h0M1482.5 902.5h0M1539.5 930.5h0M1518.5 940.5h0M1526.5 911.5h0M1531.5 902.5h0M1500.5 914.5h0M1541.5 917.5h0M1500.5 883.5h0M1492.5 913.5h0M1525.5 918.5h0M1424.5 922.5h0M1445.5 909.5h0M1424.5 923.5h0M1475.5 914.5h0M1480.5 910.5h0M1518.5 900.5h0M1533.5 926.5h0" stroke="#0000e5" stroke-width="1.5" stroke-linecap="square"/>
<path d="M1488.5 936.5h0M1476.5 921.5h0M1436.5 922.5h0M1454.5 941.5h0M1442.5 914.5h0M1451.5 912.5h0M1421.5 926.5h0M1468.5 924.5h0M1438.5 924.5h0M1468.5 915.5h0M1420.5 924.5h0M1473.5 922.5h0M1435.5 921.5h0M1469.5 917.5h0M1448.5 917.5h0M1420.5 924.5h0M1479.5 912.5h0M1441.5 913.5h0M1430.5 925.5h0M1452.5 941.5h0M1418.5 923.5h0M1441.5 916.5h0M1417.5 933.5h0M1457.5 942.5h0M1419.5 931.5h0M1443.5 918.5h0M1474.5 918.5h0M1419.5 930.5h0M1425.5 939.5h0M1515.5 935.5h0M1464.5 939.5h0M1472.5 924.5h0M1421.5 932.5h0M1479.5 935.5h0M1507.5 916.5h0M1430.5 943.5h0M1467.5 911.5h0M1435.5 922.5h0M1440.5 916.5h0M1439.5 918.5h0M1448.5 917.5h0M1445.5 919.5h0M1460.5 917.5h0M1442.5 941.5h0M1517.5 926.5h0M1514.5 934.5h0M1436.5 919.5h0M1494.5 912.5h0M1459.5 914.5h0M1451.5 912.5h0M1418.5 926.5h0M1444.5 913.5h0M1444.5 915.5h0M1426.5 925.5h0M1433.5 916.5h0M1450.5 921.5h0M1468.5 915.5h0M1456.5 913.5h0M1503.5 908.5h0M1517.5 935.5h0M1452.5 911.5h0M1446.5 919.5h0M1504.5 911.5h0M1460.5 915.5h0M1513.5 919.5h0M1485.5 923.5h0M1480.5 919.5h0M1486.5 923.5h0M1465.5 910.5h0M1485.5 914.5h0M1505.5 937.5h0M1510.5 934.5h0M1480.5 924.5h0M1496.5 937.5h0M1485.5 917.5h0M1511.5 933.5h0M1507.5 915.5h0M1426.5 925.5h0M1483.5 921.5h0M1506.5 939.5h0M1488.5 937.5h0M1488.5 916.5h0M1508.5 917.5h0M1518.5 930.5h0M1480.5 924.5h0M1512.5 919.5h0M1501.5 913.5h0M1487.5 919.5h0M1457.5 942.5h0M1439.5 925.5h0M1471.5 917.5h0M1452.5 912.5h0M1446.5 917.5h0M1515.5 922.5h0M1422.5 930.5h0M1515.5 922.5h0M1479.5 925.5h0M1476.5 922.5h0M1470.5 916.5h0M1479.5 920.5h0M1482.5 920.5h0M1505.5 911.5h0M1464.5 921.5h0M1421.5 926.5h0M1441.5 942.5h0M1465.5 921.5h0M1474.5 914.5h0M1496.5 915.5h0M1518.5 925.5h0" stroke="#0019ff" stroke-width="1.5" stroke-linecap="square"/>
<path d="M1466.5 924.5h0M1461.5 921.5h0M1494.5 918.5h0M1452.5 919.5h0M1474.5 926.5h0M1433.5 924.5h0M1451.5 918.5h0M1453.5 915.5h0M1473.5 926.5h0M1456.5 921.5h0M1484.5 926.5h0M1468.5 922.5h0M1484.5 926.5h0M1451.5 923.5h0M1458.5 920.5h0M1500.5 934.5h0M1489.5 918.5h0M1509.5 920.5h0M1505.5 918.5h0M1495.5 919.5h0M1514.5 930.5h0M1485.5 925.5h0M1513.5 932.5h0M1505.5 935.5h0M1501.5 919.5h0M1499.5 936.5h0M1515.5 930.5h0M1491.5 933.5h0M1513.5 930.5h0M1470.5 925.5h0M1516.5 929.5h0M1498.5 918.5h0M1456.5 940.5h0M1471.5 938.5h0M1498.5 935.5h0M1509.5 920.5h0M1515.5 931.5h0M1514.5 931.5h0M1431.5 925.5h0M1494.5 917.5h0M1488.5 926.5h0M1500.5 919.5h0M1476.5 925.5h0M1498.5 918.5h0M1497.5 935.5h0M1512.5 921.5h0M1500.5 936.5h0M1486.5 925.5h0M1509.5 921.5h0M1495.5 917.5h0M1504.5 935.5h0M1492.5 918.5h0M1475.5 932.5h0M1495.5 917.5h0M1452.5 913.5h0M1435.5 925.5h0M1457.5 920.5h0M1458.5 920.5h0M1456.5 925.5h0M1502.5 934.5h0M1457.5 921.5h0M1458.5 938.5h0M1481.5 933.5h0M1428.5 929.5h0M1467.5 938.5h0M1466.5 937.5h0M1465.5 934.5h0M1462.5 921.5h0M1444.5 926.5h0M1468.5 937.5h0M1462.5 936.5h0M1475.5 936.5h0M1431.5 927.5h0M1465.5 939.5h0M1427.5 929.5h0M1455.5 923.5h0M1423.5 927.5h0M1467.5 940.5h0M1462.5 936.5h0M1462.5 938.5h0M1466.5 934.5h0M1475.5 934.5h0M1459.5 937.5h0M1459.5 923.5h0M1482.5 923.5h0M1460.5 919.5h0M1475.5 931.5h0M1452.5 919.5h0M1470.5 914.5h0M1454.5 920.5h0M1453.5 918.5h0M1462.5 920.5h0M1440.5 941.5h0M1464.5 922.5h0M1429.5 927.5h0M1456.5 925.5h0M1465.5 939.5h0M1453.5 923.5h0M1480.5 932.5h0M1454.5 939.5h0M1434.5 926.5h0M1480.5 927.5h0M1466.5 924.5h0M1469.5 938.5h0M1472.5 939.5h0M1465.5 935.5h0M1424.5 929.5h0M1477.5 932.5h0M1461.5 922.5h0M1456.5 924.5h0M1467.5 939.5h0M1472.5 939.5h0M1476.5 936.5h0M1454.5 925.5h0M1476.5 935.5h0M1434.5 926.5h0M1486.5 934.5h0M1464.5 940.5h0M1451.5 922.5h0M1451.5 916.5h0M1462.5 923.5h0M1424.5 938.5h0M1455.5 918.5h0M1498.5 916.5h0M1454.5 916.5h0M1437.5 941.5h0" stroke="#004cff" stroke-width="1.5" stroke-linecap="square"/>
<path d="M1426.5 937.5h0M1429.5 940.5h0M1482.5 928.5h0M1426.5 938.5h0M1487.5 932.5h0M1432.5 942.5h0M1429.5 940.5h0M1439.5 925.5h0M1493.5 920.5h0M1459.5 923.5h0M1481.5 927.5h0M1432.5 928.5h0M1479.5 930.5h0M1429.5 940.5h0M1508.5 933.5h0M1448.5 939.5h0M1494.5 934.5h0M1427.5 931.5h0M1464.5 934.5h0M1446.5 939.5h0M1478.5 931.5h0M1504.5 921.5h0M1487.5 930.5h0M1474.5 929.5h0M1486.5 931.5h0M1509.5 924.5h0M1507.5 934.5h0M1490.5 920.5h0M1493.5 934.5h0M1493.5 935.5h0M1507.5 921.5h0M1485.5 930.5h0M1512.5 927.5h0M1515.5 925.5h0M1460.5 927.5h0M1456.5 922.5h0M1504.5 933.5h0M1496.5 934.5h0M1483.5 932.5h0M1510.5 926.5h0M1492.5 933.5h0M1503.5 921.5h0M1492.5 932.5h0M1498.5 935.5h0M1513.5 925.5h0M1503.5 934.5h0M1482.5 927.5h0M1514.5 926.5h0M1473.5 936.5h0M1474.5 928.5h0M1478.5 930.5h0M1479.5 928.5h0M1455.5 938.5h0M1441.5 941.5h0M1431.5 942.5h0M1426.5 938.5h0M1476.5 931.5h0M1512.5 930.5h0M1424.5 934.5h0M1436.5 942.5h0M1485.5 933.5h0M1515.5 927.5h0M1483.5 930.5h0M1510.5 929.5h0M1501.5 932.5h0M1514.5 926.5h0M1513.5 926.5h0M1514.5 926.5h0M1510.5 930.5h0M1500.5 934.5h0M1507.5 920.5h0M1505.5 920.5h0M1509.5 928.5h0M1510.5 932.5h0M1510.5 930.5h0M1515.5 926.5h0M1463.5 934.5h0M1490.5 932.5h0M1425.5 929.5h0M1483.5 932.5h0M1423.5 937.5h0M1448.5 926.5h0M1463.5 927.5h0M1485.5 932.5h0M1445.5 926.5h0M1446.5 926.5h0M1474.5 936.5h0M1512.5 923.5h0M1470.5 928.5h0M1469.5 929.5h0M1499.5 932.5h0M1477.5 931.5h0M1472.5 936.5h0M1462.5 927.5h0M1460.5 927.5h0M1462.5 925.5h0M1488.5 932.5h0M1480.5 928.5h0M1483.5 931.5h0M1514.5 925.5h0M1509.5 927.5h0M1472.5 925.5h0M1474.5 937.5h0M1506.5 920.5h0M1426.5 931.5h0M1471.5 937.5h0M1445.5 925.5h0M1447.5 941.5h0M1448.5 940.5h0M1448.5 940.5h0M1447.5 925.5h0M1473.5 929.5h0M1479.5 931.5h0M1487.5 931.5h0M1425.5 937.5h0M1445.5 927.5h0M1475.5 929.5h0M1447.5 940.5h0M1509.5 928.5h0M1502.5 920.5h0M1439.5 926.5h0M1477.5 928.5h0M1514.5 925.5h0M1458.5 936.5h0M1499.5 933.5h0M1485.5 932.5h0M1436.5 927.5h0M1427.5 930.5h0M1427.5 930.5h0" stroke="#007fff" stroke-width="1.5" stroke-linecap="square"/>
<path d="M1471.5 932.5h0M1516.5 927.5h0M1500.5 929.5h0M1507.5 924.5h0M1505.5 930.5h0M1504.5 932.5h0M1511.5 929.5h0M1508.5 924.5h0M1490.5 922.5h0M1489.5 922.5h0M1489.5 928.5h0M1491.5 921.5h0M1491.5 920.5h0M1505.5 929.5h0M1504.5 924.5h0M1446.5 928.5h0M1472.5 934.5h0M1464.5 932.5h0M1508.5 924.5h0M1506.5 933.5h0M1506.5 929.5h0M1503.5 924.5h0M1495.5 932.5h0M1471.5 932.5h0M1464.5 929.5h0M1456.5 926.5h0M1471.5 933.5h0M1426.5 932.5h0M1446.5 929.5h0M1514.5 928.5h0M1508.5 921.5h0M1489.5 928.5h0M1490.5 924.5h0M1501.5 929.5h0M1490.5 925.5h0M1442.5 928.5h0M1445.5 927.5h0M1471.5 932.5h0M1458.5 936.5h0M1469.5 934.5h0M1454.5 938.5h0M1502.5 923.5h0M1443.5 939.5h0M1490.5 924.5h0M1505.5 930.5h0M1442.5 928.5h0M1464.5 929.5h0M1426.5 932.5h0M1442.5 938.5h0M1472.5 929.5h0M1489.5 922.5h0M1489.5 931.5h0M1496.5 933.5h0M1504.5 930.5h0M1503.5 922.5h0M1505.5 933.5h0M1498.5 920.5h0M1462.5 933.5h0M1455.5 936.5h0M1465.5 929.5h0M1463.5 928.5h0M1471.5 934.5h0M1470.5 933.5h0M1465.5 927.5h0M1449.5 927.5h0M1472.5 928.5h0M1474.5 930.5h0M1499.5 931.5h0M1489.5 930.5h0M1443.5 939.5h0M1507.5 924.5h0M1504.5 933.5h0M1498.5 932.5h0M1492.5 919.5h0M1502.5 920.5h0M1471.5 932.5h0M1469.5 935.5h0M1468.5 929.5h0M1457.5 936.5h0M1490.5 922.5h0M1489.5 929.5h0M1511.5 927.5h0M1500.5 920.5h0M1490.5 929.5h0M1508.5 932.5h0M1492.5 920.5h0M1505.5 931.5h0M1465.5 933.5h0M1448.5 927.5h0M1499.5 930.5h0M1501.5 930.5h0M1503.5 923.5h0M1506.5 932.5h0M1463.5 929.5h0M1495.5 933.5h0M1501.5 921.5h0M1505.5 933.5h0M1471.5 932.5h0M1474.5 934.5h0M1468.5 929.5h0M1461.5 927.5h0M1508.5 923.5h0M1495.5 931.5h0M1506.5 932.5h0M1503.5 923.5h0" stroke="#00b2ff" stroke-width="1.5" stroke-linecap="square"/>
<path d="M1432.5 940.5h0M1507.5 931.5h0M1470.5 929.5h0M1431.5 940.5h0M1426.5 934.5h0M1449.5 938.5h0M1436.5 941.5h0M1458.5 929.5h0M1445.5 931.5h0M1448.5 927.5h0M1469.5 932.5h0M1469.5 930.5h0M1500.5 921.5h0M1492.5 924.5h0M1508.5 926.5h0M1428.5 932.5h0M1494.5 932.5h0M1471.5 931.5h0M1454.5 936.5h0M1446.5 939.5h0M1504.5 925.5h0M1493.5 929.5h0M1502.5 929.5h0M1499.5 929.5h0M1493.5 923.5h0M1500.5 928.5h0M1446.5 936.5h0M1451.5 939.5h0M1445.5 936.5h0M1454.5 926.5h0M1427.5 933.5h0M1465.5 930.5h0M1463.5 930.5h0M1470.5 931.5h0M1432.5 930.5h0M1497.5 929.5h0M1491.5 924.5h0M1505.5 923.5h0M1491.5 928.5h0M1496.5 931.5h0M1495.5 923.5h0M1432.5 931.5h0M1425.5 933.5h0M1447.5 928.5h0M1446.5 937.5h0M1463.5 930.5h0M1459.5 934.5h0M1492.5 931.5h0M1444.5 930.5h0M1465.5 931.5h0M1491.5 923.5h0M1507.5 930.5h0M1437.5 941.5h0M1433.5 941.5h0M1456.5 928.5h0M1451.5 939.5h0M1464.5 930.5h0M1465.5 929.5h0M1453.5 935.5h0M1469.5 932.5h0M1426.5 937.5h0M1430.5 931.5h0M1441.5 938.5h0M1459.5 934.5h0M1470.5 930.5h0M1506.5 926.5h0M1503.5 927.5h0M1497.5 928.5h0M1491.5 930.5h0M1495.5 930.5h0M1493.5 933.5h0M1499.5 929.5h0M1504.5 929.5h0M1507.5 925.5h0M1491.5 928.5h0M1437.5 939.5h0M1426.5 935.5h0M1501.5 924.5h0M1495.5 931.5h0M1499.5 923.5h0M1491.5 931.5h0M1437.5 940.5h0M1491.5 924.5h0M1491.5 925.5h0M1495.5 930.5h0M1425.5 935.5h0M1441.5 939.5h0M1434.5 940.5h0M1434.5 939.5h0M1438.5 941.5h0M1508.5 930.5h0M1506.5 925.5h0M1494.5 930.5h0M1458.5 929.5h0M1468.5 931.5h0M1453.5 936.5h0M1467.5 931.5h0M1466.5 930.5h0M1454.5 927.5h0M1466.5 930.5h0M1448.5 938.5h0M1458.5 928.5h0M1506.5 924.5h0M1504.5 926.5h0M1497.5 928.5h0M1501.5 928.5h0M1505.5 923.5h0M1499.5 922.5h0M1453.5 935.5h0M1500.5 926.5h0M1459.5 934.5h0M1462.5 930.5h0M1491.5 927.5h0M1504.5 931.5h0M1506.5 925.5h0M1425.5 935.5h0M1497.5 928.5h0M1492.5 922.5h0M1462.5 933.5h0M1447.5 938.5h0M1453.5 937.5h0M1504.5 926.5h0M1501.5 928.5h0M1499.5 921.5h0M1507.5 928.5h0M1425.5 934.5h0M1469.5 933.5h0M1466.5 929.5h0M1454.5 936.5h0M1447.5 937.5h0M1462.5 931.5h0M1505.5 921.5h0M1495.5 923.5h0M1493.5 931.5h0M1500.5 928.5h0M1506.5 927.5h0M1501.5 928.5h0M1446.5 938.5h0M1433.5 941.5h0M1442.5 938.5h0M1461.5 929.5h0M1467.5 931.5h0M1458.5 927.5h0M1433.5 941.5h0M1500.5 922.5h0M1442.5 938.5h0M1491.5 924.5h0" stroke="#00e5ff" stroke-width="1.5" stroke-linecap="square"/>
<path d="M1493.5 927.5h0M1499.5 923.5h0M1448.5 936.5h0M1500.5 925.5h0M1459.5 930.5h0M1438.5 928.5h0M1429.5 939.5h0M1459.5 932.5h0M1500.5 925.5h0M1493.5 926.5h0M1435.5 939.5h0M1456.5 935.5h0M1460.5 932.5h0M1446.5 932.5h0M1452.5 936.5h0M1445.5 935.5h0M1448.5 936.5h0M1493.5 927.5h0M1446.5 935.5h0M1440.5 927.5h0M1450.5 928.5h0M1496.5 922.5h0M1456.5 934.5h0M1440.5 929.5h0M1457.5 934.5h0M1455.5 933.5h0M1498.5 923.5h0M1449.5 928.5h0M1457.5 934.5h0M1499.5 924.5h0M1496.5 921.5h0M1497.5 922.5h0M1450.5 935.5h0M1445.5 934.5h0M1446.5 931.5h0M1456.5 935.5h0M1493.5 926.5h0M1497.5 923.5h0M1436.5 929.5h0M1447.5 935.5h0M1494.5 926.5h0M1445.5 932.5h0M1492.5 927.5h0M1458.5 929.5h0M1438.5 928.5h0M1493.5 925.5h0M1495.5 928.5h0M1494.5 926.5h0M1493.5 928.5h0M1452.5 936.5h0M1451.5 936.5h0M1495.5 929.5h0M1455.5 933.5h0M1437.5 928.5h0M1459.5 932.5h0M1446.5 933.5h0M1459.5 932.5h0M1490.5 926.5h0M1452.5 936.5h0M1497.5 922.5h0M1437.5 928.5h0M1446.5 932.5h0M1436.5 940.5h0M1436.5 929.5h0M1457.5 934.5h0M1492.5 927.5h0M1430.5 939.5h0M1439.5 929.5h0M1494.5 924.5h0M1450.5 937.5h0M1443.5 930.5h0M1449.5 929.5h0M1499.5 927.5h0M1436.5 928.5h0M1460.5 933.5h0M1450.5 936.5h0M1460.5 931.5h0M1459.5 929.5h0M1449.5 936.5h0M1460.5 931.5h0M1447.5 935.5h0M1499.5 927.5h0" stroke="#19ffe5" stroke-width="1.5" stroke-linecap="square"/>
<path d="M1442.5 931.5h0M1498.5 927.5h0M1458.5 931.5h0M1456.5 929.5h0M1454.5 929.5h0M1448.5 935.5h0M1452.5 928.5h0M1456.5 931.5h0M1428.5 936.5h0M1428.5 935.5h0M1454.5 929.5h0M1452.5 929.5h0M1448.5 930.5h0M1452.5 929.5h0M1455.5 932.5h0M1428.5 933.5h0M1448.5 933.5h0M1454.5 929.5h0M1451.5 927.5h0M1458.5 931.5h0M1458.5 930.5h0M1454.5 933.5h0M1495.5 924.5h0M1495.5 925.5h0M1430.5 933.5h0M1497.5 926.5h0M1495.5 926.5h0M1495.5 925.5h0M1496.5 924.5h0M1427.5 934.5h0M1441.5 929.5h0M1428.5 936.5h0M1428.5 935.5h0M1455.5 928.5h0M1429.5 932.5h0M1496.5 923.5h0M1447.5 934.5h0M1429.5 933.5h0M1428.5 936.5h0M1452.5 928.5h0M1448.5 935.5h0M1428.5 937.5h0M1447.5 930.5h0M1497.5 926.5h0M1496.5 925.5h0M1454.5 928.5h0M1498.5 926.5h0M1454.5 927.5h0M1447.5 931.5h0M1457.5 932.5h0M1457.5 930.5h0M1447.5 933.5h0M1458.5 933.5h0M1453.5 929.5h0M1456.5 928.5h0M1456.5 929.5h0M1441.5 930.5h0M1451.5 928.5h0M1428.5 935.5h0M1458.5 932.5h0M1451.5 928.5h0M1497.5 926.5h0M1441.5 931.5h0M1428.5 933.5h0M1496.5 924.5h0M1442.5 931.5h0M1447.5 930.5h0M1447.5 932.5h0M1453.5 929.5h0M1454.5 933.5h0M1428.5 936.5h0M1430.5 933.5h0M1495.5 925.5h0M1442.5 931.5h0" stroke="#4cffb2" stroke-width="1.5" stroke-linecap="square"/>
<path d="M1498.5 925.5h0M1444.5 936.5h0M1443.5 937.5h0M1498.5 924.5h0M1454.5 931.5h0M1450.5 932.5h0M1433.5 930.5h0M1443.5 937.5h0M1448.5 933.5h0M1450.5 935.5h0M1450.5 930.5h0M1449.5 931.5h0M1450.5 934.5h0M1433.5 930.5h0M1433.5 930.5h0M1498.5 925.5h0M1449.5 934.5h0M1454.5 932.5h0M1444.5 935.5h0M1450.5 929.5h0M1449.5 934.5h0M1449.5 932.5h0M1455.5 931.5h0M1449.5 932.5h0M1448.5 931.5h0M1433.5 930.5h0M1450.5 933.5h0M1454.5 932.5h0M1450.5 933.5h0M1455.5 931.5h0M1455.5 930.5h0M1450.5 933.5h0M1432.5 930.5h0M1455.5 929.5h0M1440.5 939.5h0M1449.5 932.5h0M1432.5 930.5h0M1440.5 937.5h0M1498.5 924.5h0M1433.5 931.5h0M1439.5 938.5h0M1439.5 939.5h0M1453.5 932.5h0" stroke="#7fff7f" stroke-width="1.5" stroke-linecap="square"/>
<path d="M1438.5 930.5h0M1437.5 931.5h0M1438.5 938.5h0M1430.5 935.5h0M1436.5 930.5h0M1451.5 934.5h0M1452.5 933.5h0M1444.5 934.5h0M1434.5 930.5h0M1437.5 930.5h0M1444.5 931.5h0M1435.5 929.5h0M1437.5 939.5h0M1444.5 933.5h0M1432.5 939.5h0M1443.5 932.5h0M1437.5 930.5h0M1452.5 933.5h0M1451.5 933.5h0M1436.5 930.5h0M1438.5 937.5h0M1444.5 932.5h0M1438.5 931.5h0M1432.5 939.5h0M1431.5 938.5h0M1438.5 931.5h0M1438.5 938.5h0M1438.5 930.5h0M1451.5 933.5h0M1452.5 933.5h0M1452.5 934.5h0M1429.5 935.5h0M1443.5 931.5h0M1431.5 939.5h0M1451.5 933.5h0M1451.5 931.5h0M1444.5 934.5h0M1452.5 932.5h0M1438.5 939.5h0M1431.5 938.5h0M1444.5 935.5h0M1434.5 930.5h0M1429.5 936.5h0M1439.5 930.5h0M1435.5 930.5h0M1437.5 938.5h0M1430.5 936.5h0M1437.5 939.5h0M1439.5 931.5h0M1437.5 929.5h0" stroke="#b2ff4c" stroke-width="1.5" stroke-linecap="square"/>
<path d="M1453.5 931.5h0M1454.5 930.5h0M1442.5 937.5h0M1430.5 933.5h0M1433.5 937.5h0M1451.5 930.5h0M1453.5 931.5h0M1430.5 935.5h0M1451.5 930.5h0M1452.5 930.5h0M1429.5 933.5h0M1452.5 930.5h0M1453.5 929.5h0M1452.5 930.5h0M1434.5 939.5h0M1433.5 939.5h0M1453.5 929.5h0M1434.5 938.5h0M1451.5 931.5h0M1454.5 929.5h0M1429.5 933.5h0M1442.5 936.5h0M1433.5 938.5h0" stroke="#e5ff19" stroke-width="1.5" stroke-linecap="square"/>
<path d="M1441.5 932.5h0M1440.5 932.5h0M1435.5 937.5h0M1442.5 931.5h0M1441.5 933.5h0M1432.5 932.5h0M1442.5 932.5h0M1441.5 932.5h0M1431.5 931.5h0M1435.5 938.5h0M1432.5 933.5h0M1441.5 933.5h0M1431.5 933.5h0M1436.5 937.5h0" stroke="#ffe500" stroke-width="1.5" stroke-linecap="square"/>
<path d="M1438.5 931.5h0M1441.5 935.5h0M1442.5 934.5h0M1441.5 933.5h0M1441.5 934.5h0M1442.5 935.5h0M1440.5 934.5h0M1441.5 934.5h0M1441.5 933.5h0M1442.5 934.5h0M1442.5 933.5h0M1441.5 934.5h0M1441.5 934.5h0M1442.5 933.5h0M1437.5 931.5h0" stroke="#ffb200" stroke-width="1.5" stroke-linecap="square"/>
<path d="M1439.5 933.5h0M1439.5 934.5h0M1438.5 935.5h0M1438.5 935.5h0M1440.5 934.5h0M1432.5 936.5h0M1440.5 931.5h0M1439.5 933.5h0M1440.5 937.5h0M1437.5 935.5h0M1432.5 936.5h0M1437.5 937.5h0M1440.5 933.5h0M1437.5 935.5h0M1432.5 934.5h0M1432.5 934.5h0M1437.5 936.5h0M1440.5 935.5h0M1440.5 933.5h0M1438.5 933.5h0M1439.5 931.5h0M1437.5 936.5h0M1432.5 933.5h0M1437.5 936.5h0M1432.5 936.5h0M1432.5 936.5h0M1431.5 935.5h0M1439.5 934.5h0M1432.5 934.5h0M1439.5 934.5h0M1439.5 934.5h0M1431.5 933.5h0M1439.5 937.5h0M1431.5 936.5h0M1430.5 937.5h0M1432.5 933.5h0M1440.5 935.5h0M1440.5 936.5h0M1439.5 935.5h0M1439.5 934.5h0M1431.5 934.5h0M1437.5 937.5h0M1439.5 933.5h0M1440.5 935.5h0M1431.5 934.5h0M1432.5 933.5h0M1431.5 935.5h0M1439.5 932.5h0M1439.5 936.5h0M1440.5 936.5h0M1440.5 934.5h0M1431.5 935.5h0M1432.5 935.5h0" stroke="#ff7f00" stroke-width="1.5" stroke-linecap="square"/>
<path d="M1435.5 932.5h0M1438.5 935.5h0M1437.5 934.5h0M1437.5 934.5h0M1435.5 933.5h0M1434.5 932.5h0M1437.5 934.5h0M1435.5 931.5h0M1433.5 932.5h0M1433.5 933.5h0M1433.5 933.5h0M1436.5 933.5h0M1435.5 933.5h0M1438.5 935.5h0M1433.5 932.5h0M1434.5 931.5h0M1438.5 934.5h0M1438.5 934.5h0M1437.5 935.5h0M1435.5 932.5h0M1436.5 933.5h0M1435.5 932.5h0" stroke="#ff4c00" stroke-width="1.5" stroke-linecap="square"/>
<path d="M1436.5 936.5h0M1436.5 936.5h0M1436.5 937.5h0M1435.5 933.5h0M1433.5 935.5h0M1435.5 936.5h0M1433.5 936.5h0M1436.5 937.5h0M1432.5 936.5h0M1434.5 934.5h0M1435.5 935.5h0M1434.5 936.5h0M1434.5 937.5h0M1436.5 935.5h0M1436.5 935.5h0M1434.5 936.5h0M1435.5 934.5h0M1434.5 936.5h0M1435.5 936.5h0M1436.5 935.5h0M1433.5 937.5h0M1435.5 936.5h0M1436.5 937.5h0M1435.5 934.5h0M1432.5 935.5h0M1435.5 934.5h0" stroke="#ff1900" stroke-width="1.5" stroke-linecap="square"/>
<path d="M1433.5 934.5h0M1434.5 933.5h0M1434.5 934.5h0M1433.5 934.5h0M1434.5 933.5h0M1433.5 935.5h0M1433.5 935.5h0M1434.5 935.5h0M1434.5 934.5h0M1433.5 933.5h0M1434.5 935.5h0M1433.5 934.5h0M1434.5 934.5h0M1433.5 935.5h0M1434.5 933.5h0M1434.5 934.5h0" stroke="#e50000" stroke-width="1.5" stroke-linecap="square"/>
<line x1="1481" y1="811.1" x2="1481" y2="957.3" stroke="#000" stroke-width="1.5"/>
<line x1="1410.4" y1="892.6" x2="1575.8" y2="892.6" stroke="#000" stroke-width="1.5"/>
<rect x="1410.4" y="811.1" width="165.4" height="146.2" fill="none" stroke="#222" stroke-width="1.1"/>
<path d="M1406.9 825.3H1410.4M1408.4 835.4H1410.4M1408.4 841.3H1410.4M1408.4 845.5H1410.4M1408.4 848.8H1410.4M1408.4 851.4H1410.4M1408.4 853.7H1410.4M1408.4 855.6H1410.4M1408.4 857.4H1410.4M1406.9 858.2H1410.4M1408.4 868.3H1410.4M1408.4 874.2H1410.4M1408.4 878.4H1410.4M1408.4 881.7H1410.4M1408.4 884.3H1410.4M1408.4 886.6H1410.4M1408.4 888.5H1410.4M1408.4 890.3H1410.4M1406.9 893.7H1410.4M1408.4 903.8H1410.4M1408.4 909.7H1410.4M1408.4 913.9H1410.4M1408.4 917.2H1410.4M1408.4 919.9H1410.4M1408.4 922.1H1410.4M1408.4 924.1H1410.4M1408.4 925.8H1410.4M1407.9 927.6H1410.4M1407.9 931.6H1410.4M1407.9 934.6H1410.4M1407.9 936.6H1410.4M1407.9 937.6H1410.4M1407.9 938.6H1410.4M1407.9 940.6H1410.4M1407.9 943.6H1410.4M1407.9 947.6H1410.4M1407.9 952.6H1410.4M1485.8 957.3V960.8M1458.7 957.3V959.3M1465.5 957.3V959.3M1470.4 957.3V959.3M1474.1 957.3V959.3M1477.2 957.3V959.3M1479.8 957.3V959.3M1482.1 957.3V959.3M1484 957.3V959.3M1525.4 957.3V960.8M1498.2 957.3V959.3M1505 957.3V959.3M1509.9 957.3V959.3M1513.7 957.3V959.3M1516.7 957.3V959.3M1519.3 957.3V959.3M1521.6 957.3V959.3M1523.6 957.3V959.3M1563.4 957.3V960.8M1536.2 957.3V959.3M1543.1 957.3V959.3M1547.9 957.3V959.3M1551.7 957.3V959.3M1554.8 957.3V959.3M1557.4 957.3V959.3M1559.6 957.3V959.3M1561.6 957.3V959.3M1421.4 957.3V959.8M1425.4 957.3V959.8M1428.4 957.3V959.8M1430.4 957.3V959.8M1432.4 957.3V959.8M1434.4 957.3V959.8M1435.4 957.3V959.8M1436.4 957.3V959.8M1438.4 957.3V959.8M1440.4 957.3V959.8M1443.4 957.3V959.8M1447.4 957.3V959.8" stroke="#333" stroke-width="0.8" fill="none"/>
<text x="1402.4" y="827.8" font-size="6.5" text-anchor="end" fill="#333">10<tspan font-size="5" dy="-3">5</tspan></text>
<text x="1402.4" y="860.7" font-size="6.5" text-anchor="end" fill="#333">10<tspan font-size="5" dy="-3">4</tspan></text>
<text x="1402.4" y="896.2" font-size="6.5" text-anchor="end" fill="#333">10<tspan font-size="5" dy="-3">3</tspan></text>
<text x="1402.4" y="940.1" font-size="6.5" text-anchor="end" fill="#333">0</text>
<text x="1435.4" y="970.3" font-size="6.5" text-anchor="middle" fill="#333">0</text>
<text x="1485.8" y="970.3" font-size="6.5" text-anchor="middle" fill="#333">10<tspan font-size="5" dy="-3">3</tspan></text>
<text x="1525.4" y="970.3" font-size="6.5" text-anchor="middle" fill="#333">10<tspan font-size="5" dy="-3">4</tspan></text>
<text x="1563.4" y="970.3" font-size="6.5" text-anchor="middle" fill="#333">10<tspan font-size="5" dy="-3">5</tspan></text>
<line x1="1199.3" y1="639.5" x2="1199.3" y2="983.7" stroke="#000" stroke-width="2.2"/>
<line x1="1198.2" y1="982.7" x2="1588" y2="982.7" stroke="#000" stroke-width="2.2"/>
<text font-size="28" font-weight="bold" text-anchor="middle" transform="translate(1316.5 632.4) scale(1 1.04)">DMSO</text>
<text font-size="28" font-weight="bold" text-anchor="middle" transform="translate(1492.6 632.4) scale(1 1.04)">PFTα</text>
<text font-size="28" font-weight="bold" transform="translate(1588.7 731)">Normal</text>
<text font-size="28" font-weight="bold" transform="translate(1588.7 894.6) scale(1 1.04)">DC-517</text>
<text font-size="28.5" font-weight="bold" text-anchor="middle" transform="translate(1187.5 811) rotate(-90) scale(1 1.04)">7AAD</text>
<text font-size="28.4" font-weight="bold" text-anchor="middle" transform="translate(1393.2 1010)">Annexin V</text>
<text font-size="40" font-weight="bold" transform="translate(1153.5 1523) scale(1 1.04)">I</text>
<rect x="1217.7" y="1551" width="173.6" height="150.9" fill="#fff"/>
<path d="M1330.5 1645.5h0M1305.5 1648.5h0M1335.5 1652.5h0M1295.5 1667.5h0M1354.5 1659.5h0M1300.5 1684.5h0M1229.5 1680.5h0M1348.5 1663.5h0M1226.5 1675.5h0M1306.5 1660.5h0M1317.5 1686.5h0M1274.5 1683.5h0M1263.5 1685.5h0M1280.5 1682.5h0M1295.5 1685.5h0M1302.5 1665.5h0M1246.5 1650.5h0M1261.5 1650.5h0M1314.5 1682.5h0M1339.5 1683.5h0M1353.5 1666.5h0M1250.5 1649.5h0M1260.5 1653.5h0M1327.5 1677.5h0M1266.5 1684.5h0M1239.5 1664.5h0M1324.5 1654.5h0M1362.5 1667.5h0M1324.5 1678.5h0M1359.5 1673.5h0M1361.5 1650.5h0M1233.5 1684.5h0M1251.5 1651.5h0M1325.5 1623.5h0M1323.5 1614.5h0M1316.5 1686.5h0M1318.5 1621.5h0M1259.5 1687.5h0M1296.5 1684.5h0M1230.5 1677.5h0M1356.5 1667.5h0M1300.5 1651.5h0M1354.5 1680.5h0M1321.5 1654.5h0M1340.5 1683.5h0M1350.5 1629.5h0M1343.5 1679.5h0M1290.5 1662.5h0" stroke="#0000e5" stroke-width="1.5" stroke-linecap="square"/>
<path d="M1307.5 1675.5h0M1267.5 1665.5h0M1308.5 1675.5h0M1297.5 1671.5h0M1311.5 1678.5h0M1293.5 1672.5h0M1320.5 1676.5h0M1291.5 1682.5h0M1301.5 1658.5h0M1334.5 1673.5h0M1341.5 1668.5h0M1314.5 1658.5h0M1326.5 1661.5h0M1309.5 1669.5h0M1308.5 1661.5h0M1335.5 1657.5h0M1278.5 1667.5h0M1276.5 1669.5h0M1300.5 1681.5h0M1330.5 1673.5h0M1329.5 1660.5h0M1328.5 1673.5h0M1309.5 1665.5h0M1341.5 1661.5h0M1341.5 1661.5h0M1311.5 1658.5h0M1336.5 1658.5h0M1317.5 1658.5h0M1312.5 1665.5h0M1327.5 1664.5h0M1350.5 1671.5h0M1318.5 1673.5h0M1304.5 1675.5h0M1302.5 1678.5h0M1282.5 1681.5h0M1292.5 1668.5h0M1308.5 1682.5h0M1300.5 1670.5h0M1298.5 1668.5h0M1289.5 1682.5h0M1341.5 1671.5h0M1335.5 1662.5h0M1333.5 1677.5h0M1334.5 1662.5h0M1294.5 1669.5h0M1291.5 1683.5h0M1313.5 1668.5h0M1234.5 1683.5h0M1288.5 1666.5h0M1280.5 1668.5h0M1241.5 1683.5h0M1280.5 1668.5h0M1297.5 1669.5h0M1278.5 1666.5h0M1292.5 1672.5h0M1309.5 1674.5h0M1302.5 1671.5h0M1300.5 1671.5h0M1312.5 1672.5h0M1351.5 1670.5h0M1344.5 1666.5h0M1328.5 1663.5h0M1342.5 1670.5h0M1287.5 1666.5h0M1331.5 1662.5h0M1313.5 1656.5h0M1352.5 1672.5h0M1340.5 1671.5h0M1257.5 1683.5h0M1304.5 1671.5h0M1339.5 1670.5h0M1298.5 1681.5h0M1304.5 1680.5h0M1308.5 1682.5h0M1293.5 1672.5h0M1289.5 1666.5h0M1293.5 1678.5h0M1304.5 1672.5h0M1310.5 1663.5h0M1313.5 1657.5h0M1243.5 1653.5h0M1263.5 1663.5h0M1253.5 1657.5h0M1264.5 1660.5h0M1260.5 1659.5h0M1246.5 1655.5h0M1253.5 1656.5h0M1334.5 1681.5h0M1317.5 1666.5h0M1346.5 1664.5h0M1309.5 1670.5h0M1333.5 1660.5h0M1343.5 1671.5h0M1341.5 1673.5h0M1312.5 1668.5h0M1317.5 1673.5h0M1250.5 1653.5h0M1258.5 1659.5h0M1247.5 1654.5h0M1240.5 1653.5h0M1254.5 1657.5h0M1352.5 1672.5h0M1319.5 1672.5h0M1296.5 1678.5h0M1351.5 1671.5h0M1321.5 1677.5h0M1339.5 1673.5h0M1350.5 1669.5h0M1344.5 1659.5h0M1326.5 1661.5h0M1339.5 1673.5h0M1318.5 1681.5h0M1311.5 1680.5h0M1303.5 1657.5h0M1301.5 1668.5h0M1314.5 1664.5h0M1347.5 1668.5h0M1335.5 1681.5h0M1345.5 1668.5h0M1333.5 1666.5h0M1330.5 1662.5h0M1244.5 1653.5h0M1243.5 1664.5h0M1241.5 1667.5h0M1241.5 1661.5h0M1336.5 1658.5h0M1243.5 1661.5h0M1243.5 1662.5h0M1332.5 1659.5h0M1321.5 1676.5h0M1320.5 1672.5h0M1328.5 1668.5h0M1306.5 1663.5h0M1314.5 1657.5h0M1315.5 1667.5h0M1309.5 1669.5h0M1331.5 1667.5h0M1311.5 1659.5h0M1332.5 1679.5h0M1339.5 1661.5h0M1313.5 1658.5h0M1247.5 1656.5h0M1257.5 1658.5h0M1234.5 1668.5h0M1315.5 1664.5h0M1332.5 1677.5h0M1345.5 1663.5h0M1328.5 1659.5h0M1303.5 1655.5h0M1325.5 1667.5h0M1317.5 1667.5h0M1321.5 1659.5h0M1335.5 1678.5h0M1323.5 1661.5h0M1308.5 1664.5h0M1302.5 1678.5h0M1316.5 1677.5h0" stroke="#0019ff" stroke-width="1.5" stroke-linecap="square"/>
<path d="M1268.5 1669.5h0M1302.5 1673.5h0M1252.5 1660.5h0M1233.5 1673.5h0M1249.5 1659.5h0M1255.5 1664.5h0M1332.5 1668.5h0M1322.5 1667.5h0M1330.5 1669.5h0M1333.5 1670.5h0M1236.5 1682.5h0M1237.5 1683.5h0M1320.5 1667.5h0M1331.5 1670.5h0M1327.5 1673.5h0M1320.5 1663.5h0M1315.5 1677.5h0M1322.5 1670.5h0M1319.5 1662.5h0M1313.5 1674.5h0M1323.5 1673.5h0M1329.5 1670.5h0M1325.5 1672.5h0M1326.5 1669.5h0M1256.5 1664.5h0M1261.5 1664.5h0M1249.5 1685.5h0M1329.5 1671.5h0M1255.5 1664.5h0M1248.5 1662.5h0M1245.5 1663.5h0M1249.5 1663.5h0M1236.5 1675.5h0M1249.5 1683.5h0M1323.5 1673.5h0M1301.5 1672.5h0M1245.5 1659.5h0M1246.5 1660.5h0M1237.5 1667.5h0M1258.5 1663.5h0M1312.5 1675.5h0M1310.5 1667.5h0M1249.5 1660.5h0M1239.5 1668.5h0M1234.5 1671.5h0M1251.5 1661.5h0M1312.5 1676.5h0M1317.5 1664.5h0M1299.5 1678.5h0M1284.5 1669.5h0M1288.5 1668.5h0M1237.5 1671.5h0M1252.5 1684.5h0M1244.5 1683.5h0M1319.5 1661.5h0M1289.5 1680.5h0M1310.5 1666.5h0M1284.5 1679.5h0M1248.5 1657.5h0M1321.5 1666.5h0M1243.5 1667.5h0M1271.5 1668.5h0M1248.5 1664.5h0M1242.5 1666.5h0M1315.5 1676.5h0M1300.5 1678.5h0M1284.5 1679.5h0M1254.5 1663.5h0M1322.5 1666.5h0M1252.5 1661.5h0M1247.5 1658.5h0M1297.5 1678.5h0M1246.5 1663.5h0M1238.5 1670.5h0M1249.5 1661.5h0M1261.5 1663.5h0M1251.5 1659.5h0M1251.5 1660.5h0M1254.5 1662.5h0M1251.5 1659.5h0M1246.5 1662.5h0M1261.5 1664.5h0M1325.5 1669.5h0M1322.5 1671.5h0M1246.5 1663.5h0M1302.5 1675.5h0M1294.5 1671.5h0M1265.5 1681.5h0M1330.5 1671.5h0M1322.5 1669.5h0M1320.5 1663.5h0M1322.5 1665.5h0M1317.5 1662.5h0M1280.5 1672.5h0M1299.5 1675.5h0M1332.5 1669.5h0M1311.5 1669.5h0M1303.5 1676.5h0M1293.5 1674.5h0M1282.5 1670.5h0M1255.5 1660.5h0M1325.5 1670.5h0M1335.5 1667.5h0M1252.5 1663.5h0M1279.5 1679.5h0M1296.5 1676.5h0M1262.5 1681.5h0M1270.5 1669.5h0M1299.5 1674.5h0M1285.5 1679.5h0M1292.5 1677.5h0M1273.5 1681.5h0M1302.5 1673.5h0M1296.5 1676.5h0M1235.5 1673.5h0M1313.5 1674.5h0M1268.5 1668.5h0M1293.5 1674.5h0M1271.5 1681.5h0M1300.5 1678.5h0M1332.5 1669.5h0M1323.5 1666.5h0M1299.5 1678.5h0M1318.5 1663.5h0M1280.5 1671.5h0M1299.5 1673.5h0M1260.5 1664.5h0M1258.5 1683.5h0M1331.5 1672.5h0M1322.5 1675.5h0M1332.5 1668.5h0M1235.5 1674.5h0M1324.5 1663.5h0M1310.5 1674.5h0M1332.5 1668.5h0M1284.5 1670.5h0M1284.5 1670.5h0" stroke="#004cff" stroke-width="1.5" stroke-linecap="square"/>
<path d="M1250.5 1667.5h0M1262.5 1666.5h0M1245.5 1667.5h0M1250.5 1666.5h0M1258.5 1666.5h0M1244.5 1668.5h0M1267.5 1669.5h0M1284.5 1675.5h0M1289.5 1669.5h0M1288.5 1670.5h0M1262.5 1667.5h0M1272.5 1679.5h0M1277.5 1671.5h0M1280.5 1679.5h0M1272.5 1681.5h0M1272.5 1681.5h0M1298.5 1676.5h0M1257.5 1682.5h0M1261.5 1668.5h0M1273.5 1669.5h0M1250.5 1664.5h0M1245.5 1668.5h0M1239.5 1670.5h0M1243.5 1668.5h0M1279.5 1672.5h0M1260.5 1668.5h0M1285.5 1671.5h0M1253.5 1666.5h0M1272.5 1670.5h0M1235.5 1675.5h0M1281.5 1675.5h0M1234.5 1676.5h0M1251.5 1665.5h0M1256.5 1667.5h0M1282.5 1680.5h0M1300.5 1677.5h0M1284.5 1677.5h0M1265.5 1668.5h0M1253.5 1665.5h0M1239.5 1669.5h0M1280.5 1679.5h0M1273.5 1669.5h0M1282.5 1673.5h0M1285.5 1674.5h0M1282.5 1674.5h0M1281.5 1677.5h0M1279.5 1671.5h0M1245.5 1668.5h0M1285.5 1672.5h0M1261.5 1669.5h0M1278.5 1672.5h0M1280.5 1677.5h0M1289.5 1678.5h0M1260.5 1666.5h0M1284.5 1679.5h0M1239.5 1670.5h0M1266.5 1667.5h0M1285.5 1671.5h0M1240.5 1671.5h0M1288.5 1678.5h0M1277.5 1670.5h0M1279.5 1673.5h0M1281.5 1675.5h0M1276.5 1670.5h0M1272.5 1670.5h0M1289.5 1677.5h0M1284.5 1678.5h0M1299.5 1677.5h0M1278.5 1671.5h0M1250.5 1665.5h0M1253.5 1666.5h0M1284.5 1674.5h0M1284.5 1677.5h0M1281.5 1676.5h0M1280.5 1677.5h0M1288.5 1678.5h0M1272.5 1670.5h0" stroke="#007fff" stroke-width="1.5" stroke-linecap="square"/>
<path d="M1237.5 1674.5h0M1238.5 1680.5h0M1289.5 1673.5h0M1277.5 1677.5h0M1284.5 1675.5h0M1248.5 1665.5h0M1268.5 1670.5h0M1288.5 1670.5h0M1278.5 1678.5h0M1286.5 1676.5h0M1262.5 1668.5h0M1288.5 1672.5h0M1290.5 1673.5h0M1243.5 1671.5h0M1276.5 1673.5h0M1253.5 1683.5h0M1291.5 1676.5h0M1277.5 1672.5h0M1269.5 1679.5h0M1241.5 1670.5h0M1255.5 1682.5h0M1291.5 1674.5h0M1290.5 1676.5h0M1282.5 1678.5h0M1244.5 1670.5h0M1236.5 1678.5h0M1244.5 1671.5h0M1236.5 1675.5h0M1290.5 1672.5h0M1277.5 1677.5h0M1252.5 1682.5h0M1279.5 1676.5h0M1254.5 1682.5h0M1248.5 1668.5h0M1283.5 1676.5h0M1279.5 1678.5h0M1271.5 1670.5h0M1262.5 1669.5h0M1290.5 1672.5h0M1286.5 1679.5h0M1259.5 1668.5h0M1259.5 1668.5h0M1278.5 1677.5h0M1289.5 1673.5h0M1288.5 1675.5h0M1243.5 1671.5h0M1279.5 1676.5h0M1247.5 1667.5h0M1276.5 1671.5h0M1290.5 1676.5h0M1286.5 1670.5h0M1292.5 1677.5h0M1289.5 1677.5h0M1271.5 1670.5h0M1287.5 1671.5h0M1237.5 1674.5h0M1242.5 1681.5h0M1236.5 1680.5h0M1277.5 1672.5h0M1241.5 1670.5h0M1249.5 1666.5h0M1248.5 1669.5h0M1249.5 1669.5h0M1268.5 1670.5h0M1264.5 1668.5h0M1247.5 1666.5h0M1276.5 1677.5h0M1255.5 1681.5h0M1248.5 1669.5h0M1288.5 1678.5h0M1247.5 1668.5h0M1240.5 1681.5h0M1237.5 1678.5h0M1237.5 1674.5h0M1271.5 1681.5h0M1252.5 1682.5h0M1283.5 1679.5h0M1247.5 1668.5h0M1288.5 1672.5h0M1277.5 1677.5h0M1256.5 1668.5h0M1238.5 1674.5h0M1236.5 1677.5h0M1256.5 1668.5h0M1250.5 1665.5h0M1253.5 1683.5h0M1248.5 1669.5h0M1270.5 1680.5h0M1270.5 1680.5h0" stroke="#00b2ff" stroke-width="1.5" stroke-linecap="square"/>
<path d="M1250.5 1670.5h0M1287.5 1675.5h0M1243.5 1681.5h0M1236.5 1676.5h0M1255.5 1668.5h0M1267.5 1680.5h0M1287.5 1677.5h0M1286.5 1673.5h0M1238.5 1672.5h0M1287.5 1675.5h0M1275.5 1677.5h0M1287.5 1673.5h0M1266.5 1679.5h0M1272.5 1673.5h0M1288.5 1673.5h0M1289.5 1674.5h0M1277.5 1675.5h0M1238.5 1672.5h0M1288.5 1675.5h0M1239.5 1672.5h0M1286.5 1671.5h0M1289.5 1675.5h0M1277.5 1676.5h0M1244.5 1681.5h0M1286.5 1676.5h0M1274.5 1679.5h0M1251.5 1669.5h0M1243.5 1682.5h0M1266.5 1681.5h0M1277.5 1676.5h0M1277.5 1675.5h0M1255.5 1667.5h0M1274.5 1672.5h0M1251.5 1671.5h0M1254.5 1668.5h0M1253.5 1668.5h0M1255.5 1668.5h0M1252.5 1671.5h0M1274.5 1671.5h0M1273.5 1671.5h0M1278.5 1676.5h0" stroke="#00e5ff" stroke-width="1.5" stroke-linecap="square"/>
<path d="M1239.5 1680.5h0M1249.5 1682.5h0M1275.5 1673.5h0M1248.5 1669.5h0M1256.5 1680.5h0M1252.5 1670.5h0M1273.5 1679.5h0M1240.5 1674.5h0M1265.5 1670.5h0M1238.5 1679.5h0M1249.5 1683.5h0M1275.5 1676.5h0M1274.5 1676.5h0M1238.5 1680.5h0M1252.5 1671.5h0M1265.5 1671.5h0M1261.5 1671.5h0M1266.5 1670.5h0M1253.5 1670.5h0M1271.5 1673.5h0M1265.5 1670.5h0M1274.5 1674.5h0M1274.5 1674.5h0M1273.5 1679.5h0M1274.5 1675.5h0M1266.5 1681.5h0M1271.5 1671.5h0M1275.5 1673.5h0M1252.5 1671.5h0M1266.5 1680.5h0M1249.5 1670.5h0M1245.5 1682.5h0M1261.5 1670.5h0M1264.5 1670.5h0M1239.5 1681.5h0M1274.5 1673.5h0M1239.5 1674.5h0M1271.5 1673.5h0M1277.5 1674.5h0M1274.5 1676.5h0M1248.5 1670.5h0M1260.5 1669.5h0M1249.5 1681.5h0M1256.5 1680.5h0M1259.5 1671.5h0M1245.5 1682.5h0M1248.5 1683.5h0M1272.5 1677.5h0M1270.5 1671.5h0M1244.5 1681.5h0M1266.5 1671.5h0M1257.5 1680.5h0M1251.5 1683.5h0M1239.5 1680.5h0M1251.5 1681.5h0M1277.5 1674.5h0M1261.5 1669.5h0M1264.5 1669.5h0M1249.5 1681.5h0M1274.5 1675.5h0M1259.5 1669.5h0M1253.5 1671.5h0M1275.5 1676.5h0M1265.5 1679.5h0M1238.5 1675.5h0M1275.5 1675.5h0M1247.5 1670.5h0" stroke="#19ffe5" stroke-width="1.5" stroke-linecap="square"/>
<path d="M1262.5 1680.5h0M1272.5 1676.5h0M1260.5 1679.5h0M1254.5 1670.5h0M1270.5 1677.5h0M1269.5 1673.5h0M1269.5 1673.5h0M1257.5 1670.5h0M1255.5 1681.5h0M1262.5 1669.5h0M1239.5 1679.5h0M1247.5 1682.5h0M1262.5 1680.5h0M1238.5 1678.5h0M1258.5 1681.5h0M1272.5 1675.5h0M1257.5 1670.5h0M1271.5 1677.5h0M1254.5 1671.5h0M1254.5 1680.5h0M1269.5 1673.5h0M1246.5 1681.5h0M1270.5 1679.5h0M1241.5 1672.5h0M1239.5 1678.5h0M1239.5 1678.5h0M1240.5 1680.5h0M1239.5 1679.5h0M1240.5 1679.5h0M1255.5 1671.5h0M1261.5 1671.5h0M1246.5 1683.5h0M1257.5 1670.5h0M1260.5 1671.5h0M1242.5 1680.5h0M1241.5 1680.5h0M1269.5 1672.5h0M1258.5 1679.5h0M1271.5 1678.5h0M1261.5 1671.5h0M1257.5 1671.5h0M1254.5 1670.5h0M1274.5 1677.5h0M1273.5 1673.5h0M1241.5 1672.5h0M1273.5 1676.5h0M1254.5 1669.5h0M1241.5 1671.5h0M1255.5 1670.5h0M1260.5 1671.5h0M1273.5 1675.5h0M1258.5 1680.5h0M1260.5 1680.5h0M1264.5 1680.5h0M1263.5 1679.5h0M1262.5 1680.5h0M1239.5 1678.5h0M1256.5 1671.5h0M1261.5 1680.5h0" stroke="#4cffb2" stroke-width="1.5" stroke-linecap="square"/>
<path d="M1241.5 1674.5h0M1239.5 1676.5h0M1244.5 1671.5h0M1240.5 1673.5h0M1240.5 1676.5h0M1243.5 1671.5h0M1265.5 1671.5h0M1270.5 1677.5h0M1271.5 1677.5h0M1269.5 1678.5h0M1264.5 1672.5h0M1245.5 1671.5h0M1249.5 1671.5h0M1245.5 1672.5h0M1246.5 1672.5h0M1268.5 1678.5h0M1243.5 1673.5h0M1239.5 1676.5h0M1245.5 1673.5h0M1244.5 1672.5h0M1272.5 1676.5h0M1270.5 1675.5h0M1267.5 1672.5h0M1240.5 1675.5h0M1270.5 1674.5h0M1266.5 1671.5h0M1250.5 1671.5h0M1265.5 1673.5h0M1250.5 1672.5h0M1270.5 1676.5h0M1249.5 1672.5h0M1245.5 1672.5h0M1271.5 1675.5h0M1265.5 1673.5h0M1264.5 1672.5h0M1269.5 1678.5h0M1264.5 1672.5h0M1265.5 1672.5h0M1243.5 1673.5h0M1264.5 1671.5h0M1267.5 1671.5h0M1266.5 1671.5h0M1271.5 1675.5h0M1271.5 1673.5h0M1249.5 1672.5h0M1271.5 1674.5h0M1248.5 1673.5h0M1272.5 1675.5h0M1239.5 1677.5h0M1241.5 1674.5h0M1264.5 1671.5h0M1241.5 1674.5h0M1241.5 1674.5h0M1269.5 1678.5h0M1266.5 1673.5h0M1241.5 1674.5h0M1264.5 1672.5h0M1270.5 1675.5h0" stroke="#7fff7f" stroke-width="1.5" stroke-linecap="square"/>
<path d="M1242.5 1681.5h0M1243.5 1680.5h0M1246.5 1673.5h0M1243.5 1680.5h0M1253.5 1679.5h0M1263.5 1672.5h0M1256.5 1672.5h0M1258.5 1673.5h0M1251.5 1672.5h0M1262.5 1672.5h0M1258.5 1672.5h0M1252.5 1673.5h0M1252.5 1679.5h0M1243.5 1680.5h0M1256.5 1671.5h0M1263.5 1671.5h0M1263.5 1672.5h0M1264.5 1673.5h0M1259.5 1673.5h0M1259.5 1672.5h0M1259.5 1671.5h0M1253.5 1680.5h0M1248.5 1673.5h0M1257.5 1671.5h0M1242.5 1679.5h0M1256.5 1672.5h0M1263.5 1672.5h0M1257.5 1673.5h0M1256.5 1672.5h0M1253.5 1681.5h0M1254.5 1671.5h0M1258.5 1673.5h0M1250.5 1671.5h0M1246.5 1673.5h0M1268.5 1678.5h0M1247.5 1673.5h0M1262.5 1673.5h0M1266.5 1678.5h0M1251.5 1671.5h0M1246.5 1673.5h0M1253.5 1680.5h0M1252.5 1680.5h0M1252.5 1672.5h0M1252.5 1673.5h0M1246.5 1673.5h0M1266.5 1679.5h0" stroke="#b2ff4c" stroke-width="1.5" stroke-linecap="square"/>
<path d="M1268.5 1673.5h0M1258.5 1677.5h0M1241.5 1678.5h0M1241.5 1676.5h0M1240.5 1678.5h0M1240.5 1678.5h0M1241.5 1676.5h0M1255.5 1673.5h0M1240.5 1676.5h0M1240.5 1675.5h0M1241.5 1676.5h0M1269.5 1676.5h0M1260.5 1678.5h0M1268.5 1674.5h0M1269.5 1675.5h0M1256.5 1671.5h0M1268.5 1674.5h0M1268.5 1674.5h0M1269.5 1676.5h0M1259.5 1679.5h0M1269.5 1674.5h0M1258.5 1677.5h0M1269.5 1677.5h0M1258.5 1679.5h0M1259.5 1678.5h0M1260.5 1679.5h0M1240.5 1678.5h0M1259.5 1677.5h0M1241.5 1678.5h0M1241.5 1678.5h0M1269.5 1674.5h0M1254.5 1672.5h0M1268.5 1673.5h0M1269.5 1676.5h0M1269.5 1674.5h0M1268.5 1676.5h0M1269.5 1676.5h0M1255.5 1672.5h0M1241.5 1677.5h0M1241.5 1676.5h0M1255.5 1673.5h0M1268.5 1676.5h0M1241.5 1676.5h0M1241.5 1676.5h0M1259.5 1678.5h0M1268.5 1675.5h0M1241.5 1678.5h0M1269.5 1675.5h0M1242.5 1677.5h0" stroke="#e5ff19" stroke-width="1.5" stroke-linecap="square"/>
<path d="M1252.5 1674.5h0M1244.5 1679.5h0M1249.5 1681.5h0M1263.5 1677.5h0M1244.5 1681.5h0M1265.5 1674.5h0M1248.5 1680.5h0M1249.5 1679.5h0M1257.5 1678.5h0M1256.5 1678.5h0M1266.5 1676.5h0M1262.5 1674.5h0M1250.5 1679.5h0M1245.5 1679.5h0M1245.5 1679.5h0M1248.5 1674.5h0M1266.5 1676.5h0M1263.5 1679.5h0M1255.5 1677.5h0M1267.5 1676.5h0M1266.5 1674.5h0M1260.5 1677.5h0M1264.5 1674.5h0M1262.5 1678.5h0M1259.5 1674.5h0M1254.5 1679.5h0M1260.5 1678.5h0M1257.5 1679.5h0M1262.5 1679.5h0M1260.5 1675.5h0M1263.5 1674.5h0M1253.5 1673.5h0M1256.5 1677.5h0M1265.5 1678.5h0M1267.5 1676.5h0M1257.5 1678.5h0M1250.5 1680.5h0M1261.5 1674.5h0M1261.5 1674.5h0M1264.5 1675.5h0M1265.5 1679.5h0M1264.5 1679.5h0M1263.5 1673.5h0M1260.5 1679.5h0M1264.5 1678.5h0M1253.5 1674.5h0M1261.5 1674.5h0M1267.5 1675.5h0M1248.5 1674.5h0M1266.5 1673.5h0M1262.5 1678.5h0M1267.5 1674.5h0M1263.5 1679.5h0M1261.5 1673.5h0M1253.5 1675.5h0M1257.5 1677.5h0M1267.5 1674.5h0M1252.5 1674.5h0M1265.5 1677.5h0M1261.5 1679.5h0M1261.5 1674.5h0M1263.5 1678.5h0M1267.5 1676.5h0M1264.5 1677.5h0M1258.5 1675.5h0M1258.5 1673.5h0M1254.5 1677.5h0M1260.5 1674.5h0M1253.5 1674.5h0M1261.5 1679.5h0M1264.5 1677.5h0M1248.5 1680.5h0M1264.5 1678.5h0M1259.5 1674.5h0M1253.5 1674.5h0M1257.5 1679.5h0M1244.5 1680.5h0M1262.5 1675.5h0M1266.5 1673.5h0M1249.5 1680.5h0M1252.5 1673.5h0M1262.5 1678.5h0M1255.5 1678.5h0M1250.5 1679.5h0M1264.5 1677.5h0M1251.5 1680.5h0M1249.5 1679.5h0M1265.5 1674.5h0M1262.5 1679.5h0M1267.5 1675.5h0M1264.5 1675.5h0M1244.5 1680.5h0M1266.5 1676.5h0M1267.5 1675.5h0M1263.5 1677.5h0M1264.5 1679.5h0M1256.5 1677.5h0M1249.5 1674.5h0M1260.5 1678.5h0M1261.5 1678.5h0M1266.5 1676.5h0M1262.5 1673.5h0M1264.5 1677.5h0M1265.5 1678.5h0M1249.5 1675.5h0M1252.5 1674.5h0M1249.5 1675.5h0M1244.5 1679.5h0M1264.5 1673.5h0M1266.5 1674.5h0M1248.5 1674.5h0M1265.5 1679.5h0M1248.5 1674.5h0M1248.5 1679.5h0M1248.5 1675.5h0M1250.5 1675.5h0M1249.5 1680.5h0M1245.5 1680.5h0M1244.5 1680.5h0M1251.5 1680.5h0M1254.5 1678.5h0" stroke="#ffe500" stroke-width="1.5" stroke-linecap="square"/>
<path d="M1253.5 1679.5h0M1245.5 1674.5h0M1252.5 1678.5h0M1245.5 1675.5h0M1257.5 1676.5h0M1246.5 1675.5h0M1244.5 1675.5h0M1254.5 1674.5h0M1242.5 1673.5h0M1257.5 1675.5h0M1262.5 1675.5h0M1259.5 1675.5h0M1245.5 1674.5h0M1242.5 1674.5h0M1247.5 1680.5h0M1255.5 1674.5h0M1255.5 1674.5h0M1261.5 1675.5h0M1256.5 1676.5h0M1262.5 1675.5h0M1250.5 1674.5h0M1253.5 1678.5h0M1250.5 1674.5h0M1263.5 1677.5h0M1261.5 1675.5h0M1254.5 1673.5h0M1258.5 1675.5h0M1257.5 1673.5h0M1255.5 1673.5h0M1257.5 1673.5h0M1263.5 1676.5h0M1257.5 1673.5h0M1258.5 1677.5h0M1257.5 1675.5h0M1261.5 1675.5h0M1263.5 1676.5h0M1250.5 1673.5h0M1251.5 1675.5h0M1257.5 1674.5h0M1257.5 1675.5h0M1263.5 1676.5h0M1254.5 1679.5h0M1257.5 1675.5h0M1257.5 1675.5h0M1257.5 1673.5h0M1254.5 1674.5h0M1247.5 1681.5h0M1250.5 1673.5h0M1259.5 1676.5h0M1257.5 1675.5h0M1252.5 1678.5h0M1246.5 1674.5h0M1259.5 1677.5h0M1256.5 1676.5h0M1264.5 1675.5h0M1262.5 1677.5h0M1256.5 1673.5h0M1258.5 1675.5h0M1264.5 1675.5h0M1246.5 1679.5h0M1264.5 1676.5h0M1263.5 1677.5h0M1265.5 1676.5h0M1256.5 1673.5h0M1242.5 1674.5h0M1245.5 1673.5h0M1251.5 1674.5h0M1259.5 1676.5h0M1253.5 1677.5h0M1260.5 1676.5h0M1244.5 1674.5h0M1257.5 1675.5h0M1246.5 1680.5h0M1262.5 1676.5h0M1251.5 1673.5h0M1247.5 1680.5h0M1243.5 1675.5h0M1244.5 1674.5h0M1247.5 1680.5h0M1242.5 1673.5h0M1245.5 1674.5h0M1264.5 1675.5h0M1257.5 1675.5h0M1259.5 1676.5h0M1250.5 1675.5h0M1244.5 1675.5h0M1252.5 1679.5h0M1260.5 1676.5h0M1242.5 1673.5h0M1263.5 1676.5h0M1265.5 1677.5h0M1262.5 1676.5h0M1257.5 1675.5h0M1253.5 1677.5h0M1256.5 1675.5h0M1250.5 1674.5h0M1242.5 1673.5h0M1247.5 1680.5h0M1260.5 1676.5h0" stroke="#ffb200" stroke-width="1.5" stroke-linecap="square"/>
<path d="M1251.5 1679.5h0M1250.5 1677.5h0M1244.5 1679.5h0M1250.5 1679.5h0M1250.5 1678.5h0M1251.5 1678.5h0M1254.5 1676.5h0M1255.5 1675.5h0M1254.5 1676.5h0M1247.5 1673.5h0M1251.5 1678.5h0M1255.5 1676.5h0M1256.5 1676.5h0M1254.5 1677.5h0M1250.5 1678.5h0M1247.5 1673.5h0M1247.5 1675.5h0M1255.5 1676.5h0M1243.5 1679.5h0M1251.5 1677.5h0M1250.5 1678.5h0M1243.5 1678.5h0M1254.5 1675.5h0M1248.5 1674.5h0M1247.5 1674.5h0M1250.5 1678.5h0M1248.5 1675.5h0M1254.5 1676.5h0M1250.5 1679.5h0M1251.5 1679.5h0M1250.5 1677.5h0M1247.5 1673.5h0M1250.5 1678.5h0M1242.5 1678.5h0M1244.5 1678.5h0M1255.5 1677.5h0M1242.5 1677.5h0" stroke="#ff7f00" stroke-width="1.5" stroke-linecap="square"/>
<path d="M1248.5 1678.5h0M1250.5 1678.5h0M1253.5 1675.5h0M1249.5 1677.5h0M1249.5 1678.5h0M1242.5 1675.5h0M1252.5 1676.5h0M1243.5 1676.5h0M1242.5 1676.5h0M1242.5 1676.5h0M1243.5 1675.5h0M1244.5 1678.5h0M1245.5 1678.5h0M1245.5 1678.5h0M1253.5 1675.5h0M1244.5 1679.5h0M1242.5 1675.5h0M1244.5 1676.5h0M1244.5 1677.5h0M1245.5 1679.5h0M1248.5 1678.5h0M1252.5 1677.5h0M1248.5 1677.5h0M1253.5 1676.5h0M1248.5 1677.5h0M1253.5 1676.5h0M1245.5 1678.5h0M1246.5 1678.5h0M1252.5 1676.5h0M1254.5 1676.5h0M1244.5 1678.5h0M1246.5 1677.5h0M1252.5 1676.5h0M1244.5 1677.5h0M1243.5 1677.5h0M1253.5 1677.5h0M1252.5 1677.5h0M1244.5 1678.5h0M1250.5 1678.5h0" stroke="#ff4c00" stroke-width="1.5" stroke-linecap="square"/>
<path d="M1251.5 1676.5h0M1248.5 1677.5h0M1246.5 1677.5h0M1248.5 1677.5h0M1252.5 1676.5h0M1245.5 1676.5h0M1249.5 1677.5h0M1244.5 1677.5h0M1245.5 1675.5h0M1245.5 1677.5h0M1251.5 1677.5h0M1245.5 1675.5h0M1244.5 1676.5h0M1250.5 1675.5h0M1249.5 1676.5h0M1245.5 1676.5h0M1248.5 1676.5h0M1247.5 1679.5h0M1248.5 1675.5h0M1245.5 1677.5h0M1252.5 1676.5h0M1248.5 1678.5h0M1250.5 1675.5h0M1248.5 1679.5h0M1251.5 1675.5h0M1245.5 1677.5h0M1247.5 1678.5h0M1248.5 1675.5h0M1250.5 1676.5h0M1245.5 1676.5h0M1246.5 1679.5h0M1246.5 1678.5h0M1244.5 1677.5h0M1245.5 1677.5h0M1248.5 1677.5h0M1247.5 1677.5h0M1247.5 1678.5h0M1244.5 1676.5h0M1249.5 1677.5h0M1246.5 1678.5h0M1250.5 1676.5h0M1247.5 1679.5h0M1247.5 1678.5h0M1245.5 1676.5h0M1249.5 1676.5h0" stroke="#ff1900" stroke-width="1.5" stroke-linecap="square"/>
<path d="M1247.5 1676.5h0M1247.5 1677.5h0M1247.5 1676.5h0M1246.5 1676.5h0M1247.5 1675.5h0M1246.5 1676.5h0M1246.5 1676.5h0" stroke="#e50000" stroke-width="1.5" stroke-linecap="square"/>
<line x1="1292.5" y1="1551" x2="1292.5" y2="1701.9" stroke="#000" stroke-width="1.5"/>
<line x1="1217.7" y1="1634.1" x2="1391.3" y2="1634.1" stroke="#000" stroke-width="1.5"/>
<path d="M1217.7 1551V1701.9H1391.3V1551" fill="none" stroke="#333" stroke-width="1"/>
<path d="M1214.2 1565.6H1217.7M1215.7 1576.1H1217.7M1215.7 1582.2H1217.7M1215.7 1586.5H1217.7M1215.7 1589.9H1217.7M1215.7 1592.6H1217.7M1215.7 1595H1217.7M1215.7 1597H1217.7M1215.7 1598.8H1217.7M1214.2 1599.6H1217.7M1215.7 1610H1217.7M1215.7 1616.1H1217.7M1215.7 1620.5H1217.7M1215.7 1623.8H1217.7M1215.7 1626.6H1217.7M1215.7 1628.9H1217.7M1215.7 1630.9H1217.7M1215.7 1632.7H1217.7M1214.2 1636.3H1217.7M1215.7 1646.7H1217.7M1215.7 1652.8H1217.7M1215.7 1657.2H1217.7M1215.7 1660.5H1217.7M1215.7 1663.3H1217.7M1215.7 1665.6H1217.7M1215.7 1667.6H1217.7M1215.7 1669.4H1217.7M1215.2 1671.5H1217.7M1215.2 1675.5H1217.7M1215.2 1678.5H1217.7M1215.2 1680.5H1217.7M1215.2 1681.5H1217.7M1215.2 1682.5H1217.7M1215.2 1684.5H1217.7M1215.2 1687.5H1217.7M1215.2 1691.5H1217.7M1215.2 1696.5H1217.7M1296.9 1701.9V1705.4M1268.3 1701.9V1703.9M1275.5 1701.9V1703.9M1280.6 1701.9V1703.9M1284.6 1701.9V1703.9M1287.8 1701.9V1703.9M1290.5 1701.9V1703.9M1292.9 1701.9V1703.9M1295 1701.9V1703.9M1338.4 1701.9V1705.4M1309.8 1701.9V1703.9M1317 1701.9V1703.9M1322.1 1701.9V1703.9M1326.1 1701.9V1703.9M1329.3 1701.9V1703.9M1332 1701.9V1703.9M1334.4 1701.9V1703.9M1336.5 1701.9V1703.9M1378.3 1701.9V1705.4M1349.8 1701.9V1703.9M1356.9 1701.9V1703.9M1362 1701.9V1703.9M1366 1701.9V1703.9M1369.2 1701.9V1703.9M1372 1701.9V1703.9M1374.3 1701.9V1703.9M1376.4 1701.9V1703.9M1229.9 1701.9V1704.4M1233.9 1701.9V1704.4M1236.9 1701.9V1704.4M1238.9 1701.9V1704.4M1240.9 1701.9V1704.4M1242.9 1701.9V1704.4M1243.9 1701.9V1704.4M1244.9 1701.9V1704.4M1246.9 1701.9V1704.4M1248.9 1701.9V1704.4M1251.9 1701.9V1704.4M1255.9 1701.9V1704.4" stroke="#333" stroke-width="0.8" fill="none"/>
<text x="1209.7" y="1568.1" font-size="6.5" text-anchor="end" fill="#333">10<tspan font-size="5" dy="-3">5</tspan></text>
<text x="1209.7" y="1602.1" font-size="6.5" text-anchor="end" fill="#333">10<tspan font-size="5" dy="-3">4</tspan></text>
<text x="1209.7" y="1638.8" font-size="6.5" text-anchor="end" fill="#333">10<tspan font-size="5" dy="-3">3</tspan></text>
<text x="1209.7" y="1684" font-size="6.5" text-anchor="end" fill="#333">0</text>
<text x="1243.9" y="1714.9" font-size="6.5" text-anchor="middle" fill="#333">0</text>
<text x="1296.9" y="1714.9" font-size="6.5" text-anchor="middle" fill="#333">10<tspan font-size="5" dy="-3">3</tspan></text>
<text x="1338.4" y="1714.9" font-size="6.5" text-anchor="middle" fill="#333">10<tspan font-size="5" dy="-3">4</tspan></text>
<text x="1378.3" y="1714.9" font-size="6.5" text-anchor="middle" fill="#333">10<tspan font-size="5" dy="-3">5</tspan></text>
<rect x="1411" y="1551" width="173" height="150.9" fill="#fff"/>
<path d="M1520.5 1642.5h0M1460.5 1650.5h0M1489.5 1675.5h0M1462.5 1647.5h0M1493.5 1680.5h0M1422.5 1678.5h0M1419.5 1676.5h0M1503.5 1655.5h0M1519.5 1687.5h0M1538.5 1663.5h0M1500.5 1683.5h0M1550.5 1679.5h0M1520.5 1655.5h0M1545.5 1680.5h0M1512.5 1687.5h0M1499.5 1685.5h0M1470.5 1685.5h0M1481.5 1681.5h0M1463.5 1684.5h0M1463.5 1657.5h0M1469.5 1657.5h0M1518.5 1687.5h0M1526.5 1689.5h0M1493.5 1684.5h0M1436.5 1646.5h0M1439.5 1648.5h0M1464.5 1655.5h0M1417.5 1657.5h0M1460.5 1640.5h0M1428.5 1663.5h0M1551.5 1670.5h0M1545.5 1663.5h0M1522.5 1687.5h0M1545.5 1670.5h0M1499.5 1659.5h0M1442.5 1631.5h0M1461.5 1642.5h0M1431.5 1649.5h0M1422.5 1666.5h0M1487.5 1678.5h0M1487.5 1664.5h0M1468.5 1664.5h0M1454.5 1643.5h0M1426.5 1662.5h0M1468.5 1659.5h0M1440.5 1640.5h0M1557.5 1670.5h0M1496.5 1692.5h0M1537.5 1653.5h0M1530.5 1615.5h0M1530.5 1630.5h0M1495.5 1620.5h0M1413.5 1671.5h0M1429.5 1684.5h0" stroke="#0000e5" stroke-width="1.5" stroke-linecap="square"/>
<path d="M1538.5 1677.5h0M1483.5 1678.5h0M1472.5 1664.5h0M1483.5 1669.5h0M1486.5 1679.5h0M1474.5 1666.5h0M1435.5 1685.5h0M1488.5 1670.5h0M1444.5 1685.5h0M1435.5 1686.5h0M1426.5 1679.5h0M1542.5 1676.5h0M1423.5 1671.5h0M1443.5 1687.5h0M1530.5 1659.5h0M1441.5 1647.5h0M1472.5 1667.5h0M1501.5 1662.5h0M1432.5 1654.5h0M1428.5 1669.5h0M1459.5 1660.5h0M1463.5 1657.5h0M1453.5 1649.5h0M1434.5 1654.5h0M1420.5 1672.5h0M1495.5 1683.5h0M1465.5 1682.5h0M1423.5 1669.5h0M1538.5 1669.5h0M1537.5 1680.5h0M1527.5 1680.5h0M1528.5 1658.5h0M1522.5 1661.5h0M1515.5 1658.5h0M1504.5 1658.5h0M1524.5 1686.5h0M1528.5 1664.5h0M1526.5 1679.5h0M1534.5 1671.5h0M1491.5 1663.5h0M1422.5 1672.5h0M1468.5 1681.5h0M1420.5 1675.5h0M1478.5 1678.5h0M1488.5 1670.5h0M1444.5 1649.5h0M1525.5 1688.5h0M1534.5 1668.5h0M1533.5 1665.5h0M1487.5 1659.5h0M1533.5 1662.5h0M1538.5 1673.5h0M1511.5 1682.5h0M1534.5 1675.5h0M1495.5 1678.5h0M1540.5 1667.5h0M1471.5 1668.5h0M1478.5 1679.5h0M1426.5 1669.5h0M1539.5 1674.5h0M1528.5 1663.5h0M1534.5 1674.5h0M1543.5 1674.5h0M1506.5 1661.5h0M1510.5 1658.5h0M1521.5 1682.5h0M1497.5 1681.5h0M1490.5 1659.5h0M1438.5 1651.5h0M1433.5 1650.5h0M1529.5 1682.5h0M1495.5 1660.5h0M1539.5 1672.5h0M1522.5 1659.5h0M1496.5 1680.5h0M1547.5 1674.5h0M1505.5 1663.5h0M1507.5 1659.5h0M1529.5 1658.5h0M1534.5 1665.5h0M1515.5 1683.5h0M1489.5 1660.5h0M1537.5 1665.5h0M1530.5 1680.5h0M1431.5 1660.5h0M1452.5 1648.5h0M1435.5 1655.5h0M1453.5 1660.5h0M1443.5 1655.5h0M1432.5 1657.5h0M1445.5 1653.5h0M1528.5 1662.5h0M1531.5 1671.5h0M1456.5 1657.5h0M1435.5 1648.5h0M1492.5 1663.5h0M1521.5 1684.5h0M1510.5 1683.5h0M1493.5 1660.5h0M1519.5 1684.5h0M1532.5 1664.5h0M1453.5 1650.5h0M1488.5 1667.5h0M1483.5 1666.5h0M1544.5 1675.5h0M1463.5 1661.5h0M1541.5 1671.5h0M1493.5 1676.5h0M1491.5 1668.5h0M1430.5 1683.5h0M1447.5 1648.5h0M1485.5 1671.5h0" stroke="#0019ff" stroke-width="1.5" stroke-linecap="square"/>
<path d="M1449.5 1649.5h0M1447.5 1658.5h0M1447.5 1658.5h0M1442.5 1666.5h0M1450.5 1660.5h0M1450.5 1658.5h0M1485.5 1673.5h0M1466.5 1671.5h0M1479.5 1669.5h0M1443.5 1666.5h0M1496.5 1662.5h0M1498.5 1668.5h0M1433.5 1668.5h0M1473.5 1669.5h0M1516.5 1673.5h0M1480.5 1673.5h0M1497.5 1663.5h0M1520.5 1668.5h0M1506.5 1683.5h0M1445.5 1666.5h0M1441.5 1665.5h0M1435.5 1668.5h0M1439.5 1658.5h0M1448.5 1649.5h0M1425.5 1679.5h0M1476.5 1676.5h0M1524.5 1662.5h0M1483.5 1670.5h0M1496.5 1674.5h0M1484.5 1675.5h0M1444.5 1667.5h0M1494.5 1671.5h0M1482.5 1677.5h0M1447.5 1660.5h0M1451.5 1652.5h0M1459.5 1662.5h0M1450.5 1659.5h0M1450.5 1656.5h0M1509.5 1660.5h0M1438.5 1654.5h0M1453.5 1653.5h0M1439.5 1657.5h0M1523.5 1676.5h0M1517.5 1662.5h0M1506.5 1680.5h0M1514.5 1664.5h0M1516.5 1670.5h0M1500.5 1679.5h0M1525.5 1675.5h0M1516.5 1682.5h0M1528.5 1665.5h0M1458.5 1662.5h0M1459.5 1656.5h0M1443.5 1659.5h0M1435.5 1664.5h0M1461.5 1666.5h0M1522.5 1661.5h0M1530.5 1677.5h0M1458.5 1656.5h0M1436.5 1660.5h0M1438.5 1660.5h0M1436.5 1664.5h0M1458.5 1663.5h0M1443.5 1663.5h0M1443.5 1666.5h0M1437.5 1655.5h0M1444.5 1662.5h0M1471.5 1678.5h0M1437.5 1665.5h0M1449.5 1651.5h0M1452.5 1651.5h0M1438.5 1660.5h0M1465.5 1667.5h0M1521.5 1681.5h0M1522.5 1663.5h0M1446.5 1658.5h0M1452.5 1653.5h0M1451.5 1662.5h0M1446.5 1654.5h0M1451.5 1651.5h0M1439.5 1659.5h0M1450.5 1661.5h0M1440.5 1664.5h0M1433.5 1662.5h0M1516.5 1665.5h0M1442.5 1661.5h0M1447.5 1653.5h0M1448.5 1664.5h0M1457.5 1656.5h0M1514.5 1666.5h0M1435.5 1665.5h0M1451.5 1665.5h0M1446.5 1654.5h0M1528.5 1668.5h0M1499.5 1666.5h0M1481.5 1667.5h0M1424.5 1676.5h0M1448.5 1654.5h0M1535.5 1677.5h0M1518.5 1663.5h0M1512.5 1682.5h0M1536.5 1681.5h0M1456.5 1663.5h0M1452.5 1659.5h0M1460.5 1657.5h0M1456.5 1658.5h0M1434.5 1660.5h0M1445.5 1656.5h0M1442.5 1659.5h0M1502.5 1677.5h0M1444.5 1659.5h0M1434.5 1662.5h0M1440.5 1661.5h0M1434.5 1661.5h0M1520.5 1666.5h0M1523.5 1664.5h0M1530.5 1664.5h0M1516.5 1660.5h0M1519.5 1677.5h0M1496.5 1668.5h0M1513.5 1678.5h0M1473.5 1679.5h0M1430.5 1670.5h0M1500.5 1664.5h0M1516.5 1660.5h0M1534.5 1677.5h0M1516.5 1662.5h0M1506.5 1657.5h0M1517.5 1675.5h0M1530.5 1669.5h0M1498.5 1678.5h0M1495.5 1677.5h0M1516.5 1659.5h0M1519.5 1668.5h0M1514.5 1666.5h0M1500.5 1667.5h0M1497.5 1671.5h0M1534.5 1678.5h0M1484.5 1675.5h0M1527.5 1668.5h0M1521.5 1665.5h0M1521.5 1676.5h0M1506.5 1658.5h0M1513.5 1678.5h0M1520.5 1665.5h0M1438.5 1663.5h0M1513.5 1666.5h0M1531.5 1661.5h0M1499.5 1663.5h0M1521.5 1663.5h0M1443.5 1663.5h0M1442.5 1665.5h0M1500.5 1677.5h0M1465.5 1665.5h0M1470.5 1671.5h0M1449.5 1653.5h0M1465.5 1680.5h0M1461.5 1682.5h0M1529.5 1666.5h0M1466.5 1679.5h0M1477.5 1676.5h0M1442.5 1666.5h0M1493.5 1668.5h0M1503.5 1660.5h0M1536.5 1675.5h0M1495.5 1663.5h0M1523.5 1664.5h0M1448.5 1685.5h0M1498.5 1674.5h0M1518.5 1678.5h0M1530.5 1678.5h0M1494.5 1668.5h0M1535.5 1681.5h0M1496.5 1671.5h0M1501.5 1663.5h0M1517.5 1664.5h0M1494.5 1664.5h0M1529.5 1667.5h0M1519.5 1678.5h0M1537.5 1678.5h0M1517.5 1663.5h0M1526.5 1677.5h0M1513.5 1666.5h0M1523.5 1664.5h0M1453.5 1682.5h0M1425.5 1674.5h0M1492.5 1671.5h0M1492.5 1675.5h0M1507.5 1661.5h0M1495.5 1668.5h0M1472.5 1678.5h0M1523.5 1667.5h0M1523.5 1679.5h0M1517.5 1676.5h0M1526.5 1676.5h0M1505.5 1681.5h0M1515.5 1668.5h0M1470.5 1670.5h0M1426.5 1675.5h0M1479.5 1674.5h0M1446.5 1662.5h0M1439.5 1654.5h0M1437.5 1654.5h0M1493.5 1673.5h0M1458.5 1683.5h0M1463.5 1666.5h0M1451.5 1657.5h0M1458.5 1657.5h0M1437.5 1664.5h0M1436.5 1656.5h0M1441.5 1663.5h0M1504.5 1679.5h0M1442.5 1661.5h0M1481.5 1670.5h0M1530.5 1679.5h0M1472.5 1678.5h0M1484.5 1674.5h0M1479.5 1673.5h0M1495.5 1672.5h0M1500.5 1676.5h0M1527.5 1681.5h0M1466.5 1667.5h0M1462.5 1664.5h0M1491.5 1673.5h0M1503.5 1680.5h0M1480.5 1670.5h0M1425.5 1675.5h0M1467.5 1667.5h0M1480.5 1674.5h0M1472.5 1678.5h0M1484.5 1674.5h0M1507.5 1680.5h0M1476.5 1677.5h0M1503.5 1666.5h0M1467.5 1670.5h0M1508.5 1680.5h0M1497.5 1668.5h0" stroke="#004cff" stroke-width="1.5" stroke-linecap="square"/>
<path d="M1458.5 1666.5h0M1531.5 1675.5h0M1475.5 1669.5h0M1439.5 1668.5h0M1476.5 1670.5h0M1495.5 1674.5h0M1476.5 1669.5h0M1475.5 1671.5h0M1520.5 1672.5h0M1514.5 1674.5h0M1510.5 1663.5h0M1462.5 1680.5h0M1477.5 1671.5h0M1447.5 1685.5h0M1467.5 1672.5h0M1461.5 1679.5h0M1470.5 1672.5h0M1475.5 1671.5h0M1459.5 1679.5h0M1523.5 1679.5h0M1476.5 1672.5h0M1503.5 1675.5h0M1482.5 1671.5h0M1483.5 1672.5h0M1512.5 1667.5h0M1476.5 1669.5h0M1479.5 1673.5h0M1493.5 1672.5h0M1450.5 1653.5h0M1459.5 1664.5h0M1438.5 1667.5h0M1446.5 1656.5h0M1438.5 1669.5h0M1478.5 1671.5h0M1525.5 1670.5h0M1511.5 1665.5h0M1507.5 1675.5h0M1521.5 1677.5h0M1501.5 1671.5h0M1512.5 1681.5h0M1510.5 1666.5h0M1503.5 1667.5h0M1514.5 1673.5h0M1529.5 1672.5h0M1524.5 1679.5h0M1494.5 1674.5h0M1505.5 1665.5h0M1508.5 1664.5h0M1519.5 1673.5h0M1509.5 1667.5h0M1511.5 1677.5h0M1520.5 1673.5h0M1523.5 1672.5h0M1505.5 1675.5h0M1531.5 1673.5h0M1513.5 1677.5h0M1512.5 1671.5h0M1500.5 1673.5h0M1446.5 1665.5h0M1439.5 1667.5h0M1496.5 1667.5h0M1522.5 1677.5h0M1513.5 1667.5h0M1529.5 1674.5h0M1509.5 1666.5h0M1516.5 1679.5h0M1525.5 1676.5h0M1500.5 1672.5h0M1505.5 1667.5h0M1505.5 1678.5h0M1528.5 1672.5h0M1518.5 1671.5h0M1511.5 1663.5h0M1449.5 1664.5h0M1436.5 1669.5h0M1450.5 1653.5h0M1430.5 1671.5h0M1470.5 1671.5h0M1479.5 1675.5h0M1469.5 1680.5h0M1521.5 1668.5h0M1523.5 1672.5h0M1523.5 1670.5h0M1458.5 1667.5h0M1479.5 1671.5h0M1462.5 1680.5h0M1436.5 1666.5h0M1436.5 1668.5h0M1459.5 1665.5h0M1458.5 1680.5h0M1462.5 1679.5h0M1426.5 1676.5h0M1450.5 1681.5h0M1461.5 1680.5h0M1512.5 1674.5h0M1513.5 1671.5h0M1513.5 1679.5h0M1512.5 1676.5h0M1511.5 1679.5h0M1532.5 1676.5h0M1449.5 1652.5h0M1465.5 1671.5h0M1478.5 1676.5h0M1431.5 1670.5h0M1437.5 1668.5h0M1517.5 1681.5h0M1518.5 1671.5h0M1529.5 1671.5h0M1528.5 1671.5h0M1510.5 1679.5h0M1521.5 1672.5h0M1517.5 1672.5h0M1511.5 1665.5h0M1511.5 1674.5h0M1458.5 1665.5h0M1471.5 1672.5h0M1528.5 1677.5h0M1518.5 1673.5h0M1502.5 1668.5h0M1520.5 1676.5h0M1533.5 1677.5h0M1528.5 1669.5h0M1507.5 1677.5h0M1524.5 1670.5h0M1499.5 1670.5h0M1510.5 1679.5h0M1523.5 1669.5h0M1529.5 1671.5h0M1511.5 1670.5h0M1516.5 1679.5h0M1505.5 1675.5h0M1521.5 1666.5h0M1517.5 1680.5h0M1511.5 1674.5h0M1519.5 1673.5h0M1524.5 1675.5h0M1527.5 1672.5h0M1461.5 1667.5h0M1458.5 1681.5h0M1510.5 1679.5h0M1476.5 1672.5h0M1478.5 1670.5h0M1493.5 1673.5h0M1457.5 1666.5h0M1527.5 1671.5h0M1478.5 1671.5h0M1466.5 1671.5h0M1519.5 1673.5h0M1512.5 1670.5h0M1505.5 1676.5h0M1514.5 1679.5h0M1510.5 1676.5h0M1518.5 1672.5h0M1521.5 1677.5h0M1441.5 1683.5h0M1482.5 1675.5h0M1446.5 1656.5h0M1428.5 1679.5h0M1464.5 1668.5h0M1460.5 1665.5h0M1461.5 1664.5h0M1527.5 1675.5h0M1496.5 1667.5h0" stroke="#007fff" stroke-width="1.5" stroke-linecap="square"/>
<path d="M1527.5 1673.5h0M1466.5 1678.5h0M1475.5 1672.5h0M1504.5 1668.5h0M1468.5 1674.5h0M1472.5 1675.5h0M1461.5 1670.5h0M1464.5 1669.5h0M1508.5 1672.5h0M1506.5 1667.5h0M1509.5 1670.5h0M1462.5 1670.5h0M1515.5 1671.5h0M1474.5 1674.5h0M1471.5 1673.5h0M1509.5 1672.5h0M1507.5 1667.5h0M1460.5 1668.5h0M1471.5 1674.5h0M1522.5 1671.5h0M1470.5 1674.5h0M1462.5 1671.5h0M1472.5 1672.5h0M1473.5 1673.5h0M1507.5 1666.5h0M1433.5 1682.5h0M1511.5 1672.5h0M1513.5 1673.5h0M1452.5 1666.5h0M1458.5 1669.5h0M1505.5 1668.5h0M1508.5 1673.5h0M1433.5 1669.5h0M1525.5 1673.5h0M1509.5 1668.5h0M1435.5 1671.5h0M1504.5 1669.5h0M1525.5 1672.5h0M1509.5 1666.5h0M1511.5 1672.5h0M1526.5 1672.5h0M1473.5 1674.5h0M1448.5 1682.5h0M1470.5 1677.5h0M1522.5 1669.5h0M1511.5 1669.5h0M1508.5 1673.5h0M1525.5 1673.5h0M1447.5 1682.5h0M1448.5 1665.5h0M1464.5 1681.5h0M1432.5 1682.5h0M1451.5 1666.5h0M1461.5 1670.5h0M1433.5 1669.5h0M1466.5 1678.5h0M1510.5 1675.5h0M1432.5 1682.5h0M1506.5 1669.5h0M1510.5 1671.5h0M1467.5 1678.5h0M1471.5 1672.5h0M1459.5 1668.5h0M1469.5 1679.5h0M1504.5 1668.5h0M1523.5 1669.5h0M1514.5 1672.5h0M1503.5 1676.5h0M1527.5 1673.5h0M1435.5 1670.5h0M1471.5 1672.5h0M1467.5 1678.5h0M1444.5 1667.5h0M1448.5 1682.5h0M1507.5 1667.5h0M1473.5 1677.5h0M1470.5 1677.5h0M1509.5 1672.5h0M1433.5 1682.5h0" stroke="#00b2ff" stroke-width="1.5" stroke-linecap="square"/>
<path d="M1471.5 1676.5h0M1428.5 1679.5h0M1444.5 1671.5h0M1443.5 1670.5h0M1466.5 1673.5h0M1468.5 1676.5h0M1465.5 1676.5h0M1452.5 1668.5h0M1504.5 1674.5h0M1443.5 1670.5h0M1457.5 1671.5h0M1468.5 1676.5h0M1450.5 1667.5h0M1448.5 1669.5h0M1508.5 1669.5h0M1444.5 1671.5h0M1510.5 1672.5h0M1455.5 1668.5h0M1447.5 1667.5h0M1447.5 1667.5h0M1461.5 1679.5h0M1447.5 1682.5h0M1466.5 1674.5h0M1439.5 1683.5h0M1429.5 1675.5h0M1455.5 1668.5h0M1444.5 1682.5h0M1506.5 1671.5h0M1447.5 1682.5h0M1438.5 1684.5h0M1429.5 1675.5h0M1435.5 1684.5h0M1452.5 1668.5h0M1503.5 1674.5h0M1469.5 1676.5h0M1437.5 1670.5h0M1450.5 1665.5h0M1429.5 1676.5h0M1508.5 1670.5h0M1502.5 1673.5h0M1507.5 1675.5h0M1511.5 1671.5h0M1502.5 1674.5h0M1452.5 1668.5h0M1453.5 1669.5h0M1438.5 1670.5h0M1456.5 1668.5h0M1458.5 1678.5h0M1437.5 1670.5h0M1502.5 1674.5h0M1458.5 1671.5h0M1454.5 1668.5h0M1447.5 1669.5h0M1449.5 1666.5h0M1431.5 1673.5h0M1448.5 1668.5h0M1446.5 1681.5h0M1506.5 1674.5h0M1457.5 1670.5h0M1453.5 1669.5h0M1441.5 1684.5h0M1503.5 1671.5h0M1503.5 1674.5h0M1510.5 1672.5h0M1454.5 1668.5h0M1455.5 1681.5h0M1440.5 1670.5h0M1501.5 1673.5h0M1467.5 1675.5h0M1463.5 1677.5h0M1456.5 1679.5h0M1455.5 1680.5h0M1452.5 1669.5h0M1448.5 1668.5h0M1428.5 1679.5h0M1470.5 1676.5h0M1458.5 1678.5h0M1457.5 1671.5h0M1468.5 1676.5h0M1466.5 1674.5h0M1451.5 1666.5h0M1467.5 1676.5h0M1503.5 1673.5h0M1446.5 1681.5h0M1429.5 1674.5h0M1428.5 1678.5h0M1444.5 1683.5h0M1436.5 1683.5h0M1506.5 1673.5h0M1438.5 1684.5h0M1458.5 1670.5h0M1455.5 1680.5h0M1457.5 1680.5h0M1502.5 1670.5h0M1428.5 1677.5h0M1447.5 1669.5h0M1452.5 1669.5h0M1463.5 1678.5h0M1456.5 1680.5h0M1467.5 1676.5h0M1462.5 1678.5h0M1432.5 1671.5h0M1432.5 1673.5h0M1431.5 1672.5h0M1441.5 1683.5h0M1502.5 1673.5h0" stroke="#00e5ff" stroke-width="1.5" stroke-linecap="square"/>
<path d="M1507.5 1670.5h0M1463.5 1672.5h0M1461.5 1673.5h0M1451.5 1679.5h0M1443.5 1681.5h0M1442.5 1682.5h0M1441.5 1682.5h0M1430.5 1680.5h0M1442.5 1682.5h0M1504.5 1672.5h0M1504.5 1672.5h0M1455.5 1671.5h0M1447.5 1679.5h0M1451.5 1680.5h0M1463.5 1677.5h0M1505.5 1672.5h0M1457.5 1670.5h0M1504.5 1672.5h0M1445.5 1679.5h0M1506.5 1670.5h0M1507.5 1671.5h0M1446.5 1680.5h0M1443.5 1681.5h0M1504.5 1672.5h0M1450.5 1668.5h0M1451.5 1668.5h0M1462.5 1671.5h0M1456.5 1670.5h0M1503.5 1670.5h0M1504.5 1669.5h0M1505.5 1670.5h0M1462.5 1671.5h0M1465.5 1673.5h0M1503.5 1671.5h0M1451.5 1669.5h0M1442.5 1681.5h0" stroke="#19ffe5" stroke-width="1.5" stroke-linecap="square"/>
<path d="M1462.5 1676.5h0M1463.5 1675.5h0M1463.5 1676.5h0M1458.5 1676.5h0M1457.5 1676.5h0M1452.5 1669.5h0M1465.5 1676.5h0M1448.5 1670.5h0M1458.5 1676.5h0M1448.5 1671.5h0M1464.5 1675.5h0M1433.5 1672.5h0M1448.5 1671.5h0M1449.5 1677.5h0M1458.5 1675.5h0M1463.5 1676.5h0M1448.5 1680.5h0M1453.5 1680.5h0M1462.5 1675.5h0M1463.5 1673.5h0M1451.5 1679.5h0M1457.5 1677.5h0M1447.5 1671.5h0M1453.5 1670.5h0M1457.5 1676.5h0M1448.5 1680.5h0M1435.5 1683.5h0M1447.5 1680.5h0M1451.5 1670.5h0M1434.5 1682.5h0M1448.5 1671.5h0M1463.5 1676.5h0M1448.5 1679.5h0M1435.5 1681.5h0M1449.5 1671.5h0M1458.5 1677.5h0M1464.5 1673.5h0M1449.5 1677.5h0M1459.5 1676.5h0M1447.5 1671.5h0M1447.5 1670.5h0M1461.5 1676.5h0M1462.5 1675.5h0M1464.5 1675.5h0M1453.5 1680.5h0M1435.5 1672.5h0" stroke="#4cffb2" stroke-width="1.5" stroke-linecap="square"/>
<path d="M1430.5 1676.5h0M1431.5 1678.5h0M1443.5 1680.5h0M1430.5 1678.5h0M1445.5 1678.5h0M1454.5 1670.5h0M1450.5 1678.5h0M1453.5 1678.5h0M1455.5 1678.5h0M1453.5 1673.5h0M1443.5 1680.5h0M1453.5 1677.5h0M1446.5 1671.5h0M1461.5 1673.5h0M1438.5 1682.5h0M1446.5 1677.5h0M1437.5 1682.5h0M1456.5 1673.5h0M1430.5 1676.5h0M1437.5 1681.5h0M1441.5 1673.5h0M1439.5 1672.5h0M1430.5 1677.5h0M1436.5 1681.5h0M1439.5 1672.5h0M1435.5 1681.5h0M1444.5 1673.5h0M1462.5 1675.5h0M1439.5 1682.5h0M1438.5 1681.5h0M1431.5 1676.5h0M1435.5 1682.5h0M1430.5 1678.5h0M1441.5 1682.5h0M1451.5 1678.5h0M1440.5 1673.5h0M1430.5 1679.5h0M1432.5 1674.5h0M1443.5 1681.5h0M1438.5 1683.5h0M1437.5 1673.5h0M1439.5 1681.5h0M1457.5 1672.5h0M1457.5 1671.5h0M1461.5 1677.5h0M1454.5 1679.5h0M1431.5 1678.5h0M1460.5 1671.5h0M1454.5 1678.5h0M1462.5 1674.5h0M1462.5 1674.5h0M1459.5 1675.5h0M1457.5 1672.5h0M1440.5 1672.5h0M1463.5 1675.5h0M1442.5 1672.5h0M1460.5 1676.5h0M1452.5 1671.5h0M1450.5 1677.5h0M1436.5 1683.5h0M1437.5 1683.5h0M1437.5 1682.5h0M1429.5 1679.5h0M1451.5 1672.5h0M1461.5 1677.5h0M1459.5 1672.5h0M1450.5 1678.5h0M1442.5 1680.5h0M1442.5 1672.5h0M1446.5 1677.5h0M1447.5 1669.5h0M1443.5 1673.5h0M1454.5 1670.5h0M1455.5 1678.5h0M1451.5 1678.5h0M1449.5 1678.5h0M1436.5 1672.5h0M1452.5 1673.5h0M1451.5 1672.5h0M1445.5 1679.5h0M1453.5 1672.5h0M1453.5 1677.5h0M1453.5 1671.5h0M1459.5 1672.5h0M1454.5 1677.5h0M1438.5 1681.5h0M1452.5 1672.5h0M1430.5 1678.5h0M1456.5 1672.5h0M1449.5 1677.5h0M1431.5 1674.5h0M1451.5 1672.5h0M1450.5 1678.5h0M1443.5 1680.5h0M1439.5 1673.5h0M1454.5 1677.5h0M1440.5 1682.5h0M1461.5 1672.5h0M1454.5 1678.5h0M1449.5 1677.5h0M1431.5 1674.5h0M1456.5 1671.5h0M1441.5 1673.5h0M1454.5 1669.5h0M1453.5 1679.5h0M1451.5 1672.5h0M1458.5 1671.5h0M1443.5 1672.5h0M1444.5 1672.5h0M1456.5 1677.5h0M1449.5 1679.5h0M1442.5 1671.5h0M1429.5 1678.5h0M1441.5 1680.5h0M1444.5 1681.5h0M1446.5 1679.5h0M1432.5 1674.5h0M1431.5 1676.5h0M1430.5 1678.5h0M1439.5 1672.5h0M1451.5 1673.5h0M1446.5 1678.5h0M1442.5 1680.5h0M1462.5 1673.5h0M1442.5 1673.5h0M1440.5 1672.5h0" stroke="#7fff7f" stroke-width="1.5" stroke-linecap="square"/>
<path d="M1459.5 1674.5h0M1432.5 1680.5h0M1454.5 1672.5h0M1432.5 1681.5h0M1437.5 1673.5h0M1455.5 1671.5h0M1432.5 1680.5h0M1457.5 1674.5h0M1432.5 1681.5h0M1457.5 1675.5h0M1457.5 1675.5h0M1456.5 1674.5h0M1456.5 1675.5h0M1457.5 1674.5h0M1439.5 1672.5h0M1433.5 1681.5h0M1456.5 1677.5h0M1438.5 1672.5h0M1457.5 1675.5h0M1455.5 1674.5h0M1433.5 1680.5h0M1456.5 1675.5h0M1437.5 1671.5h0M1459.5 1674.5h0M1454.5 1673.5h0" stroke="#b2ff4c" stroke-width="1.5" stroke-linecap="square"/>
<path d="M1460.5 1675.5h0M1453.5 1676.5h0M1446.5 1675.5h0M1460.5 1674.5h0M1448.5 1673.5h0M1445.5 1672.5h0M1447.5 1675.5h0M1454.5 1676.5h0M1447.5 1674.5h0M1461.5 1673.5h0M1447.5 1676.5h0M1445.5 1678.5h0M1453.5 1675.5h0M1452.5 1677.5h0M1454.5 1676.5h0M1459.5 1675.5h0M1459.5 1673.5h0M1453.5 1677.5h0M1447.5 1671.5h0M1449.5 1673.5h0M1448.5 1675.5h0M1449.5 1674.5h0M1445.5 1679.5h0M1446.5 1672.5h0M1446.5 1672.5h0M1449.5 1673.5h0M1449.5 1672.5h0M1446.5 1676.5h0M1449.5 1674.5h0M1448.5 1672.5h0M1448.5 1674.5h0M1460.5 1674.5h0M1448.5 1671.5h0M1449.5 1673.5h0M1447.5 1676.5h0M1447.5 1672.5h0M1446.5 1672.5h0M1445.5 1676.5h0M1451.5 1678.5h0M1448.5 1673.5h0M1460.5 1673.5h0M1448.5 1677.5h0M1449.5 1677.5h0M1453.5 1676.5h0M1454.5 1676.5h0M1445.5 1671.5h0M1448.5 1671.5h0M1444.5 1678.5h0M1460.5 1673.5h0M1448.5 1672.5h0M1454.5 1675.5h0M1449.5 1674.5h0M1444.5 1679.5h0M1448.5 1672.5h0M1453.5 1676.5h0M1448.5 1675.5h0" stroke="#e5ff19" stroke-width="1.5" stroke-linecap="square"/>
<path d="M1434.5 1680.5h0M1451.5 1677.5h0M1438.5 1679.5h0M1435.5 1680.5h0M1440.5 1680.5h0M1444.5 1677.5h0M1454.5 1674.5h0M1452.5 1674.5h0M1449.5 1675.5h0M1437.5 1680.5h0M1447.5 1674.5h0M1437.5 1679.5h0M1434.5 1675.5h0M1454.5 1675.5h0M1453.5 1674.5h0M1445.5 1676.5h0M1444.5 1674.5h0M1440.5 1679.5h0M1444.5 1676.5h0M1453.5 1674.5h0M1446.5 1674.5h0M1439.5 1681.5h0M1452.5 1674.5h0M1445.5 1675.5h0M1433.5 1681.5h0M1436.5 1679.5h0M1444.5 1674.5h0M1443.5 1676.5h0M1444.5 1675.5h0M1451.5 1673.5h0M1455.5 1675.5h0M1451.5 1675.5h0M1450.5 1676.5h0M1444.5 1676.5h0M1435.5 1679.5h0M1436.5 1680.5h0M1440.5 1679.5h0M1434.5 1674.5h0M1438.5 1681.5h0M1438.5 1680.5h0M1435.5 1679.5h0M1443.5 1677.5h0M1452.5 1674.5h0M1444.5 1676.5h0M1434.5 1674.5h0M1455.5 1673.5h0M1443.5 1676.5h0M1435.5 1675.5h0M1434.5 1680.5h0M1439.5 1679.5h0M1435.5 1681.5h0M1435.5 1680.5h0M1446.5 1674.5h0M1434.5 1675.5h0M1443.5 1675.5h0M1444.5 1674.5h0M1446.5 1675.5h0M1439.5 1680.5h0M1444.5 1676.5h0M1452.5 1675.5h0M1434.5 1680.5h0M1433.5 1675.5h0M1444.5 1676.5h0M1447.5 1674.5h0M1445.5 1674.5h0M1438.5 1680.5h0M1435.5 1680.5h0M1452.5 1674.5h0M1453.5 1673.5h0M1434.5 1673.5h0" stroke="#ffe500" stroke-width="1.5" stroke-linecap="square"/>
<path d="M1437.5 1675.5h0M1449.5 1675.5h0M1449.5 1673.5h0M1452.5 1677.5h0M1436.5 1674.5h0M1431.5 1676.5h0M1436.5 1674.5h0M1431.5 1679.5h0M1436.5 1673.5h0M1436.5 1674.5h0M1451.5 1674.5h0M1452.5 1676.5h0M1436.5 1674.5h0M1432.5 1676.5h0M1450.5 1673.5h0M1435.5 1673.5h0M1435.5 1674.5h0M1432.5 1676.5h0M1451.5 1677.5h0M1431.5 1677.5h0M1431.5 1675.5h0M1432.5 1676.5h0M1452.5 1676.5h0M1433.5 1677.5h0M1437.5 1674.5h0M1436.5 1674.5h0M1453.5 1677.5h0M1437.5 1674.5h0M1452.5 1675.5h0M1453.5 1676.5h0M1450.5 1674.5h0M1433.5 1677.5h0M1432.5 1678.5h0M1437.5 1674.5h0M1431.5 1678.5h0M1451.5 1677.5h0M1432.5 1677.5h0M1432.5 1679.5h0M1433.5 1676.5h0M1450.5 1675.5h0" stroke="#ffb200" stroke-width="1.5" stroke-linecap="square"/>
<path d="M1442.5 1677.5h0M1442.5 1679.5h0M1435.5 1677.5h0M1433.5 1678.5h0M1442.5 1679.5h0M1442.5 1678.5h0M1434.5 1679.5h0M1434.5 1677.5h0M1442.5 1679.5h0M1442.5 1679.5h0M1435.5 1678.5h0M1441.5 1678.5h0M1433.5 1678.5h0M1435.5 1677.5h0M1435.5 1678.5h0" stroke="#ff7f00" stroke-width="1.5" stroke-linecap="square"/>
<path d="M1439.5 1679.5h0M1441.5 1677.5h0M1441.5 1677.5h0M1440.5 1674.5h0M1443.5 1675.5h0M1442.5 1675.5h0M1440.5 1677.5h0M1436.5 1678.5h0M1439.5 1678.5h0M1437.5 1678.5h0M1443.5 1677.5h0M1441.5 1675.5h0M1433.5 1676.5h0M1440.5 1675.5h0M1442.5 1673.5h0M1440.5 1678.5h0M1442.5 1674.5h0M1441.5 1679.5h0M1434.5 1677.5h0M1437.5 1677.5h0M1441.5 1674.5h0M1438.5 1678.5h0M1434.5 1675.5h0M1439.5 1674.5h0M1443.5 1674.5h0M1440.5 1679.5h0M1440.5 1674.5h0M1438.5 1673.5h0M1439.5 1678.5h0M1438.5 1677.5h0M1439.5 1674.5h0M1433.5 1676.5h0M1442.5 1677.5h0M1441.5 1673.5h0M1440.5 1677.5h0M1440.5 1673.5h0M1436.5 1678.5h0M1442.5 1677.5h0M1435.5 1678.5h0M1439.5 1674.5h0M1437.5 1677.5h0M1434.5 1675.5h0M1438.5 1674.5h0M1439.5 1679.5h0M1434.5 1676.5h0M1439.5 1674.5h0M1436.5 1678.5h0M1434.5 1676.5h0M1437.5 1678.5h0M1440.5 1678.5h0M1441.5 1675.5h0M1441.5 1673.5h0M1442.5 1677.5h0M1434.5 1677.5h0M1442.5 1677.5h0M1441.5 1674.5h0M1433.5 1676.5h0M1441.5 1678.5h0M1439.5 1675.5h0M1433.5 1676.5h0" stroke="#ff4c00" stroke-width="1.5" stroke-linecap="square"/>
<path d="M1439.5 1676.5h0M1441.5 1676.5h0M1435.5 1675.5h0M1435.5 1675.5h0M1436.5 1676.5h0M1440.5 1676.5h0M1440.5 1676.5h0M1436.5 1676.5h0M1441.5 1677.5h0M1441.5 1677.5h0M1436.5 1676.5h0M1441.5 1676.5h0M1439.5 1676.5h0M1439.5 1676.5h0M1437.5 1676.5h0M1440.5 1676.5h0M1441.5 1676.5h0M1440.5 1675.5h0M1437.5 1677.5h0M1435.5 1675.5h0M1435.5 1675.5h0" stroke="#ff1900" stroke-width="1.5" stroke-linecap="square"/>
<path d="M1437.5 1676.5h0M1438.5 1675.5h0M1437.5 1675.5h0M1437.5 1677.5h0M1438.5 1676.5h0M1438.5 1675.5h0M1437.5 1676.5h0M1439.5 1676.5h0M1439.5 1676.5h0M1439.5 1677.5h0M1437.5 1676.5h0M1438.5 1676.5h0M1438.5 1675.5h0" stroke="#e50000" stroke-width="1.5" stroke-linecap="square"/>
<line x1="1485.4" y1="1551" x2="1485.4" y2="1701.9" stroke="#000" stroke-width="1.5"/>
<line x1="1411" y1="1633.9" x2="1584" y2="1633.9" stroke="#000" stroke-width="1.5"/>
<path d="M1411 1551V1701.9H1584V1551" fill="none" stroke="#333" stroke-width="1"/>
<path d="M1407.5 1565.6H1411M1409 1576.1H1411M1409 1582.2H1411M1409 1586.5H1411M1409 1589.9H1411M1409 1592.6H1411M1409 1595H1411M1409 1597H1411M1409 1598.8H1411M1407.5 1599.6H1411M1409 1610H1411M1409 1616.1H1411M1409 1620.5H1411M1409 1623.8H1411M1409 1626.6H1411M1409 1628.9H1411M1409 1630.9H1411M1409 1632.7H1411M1407.5 1636.3H1411M1409 1646.7H1411M1409 1652.8H1411M1409 1657.2H1411M1409 1660.5H1411M1409 1663.3H1411M1409 1665.6H1411M1409 1667.6H1411M1409 1669.4H1411M1408.5 1671.5H1411M1408.5 1675.5H1411M1408.5 1678.5H1411M1408.5 1680.5H1411M1408.5 1681.5H1411M1408.5 1682.5H1411M1408.5 1684.5H1411M1408.5 1687.5H1411M1408.5 1691.5H1411M1408.5 1696.5H1411M1489.9 1701.9V1705.4M1461.5 1701.9V1703.9M1468.6 1701.9V1703.9M1473.7 1701.9V1703.9M1477.6 1701.9V1703.9M1480.9 1701.9V1703.9M1483.6 1701.9V1703.9M1485.9 1701.9V1703.9M1488 1701.9V1703.9M1531.2 1701.9V1705.4M1502.8 1701.9V1703.9M1510 1701.9V1703.9M1515.1 1701.9V1703.9M1519 1701.9V1703.9M1522.2 1701.9V1703.9M1524.9 1701.9V1703.9M1527.3 1701.9V1703.9M1529.4 1701.9V1703.9M1571 1701.9V1705.4M1542.6 1701.9V1703.9M1549.8 1701.9V1703.9M1554.8 1701.9V1703.9M1558.8 1701.9V1703.9M1562 1701.9V1703.9M1564.7 1701.9V1703.9M1567.1 1701.9V1703.9M1569.2 1701.9V1703.9M1423.1 1701.9V1704.4M1427.1 1701.9V1704.4M1430.1 1701.9V1704.4M1432.1 1701.9V1704.4M1434.1 1701.9V1704.4M1436.1 1701.9V1704.4M1437.1 1701.9V1704.4M1438.1 1701.9V1704.4M1440.1 1701.9V1704.4M1442.1 1701.9V1704.4M1445.1 1701.9V1704.4M1449.1 1701.9V1704.4" stroke="#333" stroke-width="0.8" fill="none"/>
<text x="1403" y="1568.1" font-size="6.5" text-anchor="end" fill="#333">10<tspan font-size="5" dy="-3">5</tspan></text>
<text x="1403" y="1602.1" font-size="6.5" text-anchor="end" fill="#333">10<tspan font-size="5" dy="-3">4</tspan></text>
<text x="1403" y="1638.8" font-size="6.5" text-anchor="end" fill="#333">10<tspan font-size="5" dy="-3">3</tspan></text>
<text x="1403" y="1684" font-size="6.5" text-anchor="end" fill="#333">0</text>
<text x="1437.1" y="1714.9" font-size="6.5" text-anchor="middle" fill="#333">0</text>
<text x="1489.9" y="1714.9" font-size="6.5" text-anchor="middle" fill="#333">10<tspan font-size="5" dy="-3">3</tspan></text>
<text x="1531.2" y="1714.9" font-size="6.5" text-anchor="middle" fill="#333">10<tspan font-size="5" dy="-3">4</tspan></text>
<text x="1571" y="1714.9" font-size="6.5" text-anchor="middle" fill="#333">10<tspan font-size="5" dy="-3">5</tspan></text>
<rect x="1217.7" y="1717.6" width="173.6" height="150.7" fill="#fff"/>
<path d="M1338.5 1812.5h0M1325.5 1782.5h0M1328.5 1786.5h0M1291.5 1818.5h0M1312.5 1790.5h0M1277.5 1810.5h0M1300.5 1821.5h0M1264.5 1820.5h0M1274.5 1813.5h0M1302.5 1831.5h0M1328.5 1851.5h0M1304.5 1849.5h0M1259.5 1811.5h0M1279.5 1852.5h0M1274.5 1817.5h0M1279.5 1827.5h0M1280.5 1831.5h0M1343.5 1845.5h0M1291.5 1822.5h0M1304.5 1808.5h0M1241.5 1854.5h0M1310.5 1811.5h0M1320.5 1850.5h0M1236.5 1827.5h0M1308.5 1849.5h0M1312.5 1855.5h0M1258.5 1821.5h0M1294.5 1835.5h0M1288.5 1856.5h0M1299.5 1848.5h0M1330.5 1797.5h0M1318.5 1804.5h0M1316.5 1818.5h0M1311.5 1785.5h0M1341.5 1848.5h0M1257.5 1855.5h0M1229.5 1849.5h0M1326.5 1791.5h0M1250.5 1807.5h0M1265.5 1824.5h0M1298.5 1830.5h0M1234.5 1821.5h0M1339.5 1805.5h0M1295.5 1808.5h0M1229.5 1836.5h0M1279.5 1827.5h0M1223.5 1846.5h0M1325.5 1795.5h0M1241.5 1811.5h0M1245.5 1807.5h0M1336.5 1853.5h0M1255.5 1813.5h0M1306.5 1820.5h0M1289.5 1825.5h0M1292.5 1835.5h0M1331.5 1796.5h0M1328.5 1793.5h0M1230.5 1860.5h0M1313.5 1798.5h0M1316.5 1792.5h0M1309.5 1848.5h0M1309.5 1811.5h0M1330.5 1818.5h0M1282.5 1851.5h0M1235.5 1831.5h0M1351.5 1837.5h0M1336.5 1852.5h0M1322.5 1850.5h0M1334.5 1821.5h0M1273.5 1827.5h0M1284.5 1812.5h0M1258.5 1822.5h0" stroke="#0000e5" stroke-width="1.5" stroke-linecap="square"/>
<path d="M1309.5 1827.5h0M1329.5 1824.5h0M1341.5 1839.5h0M1300.5 1835.5h0M1334.5 1849.5h0M1337.5 1835.5h0M1283.5 1829.5h0M1277.5 1819.5h0M1280.5 1820.5h0M1337.5 1827.5h0M1265.5 1831.5h0M1340.5 1841.5h0M1294.5 1838.5h0M1230.5 1846.5h0M1250.5 1821.5h0M1312.5 1825.5h0M1321.5 1820.5h0M1285.5 1835.5h0M1323.5 1796.5h0M1326.5 1802.5h0M1321.5 1805.5h0M1328.5 1846.5h0M1316.5 1848.5h0M1309.5 1829.5h0M1324.5 1819.5h0M1325.5 1810.5h0M1319.5 1808.5h0M1228.5 1842.5h0M1235.5 1837.5h0M1245.5 1852.5h0M1318.5 1801.5h0M1328.5 1813.5h0M1253.5 1820.5h0M1325.5 1821.5h0M1324.5 1811.5h0M1334.5 1830.5h0M1276.5 1835.5h0M1280.5 1818.5h0M1243.5 1823.5h0M1327.5 1803.5h0M1266.5 1828.5h0M1282.5 1821.5h0M1305.5 1827.5h0M1294.5 1826.5h0M1328.5 1822.5h0M1323.5 1806.5h0M1312.5 1851.5h0M1285.5 1828.5h0M1290.5 1854.5h0M1337.5 1828.5h0M1272.5 1823.5h0M1280.5 1823.5h0M1296.5 1832.5h0M1254.5 1822.5h0M1307.5 1819.5h0M1294.5 1829.5h0M1327.5 1801.5h0M1265.5 1833.5h0M1292.5 1851.5h0M1230.5 1839.5h0M1280.5 1850.5h0M1327.5 1822.5h0M1339.5 1829.5h0M1336.5 1830.5h0M1343.5 1837.5h0M1341.5 1843.5h0M1295.5 1849.5h0M1265.5 1852.5h0M1299.5 1840.5h0M1338.5 1839.5h0M1335.5 1846.5h0M1333.5 1848.5h0M1326.5 1803.5h0M1326.5 1804.5h0M1315.5 1812.5h0M1328.5 1815.5h0M1241.5 1852.5h0M1279.5 1834.5h0M1237.5 1835.5h0M1342.5 1835.5h0M1286.5 1834.5h0M1250.5 1823.5h0M1236.5 1835.5h0M1272.5 1850.5h0M1300.5 1839.5h0M1331.5 1829.5h0M1327.5 1819.5h0M1320.5 1802.5h0M1318.5 1809.5h0M1337.5 1839.5h0M1327.5 1815.5h0M1308.5 1816.5h0M1311.5 1822.5h0M1318.5 1823.5h0M1314.5 1802.5h0M1324.5 1812.5h0M1316.5 1800.5h0M1322.5 1824.5h0M1337.5 1834.5h0M1292.5 1850.5h0M1321.5 1798.5h0M1300.5 1846.5h0M1290.5 1848.5h0M1326.5 1801.5h0M1249.5 1822.5h0M1320.5 1798.5h0M1321.5 1801.5h0M1328.5 1822.5h0M1268.5 1850.5h0M1270.5 1836.5h0M1245.5 1822.5h0M1322.5 1846.5h0M1241.5 1825.5h0M1245.5 1823.5h0M1298.5 1843.5h0M1290.5 1832.5h0M1321.5 1821.5h0M1294.5 1845.5h0M1311.5 1825.5h0M1320.5 1819.5h0M1299.5 1842.5h0M1286.5 1839.5h0M1268.5 1832.5h0M1306.5 1830.5h0M1307.5 1828.5h0M1324.5 1848.5h0M1336.5 1834.5h0M1323.5 1824.5h0M1265.5 1833.5h0M1237.5 1834.5h0M1274.5 1833.5h0M1260.5 1825.5h0M1250.5 1852.5h0M1266.5 1850.5h0M1233.5 1837.5h0M1295.5 1849.5h0M1250.5 1824.5h0M1243.5 1823.5h0M1229.5 1841.5h0M1317.5 1802.5h0M1319.5 1818.5h0M1324.5 1799.5h0M1315.5 1813.5h0M1322.5 1802.5h0M1338.5 1827.5h0M1304.5 1828.5h0M1324.5 1818.5h0M1297.5 1837.5h0M1299.5 1844.5h0M1329.5 1821.5h0M1262.5 1827.5h0M1298.5 1834.5h0M1274.5 1825.5h0M1285.5 1826.5h0M1289.5 1830.5h0M1293.5 1829.5h0M1307.5 1816.5h0M1303.5 1827.5h0M1300.5 1824.5h0M1337.5 1834.5h0M1305.5 1834.5h0M1295.5 1839.5h0M1326.5 1823.5h0M1268.5 1829.5h0M1324.5 1810.5h0M1291.5 1851.5h0M1272.5 1832.5h0M1303.5 1829.5h0M1272.5 1822.5h0M1245.5 1852.5h0M1231.5 1842.5h0M1341.5 1837.5h0M1328.5 1849.5h0M1330.5 1846.5h0M1271.5 1823.5h0M1279.5 1822.5h0M1302.5 1825.5h0M1280.5 1821.5h0M1302.5 1822.5h0M1270.5 1821.5h0M1338.5 1838.5h0M1286.5 1831.5h0M1291.5 1852.5h0M1282.5 1820.5h0" stroke="#0019ff" stroke-width="1.5" stroke-linecap="square"/>
<path d="M1261.5 1827.5h0M1246.5 1827.5h0M1283.5 1835.5h0M1296.5 1842.5h0M1287.5 1846.5h0M1309.5 1831.5h0M1303.5 1840.5h0M1232.5 1849.5h0M1270.5 1850.5h0M1292.5 1841.5h0M1236.5 1840.5h0M1246.5 1850.5h0M1302.5 1838.5h0M1257.5 1824.5h0M1250.5 1851.5h0M1285.5 1839.5h0M1305.5 1838.5h0M1323.5 1848.5h0M1251.5 1828.5h0M1258.5 1825.5h0M1260.5 1830.5h0M1308.5 1843.5h0M1303.5 1844.5h0M1312.5 1847.5h0M1309.5 1843.5h0M1317.5 1826.5h0M1312.5 1827.5h0M1282.5 1847.5h0M1290.5 1840.5h0M1301.5 1837.5h0M1333.5 1830.5h0M1306.5 1845.5h0M1332.5 1831.5h0M1292.5 1842.5h0M1253.5 1850.5h0M1239.5 1829.5h0M1247.5 1827.5h0M1292.5 1843.5h0M1266.5 1848.5h0M1267.5 1835.5h0M1294.5 1844.5h0M1253.5 1829.5h0M1312.5 1848.5h0M1291.5 1842.5h0M1286.5 1846.5h0M1321.5 1814.5h0M1320.5 1815.5h0M1258.5 1827.5h0M1324.5 1814.5h0M1273.5 1848.5h0M1281.5 1847.5h0M1235.5 1841.5h0M1280.5 1834.5h0M1304.5 1844.5h0M1273.5 1848.5h0M1278.5 1849.5h0M1256.5 1826.5h0M1240.5 1827.5h0M1255.5 1826.5h0M1235.5 1840.5h0M1260.5 1831.5h0M1245.5 1825.5h0M1325.5 1847.5h0M1275.5 1836.5h0M1320.5 1809.5h0M1321.5 1810.5h0M1239.5 1827.5h0M1282.5 1834.5h0M1279.5 1849.5h0M1269.5 1848.5h0M1337.5 1842.5h0M1334.5 1832.5h0M1320.5 1816.5h0M1273.5 1849.5h0M1291.5 1841.5h0M1273.5 1835.5h0M1319.5 1813.5h0M1312.5 1826.5h0M1314.5 1824.5h0M1337.5 1844.5h0M1313.5 1846.5h0M1305.5 1840.5h0M1321.5 1809.5h0M1317.5 1812.5h0M1282.5 1835.5h0M1294.5 1843.5h0M1264.5 1849.5h0M1302.5 1843.5h0M1304.5 1842.5h0M1336.5 1846.5h0M1234.5 1839.5h0M1261.5 1826.5h0M1248.5 1826.5h0M1291.5 1842.5h0M1318.5 1826.5h0M1325.5 1826.5h0M1316.5 1827.5h0M1307.5 1832.5h0M1318.5 1826.5h0M1307.5 1838.5h0M1245.5 1827.5h0M1260.5 1831.5h0M1313.5 1849.5h0M1300.5 1837.5h0M1234.5 1849.5h0M1233.5 1844.5h0M1249.5 1850.5h0M1256.5 1851.5h0M1322.5 1816.5h0M1326.5 1803.5h0M1319.5 1813.5h0M1323.5 1817.5h0M1322.5 1813.5h0M1281.5 1846.5h0M1276.5 1837.5h0M1324.5 1816.5h0M1278.5 1837.5h0M1283.5 1847.5h0M1297.5 1844.5h0M1243.5 1826.5h0M1252.5 1828.5h0M1316.5 1847.5h0M1333.5 1833.5h0M1316.5 1826.5h0M1308.5 1843.5h0M1257.5 1851.5h0M1239.5 1829.5h0M1259.5 1827.5h0M1263.5 1851.5h0M1330.5 1828.5h0M1324.5 1846.5h0M1317.5 1847.5h0M1333.5 1842.5h0M1333.5 1842.5h0M1305.5 1844.5h0M1252.5 1850.5h0M1239.5 1829.5h0M1256.5 1824.5h0M1309.5 1831.5h0M1325.5 1814.5h0M1327.5 1827.5h0M1322.5 1811.5h0M1268.5 1834.5h0M1264.5 1848.5h0M1301.5 1839.5h0M1300.5 1836.5h0M1333.5 1835.5h0M1309.5 1842.5h0M1320.5 1812.5h0M1321.5 1810.5h0M1319.5 1813.5h0M1233.5 1839.5h0M1251.5 1829.5h0M1324.5 1847.5h0M1305.5 1843.5h0M1309.5 1843.5h0M1307.5 1836.5h0M1332.5 1843.5h0M1334.5 1844.5h0M1337.5 1843.5h0M1320.5 1827.5h0M1335.5 1844.5h0M1308.5 1843.5h0M1313.5 1848.5h0M1254.5 1829.5h0M1306.5 1841.5h0M1308.5 1835.5h0M1316.5 1824.5h0M1253.5 1827.5h0M1289.5 1841.5h0M1319.5 1827.5h0M1234.5 1841.5h0" stroke="#004cff" stroke-width="1.5" stroke-linecap="square"/>
<path d="M1275.5 1840.5h0M1239.5 1850.5h0M1236.5 1848.5h0M1272.5 1836.5h0M1235.5 1848.5h0M1246.5 1829.5h0M1332.5 1837.5h0M1333.5 1841.5h0M1334.5 1834.5h0M1328.5 1830.5h0M1241.5 1832.5h0M1326.5 1829.5h0M1333.5 1839.5h0M1234.5 1849.5h0M1243.5 1850.5h0M1238.5 1835.5h0M1286.5 1844.5h0M1270.5 1849.5h0M1277.5 1846.5h0M1278.5 1839.5h0M1332.5 1836.5h0M1332.5 1837.5h0M1319.5 1845.5h0M1286.5 1842.5h0M1275.5 1840.5h0M1289.5 1845.5h0M1289.5 1842.5h0M1263.5 1848.5h0M1283.5 1837.5h0M1283.5 1845.5h0M1274.5 1838.5h0M1241.5 1850.5h0M1241.5 1833.5h0M1240.5 1831.5h0M1261.5 1848.5h0M1261.5 1848.5h0M1284.5 1846.5h0M1274.5 1839.5h0M1271.5 1837.5h0M1284.5 1847.5h0M1276.5 1840.5h0M1333.5 1841.5h0M1307.5 1841.5h0M1325.5 1828.5h0M1315.5 1828.5h0M1308.5 1836.5h0M1334.5 1834.5h0M1251.5 1830.5h0M1286.5 1841.5h0M1258.5 1828.5h0M1285.5 1841.5h0M1281.5 1836.5h0M1264.5 1846.5h0M1278.5 1846.5h0M1286.5 1844.5h0M1240.5 1830.5h0M1324.5 1828.5h0M1307.5 1838.5h0M1318.5 1829.5h0M1330.5 1832.5h0M1332.5 1838.5h0M1282.5 1840.5h0M1276.5 1839.5h0M1329.5 1842.5h0M1332.5 1838.5h0M1246.5 1829.5h0M1289.5 1844.5h0M1263.5 1847.5h0M1282.5 1844.5h0M1289.5 1842.5h0M1327.5 1829.5h0M1335.5 1840.5h0M1311.5 1845.5h0M1333.5 1837.5h0M1265.5 1847.5h0M1284.5 1838.5h0M1277.5 1847.5h0M1270.5 1836.5h0M1254.5 1829.5h0M1329.5 1830.5h0M1325.5 1829.5h0M1336.5 1843.5h0M1315.5 1847.5h0M1335.5 1836.5h0M1248.5 1828.5h0M1274.5 1841.5h0M1240.5 1834.5h0M1240.5 1832.5h0M1263.5 1849.5h0M1240.5 1832.5h0M1243.5 1828.5h0M1238.5 1831.5h0M1263.5 1846.5h0M1250.5 1831.5h0M1310.5 1830.5h0M1330.5 1831.5h0M1306.5 1843.5h0M1287.5 1845.5h0M1315.5 1846.5h0M1314.5 1847.5h0M1335.5 1841.5h0M1241.5 1828.5h0M1242.5 1829.5h0M1282.5 1837.5h0M1238.5 1850.5h0M1315.5 1828.5h0M1233.5 1847.5h0M1233.5 1846.5h0M1287.5 1842.5h0" stroke="#007fff" stroke-width="1.5" stroke-linecap="square"/>
<path d="M1235.5 1843.5h0M1270.5 1838.5h0M1327.5 1831.5h0M1311.5 1843.5h0M1326.5 1843.5h0M1311.5 1838.5h0M1261.5 1833.5h0M1321.5 1844.5h0M1267.5 1837.5h0M1236.5 1841.5h0M1260.5 1832.5h0M1258.5 1830.5h0M1254.5 1831.5h0M1248.5 1831.5h0M1271.5 1842.5h0M1284.5 1843.5h0M1283.5 1840.5h0M1256.5 1831.5h0M1253.5 1834.5h0M1283.5 1843.5h0M1312.5 1841.5h0M1313.5 1842.5h0M1321.5 1831.5h0M1277.5 1844.5h0M1325.5 1833.5h0M1330.5 1841.5h0M1328.5 1841.5h0M1329.5 1838.5h0M1329.5 1834.5h0M1280.5 1838.5h0M1264.5 1844.5h0M1278.5 1842.5h0M1267.5 1845.5h0M1283.5 1840.5h0M1269.5 1846.5h0M1267.5 1845.5h0M1270.5 1839.5h0M1270.5 1842.5h0M1265.5 1845.5h0M1309.5 1837.5h0M1325.5 1833.5h0M1311.5 1839.5h0M1311.5 1842.5h0M1329.5 1836.5h0M1328.5 1833.5h0M1320.5 1830.5h0M1328.5 1837.5h0M1242.5 1831.5h0M1242.5 1833.5h0M1278.5 1845.5h0M1276.5 1841.5h0M1255.5 1849.5h0M1329.5 1832.5h0M1325.5 1831.5h0M1309.5 1834.5h0M1315.5 1845.5h0M1268.5 1844.5h0M1280.5 1845.5h0M1266.5 1845.5h0M1311.5 1839.5h0M1267.5 1845.5h0M1260.5 1848.5h0M1273.5 1838.5h0M1277.5 1844.5h0M1278.5 1842.5h0M1283.5 1840.5h0M1286.5 1844.5h0M1257.5 1831.5h0M1273.5 1841.5h0M1285.5 1845.5h0M1324.5 1845.5h0M1329.5 1840.5h0M1241.5 1835.5h0M1257.5 1831.5h0M1326.5 1843.5h0M1312.5 1830.5h0M1325.5 1830.5h0M1329.5 1832.5h0M1269.5 1846.5h0M1271.5 1846.5h0M1271.5 1842.5h0M1258.5 1829.5h0M1269.5 1846.5h0M1322.5 1829.5h0M1321.5 1828.5h0M1317.5 1831.5h0M1328.5 1833.5h0M1259.5 1848.5h0M1273.5 1840.5h0M1328.5 1835.5h0M1316.5 1830.5h0M1257.5 1848.5h0M1247.5 1831.5h0M1244.5 1830.5h0M1248.5 1831.5h0M1256.5 1830.5h0M1247.5 1831.5h0M1268.5 1846.5h0M1268.5 1836.5h0M1238.5 1837.5h0M1246.5 1831.5h0M1254.5 1848.5h0M1263.5 1845.5h0M1252.5 1832.5h0M1312.5 1843.5h0M1326.5 1832.5h0M1324.5 1844.5h0M1315.5 1845.5h0M1322.5 1845.5h0M1254.5 1848.5h0M1247.5 1830.5h0M1313.5 1830.5h0M1321.5 1831.5h0M1317.5 1831.5h0M1310.5 1835.5h0M1310.5 1836.5h0M1322.5 1829.5h0M1246.5 1831.5h0M1256.5 1831.5h0M1316.5 1832.5h0M1258.5 1848.5h0M1282.5 1843.5h0M1271.5 1842.5h0M1258.5 1830.5h0M1277.5 1841.5h0M1278.5 1842.5h0M1271.5 1840.5h0M1238.5 1837.5h0M1274.5 1846.5h0M1270.5 1839.5h0M1278.5 1843.5h0M1258.5 1831.5h0M1266.5 1836.5h0M1235.5 1845.5h0M1235.5 1845.5h0M1282.5 1843.5h0M1255.5 1833.5h0M1280.5 1841.5h0M1279.5 1842.5h0M1259.5 1831.5h0M1237.5 1840.5h0M1236.5 1848.5h0M1278.5 1840.5h0M1328.5 1841.5h0M1327.5 1842.5h0M1236.5 1841.5h0M1281.5 1839.5h0M1330.5 1837.5h0M1309.5 1835.5h0M1331.5 1835.5h0M1328.5 1832.5h0M1245.5 1831.5h0M1320.5 1831.5h0M1243.5 1830.5h0M1321.5 1831.5h0M1259.5 1850.5h0M1276.5 1840.5h0M1325.5 1844.5h0M1325.5 1831.5h0M1326.5 1842.5h0M1316.5 1845.5h0M1312.5 1843.5h0M1308.5 1837.5h0M1270.5 1846.5h0M1234.5 1845.5h0M1254.5 1832.5h0" stroke="#00b2ff" stroke-width="1.5" stroke-linecap="square"/>
<path d="M1310.5 1837.5h0M1318.5 1830.5h0M1261.5 1835.5h0M1256.5 1833.5h0M1318.5 1842.5h0M1322.5 1832.5h0M1312.5 1836.5h0M1315.5 1842.5h0M1329.5 1838.5h0M1260.5 1834.5h0M1262.5 1834.5h0M1257.5 1834.5h0M1312.5 1832.5h0M1262.5 1847.5h0M1244.5 1832.5h0M1250.5 1832.5h0M1262.5 1835.5h0M1240.5 1837.5h0M1327.5 1840.5h0M1326.5 1841.5h0M1317.5 1842.5h0M1247.5 1848.5h0M1281.5 1842.5h0M1249.5 1849.5h0M1274.5 1844.5h0M1245.5 1849.5h0M1249.5 1849.5h0M1235.5 1847.5h0M1247.5 1848.5h0M1241.5 1837.5h0M1270.5 1838.5h0M1272.5 1844.5h0M1281.5 1843.5h0M1246.5 1833.5h0M1259.5 1832.5h0M1272.5 1844.5h0M1269.5 1840.5h0M1314.5 1842.5h0M1270.5 1844.5h0M1281.5 1841.5h0M1312.5 1832.5h0M1316.5 1843.5h0M1272.5 1842.5h0M1311.5 1833.5h0M1314.5 1843.5h0M1258.5 1847.5h0M1317.5 1843.5h0M1318.5 1843.5h0M1277.5 1843.5h0M1272.5 1847.5h0M1250.5 1832.5h0M1245.5 1848.5h0M1262.5 1835.5h0M1280.5 1840.5h0M1275.5 1845.5h0M1326.5 1841.5h0M1268.5 1843.5h0M1272.5 1847.5h0M1313.5 1840.5h0M1310.5 1838.5h0M1273.5 1844.5h0M1314.5 1833.5h0M1312.5 1832.5h0M1327.5 1832.5h0M1257.5 1835.5h0M1281.5 1840.5h0M1268.5 1844.5h0M1274.5 1842.5h0M1276.5 1844.5h0M1254.5 1835.5h0M1314.5 1843.5h0M1239.5 1849.5h0M1311.5 1834.5h0M1273.5 1845.5h0M1271.5 1845.5h0M1272.5 1845.5h0M1322.5 1830.5h0M1313.5 1832.5h0M1258.5 1846.5h0M1274.5 1845.5h0M1268.5 1843.5h0M1274.5 1845.5h0M1320.5 1843.5h0M1312.5 1841.5h0M1328.5 1833.5h0M1312.5 1841.5h0M1269.5 1843.5h0M1310.5 1837.5h0M1329.5 1839.5h0M1331.5 1839.5h0M1326.5 1840.5h0M1312.5 1832.5h0M1329.5 1839.5h0M1313.5 1840.5h0M1319.5 1842.5h0M1320.5 1830.5h0M1269.5 1838.5h0M1235.5 1847.5h0M1246.5 1848.5h0M1319.5 1830.5h0M1322.5 1831.5h0M1330.5 1839.5h0M1258.5 1846.5h0M1274.5 1844.5h0M1313.5 1840.5h0M1318.5 1843.5h0M1269.5 1844.5h0M1331.5 1838.5h0M1243.5 1835.5h0M1256.5 1833.5h0M1274.5 1846.5h0M1256.5 1834.5h0M1243.5 1835.5h0M1242.5 1836.5h0M1273.5 1846.5h0M1251.5 1849.5h0M1260.5 1847.5h0M1281.5 1841.5h0M1259.5 1833.5h0M1248.5 1850.5h0M1239.5 1849.5h0M1313.5 1841.5h0" stroke="#00e5ff" stroke-width="1.5" stroke-linecap="square"/>
<path d="M1264.5 1836.5h0M1241.5 1849.5h0M1259.5 1834.5h0M1240.5 1849.5h0M1321.5 1842.5h0M1267.5 1839.5h0M1259.5 1844.5h0M1266.5 1838.5h0M1325.5 1836.5h0M1326.5 1836.5h0M1253.5 1835.5h0M1253.5 1834.5h0M1267.5 1843.5h0M1263.5 1843.5h0M1248.5 1832.5h0M1237.5 1845.5h0M1243.5 1848.5h0M1237.5 1845.5h0M1322.5 1842.5h0M1320.5 1833.5h0M1328.5 1836.5h0M1313.5 1837.5h0M1322.5 1832.5h0M1242.5 1848.5h0M1326.5 1834.5h0M1317.5 1832.5h0M1314.5 1836.5h0M1246.5 1833.5h0M1259.5 1845.5h0M1243.5 1836.5h0M1264.5 1843.5h0M1260.5 1835.5h0M1260.5 1844.5h0M1313.5 1838.5h0M1322.5 1843.5h0M1328.5 1839.5h0M1260.5 1845.5h0M1321.5 1842.5h0M1324.5 1842.5h0M1243.5 1836.5h0M1317.5 1832.5h0M1323.5 1833.5h0M1265.5 1836.5h0M1312.5 1835.5h0M1323.5 1842.5h0M1243.5 1836.5h0M1258.5 1844.5h0M1262.5 1836.5h0M1248.5 1834.5h0M1267.5 1838.5h0M1259.5 1834.5h0M1315.5 1841.5h0M1323.5 1843.5h0M1248.5 1833.5h0M1313.5 1836.5h0M1263.5 1843.5h0M1239.5 1838.5h0M1238.5 1839.5h0M1267.5 1839.5h0M1247.5 1833.5h0M1267.5 1838.5h0M1320.5 1833.5h0M1326.5 1835.5h0M1314.5 1837.5h0M1324.5 1835.5h0M1320.5 1843.5h0M1326.5 1835.5h0M1315.5 1840.5h0M1243.5 1849.5h0M1266.5 1840.5h0M1312.5 1835.5h0M1325.5 1834.5h0M1326.5 1838.5h0M1320.5 1843.5h0M1327.5 1835.5h0M1321.5 1833.5h0M1321.5 1833.5h0M1262.5 1837.5h0M1258.5 1845.5h0M1236.5 1844.5h0M1237.5 1842.5h0M1237.5 1845.5h0M1267.5 1841.5h0M1267.5 1843.5h0M1263.5 1836.5h0M1267.5 1844.5h0M1259.5 1845.5h0M1269.5 1840.5h0M1262.5 1842.5h0M1260.5 1845.5h0M1268.5 1840.5h0M1264.5 1836.5h0M1267.5 1840.5h0M1269.5 1840.5h0M1264.5 1837.5h0M1241.5 1848.5h0M1237.5 1844.5h0M1267.5 1839.5h0M1241.5 1849.5h0M1236.5 1845.5h0M1241.5 1848.5h0M1241.5 1849.5h0M1242.5 1848.5h0M1242.5 1838.5h0M1322.5 1842.5h0M1326.5 1837.5h0" stroke="#19ffe5" stroke-width="1.5" stroke-linecap="square"/>
<path d="M1318.5 1841.5h0M1319.5 1840.5h0M1324.5 1840.5h0M1314.5 1833.5h0M1254.5 1846.5h0M1315.5 1840.5h0M1253.5 1846.5h0M1315.5 1838.5h0M1237.5 1846.5h0M1255.5 1846.5h0M1236.5 1847.5h0M1236.5 1847.5h0M1256.5 1847.5h0M1316.5 1841.5h0M1313.5 1835.5h0M1323.5 1834.5h0M1315.5 1832.5h0M1325.5 1837.5h0M1324.5 1836.5h0M1246.5 1835.5h0M1321.5 1835.5h0M1325.5 1841.5h0M1257.5 1847.5h0M1256.5 1847.5h0M1259.5 1842.5h0M1250.5 1834.5h0M1247.5 1834.5h0M1324.5 1841.5h0M1246.5 1835.5h0M1325.5 1841.5h0M1236.5 1847.5h0M1264.5 1843.5h0M1322.5 1840.5h0M1313.5 1835.5h0M1326.5 1837.5h0M1324.5 1837.5h0M1254.5 1836.5h0M1251.5 1834.5h0M1260.5 1838.5h0M1322.5 1841.5h0M1315.5 1833.5h0M1259.5 1842.5h0M1313.5 1834.5h0M1317.5 1841.5h0M1260.5 1836.5h0M1258.5 1837.5h0M1257.5 1838.5h0M1247.5 1836.5h0M1320.5 1834.5h0M1315.5 1832.5h0M1320.5 1834.5h0M1325.5 1841.5h0M1318.5 1840.5h0M1315.5 1839.5h0M1324.5 1837.5h0M1254.5 1837.5h0M1322.5 1835.5h0M1257.5 1847.5h0M1258.5 1844.5h0M1259.5 1843.5h0M1260.5 1837.5h0M1250.5 1835.5h0M1256.5 1838.5h0M1258.5 1843.5h0M1257.5 1836.5h0M1253.5 1846.5h0M1258.5 1836.5h0M1260.5 1837.5h0M1255.5 1837.5h0M1315.5 1834.5h0M1258.5 1844.5h0M1260.5 1837.5h0M1261.5 1837.5h0M1250.5 1835.5h0M1237.5 1847.5h0M1256.5 1846.5h0M1324.5 1841.5h0M1326.5 1840.5h0M1319.5 1841.5h0M1321.5 1836.5h0M1254.5 1847.5h0M1257.5 1845.5h0M1317.5 1841.5h0M1312.5 1834.5h0M1253.5 1847.5h0M1323.5 1835.5h0M1314.5 1833.5h0M1312.5 1835.5h0M1255.5 1837.5h0M1247.5 1834.5h0M1325.5 1836.5h0M1252.5 1846.5h0M1315.5 1838.5h0M1252.5 1834.5h0M1261.5 1837.5h0M1247.5 1834.5h0M1251.5 1834.5h0M1253.5 1846.5h0M1251.5 1835.5h0M1257.5 1837.5h0M1254.5 1837.5h0M1245.5 1835.5h0M1264.5 1843.5h0M1323.5 1841.5h0M1254.5 1846.5h0" stroke="#4cffb2" stroke-width="1.5" stroke-linecap="square"/>
<path d="M1317.5 1835.5h0M1258.5 1838.5h0M1262.5 1841.5h0M1259.5 1841.5h0M1264.5 1841.5h0M1262.5 1841.5h0M1249.5 1847.5h0M1239.5 1842.5h0M1250.5 1846.5h0M1248.5 1847.5h0M1254.5 1844.5h0M1318.5 1838.5h0M1249.5 1847.5h0M1262.5 1841.5h0M1251.5 1846.5h0M1264.5 1841.5h0M1254.5 1844.5h0M1264.5 1838.5h0M1263.5 1840.5h0M1261.5 1843.5h0M1319.5 1838.5h0M1264.5 1838.5h0M1264.5 1841.5h0M1324.5 1836.5h0M1259.5 1839.5h0M1316.5 1835.5h0M1322.5 1838.5h0M1322.5 1837.5h0M1255.5 1844.5h0M1263.5 1841.5h0M1316.5 1834.5h0M1322.5 1838.5h0M1316.5 1837.5h0M1325.5 1838.5h0M1317.5 1839.5h0M1265.5 1841.5h0M1261.5 1843.5h0M1316.5 1836.5h0M1259.5 1839.5h0M1265.5 1840.5h0M1259.5 1841.5h0M1319.5 1838.5h0M1258.5 1839.5h0M1314.5 1836.5h0M1322.5 1836.5h0M1318.5 1833.5h0M1316.5 1835.5h0M1263.5 1841.5h0M1316.5 1835.5h0M1318.5 1838.5h0M1319.5 1838.5h0M1255.5 1845.5h0M1324.5 1838.5h0M1315.5 1836.5h0M1265.5 1839.5h0M1261.5 1843.5h0M1239.5 1840.5h0M1250.5 1846.5h0M1248.5 1846.5h0M1323.5 1836.5h0M1239.5 1841.5h0M1251.5 1847.5h0M1316.5 1838.5h0M1319.5 1833.5h0M1250.5 1847.5h0M1316.5 1834.5h0M1318.5 1838.5h0M1263.5 1841.5h0M1324.5 1838.5h0M1259.5 1839.5h0M1318.5 1839.5h0M1259.5 1840.5h0M1250.5 1846.5h0M1258.5 1840.5h0M1259.5 1840.5h0M1250.5 1846.5h0M1254.5 1844.5h0M1261.5 1842.5h0M1262.5 1840.5h0M1262.5 1843.5h0M1316.5 1839.5h0M1316.5 1835.5h0M1317.5 1838.5h0M1249.5 1847.5h0M1239.5 1841.5h0M1263.5 1841.5h0M1255.5 1844.5h0M1259.5 1841.5h0" stroke="#7fff7f" stroke-width="1.5" stroke-linecap="square"/>
<path d="M1251.5 1837.5h0M1261.5 1841.5h0M1319.5 1835.5h0M1319.5 1835.5h0M1321.5 1840.5h0M1323.5 1839.5h0M1253.5 1837.5h0M1262.5 1840.5h0M1251.5 1836.5h0M1245.5 1837.5h0M1256.5 1843.5h0M1241.5 1839.5h0M1261.5 1839.5h0M1257.5 1841.5h0M1254.5 1837.5h0M1262.5 1839.5h0M1239.5 1846.5h0M1323.5 1838.5h0M1319.5 1836.5h0M1248.5 1835.5h0M1248.5 1835.5h0M1263.5 1839.5h0M1256.5 1844.5h0M1256.5 1841.5h0M1256.5 1840.5h0M1241.5 1839.5h0M1252.5 1837.5h0M1258.5 1840.5h0M1241.5 1838.5h0M1241.5 1839.5h0M1258.5 1840.5h0M1238.5 1846.5h0M1320.5 1836.5h0M1321.5 1841.5h0M1321.5 1837.5h0M1252.5 1837.5h0M1251.5 1837.5h0M1249.5 1834.5h0M1238.5 1848.5h0M1322.5 1838.5h0M1249.5 1835.5h0M1250.5 1837.5h0M1250.5 1836.5h0M1263.5 1838.5h0M1262.5 1839.5h0M1261.5 1841.5h0M1316.5 1837.5h0M1245.5 1836.5h0M1251.5 1836.5h0M1244.5 1836.5h0M1241.5 1838.5h0M1262.5 1838.5h0M1320.5 1841.5h0M1320.5 1837.5h0M1250.5 1836.5h0M1241.5 1839.5h0M1240.5 1838.5h0M1260.5 1840.5h0M1262.5 1838.5h0M1263.5 1839.5h0M1320.5 1836.5h0M1321.5 1838.5h0M1260.5 1838.5h0M1257.5 1842.5h0M1319.5 1835.5h0M1319.5 1837.5h0M1245.5 1837.5h0M1244.5 1837.5h0M1250.5 1838.5h0M1316.5 1836.5h0M1322.5 1839.5h0M1321.5 1838.5h0M1323.5 1838.5h0M1322.5 1839.5h0M1316.5 1838.5h0M1321.5 1838.5h0M1319.5 1837.5h0M1315.5 1834.5h0M1321.5 1838.5h0M1319.5 1834.5h0M1321.5 1836.5h0M1323.5 1838.5h0M1317.5 1836.5h0M1318.5 1837.5h0M1318.5 1836.5h0M1321.5 1840.5h0M1320.5 1836.5h0M1317.5 1836.5h0M1317.5 1836.5h0M1324.5 1839.5h0M1257.5 1840.5h0M1240.5 1846.5h0M1238.5 1846.5h0M1319.5 1835.5h0M1316.5 1834.5h0M1315.5 1836.5h0M1253.5 1837.5h0M1245.5 1836.5h0" stroke="#b2ff4c" stroke-width="1.5" stroke-linecap="square"/>
<path d="M1239.5 1845.5h0M1252.5 1844.5h0M1241.5 1840.5h0M1247.5 1837.5h0M1238.5 1843.5h0M1240.5 1840.5h0M1245.5 1846.5h0M1239.5 1844.5h0M1254.5 1844.5h0M1247.5 1838.5h0M1241.5 1842.5h0M1246.5 1838.5h0M1239.5 1844.5h0M1257.5 1838.5h0M1246.5 1836.5h0M1247.5 1836.5h0M1240.5 1847.5h0M1247.5 1847.5h0M1241.5 1841.5h0M1244.5 1847.5h0M1253.5 1845.5h0M1247.5 1846.5h0M1242.5 1841.5h0M1252.5 1845.5h0M1253.5 1844.5h0M1244.5 1839.5h0M1240.5 1844.5h0M1241.5 1847.5h0M1240.5 1840.5h0M1238.5 1845.5h0M1240.5 1841.5h0M1240.5 1847.5h0M1241.5 1841.5h0M1252.5 1845.5h0M1241.5 1840.5h0M1257.5 1838.5h0M1252.5 1845.5h0M1246.5 1837.5h0M1242.5 1840.5h0M1246.5 1836.5h0M1254.5 1844.5h0M1247.5 1837.5h0M1253.5 1845.5h0M1239.5 1844.5h0M1238.5 1844.5h0M1244.5 1839.5h0M1247.5 1837.5h0M1244.5 1847.5h0M1244.5 1846.5h0M1253.5 1844.5h0M1239.5 1843.5h0M1244.5 1847.5h0M1245.5 1846.5h0M1252.5 1844.5h0M1242.5 1838.5h0M1241.5 1840.5h0M1241.5 1847.5h0M1246.5 1846.5h0M1243.5 1839.5h0M1257.5 1839.5h0M1257.5 1838.5h0M1246.5 1836.5h0M1241.5 1846.5h0M1256.5 1839.5h0M1242.5 1839.5h0" stroke="#e5ff19" stroke-width="1.5" stroke-linecap="square"/>
<path d="M1243.5 1847.5h0M1255.5 1840.5h0M1241.5 1844.5h0M1244.5 1839.5h0M1241.5 1845.5h0M1240.5 1845.5h0M1255.5 1839.5h0M1255.5 1840.5h0M1255.5 1842.5h0M1242.5 1846.5h0M1242.5 1846.5h0M1240.5 1845.5h0M1254.5 1841.5h0M1241.5 1845.5h0M1246.5 1838.5h0M1255.5 1841.5h0M1255.5 1840.5h0M1255.5 1838.5h0M1241.5 1844.5h0M1256.5 1838.5h0M1255.5 1838.5h0M1242.5 1845.5h0M1251.5 1845.5h0M1242.5 1847.5h0M1251.5 1844.5h0M1244.5 1838.5h0M1241.5 1845.5h0M1241.5 1844.5h0M1254.5 1842.5h0M1254.5 1842.5h0M1256.5 1838.5h0M1255.5 1841.5h0M1255.5 1838.5h0M1254.5 1839.5h0M1254.5 1838.5h0M1241.5 1844.5h0M1242.5 1844.5h0M1255.5 1841.5h0M1254.5 1842.5h0" stroke="#ffe500" stroke-width="1.5" stroke-linecap="square"/>
<path d="M1246.5 1839.5h0M1245.5 1841.5h0M1251.5 1838.5h0M1247.5 1838.5h0M1247.5 1838.5h0M1247.5 1839.5h0M1245.5 1841.5h0M1248.5 1845.5h0M1244.5 1841.5h0M1246.5 1839.5h0M1251.5 1838.5h0M1245.5 1840.5h0M1248.5 1844.5h0M1245.5 1841.5h0M1245.5 1840.5h0M1248.5 1845.5h0M1246.5 1838.5h0M1251.5 1838.5h0M1248.5 1838.5h0M1248.5 1844.5h0M1248.5 1844.5h0M1248.5 1839.5h0M1247.5 1838.5h0M1247.5 1839.5h0M1245.5 1842.5h0M1248.5 1844.5h0M1249.5 1845.5h0M1251.5 1838.5h0M1249.5 1837.5h0M1249.5 1836.5h0M1252.5 1838.5h0M1248.5 1844.5h0M1249.5 1844.5h0M1245.5 1840.5h0" stroke="#ffb200" stroke-width="1.5" stroke-linecap="square"/>
<path d="M1244.5 1844.5h0M1243.5 1841.5h0M1245.5 1846.5h0M1243.5 1841.5h0M1252.5 1844.5h0M1252.5 1841.5h0M1253.5 1841.5h0M1253.5 1839.5h0M1253.5 1838.5h0M1249.5 1838.5h0M1242.5 1840.5h0M1254.5 1841.5h0M1252.5 1840.5h0M1248.5 1839.5h0M1252.5 1839.5h0M1248.5 1839.5h0M1249.5 1839.5h0M1242.5 1843.5h0M1241.5 1842.5h0M1245.5 1845.5h0M1241.5 1842.5h0M1252.5 1841.5h0M1252.5 1839.5h0M1241.5 1844.5h0M1249.5 1838.5h0M1252.5 1840.5h0M1250.5 1840.5h0M1244.5 1845.5h0M1253.5 1842.5h0M1250.5 1841.5h0M1247.5 1840.5h0M1244.5 1844.5h0M1251.5 1842.5h0M1253.5 1842.5h0M1250.5 1841.5h0M1252.5 1841.5h0M1245.5 1844.5h0M1248.5 1839.5h0M1253.5 1839.5h0M1252.5 1841.5h0M1241.5 1842.5h0M1247.5 1841.5h0M1250.5 1841.5h0M1243.5 1840.5h0M1245.5 1844.5h0M1244.5 1844.5h0M1251.5 1841.5h0M1252.5 1844.5h0M1249.5 1838.5h0M1246.5 1841.5h0M1251.5 1841.5h0M1245.5 1845.5h0M1243.5 1840.5h0M1246.5 1845.5h0M1243.5 1841.5h0M1245.5 1845.5h0M1253.5 1841.5h0M1242.5 1840.5h0M1252.5 1840.5h0M1241.5 1842.5h0M1253.5 1841.5h0M1250.5 1840.5h0M1249.5 1838.5h0M1253.5 1840.5h0M1252.5 1840.5h0M1247.5 1841.5h0M1240.5 1842.5h0M1247.5 1840.5h0M1252.5 1843.5h0M1240.5 1843.5h0M1251.5 1840.5h0M1253.5 1841.5h0M1241.5 1843.5h0M1244.5 1844.5h0" stroke="#ff7f00" stroke-width="1.5" stroke-linecap="square"/>
<path d="M1250.5 1842.5h0M1247.5 1845.5h0M1247.5 1844.5h0M1242.5 1844.5h0M1247.5 1845.5h0M1251.5 1842.5h0M1249.5 1843.5h0M1251.5 1842.5h0M1246.5 1845.5h0M1247.5 1844.5h0M1250.5 1842.5h0M1242.5 1845.5h0M1249.5 1841.5h0M1243.5 1845.5h0M1248.5 1841.5h0M1246.5 1845.5h0M1246.5 1845.5h0M1248.5 1840.5h0M1250.5 1843.5h0M1249.5 1842.5h0M1248.5 1843.5h0M1243.5 1844.5h0M1248.5 1842.5h0M1243.5 1845.5h0M1248.5 1841.5h0M1250.5 1843.5h0M1249.5 1842.5h0M1246.5 1845.5h0M1244.5 1845.5h0M1250.5 1841.5h0M1249.5 1840.5h0M1249.5 1841.5h0M1250.5 1841.5h0M1249.5 1842.5h0M1248.5 1842.5h0M1247.5 1845.5h0M1247.5 1844.5h0M1243.5 1846.5h0M1251.5 1843.5h0M1251.5 1843.5h0M1242.5 1844.5h0M1243.5 1845.5h0M1252.5 1844.5h0M1250.5 1842.5h0" stroke="#ff4c00" stroke-width="1.5" stroke-linecap="square"/>
<path d="M1247.5 1842.5h0M1246.5 1842.5h0M1245.5 1842.5h0M1247.5 1843.5h0M1248.5 1842.5h0M1246.5 1842.5h0M1245.5 1842.5h0M1247.5 1842.5h0M1246.5 1842.5h0M1244.5 1843.5h0M1245.5 1842.5h0M1245.5 1844.5h0M1247.5 1843.5h0M1244.5 1842.5h0M1244.5 1842.5h0M1247.5 1843.5h0M1246.5 1842.5h0M1245.5 1843.5h0M1244.5 1843.5h0" stroke="#ff1900" stroke-width="1.5" stroke-linecap="square"/>
<path d="M1242.5 1843.5h0M1243.5 1843.5h0M1242.5 1843.5h0M1243.5 1843.5h0M1243.5 1842.5h0M1242.5 1842.5h0M1242.5 1842.5h0" stroke="#e50000" stroke-width="1.5" stroke-linecap="square"/>
<line x1="1292.4" y1="1717.6" x2="1292.4" y2="1868.3" stroke="#000" stroke-width="1.5"/>
<line x1="1217.7" y1="1801" x2="1391.3" y2="1801" stroke="#000" stroke-width="1.5"/>
<path d="M1217.7 1717.6H1391.3" fill="none" stroke="#bbb" stroke-width="1"/>
<path d="M1217.7 1717.6V1868.3H1391.3V1717.6" fill="none" stroke="#333" stroke-width="1"/>
<path d="M1214.2 1732.2H1217.7M1215.7 1742.7H1217.7M1215.7 1748.8H1217.7M1215.7 1753.1H1217.7M1215.7 1756.4H1217.7M1215.7 1759.2H1217.7M1215.7 1761.5H1217.7M1215.7 1763.5H1217.7M1215.7 1765.3H1217.7M1214.2 1766.1H1217.7M1215.7 1776.6H1217.7M1215.7 1782.7H1217.7M1215.7 1787H1217.7M1215.7 1790.4H1217.7M1215.7 1793.1H1217.7M1215.7 1795.4H1217.7M1215.7 1797.4H1217.7M1215.7 1799.2H1217.7M1214.2 1802.7H1217.7M1215.7 1813.2H1217.7M1215.7 1819.3H1217.7M1215.7 1823.6H1217.7M1215.7 1827H1217.7M1215.7 1829.7H1217.7M1215.7 1832H1217.7M1215.7 1834H1217.7M1215.7 1835.8H1217.7M1215.2 1838H1217.7M1215.2 1842H1217.7M1215.2 1845H1217.7M1215.2 1847H1217.7M1215.2 1848H1217.7M1215.2 1849H1217.7M1215.2 1851H1217.7M1215.2 1854H1217.7M1215.2 1858H1217.7M1215.2 1863H1217.7M1296.9 1868.3V1871.8M1268.3 1868.3V1870.3M1275.5 1868.3V1870.3M1280.6 1868.3V1870.3M1284.6 1868.3V1870.3M1287.8 1868.3V1870.3M1290.5 1868.3V1870.3M1292.9 1868.3V1870.3M1295 1868.3V1870.3M1338.4 1868.3V1871.8M1309.8 1868.3V1870.3M1317 1868.3V1870.3M1322.1 1868.3V1870.3M1326.1 1868.3V1870.3M1329.3 1868.3V1870.3M1332 1868.3V1870.3M1334.4 1868.3V1870.3M1336.5 1868.3V1870.3M1378.3 1868.3V1871.8M1349.8 1868.3V1870.3M1356.9 1868.3V1870.3M1362 1868.3V1870.3M1366 1868.3V1870.3M1369.2 1868.3V1870.3M1372 1868.3V1870.3M1374.3 1868.3V1870.3M1376.4 1868.3V1870.3M1229.9 1868.3V1870.8M1233.9 1868.3V1870.8M1236.9 1868.3V1870.8M1238.9 1868.3V1870.8M1240.9 1868.3V1870.8M1242.9 1868.3V1870.8M1243.9 1868.3V1870.8M1244.9 1868.3V1870.8M1246.9 1868.3V1870.8M1248.9 1868.3V1870.8M1251.9 1868.3V1870.8M1255.9 1868.3V1870.8" stroke="#333" stroke-width="0.8" fill="none"/>
<text x="1209.7" y="1734.7" font-size="6.5" text-anchor="end" fill="#333">10<tspan font-size="5" dy="-3">5</tspan></text>
<text x="1209.7" y="1768.6" font-size="6.5" text-anchor="end" fill="#333">10<tspan font-size="5" dy="-3">4</tspan></text>
<text x="1209.7" y="1805.2" font-size="6.5" text-anchor="end" fill="#333">10<tspan font-size="5" dy="-3">3</tspan></text>
<text x="1209.7" y="1850.5" font-size="6.5" text-anchor="end" fill="#333">0</text>
<text x="1243.9" y="1881.3" font-size="6.5" text-anchor="middle" fill="#333">0</text>
<text x="1296.9" y="1881.3" font-size="6.5" text-anchor="middle" fill="#333">10<tspan font-size="5" dy="-3">3</tspan></text>
<text x="1338.4" y="1881.3" font-size="6.5" text-anchor="middle" fill="#333">10<tspan font-size="5" dy="-3">4</tspan></text>
<text x="1378.3" y="1881.3" font-size="6.5" text-anchor="middle" fill="#333">10<tspan font-size="5" dy="-3">5</tspan></text>
<rect x="1411" y="1717.6" width="173" height="150.7" fill="#fff"/>
<path d="M1455.5 1807.5h0M1451.5 1817.5h0M1479.5 1822.5h0M1470.5 1823.5h0M1455.5 1824.5h0M1465.5 1813.5h0M1427.5 1812.5h0M1468.5 1856.5h0M1422.5 1837.5h0M1419.5 1844.5h0M1459.5 1856.5h0M1490.5 1824.5h0M1480.5 1827.5h0M1501.5 1852.5h0M1493.5 1823.5h0M1513.5 1823.5h0M1528.5 1846.5h0M1499.5 1851.5h0M1489.5 1850.5h0M1451.5 1854.5h0M1489.5 1847.5h0M1514.5 1847.5h0M1518.5 1846.5h0M1428.5 1855.5h0M1526.5 1843.5h0M1481.5 1852.5h0M1464.5 1853.5h0M1499.5 1823.5h0M1474.5 1832.5h0M1515.5 1849.5h0M1463.5 1818.5h0M1438.5 1815.5h0M1466.5 1808.5h0M1476.5 1824.5h0M1433.5 1811.5h0M1479.5 1828.5h0M1434.5 1827.5h0M1455.5 1814.5h0M1417.5 1803.5h0M1424.5 1850.5h0M1426.5 1835.5h0M1449.5 1813.5h0M1460.5 1801.5h0M1446.5 1811.5h0M1433.5 1827.5h0M1437.5 1815.5h0M1456.5 1818.5h0M1530.5 1798.5h0M1518.5 1795.5h0M1462.5 1790.5h0M1455.5 1792.5h0M1424.5 1850.5h0M1440.5 1818.5h0M1451.5 1805.5h0M1432.5 1819.5h0M1470.5 1808.5h0M1458.5 1816.5h0M1547.5 1843.5h0M1519.5 1825.5h0M1540.5 1831.5h0M1540.5 1838.5h0M1545.5 1820.5h0M1523.5 1825.5h0M1527.5 1825.5h0M1533.5 1826.5h0M1547.5 1819.5h0M1540.5 1836.5h0M1547.5 1821.5h0M1509.5 1823.5h0M1535.5 1829.5h0" stroke="#0000e5" stroke-width="1.5" stroke-linecap="square"/>
<path d="M1481.5 1846.5h0M1492.5 1829.5h0M1533.5 1837.5h0M1524.5 1830.5h0M1531.5 1830.5h0M1427.5 1841.5h0M1525.5 1846.5h0M1468.5 1824.5h0M1440.5 1826.5h0M1501.5 1827.5h0M1534.5 1835.5h0M1461.5 1821.5h0M1462.5 1826.5h0M1467.5 1827.5h0M1422.5 1844.5h0M1452.5 1821.5h0M1459.5 1854.5h0M1434.5 1820.5h0M1463.5 1823.5h0M1426.5 1841.5h0M1445.5 1820.5h0M1448.5 1821.5h0M1472.5 1853.5h0M1468.5 1831.5h0M1486.5 1843.5h0M1479.5 1844.5h0M1517.5 1827.5h0M1440.5 1854.5h0M1522.5 1834.5h0M1527.5 1826.5h0M1471.5 1850.5h0M1491.5 1830.5h0M1529.5 1830.5h0M1500.5 1829.5h0M1524.5 1832.5h0M1528.5 1835.5h0M1529.5 1832.5h0M1486.5 1831.5h0M1486.5 1824.5h0M1530.5 1834.5h0M1478.5 1834.5h0M1504.5 1846.5h0M1478.5 1832.5h0M1500.5 1825.5h0M1505.5 1826.5h0M1500.5 1829.5h0M1524.5 1829.5h0M1486.5 1826.5h0M1485.5 1824.5h0M1492.5 1843.5h0M1422.5 1840.5h0M1469.5 1830.5h0M1463.5 1823.5h0M1466.5 1824.5h0M1458.5 1821.5h0M1446.5 1821.5h0M1449.5 1812.5h0M1443.5 1852.5h0M1423.5 1847.5h0M1473.5 1832.5h0M1461.5 1824.5h0M1509.5 1847.5h0M1530.5 1837.5h0M1486.5 1844.5h0M1524.5 1839.5h0M1471.5 1835.5h0M1522.5 1846.5h0M1492.5 1843.5h0M1485.5 1831.5h0M1420.5 1846.5h0M1479.5 1844.5h0M1473.5 1851.5h0M1483.5 1831.5h0M1528.5 1839.5h0M1504.5 1826.5h0M1495.5 1827.5h0M1506.5 1844.5h0M1508.5 1848.5h0M1484.5 1834.5h0M1534.5 1836.5h0M1505.5 1848.5h0M1491.5 1839.5h0M1488.5 1832.5h0M1488.5 1835.5h0M1485.5 1829.5h0M1506.5 1845.5h0M1528.5 1840.5h0M1422.5 1842.5h0M1469.5 1827.5h0M1490.5 1839.5h0M1525.5 1846.5h0M1477.5 1833.5h0M1525.5 1831.5h0M1452.5 1818.5h0M1450.5 1821.5h0M1429.5 1833.5h0M1467.5 1826.5h0M1471.5 1834.5h0M1434.5 1822.5h0M1507.5 1850.5h0M1423.5 1843.5h0M1435.5 1821.5h0M1431.5 1832.5h0M1435.5 1855.5h0M1481.5 1847.5h0M1451.5 1821.5h0M1427.5 1831.5h0M1462.5 1821.5h0M1441.5 1823.5h0M1439.5 1827.5h0M1439.5 1820.5h0M1440.5 1826.5h0" stroke="#0019ff" stroke-width="1.5" stroke-linecap="square"/>
<path d="M1512.5 1826.5h0M1522.5 1830.5h0M1522.5 1839.5h0M1450.5 1831.5h0M1464.5 1831.5h0M1485.5 1841.5h0M1462.5 1850.5h0M1430.5 1850.5h0M1498.5 1827.5h0M1450.5 1827.5h0M1434.5 1833.5h0M1443.5 1852.5h0M1441.5 1831.5h0M1447.5 1825.5h0M1441.5 1824.5h0M1433.5 1838.5h0M1430.5 1851.5h0M1441.5 1825.5h0M1444.5 1829.5h0M1439.5 1830.5h0M1463.5 1832.5h0M1449.5 1824.5h0M1444.5 1832.5h0M1449.5 1824.5h0M1454.5 1850.5h0M1466.5 1833.5h0M1484.5 1842.5h0M1456.5 1852.5h0M1425.5 1841.5h0M1474.5 1847.5h0M1474.5 1844.5h0M1482.5 1845.5h0M1426.5 1845.5h0M1446.5 1851.5h0M1433.5 1837.5h0M1473.5 1847.5h0M1444.5 1832.5h0M1451.5 1849.5h0M1474.5 1849.5h0M1434.5 1835.5h0M1495.5 1829.5h0M1475.5 1846.5h0M1479.5 1834.5h0M1470.5 1848.5h0M1510.5 1844.5h0M1510.5 1844.5h0M1496.5 1845.5h0M1516.5 1831.5h0M1483.5 1837.5h0M1492.5 1841.5h0M1523.5 1840.5h0M1498.5 1845.5h0M1481.5 1840.5h0M1487.5 1835.5h0M1470.5 1848.5h0M1494.5 1842.5h0M1490.5 1834.5h0M1487.5 1840.5h0M1488.5 1839.5h0M1466.5 1834.5h0M1473.5 1846.5h0M1467.5 1833.5h0M1466.5 1850.5h0M1465.5 1832.5h0M1497.5 1843.5h0M1495.5 1838.5h0M1495.5 1842.5h0M1464.5 1831.5h0M1500.5 1845.5h0M1508.5 1827.5h0M1503.5 1845.5h0M1430.5 1836.5h0M1448.5 1835.5h0M1483.5 1836.5h0M1514.5 1842.5h0M1492.5 1835.5h0M1514.5 1826.5h0M1511.5 1826.5h0M1448.5 1832.5h0M1522.5 1838.5h0M1435.5 1852.5h0M1492.5 1834.5h0M1453.5 1827.5h0M1446.5 1850.5h0M1458.5 1852.5h0M1445.5 1826.5h0M1459.5 1827.5h0M1435.5 1853.5h0M1435.5 1831.5h0M1431.5 1851.5h0M1439.5 1853.5h0M1465.5 1833.5h0M1490.5 1842.5h0M1508.5 1826.5h0M1479.5 1835.5h0M1492.5 1830.5h0M1510.5 1828.5h0M1520.5 1833.5h0M1488.5 1837.5h0M1492.5 1831.5h0M1522.5 1836.5h0M1431.5 1851.5h0M1445.5 1827.5h0M1477.5 1845.5h0M1430.5 1839.5h0M1479.5 1840.5h0M1494.5 1834.5h0M1438.5 1853.5h0M1494.5 1839.5h0M1514.5 1825.5h0M1457.5 1852.5h0M1447.5 1835.5h0M1494.5 1829.5h0M1464.5 1829.5h0M1521.5 1833.5h0M1498.5 1845.5h0M1511.5 1828.5h0M1483.5 1842.5h0M1490.5 1832.5h0M1503.5 1828.5h0M1506.5 1826.5h0M1494.5 1839.5h0M1513.5 1827.5h0M1516.5 1843.5h0M1444.5 1826.5h0M1503.5 1826.5h0M1501.5 1844.5h0M1485.5 1839.5h0M1437.5 1831.5h0M1455.5 1853.5h0M1477.5 1836.5h0M1461.5 1829.5h0M1447.5 1828.5h0M1445.5 1833.5h0M1479.5 1834.5h0M1468.5 1848.5h0M1433.5 1837.5h0M1476.5 1844.5h0M1474.5 1847.5h0M1451.5 1826.5h0M1448.5 1824.5h0M1426.5 1842.5h0M1461.5 1828.5h0M1451.5 1828.5h0M1443.5 1829.5h0M1426.5 1844.5h0M1433.5 1833.5h0M1430.5 1838.5h0M1451.5 1824.5h0M1444.5 1826.5h0M1440.5 1825.5h0M1451.5 1826.5h0M1516.5 1829.5h0M1451.5 1831.5h0" stroke="#004cff" stroke-width="1.5" stroke-linecap="square"/>
<path d="M1495.5 1838.5h0M1428.5 1846.5h0M1441.5 1830.5h0M1456.5 1849.5h0M1461.5 1835.5h0M1471.5 1843.5h0M1463.5 1835.5h0M1485.5 1839.5h0M1461.5 1848.5h0M1474.5 1840.5h0M1473.5 1841.5h0M1437.5 1833.5h0M1477.5 1836.5h0M1457.5 1847.5h0M1504.5 1843.5h0M1501.5 1832.5h0M1504.5 1831.5h0M1514.5 1830.5h0M1493.5 1833.5h0M1428.5 1847.5h0M1499.5 1831.5h0M1502.5 1832.5h0M1519.5 1841.5h0M1485.5 1838.5h0M1475.5 1839.5h0M1462.5 1849.5h0M1436.5 1833.5h0M1495.5 1838.5h0M1511.5 1843.5h0M1460.5 1834.5h0M1494.5 1832.5h0M1517.5 1841.5h0M1511.5 1844.5h0M1510.5 1843.5h0M1497.5 1837.5h0M1492.5 1833.5h0M1459.5 1828.5h0M1516.5 1840.5h0M1474.5 1840.5h0M1480.5 1839.5h0M1505.5 1829.5h0M1458.5 1828.5h0M1498.5 1842.5h0M1504.5 1842.5h0M1498.5 1842.5h0M1484.5 1838.5h0M1458.5 1851.5h0M1461.5 1835.5h0M1496.5 1839.5h0M1499.5 1838.5h0M1450.5 1849.5h0M1474.5 1840.5h0M1435.5 1835.5h0M1517.5 1841.5h0M1444.5 1834.5h0M1457.5 1847.5h0M1482.5 1837.5h0M1493.5 1830.5h0M1514.5 1831.5h0M1506.5 1830.5h0M1510.5 1843.5h0M1514.5 1830.5h0M1503.5 1832.5h0M1517.5 1833.5h0M1520.5 1841.5h0M1514.5 1842.5h0M1472.5 1836.5h0M1497.5 1842.5h0M1456.5 1851.5h0M1482.5 1840.5h0M1478.5 1836.5h0M1493.5 1833.5h0M1481.5 1839.5h0M1451.5 1832.5h0M1479.5 1836.5h0M1474.5 1838.5h0M1507.5 1831.5h0M1496.5 1838.5h0M1494.5 1837.5h0M1497.5 1839.5h0M1504.5 1831.5h0M1433.5 1838.5h0M1465.5 1849.5h0M1471.5 1843.5h0M1449.5 1848.5h0M1458.5 1828.5h0M1475.5 1841.5h0M1478.5 1839.5h0M1471.5 1847.5h0M1455.5 1849.5h0M1455.5 1851.5h0M1456.5 1846.5h0M1472.5 1836.5h0M1466.5 1836.5h0M1473.5 1843.5h0M1462.5 1835.5h0M1465.5 1849.5h0M1435.5 1833.5h0M1470.5 1847.5h0M1483.5 1839.5h0M1495.5 1836.5h0M1476.5 1841.5h0M1473.5 1848.5h0M1458.5 1830.5h0M1485.5 1837.5h0M1478.5 1837.5h0M1457.5 1830.5h0M1461.5 1834.5h0M1443.5 1850.5h0M1477.5 1839.5h0M1452.5 1830.5h0M1428.5 1848.5h0" stroke="#007fff" stroke-width="1.5" stroke-linecap="square"/>
<path d="M1518.5 1838.5h0M1497.5 1836.5h0M1518.5 1838.5h0M1499.5 1833.5h0M1515.5 1837.5h0M1497.5 1833.5h0M1504.5 1832.5h0M1461.5 1847.5h0M1470.5 1839.5h0M1445.5 1836.5h0M1460.5 1848.5h0M1439.5 1833.5h0M1439.5 1836.5h0M1468.5 1838.5h0M1517.5 1832.5h0M1498.5 1835.5h0M1432.5 1839.5h0M1472.5 1841.5h0M1432.5 1839.5h0M1465.5 1846.5h0M1465.5 1846.5h0M1513.5 1831.5h0M1513.5 1829.5h0M1513.5 1830.5h0M1516.5 1835.5h0M1512.5 1835.5h0M1507.5 1829.5h0M1513.5 1836.5h0M1519.5 1839.5h0M1442.5 1832.5h0M1463.5 1846.5h0M1447.5 1849.5h0M1447.5 1848.5h0M1464.5 1837.5h0M1469.5 1844.5h0M1434.5 1839.5h0M1468.5 1847.5h0M1465.5 1846.5h0M1518.5 1839.5h0M1519.5 1834.5h0M1497.5 1832.5h0M1509.5 1834.5h0M1508.5 1841.5h0M1514.5 1838.5h0M1520.5 1838.5h0M1440.5 1852.5h0M1431.5 1852.5h0M1463.5 1847.5h0M1511.5 1830.5h0M1513.5 1837.5h0M1509.5 1833.5h0M1512.5 1837.5h0M1516.5 1835.5h0M1497.5 1840.5h0M1511.5 1833.5h0M1450.5 1847.5h0M1460.5 1848.5h0M1515.5 1838.5h0M1510.5 1833.5h0M1518.5 1836.5h0M1511.5 1839.5h0M1521.5 1839.5h0M1512.5 1831.5h0M1468.5 1846.5h0M1511.5 1830.5h0M1504.5 1833.5h0M1508.5 1828.5h0M1509.5 1840.5h0M1458.5 1834.5h0M1469.5 1838.5h0M1458.5 1832.5h0M1509.5 1833.5h0M1470.5 1838.5h0M1515.5 1835.5h0M1499.5 1843.5h0M1512.5 1838.5h0M1510.5 1831.5h0M1497.5 1831.5h0M1518.5 1836.5h0M1509.5 1836.5h0M1516.5 1835.5h0M1514.5 1837.5h0M1498.5 1833.5h0M1469.5 1839.5h0M1449.5 1836.5h0M1441.5 1833.5h0M1458.5 1835.5h0M1470.5 1840.5h0M1460.5 1847.5h0M1507.5 1831.5h0M1515.5 1834.5h0M1518.5 1834.5h0M1510.5 1833.5h0M1495.5 1832.5h0M1507.5 1828.5h0M1518.5 1839.5h0M1453.5 1834.5h0M1438.5 1834.5h0M1453.5 1847.5h0M1471.5 1839.5h0M1498.5 1836.5h0M1511.5 1830.5h0M1514.5 1839.5h0M1498.5 1833.5h0M1520.5 1837.5h0M1437.5 1836.5h0M1452.5 1846.5h0M1472.5 1840.5h0M1457.5 1834.5h0M1440.5 1833.5h0M1446.5 1837.5h0M1463.5 1846.5h0M1454.5 1828.5h0M1455.5 1828.5h0M1437.5 1837.5h0M1454.5 1830.5h0M1458.5 1848.5h0M1471.5 1843.5h0M1457.5 1848.5h0M1453.5 1846.5h0M1508.5 1840.5h0M1465.5 1837.5h0M1469.5 1842.5h0M1453.5 1830.5h0M1497.5 1833.5h0M1449.5 1835.5h0M1458.5 1847.5h0M1452.5 1830.5h0M1456.5 1829.5h0M1432.5 1838.5h0M1449.5 1837.5h0M1456.5 1829.5h0M1454.5 1829.5h0M1440.5 1832.5h0M1459.5 1833.5h0M1509.5 1841.5h0M1460.5 1846.5h0M1452.5 1833.5h0M1459.5 1847.5h0M1507.5 1833.5h0M1516.5 1832.5h0M1513.5 1837.5h0M1498.5 1833.5h0M1501.5 1842.5h0M1506.5 1833.5h0M1439.5 1851.5h0M1517.5 1835.5h0M1511.5 1841.5h0M1470.5 1843.5h0M1429.5 1842.5h0M1456.5 1829.5h0M1517.5 1833.5h0M1434.5 1838.5h0M1433.5 1850.5h0M1496.5 1830.5h0M1513.5 1840.5h0M1506.5 1840.5h0M1450.5 1836.5h0M1471.5 1838.5h0M1467.5 1838.5h0M1452.5 1846.5h0M1452.5 1834.5h0M1513.5 1828.5h0M1437.5 1837.5h0M1451.5 1833.5h0M1457.5 1848.5h0" stroke="#00b2ff" stroke-width="1.5" stroke-linecap="square"/>
<path d="M1440.5 1837.5h0M1460.5 1844.5h0M1501.5 1836.5h0M1503.5 1840.5h0M1453.5 1833.5h0M1504.5 1841.5h0M1499.5 1834.5h0M1509.5 1838.5h0M1504.5 1841.5h0M1503.5 1840.5h0M1452.5 1835.5h0M1461.5 1836.5h0M1463.5 1846.5h0M1456.5 1830.5h0M1466.5 1844.5h0M1507.5 1835.5h0M1431.5 1840.5h0M1505.5 1835.5h0M1501.5 1841.5h0M1515.5 1837.5h0M1441.5 1835.5h0M1445.5 1838.5h0M1441.5 1836.5h0M1441.5 1836.5h0M1458.5 1843.5h0M1509.5 1838.5h0M1467.5 1845.5h0M1469.5 1843.5h0M1469.5 1843.5h0M1468.5 1843.5h0M1442.5 1835.5h0M1468.5 1844.5h0M1444.5 1837.5h0M1460.5 1836.5h0M1461.5 1837.5h0M1428.5 1845.5h0M1428.5 1844.5h0M1429.5 1845.5h0M1445.5 1849.5h0M1499.5 1840.5h0M1456.5 1835.5h0M1442.5 1834.5h0M1461.5 1845.5h0M1437.5 1851.5h0M1445.5 1836.5h0M1469.5 1844.5h0M1501.5 1834.5h0M1507.5 1835.5h0M1466.5 1844.5h0M1507.5 1838.5h0M1456.5 1834.5h0M1510.5 1837.5h0M1461.5 1837.5h0M1456.5 1831.5h0M1503.5 1835.5h0M1511.5 1839.5h0M1465.5 1839.5h0M1465.5 1839.5h0M1468.5 1845.5h0M1446.5 1848.5h0M1469.5 1842.5h0M1463.5 1845.5h0M1509.5 1840.5h0M1464.5 1840.5h0M1456.5 1834.5h0M1464.5 1839.5h0M1436.5 1851.5h0M1440.5 1834.5h0M1500.5 1841.5h0M1507.5 1838.5h0M1506.5 1836.5h0M1502.5 1834.5h0M1457.5 1834.5h0M1467.5 1838.5h0M1505.5 1841.5h0M1502.5 1841.5h0M1511.5 1840.5h0M1500.5 1838.5h0M1436.5 1850.5h0M1457.5 1837.5h0M1452.5 1835.5h0M1435.5 1850.5h0M1454.5 1833.5h0M1470.5 1840.5h0M1453.5 1835.5h0M1458.5 1843.5h0M1458.5 1844.5h0M1464.5 1838.5h0M1457.5 1842.5h0M1501.5 1837.5h0M1457.5 1834.5h0M1457.5 1843.5h0M1439.5 1837.5h0M1507.5 1835.5h0M1500.5 1840.5h0M1441.5 1837.5h0M1446.5 1849.5h0M1456.5 1830.5h0M1457.5 1838.5h0M1500.5 1842.5h0M1439.5 1836.5h0M1463.5 1844.5h0M1469.5 1844.5h0M1456.5 1839.5h0M1441.5 1834.5h0M1456.5 1832.5h0M1429.5 1841.5h0M1435.5 1851.5h0" stroke="#00e5ff" stroke-width="1.5" stroke-linecap="square"/>
<path d="M1506.5 1837.5h0M1447.5 1847.5h0M1463.5 1845.5h0M1455.5 1835.5h0M1445.5 1838.5h0M1455.5 1834.5h0M1454.5 1845.5h0M1454.5 1838.5h0M1453.5 1837.5h0M1450.5 1845.5h0M1461.5 1843.5h0M1430.5 1848.5h0M1450.5 1844.5h0M1452.5 1845.5h0M1507.5 1839.5h0M1448.5 1847.5h0M1458.5 1841.5h0M1451.5 1838.5h0M1506.5 1837.5h0M1456.5 1843.5h0M1443.5 1849.5h0M1460.5 1839.5h0M1464.5 1844.5h0M1459.5 1838.5h0M1460.5 1839.5h0M1465.5 1843.5h0M1454.5 1839.5h0M1454.5 1842.5h0M1454.5 1834.5h0M1443.5 1839.5h0M1468.5 1840.5h0M1439.5 1839.5h0M1466.5 1843.5h0M1456.5 1838.5h0M1449.5 1839.5h0M1454.5 1843.5h0M1444.5 1838.5h0M1506.5 1838.5h0M1503.5 1836.5h0M1454.5 1843.5h0M1459.5 1839.5h0M1455.5 1845.5h0M1449.5 1846.5h0M1439.5 1838.5h0M1465.5 1845.5h0M1501.5 1837.5h0M1506.5 1838.5h0M1503.5 1837.5h0M1504.5 1834.5h0M1507.5 1836.5h0M1437.5 1840.5h0M1454.5 1835.5h0M1466.5 1842.5h0M1507.5 1837.5h0M1501.5 1840.5h0M1503.5 1835.5h0M1455.5 1842.5h0M1455.5 1843.5h0M1466.5 1840.5h0M1458.5 1841.5h0M1508.5 1836.5h0M1452.5 1839.5h0M1438.5 1838.5h0M1441.5 1839.5h0M1452.5 1838.5h0M1452.5 1845.5h0M1454.5 1842.5h0M1452.5 1836.5h0M1454.5 1838.5h0M1455.5 1839.5h0M1460.5 1842.5h0M1464.5 1843.5h0M1429.5 1842.5h0M1466.5 1840.5h0M1454.5 1843.5h0M1460.5 1843.5h0M1456.5 1836.5h0M1454.5 1844.5h0M1452.5 1844.5h0M1454.5 1845.5h0M1469.5 1841.5h0M1469.5 1841.5h0M1442.5 1838.5h0M1451.5 1844.5h0M1453.5 1842.5h0M1507.5 1836.5h0M1503.5 1835.5h0M1502.5 1839.5h0M1506.5 1838.5h0M1445.5 1839.5h0M1442.5 1849.5h0M1467.5 1842.5h0M1444.5 1848.5h0M1503.5 1836.5h0M1503.5 1839.5h0M1456.5 1843.5h0M1457.5 1842.5h0M1454.5 1838.5h0M1449.5 1846.5h0M1439.5 1839.5h0M1502.5 1839.5h0M1431.5 1842.5h0M1454.5 1842.5h0M1505.5 1838.5h0M1502.5 1839.5h0M1460.5 1839.5h0M1429.5 1842.5h0M1429.5 1842.5h0M1430.5 1843.5h0M1430.5 1843.5h0M1458.5 1839.5h0M1441.5 1838.5h0M1452.5 1838.5h0M1440.5 1838.5h0M1450.5 1838.5h0M1430.5 1842.5h0M1438.5 1839.5h0" stroke="#19ffe5" stroke-width="1.5" stroke-linecap="square"/>
<path d="M1464.5 1840.5h0M1432.5 1840.5h0M1462.5 1838.5h0M1449.5 1838.5h0M1463.5 1838.5h0M1432.5 1849.5h0M1454.5 1836.5h0M1432.5 1849.5h0M1505.5 1837.5h0M1464.5 1841.5h0M1463.5 1842.5h0M1503.5 1838.5h0M1461.5 1841.5h0M1462.5 1842.5h0M1446.5 1847.5h0M1453.5 1840.5h0M1462.5 1842.5h0M1446.5 1846.5h0M1456.5 1840.5h0M1446.5 1838.5h0M1454.5 1837.5h0M1447.5 1839.5h0M1446.5 1839.5h0M1459.5 1841.5h0M1447.5 1839.5h0M1430.5 1847.5h0M1446.5 1846.5h0M1449.5 1842.5h0M1450.5 1843.5h0M1463.5 1841.5h0M1446.5 1848.5h0M1430.5 1846.5h0M1459.5 1840.5h0M1504.5 1839.5h0M1505.5 1838.5h0M1453.5 1837.5h0M1462.5 1842.5h0M1452.5 1841.5h0M1431.5 1847.5h0M1445.5 1838.5h0M1456.5 1840.5h0M1452.5 1841.5h0M1451.5 1841.5h0M1460.5 1840.5h0M1447.5 1846.5h0M1433.5 1841.5h0M1505.5 1836.5h0M1432.5 1849.5h0M1464.5 1841.5h0M1432.5 1850.5h0M1463.5 1838.5h0M1430.5 1846.5h0M1505.5 1838.5h0M1463.5 1841.5h0M1430.5 1847.5h0M1505.5 1837.5h0M1454.5 1837.5h0M1450.5 1842.5h0M1456.5 1841.5h0M1453.5 1837.5h0M1463.5 1843.5h0M1460.5 1840.5h0M1452.5 1840.5h0M1452.5 1842.5h0M1456.5 1840.5h0M1449.5 1839.5h0M1452.5 1843.5h0M1445.5 1847.5h0" stroke="#4cffb2" stroke-width="1.5" stroke-linecap="square"/>
<path d="M1441.5 1841.5h0M1434.5 1849.5h0M1450.5 1841.5h0M1440.5 1841.5h0M1461.5 1840.5h0M1432.5 1847.5h0M1436.5 1849.5h0M1432.5 1846.5h0M1434.5 1848.5h0M1443.5 1842.5h0M1445.5 1847.5h0M1431.5 1847.5h0M1443.5 1846.5h0M1435.5 1848.5h0M1451.5 1840.5h0M1432.5 1847.5h0M1439.5 1841.5h0M1433.5 1844.5h0M1440.5 1848.5h0M1433.5 1846.5h0M1432.5 1846.5h0M1445.5 1848.5h0M1441.5 1841.5h0M1437.5 1849.5h0M1450.5 1842.5h0M1431.5 1843.5h0M1445.5 1840.5h0M1440.5 1848.5h0M1462.5 1840.5h0M1444.5 1846.5h0M1441.5 1840.5h0M1433.5 1848.5h0M1431.5 1842.5h0M1432.5 1847.5h0M1445.5 1840.5h0M1444.5 1846.5h0M1461.5 1840.5h0M1432.5 1847.5h0M1436.5 1848.5h0M1432.5 1846.5h0M1462.5 1842.5h0M1463.5 1841.5h0M1439.5 1841.5h0M1432.5 1842.5h0M1431.5 1842.5h0M1439.5 1848.5h0M1444.5 1846.5h0M1435.5 1848.5h0M1433.5 1846.5h0M1433.5 1842.5h0M1443.5 1841.5h0" stroke="#7fff7f" stroke-width="1.5" stroke-linecap="square"/>
<path d="M1444.5 1843.5h0M1439.5 1848.5h0M1448.5 1840.5h0M1431.5 1845.5h0M1437.5 1848.5h0M1443.5 1843.5h0M1448.5 1840.5h0M1437.5 1849.5h0M1443.5 1843.5h0M1449.5 1840.5h0M1436.5 1842.5h0M1435.5 1841.5h0M1438.5 1849.5h0M1438.5 1848.5h0M1448.5 1840.5h0M1449.5 1841.5h0M1448.5 1840.5h0M1448.5 1843.5h0M1449.5 1844.5h0M1443.5 1843.5h0M1447.5 1841.5h0M1448.5 1840.5h0M1447.5 1843.5h0M1437.5 1841.5h0M1448.5 1842.5h0M1434.5 1841.5h0M1448.5 1843.5h0M1444.5 1843.5h0M1449.5 1844.5h0M1437.5 1841.5h0M1435.5 1841.5h0M1439.5 1848.5h0M1449.5 1842.5h0M1448.5 1840.5h0M1448.5 1840.5h0M1444.5 1842.5h0M1444.5 1843.5h0M1436.5 1841.5h0M1436.5 1841.5h0" stroke="#b2ff4c" stroke-width="1.5" stroke-linecap="square"/>
<path d="M1443.5 1846.5h0M1432.5 1844.5h0M1447.5 1844.5h0M1432.5 1845.5h0M1433.5 1846.5h0M1447.5 1840.5h0M1444.5 1844.5h0M1431.5 1845.5h0M1443.5 1844.5h0M1437.5 1841.5h0M1446.5 1843.5h0M1446.5 1843.5h0M1446.5 1842.5h0M1442.5 1846.5h0M1445.5 1845.5h0M1446.5 1842.5h0M1445.5 1842.5h0M1435.5 1846.5h0M1432.5 1844.5h0M1447.5 1845.5h0M1442.5 1847.5h0M1442.5 1842.5h0M1441.5 1843.5h0M1446.5 1844.5h0M1445.5 1846.5h0M1444.5 1844.5h0M1446.5 1841.5h0M1446.5 1846.5h0M1442.5 1846.5h0M1447.5 1845.5h0M1432.5 1845.5h0M1445.5 1842.5h0M1438.5 1840.5h0M1433.5 1846.5h0M1434.5 1847.5h0M1434.5 1847.5h0M1445.5 1841.5h0M1432.5 1845.5h0M1439.5 1841.5h0M1443.5 1843.5h0M1443.5 1845.5h0M1444.5 1844.5h0" stroke="#e5ff19" stroke-width="1.5" stroke-linecap="square"/>
<path d="M1435.5 1843.5h0M1436.5 1846.5h0M1433.5 1842.5h0M1440.5 1842.5h0M1436.5 1847.5h0M1440.5 1842.5h0M1436.5 1847.5h0M1436.5 1847.5h0M1439.5 1842.5h0M1440.5 1842.5h0M1439.5 1843.5h0M1435.5 1843.5h0M1433.5 1842.5h0M1436.5 1846.5h0M1440.5 1843.5h0M1439.5 1842.5h0M1436.5 1847.5h0M1434.5 1843.5h0" stroke="#ffe500" stroke-width="1.5" stroke-linecap="square"/>
<path d="M1437.5 1843.5h0M1440.5 1847.5h0M1439.5 1847.5h0M1439.5 1846.5h0M1441.5 1846.5h0M1439.5 1848.5h0M1442.5 1844.5h0M1440.5 1847.5h0M1440.5 1848.5h0M1440.5 1847.5h0M1436.5 1842.5h0M1436.5 1843.5h0M1437.5 1847.5h0M1439.5 1847.5h0M1441.5 1846.5h0M1436.5 1842.5h0M1435.5 1843.5h0M1442.5 1844.5h0M1437.5 1843.5h0M1439.5 1846.5h0M1439.5 1847.5h0M1439.5 1847.5h0M1442.5 1844.5h0M1436.5 1842.5h0M1440.5 1847.5h0M1442.5 1844.5h0M1438.5 1846.5h0M1436.5 1844.5h0M1436.5 1843.5h0M1437.5 1843.5h0M1438.5 1847.5h0M1437.5 1846.5h0M1435.5 1842.5h0M1441.5 1845.5h0M1435.5 1844.5h0M1435.5 1844.5h0M1436.5 1843.5h0M1442.5 1846.5h0M1435.5 1842.5h0" stroke="#ffb200" stroke-width="1.5" stroke-linecap="square"/>
<path d="M1439.5 1845.5h0M1437.5 1843.5h0M1441.5 1844.5h0M1440.5 1845.5h0M1434.5 1844.5h0M1433.5 1845.5h0M1439.5 1845.5h0M1437.5 1843.5h0M1434.5 1845.5h0M1433.5 1844.5h0M1440.5 1844.5h0M1439.5 1844.5h0M1440.5 1844.5h0M1437.5 1843.5h0M1439.5 1844.5h0M1437.5 1842.5h0M1438.5 1843.5h0M1440.5 1844.5h0M1438.5 1843.5h0M1438.5 1843.5h0M1438.5 1843.5h0M1433.5 1846.5h0" stroke="#ff7f00" stroke-width="1.5" stroke-linecap="square"/>
<path d="M1437.5 1844.5h0M1436.5 1844.5h0M1435.5 1844.5h0M1435.5 1845.5h0M1437.5 1844.5h0" stroke="#ff4c00" stroke-width="1.5" stroke-linecap="square"/>
<path d="M1438.5 1844.5h0M1438.5 1845.5h0M1437.5 1844.5h0M1439.5 1844.5h0M1438.5 1845.5h0M1438.5 1845.5h0M1437.5 1845.5h0M1438.5 1845.5h0M1437.5 1845.5h0" stroke="#e50000" stroke-width="1.5" stroke-linecap="square"/>
<line x1="1485.4" y1="1717.6" x2="1485.4" y2="1868.3" stroke="#000" stroke-width="1.5"/>
<line x1="1411" y1="1801" x2="1584" y2="1801" stroke="#000" stroke-width="1.5"/>
<path d="M1411 1717.6H1584" fill="none" stroke="#bbb" stroke-width="1"/>
<path d="M1411 1717.6V1868.3H1584V1717.6" fill="none" stroke="#333" stroke-width="1"/>
<path d="M1407.5 1732.2H1411M1409 1742.7H1411M1409 1748.8H1411M1409 1753.1H1411M1409 1756.4H1411M1409 1759.2H1411M1409 1761.5H1411M1409 1763.5H1411M1409 1765.3H1411M1407.5 1766.1H1411M1409 1776.6H1411M1409 1782.7H1411M1409 1787H1411M1409 1790.4H1411M1409 1793.1H1411M1409 1795.4H1411M1409 1797.4H1411M1409 1799.2H1411M1407.5 1802.7H1411M1409 1813.2H1411M1409 1819.3H1411M1409 1823.6H1411M1409 1827H1411M1409 1829.7H1411M1409 1832H1411M1409 1834H1411M1409 1835.8H1411M1408.5 1838H1411M1408.5 1842H1411M1408.5 1845H1411M1408.5 1847H1411M1408.5 1848H1411M1408.5 1849H1411M1408.5 1851H1411M1408.5 1854H1411M1408.5 1858H1411M1408.5 1863H1411M1489.9 1868.3V1871.8M1461.5 1868.3V1870.3M1468.6 1868.3V1870.3M1473.7 1868.3V1870.3M1477.6 1868.3V1870.3M1480.9 1868.3V1870.3M1483.6 1868.3V1870.3M1485.9 1868.3V1870.3M1488 1868.3V1870.3M1531.2 1868.3V1871.8M1502.8 1868.3V1870.3M1510 1868.3V1870.3M1515.1 1868.3V1870.3M1519 1868.3V1870.3M1522.2 1868.3V1870.3M1524.9 1868.3V1870.3M1527.3 1868.3V1870.3M1529.4 1868.3V1870.3M1571 1868.3V1871.8M1542.6 1868.3V1870.3M1549.8 1868.3V1870.3M1554.8 1868.3V1870.3M1558.8 1868.3V1870.3M1562 1868.3V1870.3M1564.7 1868.3V1870.3M1567.1 1868.3V1870.3M1569.2 1868.3V1870.3M1423.1 1868.3V1870.8M1427.1 1868.3V1870.8M1430.1 1868.3V1870.8M1432.1 1868.3V1870.8M1434.1 1868.3V1870.8M1436.1 1868.3V1870.8M1437.1 1868.3V1870.8M1438.1 1868.3V1870.8M1440.1 1868.3V1870.8M1442.1 1868.3V1870.8M1445.1 1868.3V1870.8M1449.1 1868.3V1870.8" stroke="#333" stroke-width="0.8" fill="none"/>
<text x="1403" y="1734.7" font-size="6.5" text-anchor="end" fill="#333">10<tspan font-size="5" dy="-3">5</tspan></text>
<text x="1403" y="1768.6" font-size="6.5" text-anchor="end" fill="#333">10<tspan font-size="5" dy="-3">4</tspan></text>
<text x="1403" y="1805.2" font-size="6.5" text-anchor="end" fill="#333">10<tspan font-size="5" dy="-3">3</tspan></text>
<text x="1403" y="1850.5" font-size="6.5" text-anchor="end" fill="#333">0</text>
<text x="1437.1" y="1881.3" font-size="6.5" text-anchor="middle" fill="#333">0</text>
<text x="1489.9" y="1881.3" font-size="6.5" text-anchor="middle" fill="#333">10<tspan font-size="5" dy="-3">3</tspan></text>
<text x="1531.2" y="1881.3" font-size="6.5" text-anchor="middle" fill="#333">10<tspan font-size="5" dy="-3">4</tspan></text>
<text x="1571" y="1881.3" font-size="6.5" text-anchor="middle" fill="#333">10<tspan font-size="5" dy="-3">5</tspan></text>
<line x1="1194.6" y1="1547.3" x2="1194.6" y2="1891.2" stroke="#000" stroke-width="2.2"/>
<line x1="1193.5" y1="1890.2" x2="1597.7" y2="1890.2" stroke="#000" stroke-width="2.2"/>
<text font-size="28" font-weight="bold" text-anchor="middle" transform="translate(1308.1 1538.7) scale(1 1.04)">DMSO</text>
<text font-size="28" font-weight="bold" text-anchor="middle" transform="translate(1511 1536) scale(1 1.04)">DEVD</text>
<text font-size="28" font-weight="bold" transform="translate(1615.3 1630.7)">Normal</text>
<text font-size="28" font-weight="bold" transform="translate(1615.3 1797.8) scale(1 1.04)">DC-517</text>
<text font-size="28.5" font-weight="bold" text-anchor="middle" transform="translate(1177.9 1719) rotate(-90) scale(1 1.04)">7AAD</text>
<text font-size="28.4" font-weight="bold" text-anchor="middle" transform="translate(1397.1 1921.5)">Annexin V</text>
</svg></body></html>
